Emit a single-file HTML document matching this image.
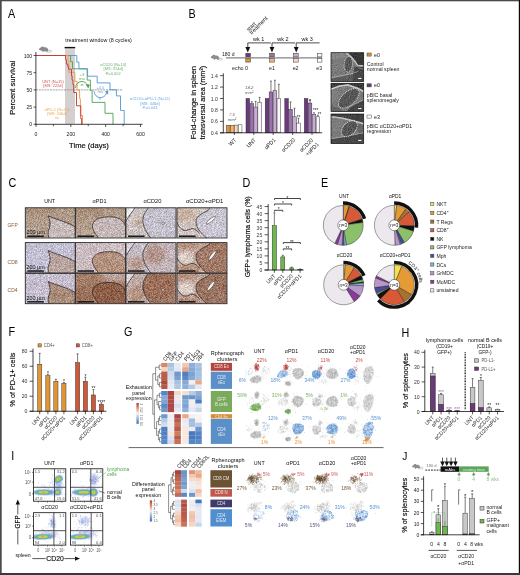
<!DOCTYPE html>
<html><head><meta charset="utf-8"><title>Figure</title>
<style>
html,body{margin:0;padding:0;background:#fff;}
body{width:520px;height:575px;overflow:hidden;}
svg{display:block;font-family:"Liberation Sans",sans-serif;}
</style></head><body>
<svg width="520" height="575" viewBox="0 0 520 575">
<defs><clipPath id="us0"><rect x="331" y="52.7" width="32.7" height="28.8"/></clipPath>
<linearGradient id="usg0" x1="0" y1="0" x2="0" y2="1"><stop offset="0" stop-color="#9a9a9a"/><stop offset="0.35" stop-color="#6c6c6c"/><stop offset="1" stop-color="#4a4a4a"/></linearGradient>
<clipPath id="us1"><rect x="331" y="83.3" width="32.7" height="28.3"/></clipPath>
<linearGradient id="usg1" x1="0" y1="0" x2="0" y2="1"><stop offset="0" stop-color="#9a9a9a"/><stop offset="0.35" stop-color="#6c6c6c"/><stop offset="1" stop-color="#4a4a4a"/></linearGradient>
<clipPath id="us2"><rect x="331" y="114" width="32.7" height="29.5"/></clipPath>
<linearGradient id="usg2" x1="0" y1="0" x2="0" y2="1"><stop offset="0" stop-color="#9a9a9a"/><stop offset="0.35" stop-color="#6c6c6c"/><stop offset="1" stop-color="#4a4a4a"/></linearGradient>
<filter id="usn" x="0" y="0" width="1" height="1" color-interpolation-filters="sRGB"><feTurbulence type="fractalNoise" baseFrequency="0.95" numOctaves="2" seed="3" result="n"/><feColorMatrix in="n" type="matrix" values="0.3 0 0 0 0.35  0.3 0 0 0 0.35  0.3 0 0 0 0.35  0 0 0 0 1" result="g"/><feComposite in="SourceGraphic" in2="g" operator="arithmetic" k1="0" k2="1" k3="1" k4="-0.5"/></filter>
<filter id="usnoise" x="0" y="0" width="1" height="1"><feTurbulence type="fractalNoise" baseFrequency="0.9" numOctaves="2" seed="3"/><feColorMatrix type="matrix" values="1.6 0 0 0 -0.3  1.6 0 0 0 -0.3  1.6 0 0 0 -0.3  0 0 0 0 0.55"/><feComposite in2="SourceGraphic" operator="in"/></filter>
<clipPath id="tileclip"><rect x="0" y="0" width="50" height="30"/></clipPath>
<clipPath id="reg2"><path d="M23.3 -1 C19 4 16.6 8.5 16.9 13 C17.2 19 20 24 25.6 31 L51 31 L51 -1 Z"/></clipPath>
<filter id="blur2" x="-0.5" y="-0.5" width="2" height="2"><feGaussianBlur stdDeviation="2.2"/></filter>
<filter id="tn0" x="0" y="0" width="1" height="1" color-interpolation-filters="sRGB"><feTurbulence type="fractalNoise" baseFrequency="1.5" numOctaves="1" seed="5" result="n"/><feColorMatrix in="n" type="matrix" values="0.5 0 0 0 0.25  0.58 0 0 0 0.21  0.64 0 0 0 0.18  0 0 0 0 1" result="g"/><feComposite in="SourceGraphic" in2="g" operator="arithmetic" k1="0" k2="1" k3="1" k4="-0.5"/></filter>
<filter id="tn1" x="0" y="0" width="1" height="1" color-interpolation-filters="sRGB"><feTurbulence type="fractalNoise" baseFrequency="1.5" numOctaves="1" seed="11" result="n"/><feColorMatrix in="n" type="matrix" values="0.5 0 0 0 0.25  0.58 0 0 0 0.21  0.64 0 0 0 0.18  0 0 0 0 1" result="g"/><feComposite in="SourceGraphic" in2="g" operator="arithmetic" k1="0" k2="1" k3="1" k4="-0.5"/></filter>
<filter id="tn2" x="0" y="0" width="1" height="1" color-interpolation-filters="sRGB"><feTurbulence type="fractalNoise" baseFrequency="1.5" numOctaves="1" seed="23" result="n"/><feColorMatrix in="n" type="matrix" values="0.5 0 0 0 0.25  0.58 0 0 0 0.21  0.64 0 0 0 0.18  0 0 0 0 1" result="g"/><feComposite in="SourceGraphic" in2="g" operator="arithmetic" k1="0" k2="1" k3="1" k4="-0.5"/></filter>
<clipPath id="fc0"><rect x="33.5" y="468.8" width="32.3" height="32.4"/></clipPath>
<clipPath id="fc1"><rect x="70.5" y="468.8" width="32.3" height="32.4"/></clipPath>
<clipPath id="fc2"><rect x="33.5" y="512.7" width="32.3" height="32.4"/></clipPath>
<clipPath id="fc3"><rect x="70.5" y="512.7" width="32.3" height="32.4"/></clipPath>
<filter id="blur07" x="-0.3" y="-0.3" width="1.6" height="1.6"><feGaussianBlur stdDeviation="0.6"/></filter>
<filter id="blur05" x="-0.5" y="-0.5" width="2" height="2"><feGaussianBlur stdDeviation="0.55"/></filter>
<filter id="blur1" x="-0.5" y="-0.5" width="2" height="2"><feGaussianBlur stdDeviation="1.2"/></filter>
<linearGradient id="cbar" x1="0" y1="0" x2="0" y2="1"><stop offset="0" stop-color="#a8403a"/><stop offset="0.3" stop-color="#e8a080"/><stop offset="0.5" stop-color="#f4efef"/><stop offset="0.7" stop-color="#9dbbe0"/><stop offset="1" stop-color="#3f6fb8"/></linearGradient></defs>
<rect x="0" y="0" width="520" height="575" fill="#fff"/>
<g id="pa">
<text transform="translate(8 18) scale(0.9 1)" font-size="12" fill="#000">A</text>
<text transform="translate(65.2 41.9) scale(0.98 1)" font-size="5.5" fill="#111">treatment window (8 cycles)</text>
<rect x="64.6" y="46.9" width="10.6" height="1.5" fill="#111"/>
<rect x="65" y="49.2" width="10" height="74.6" fill="#d5d0d0"/>
<g transform="translate(38.7 46) scale(1.03)"><path d="M0.2 3.3 C0.6 2.3 1.4 1.7 2.2 1.5 C2.4 0.6 3.2 0.2 3.8 0.7 C4.3 0.4 4.9 0.6 5 1.3 C6.2 1 7.8 1.3 8.7 2.5 C9.5 3.4 9.4 4.5 8.8 5.2 L8.2 5.6 L6.8 5.6 L6.9 5.0 L5 5.0 L4.6 5.7 L3.4 5.7 L3.6 4.8 C2.6 4.6 2.2 4.3 1.6 4.1 C1 4 0.4 3.9 0.2 3.3 Z" fill="#8a8a8a"/><path d="M8.6 4.7 C10.4 3.7 13 4.2 12.7 5.2 C12.4 6.2 9.6 6.2 8 5.5" fill="none" stroke="#8a8a8a" stroke-width="0.45"/></g>
<line x1="36" y1="89.9" x2="122" y2="89.9" stroke="#888" stroke-width="0.8" stroke-dasharray="2 0.8"/>
<path d="M36 55.5H70.6V61.7H72.5V68.8H87.2V80.1H90.4V90.4H92.1V102.4H105V113.3H113V124.2" fill="none" stroke="#4f9f4f" stroke-width="0.9"/>
<path d="M36 55.5H76.8V62.1H78.95V68.8H87.6V76.2H97.2V82.9H110V89.8H116.4V95.9H120.5V110.5H124.2V124.2" fill="none" stroke="#4f97d7" stroke-width="0.9"/>
<path d="M36 55.5H68V61.7H68.8V72.3H74.9V81.3H77.1V90H79.6V98.7H80.4V115.5H82.5V124.2" fill="none" stroke="#e89a3c" stroke-width="0.9"/>
<path d="M36 55.5H65.6V59.8H66.4V64.1H67.8V66.8H68.6V69.2H71.5V75.8H72.1V80.1H72.9V84.5H73.7V92.5H76.5V105.75H80.8V118.7H81.6V124.2" fill="none" stroke="#c83232" stroke-width="0.9"/>
<line x1="35.9" y1="52" x2="35.9" y2="124.6" stroke="#111" stroke-width="0.8"/>
<line x1="35.5" y1="124.3" x2="142.5" y2="124.3" stroke="#111" stroke-width="0.8"/>
<line x1="33.6" y1="55.5" x2="35.9" y2="55.5" stroke="#111" stroke-width="0.7"/>
<text transform="translate(32.2 57.5) scale(0.9 1)" font-size="5.7" fill="#222" text-anchor="end">100</text>
<line x1="33.6" y1="72.7" x2="35.9" y2="72.7" stroke="#111" stroke-width="0.7"/>
<text transform="translate(32.2 74.7) scale(0.9 1)" font-size="5.7" fill="#222" text-anchor="end">75</text>
<line x1="33.6" y1="89.9" x2="35.9" y2="89.9" stroke="#111" stroke-width="0.7"/>
<text transform="translate(32.2 91.9) scale(0.9 1)" font-size="5.7" fill="#222" text-anchor="end">50</text>
<line x1="33.6" y1="107.1" x2="35.9" y2="107.1" stroke="#111" stroke-width="0.7"/>
<text transform="translate(32.2 109.1) scale(0.9 1)" font-size="5.7" fill="#222" text-anchor="end">25</text>
<line x1="33.6" y1="124.3" x2="35.9" y2="124.3" stroke="#111" stroke-width="0.7"/>
<text transform="translate(32.2 126.3) scale(0.9 1)" font-size="5.7" fill="#222" text-anchor="end">0</text>
<line x1="36" y1="124.3" x2="36" y2="127" stroke="#111" stroke-width="0.7"/>
<text transform="translate(36 136.2) scale(0.9 1)" font-size="5.7" fill="#222" text-anchor="middle">0</text>
<line x1="53.42" y1="124.3" x2="53.42" y2="126.2" stroke="#111" stroke-width="0.7"/>
<line x1="70.84" y1="124.3" x2="70.84" y2="127" stroke="#111" stroke-width="0.7"/>
<text transform="translate(70.84 136.2) scale(0.9 1)" font-size="5.7" fill="#222" text-anchor="middle">200</text>
<line x1="88.26" y1="124.3" x2="88.26" y2="126.2" stroke="#111" stroke-width="0.7"/>
<line x1="105.68" y1="124.3" x2="105.68" y2="127" stroke="#111" stroke-width="0.7"/>
<text transform="translate(105.68 136.2) scale(0.9 1)" font-size="5.7" fill="#222" text-anchor="middle">400</text>
<line x1="123.1" y1="124.3" x2="123.1" y2="126.2" stroke="#111" stroke-width="0.7"/>
<line x1="140.52" y1="124.3" x2="140.52" y2="127" stroke="#111" stroke-width="0.7"/>
<text transform="translate(140.52 136.2) scale(0.9 1)" font-size="5.7" fill="#222" text-anchor="middle">600</text>
<text transform="translate(15.2 87.7) rotate(-90)" font-size="7.6" fill="#111" text-anchor="middle" stroke="#111" stroke-width="0.18">Percent survival</text>
<text transform="translate(89 147.6)" font-size="7.6" fill="#111" text-anchor="middle" stroke="#111" stroke-width="0.18">Time (days)</text>
<text transform="translate(53 82.6) scale(0.98 1)" font-size="4.1" fill="#c83232" text-anchor="middle" opacity="0.85">UNT (N=15)</text><text transform="translate(53 87) scale(0.98 1)" font-size="4.1" fill="#c83232" text-anchor="middle" opacity="0.85">[MS: 222d]</text>
<text transform="translate(57 110.6) scale(0.98 1)" font-size="4.1" fill="#e89a3c" text-anchor="middle" opacity="0.85">αPD-1 (N=12)</text><text transform="translate(57 115) scale(0.98 1)" font-size="4.1" fill="#e89a3c" text-anchor="middle" opacity="0.85">[MS: 246d]</text><text transform="translate(57 119.4) scale(0.98 1)" font-size="4.1" fill="#e89a3c" text-anchor="middle" opacity="0.85">ns</text>
<text transform="translate(113.2 66) scale(0.98 1)" font-size="4.1" fill="#4f9f4f" text-anchor="middle" opacity="0.85">αCD20 (N=10)</text><text transform="translate(113.2 70.4) scale(0.98 1)" font-size="4.1" fill="#4f9f4f" text-anchor="middle" opacity="0.85">[MS: 314d]</text><text transform="translate(113.2 74.8) scale(0.98 1)" font-size="4.1" fill="#4f9f4f" text-anchor="middle" opacity="0.85">P=0.002</text>
<text transform="translate(150 100.2) scale(0.98 1)" font-size="4.1" fill="#4f97d7" text-anchor="middle" opacity="0.85">αCD20+αPD-1 (N=12)</text><text transform="translate(150 104.6) scale(0.98 1)" font-size="4.1" fill="#4f97d7" text-anchor="middle" opacity="0.85">[MS: 446d]</text><text transform="translate(150 109) scale(0.98 1)" font-size="4.1" fill="#4f97d7" text-anchor="middle" opacity="0.85">P=0.043</text>
<text transform="translate(82 76) scale(0.98 1)" font-size="4.4" fill="#4f9f4f" text-anchor="middle" opacity="0.85">+3</text><text transform="translate(82 80.4) scale(0.98 1)" font-size="4.4" fill="#4f9f4f" text-anchor="middle" opacity="0.85">mo</text>
<text transform="translate(82 87.6) scale(0.9 1)" font-size="4.5" fill="#4f9f4f" text-anchor="middle">**</text>
<text transform="translate(100.3 89) scale(0.98 1)" font-size="4.3" fill="#4f97d7" text-anchor="middle" opacity="0.85">+4.5</text><text transform="translate(100.3 93.4) scale(0.98 1)" font-size="4.3" fill="#4f97d7" text-anchor="middle" opacity="0.85">mo</text>
<text transform="translate(99.8 101.8) scale(0.9 1)" font-size="5" fill="#4f97d7" text-anchor="middle">*</text>
<path d="M75.6 88 C75.8 80 86 79.5 87.6 86" fill="none" stroke="#4f9f4f" stroke-width="0.9"/>
<path d="M85.6 84.2 L89.8 84.6 L88.3 88.6 Z" fill="#4f9f4f"/>
<path d="M94 91 C95 99.4 104.4 99.6 106.8 92.8" fill="none" stroke="#4f97d7" stroke-width="0.9"/>
<path d="M104.8 91.6 L108.3 90.4 L108 94.6 Z" fill="#4f97d7"/>
</g>
<g id="pb">
<text transform="translate(188.6 17.8) scale(0.9 1)" font-size="12" fill="#000">B</text>
<g transform="translate(210.4 54.3) scale(0.96)"><path d="M0.2 3.3 C0.6 2.3 1.4 1.7 2.2 1.5 C2.4 0.6 3.2 0.2 3.8 0.7 C4.3 0.4 4.9 0.6 5 1.3 C6.2 1 7.8 1.3 8.7 2.5 C9.5 3.4 9.4 4.5 8.8 5.2 L8.2 5.6 L6.8 5.6 L6.9 5.0 L5 5.0 L4.6 5.7 L3.4 5.7 L3.6 4.8 C2.6 4.6 2.2 4.3 1.6 4.1 C1 4 0.4 3.9 0.2 3.3 Z" fill="#8d8d8d"/><path d="M8.6 4.7 C10.4 3.7 13 4.2 12.7 5.2 C12.4 6.2 9.6 6.2 8 5.5" fill="none" stroke="#8d8d8d" stroke-width="0.45"/></g>
<text transform="translate(222 55.5) scale(0.92 1)" font-size="5.5" fill="#222">180 d</text>
<line x1="226.4" y1="57.9" x2="246" y2="57.9" stroke="#333" stroke-width="1.1" stroke-dasharray="1.2 0.8"/>
<line x1="246" y1="57.9" x2="322" y2="57.9" stroke="#666" stroke-width="1"/>
<rect x="245.8" y="53.3" width="4.6" height="3.6" fill="#6b3a7d" stroke="#333" stroke-width="0.5"/>
<rect x="245.8" y="58.6" width="4.6" height="3.5" fill="#e0913a" stroke="#333" stroke-width="0.5"/>
<rect x="269.7" y="53.3" width="4.6" height="3.6" fill="#9a70ad" stroke="#333" stroke-width="0.5"/>
<rect x="269.7" y="58.6" width="4.6" height="3.5" fill="#f0b472" stroke="#333" stroke-width="0.5"/>
<rect x="293.6" y="53.3" width="4.6" height="3.6" fill="#c9abd6" stroke="#333" stroke-width="0.5"/>
<rect x="293.6" y="58.6" width="4.6" height="3.5" fill="#f8dab4" stroke="#333" stroke-width="0.5"/>
<rect x="317.3" y="53.3" width="4.6" height="3.6" fill="#fbf6fb" stroke="#333" stroke-width="0.5"/>
<rect x="317.3" y="58.6" width="4.6" height="3.5" fill="#ffffff" stroke="#333" stroke-width="0.5"/>
<path d="M247.8 48 V42.9 H270.8" fill="none" stroke="#111" stroke-width="0.75"/>
<path d="M245.4 47 L250.2 47 L247.8 52.6 Z" fill="#111"/>
<text transform="translate(258.7 40.5) scale(0.95 1)" font-size="5.8" fill="#111" text-anchor="middle">wk 1</text>
<path d="M272 48 V42.9 H295" fill="none" stroke="#111" stroke-width="0.75"/>
<path d="M269.6 47 L274.4 47 L272 52.6 Z" fill="#111"/>
<text transform="translate(282.9 40.5) scale(0.95 1)" font-size="5.8" fill="#111" text-anchor="middle">wk 2</text>
<path d="M296.2 48 V42.9 H319.6" fill="none" stroke="#111" stroke-width="0.75"/>
<path d="M293.8 47 L298.6 47 L296.2 52.6 Z" fill="#111"/>
<text transform="translate(307.1 40.5) scale(0.95 1)" font-size="5.8" fill="#111" text-anchor="middle">wk 3</text>
<text transform="translate(240 69.8) scale(0.95 1)" font-size="5.6" fill="#222" text-anchor="middle">echo 0</text>
<text transform="translate(272 69.8) scale(0.95 1)" font-size="5.6" fill="#222" text-anchor="middle">e1</text>
<text transform="translate(295.6 69.8) scale(0.95 1)" font-size="5.6" fill="#222" text-anchor="middle">e2</text>
<text transform="translate(319.3 69.8) scale(0.95 1)" font-size="5.6" fill="#222" text-anchor="middle">e3</text>
<text transform="translate(248.9 31.8) rotate(-45) scale(0.92 1)" font-size="5.8" fill="#111">start</text>
<text transform="translate(251.8 34.8) rotate(-45) scale(0.94 1)" font-size="5.8" fill="#111">treatment</text>
<rect x="226.5" y="125.37" width="3.6" height="7.43" fill="#e0913a" stroke="#2a2a2a" stroke-width="0.45"/>
<rect x="230.45" y="125.37" width="3.6" height="7.43" fill="#f0b472" stroke="#2a2a2a" stroke-width="0.45"/>
<rect x="234.4" y="125.08" width="3.6" height="7.72" fill="#f8dab4" stroke="#2a2a2a" stroke-width="0.45"/>
<rect x="238.35" y="124.8" width="3.6" height="8" fill="#ffffff" stroke="#2a2a2a" stroke-width="0.45"/>
<rect x="246" y="98.51" width="3.6" height="34.29" fill="#6b3a7d" stroke="#2a2a2a" stroke-width="0.45"/>
<line x1="251.75" y1="103.65" x2="251.75" y2="101.65" stroke="#222" stroke-width="0.6"/>
<line x1="250.85" y1="101.65" x2="252.65" y2="101.65" stroke="#222" stroke-width="0.6"/>
<rect x="249.95" y="103.65" width="3.6" height="29.15" fill="#9a70ad" stroke="#2a2a2a" stroke-width="0.45"/>
<line x1="255.7" y1="107.08" x2="255.7" y2="101.37" stroke="#222" stroke-width="0.6"/>
<line x1="254.8" y1="101.37" x2="256.6" y2="101.37" stroke="#222" stroke-width="0.6"/>
<rect x="253.9" y="107.08" width="3.6" height="25.72" fill="#c9abd6" stroke="#2a2a2a" stroke-width="0.45"/>
<line x1="259.65" y1="102.51" x2="259.65" y2="97.37" stroke="#222" stroke-width="0.6"/>
<line x1="258.75" y1="97.37" x2="260.55" y2="97.37" stroke="#222" stroke-width="0.6"/>
<rect x="257.85" y="102.51" width="3.6" height="30.29" fill="#fbf6fb" stroke="#2a2a2a" stroke-width="0.45"/>
<rect x="265.2" y="98.51" width="3.6" height="34.29" fill="#6b3a7d" stroke="#2a2a2a" stroke-width="0.45"/>
<line x1="270.95" y1="91.94" x2="270.95" y2="81.08" stroke="#222" stroke-width="0.6"/>
<line x1="270.05" y1="81.08" x2="271.85" y2="81.08" stroke="#222" stroke-width="0.6"/>
<rect x="269.15" y="91.94" width="3.6" height="40.86" fill="#9a70ad" stroke="#2a2a2a" stroke-width="0.45"/>
<line x1="274.9" y1="90.51" x2="274.9" y2="80.22" stroke="#222" stroke-width="0.6"/>
<line x1="274" y1="80.22" x2="275.8" y2="80.22" stroke="#222" stroke-width="0.6"/>
<rect x="273.1" y="90.51" width="3.6" height="42.29" fill="#c9abd6" stroke="#2a2a2a" stroke-width="0.45"/>
<line x1="278.85" y1="98.51" x2="278.85" y2="84.22" stroke="#222" stroke-width="0.6"/>
<line x1="277.95" y1="84.22" x2="279.75" y2="84.22" stroke="#222" stroke-width="0.6"/>
<rect x="277.05" y="98.51" width="3.6" height="34.29" fill="#fbf6fb" stroke="#2a2a2a" stroke-width="0.45"/>
<rect x="284.8" y="98.51" width="3.6" height="34.29" fill="#6b3a7d" stroke="#2a2a2a" stroke-width="0.45"/>
<line x1="290.55" y1="109.37" x2="290.55" y2="101.94" stroke="#222" stroke-width="0.6"/>
<line x1="289.65" y1="101.94" x2="291.45" y2="101.94" stroke="#222" stroke-width="0.6"/>
<rect x="288.75" y="109.37" width="3.6" height="23.43" fill="#9a70ad" stroke="#2a2a2a" stroke-width="0.45"/>
<line x1="294.5" y1="116.8" x2="294.5" y2="108.23" stroke="#222" stroke-width="0.6"/>
<line x1="293.6" y1="108.23" x2="295.4" y2="108.23" stroke="#222" stroke-width="0.6"/>
<rect x="292.7" y="116.8" width="3.6" height="16" fill="#c9abd6" stroke="#2a2a2a" stroke-width="0.45"/>
<line x1="298.45" y1="123.08" x2="298.45" y2="118.23" stroke="#222" stroke-width="0.6"/>
<line x1="297.55" y1="118.23" x2="299.35" y2="118.23" stroke="#222" stroke-width="0.6"/>
<rect x="296.65" y="123.08" width="3.6" height="9.72" fill="#fbf6fb" stroke="#2a2a2a" stroke-width="0.45"/>
<rect x="304.3" y="98.51" width="3.6" height="34.29" fill="#6b3a7d" stroke="#2a2a2a" stroke-width="0.45"/>
<line x1="310.05" y1="103.08" x2="310.05" y2="100.22" stroke="#222" stroke-width="0.6"/>
<line x1="309.15" y1="100.22" x2="310.95" y2="100.22" stroke="#222" stroke-width="0.6"/>
<rect x="308.25" y="103.08" width="3.6" height="29.72" fill="#9a70ad" stroke="#2a2a2a" stroke-width="0.45"/>
<line x1="314" y1="114.51" x2="314" y2="112.8" stroke="#222" stroke-width="0.6"/>
<line x1="313.1" y1="112.8" x2="314.9" y2="112.8" stroke="#222" stroke-width="0.6"/>
<rect x="312.2" y="114.51" width="3.6" height="18.29" fill="#c9abd6" stroke="#2a2a2a" stroke-width="0.45"/>
<line x1="317.95" y1="116.8" x2="317.95" y2="115.08" stroke="#222" stroke-width="0.6"/>
<line x1="317.05" y1="115.08" x2="318.85" y2="115.08" stroke="#222" stroke-width="0.6"/>
<rect x="316.15" y="116.8" width="3.6" height="16" fill="#fbf6fb" stroke="#2a2a2a" stroke-width="0.45"/>
<line x1="223.3" y1="73.3" x2="223.3" y2="133.2" stroke="#111" stroke-width="0.8"/>
<line x1="220" y1="132.8" x2="322.2" y2="132.8" stroke="#111" stroke-width="0.8"/>
<line x1="220" y1="132.8" x2="223.3" y2="132.8" stroke="#111" stroke-width="0.7"/>
<text transform="translate(217.8 134.8) scale(0.9 1)" font-size="5.7" fill="#333" text-anchor="end">0.4</text>
<line x1="220" y1="121.37" x2="223.3" y2="121.37" stroke="#111" stroke-width="0.7"/>
<text transform="translate(217.8 123.37) scale(0.9 1)" font-size="5.7" fill="#333" text-anchor="end">0.6</text>
<line x1="220" y1="109.94" x2="223.3" y2="109.94" stroke="#111" stroke-width="0.7"/>
<text transform="translate(217.8 111.94) scale(0.9 1)" font-size="5.7" fill="#333" text-anchor="end">0.8</text>
<line x1="220" y1="98.51" x2="223.3" y2="98.51" stroke="#111" stroke-width="0.7"/>
<text transform="translate(217.8 100.51) scale(0.9 1)" font-size="5.7" fill="#333" text-anchor="end">1.0</text>
<line x1="220" y1="87.08" x2="223.3" y2="87.08" stroke="#111" stroke-width="0.7"/>
<text transform="translate(217.8 89.08) scale(0.9 1)" font-size="5.7" fill="#333" text-anchor="end">1.2</text>
<line x1="220" y1="75.65" x2="223.3" y2="75.65" stroke="#111" stroke-width="0.7"/>
<text transform="translate(217.8 77.65) scale(0.9 1)" font-size="5.7" fill="#333" text-anchor="end">1.4</text>
<line x1="234.3" y1="132.8" x2="234.3" y2="135" stroke="#111" stroke-width="0.7"/>
<line x1="253.8" y1="132.8" x2="253.8" y2="135" stroke="#111" stroke-width="0.7"/>
<line x1="273.2" y1="132.8" x2="273.2" y2="135" stroke="#111" stroke-width="0.7"/>
<line x1="292.7" y1="132.8" x2="292.7" y2="135" stroke="#111" stroke-width="0.7"/>
<line x1="312" y1="132.8" x2="312" y2="135" stroke="#111" stroke-width="0.7"/>
<text transform="translate(195.8 102.6) rotate(-90) scale(0.98 1)" font-size="7.6" fill="#111" text-anchor="middle" stroke="#111" stroke-width="0.18">Fold-change in spleen</text>
<text transform="translate(204.6 102.6) rotate(-90) scale(0.96 1)" font-size="7.6" fill="#111" text-anchor="middle" stroke="#111" stroke-width="0.18">transversal area (mm²)</text>
<text transform="translate(232 116)" font-size="4.3" fill="#666" text-anchor="middle" font-style="italic">7.5</text>
<text transform="translate(232 120.6)" font-size="4.3" fill="#666" text-anchor="middle" font-style="italic">mm²</text>
<text transform="translate(249.2 89.4)" font-size="4.3" fill="#666" text-anchor="middle" font-style="italic">14.2</text>
<text transform="translate(249.2 94)" font-size="4.3" fill="#666" text-anchor="middle" font-style="italic">mm²</text>
<text transform="translate(236.9 140.4) rotate(-45) scale(0.93 1)" font-size="5.7" fill="#222" text-anchor="end">WT</text>
<text transform="translate(256.4 140.4) rotate(-45) scale(0.93 1)" font-size="5.7" fill="#222" text-anchor="end">UNT</text>
<text transform="translate(276.1 140.4) rotate(-45) scale(0.93 1)" font-size="5.7" fill="#222" text-anchor="end">αPD1</text>
<text transform="translate(295.6 140.4) rotate(-45) scale(0.93 1)" font-size="5.7" fill="#222" text-anchor="end">αCD20</text>
<text transform="translate(313.6 140.6) rotate(-45) scale(0.93 1)" font-size="5.7" fill="#222" text-anchor="end">αCD20</text>
<text transform="translate(319.4 144.6) rotate(-45) scale(0.93 1)" font-size="5.7" fill="#222" text-anchor="end">+αPD1</text>
<text transform="translate(298.6 119) scale(0.85 1)" font-size="5.6" fill="#222" text-anchor="middle">**</text>
<text transform="translate(310.1 103.2)" font-size="5.6" fill="#222" text-anchor="middle">*</text>
<text transform="translate(315.6 112.2) scale(0.8 1)" font-size="5.6" fill="#222" text-anchor="middle">***</text>
<text transform="translate(319.6 115.6) scale(0.8 1)" font-size="5.6" fill="#222" text-anchor="middle">**</text>
<g clip-path="url(#us0)"><g filter="url(#usn)">
<rect x="331" y="52.7" width="32.7" height="28.8" fill="#7a7a7a"/>
<path d="M347.67 52.5 L351.33 56.67 L355.5 61.67 L357.67 65.33 L363.83 65.33 L363.83 52.5 Z" fill="#2e2e2e" opacity="0.85" filter="url(#blur07)"/>
<path d="M354.67 66.67 L363.83 66.67 L363.83 82.5 L353 82.5 L353 75 Z" fill="#3a3a3a" opacity="0.8" filter="url(#blur07)"/>
<path d="M330.5 78.33 L353 74.17 L353 82.5 L330.5 82.5 Z" fill="#484848" opacity="0.6" filter="url(#blur07)"/>
<path d="M330.5 52.5 L348 52.5 L346.33 56.67 L330.5 60 Z" fill="#8c8c8c" opacity="0.7" filter="url(#blur07)"/>
<path d="M346.67 53.33 L351.33 57 L355.5 62 L357.67 65.5 L363.67 65.83" fill="none" stroke="#e0e0e0" stroke-width="1.3" opacity="0.8" stroke-linecap="round" stroke-linejoin="round" filter="url(#blur07)"/>
<path d="M331 78 L343 75.33 L353 73.33 L358 71.33" fill="none" stroke="#c4c4c4" stroke-width="1" opacity="0.6" stroke-linecap="round" stroke-linejoin="round" filter="url(#blur07)"/>
<path d="M357.67 66 L359.67 68.33 L363.67 68.67" fill="none" stroke="#9a9a9a" stroke-width="1" opacity="0.6" stroke-linecap="round" stroke-linejoin="round" filter="url(#blur07)"/>
<ellipse cx="348.3" cy="64.2" rx="4.1" ry="7.8" transform="rotate(6 348.3 64.2)" fill="#2c2c2c" fill-opacity="0.45"/>
</g>
<ellipse cx="348.3" cy="64.2" rx="4.1" ry="7.8" transform="rotate(6 348.3 64.2)" fill="none" stroke="#f6dede" stroke-width="0.95" stroke-dasharray="0.85 0.95"/>
<rect x="358.2" y="77.9" width="3.2" height="1.1" fill="#fff"/>
</g>
<rect x="331" y="52.7" width="32.7" height="28.8" fill="none" stroke="#111" stroke-width="0.7"/>
<g clip-path="url(#us1)"><g filter="url(#usn)">
<rect x="331" y="83.3" width="32.7" height="28.3" fill="#7a7a7a"/>
<path d="M330.5 82.5 L363.83 82.5 L363.83 90 L356.33 87 L348 84.33 L339.67 85.33 L330.5 88.67 Z" fill="#303030" opacity="0.85" filter="url(#blur07)"/>
<path d="M331 89.33 L339.67 86 L348 85 L356.33 87.67 L363.67 91.67" fill="none" stroke="#dedede" stroke-width="1.6" opacity="0.8" stroke-linecap="round" stroke-linejoin="round" filter="url(#blur07)"/>
<path d="M350.5 106.67 L363.83 100 L363.83 112 L346.33 112 Z" fill="#383838" opacity="0.8" filter="url(#blur07)"/>
<path d="M348 107.5 L355.5 103.67 L363.67 99.67" fill="none" stroke="#bcbcbc" stroke-width="1" opacity="0.6" stroke-linecap="round" stroke-linejoin="round" filter="url(#blur07)"/>
<path d="M330.5 91.67 L338 91.67 L334.67 100 L330.5 101.67 Z" fill="#888" opacity="0.5" filter="url(#blur07)"/>
<path d="M330.5 105.83 L339.67 108.33 L344.67 112 L330.5 112 Z" fill="#555" opacity="0.6" filter="url(#blur07)"/>
<ellipse cx="348.8" cy="98.3" rx="12.6" ry="6.6" transform="rotate(-42 348.8 98.3)" fill="#2c2c2c" fill-opacity="0.45"/>
</g>
<ellipse cx="348.8" cy="98.3" rx="12.6" ry="6.6" transform="rotate(-42 348.8 98.3)" fill="none" stroke="#f6dede" stroke-width="0.95" stroke-dasharray="0.85 0.95"/>
<rect x="358.2" y="108" width="3.2" height="1.1" fill="#fff"/>
</g>
<rect x="331" y="83.3" width="32.7" height="28.3" fill="none" stroke="#111" stroke-width="0.7"/>
<g clip-path="url(#us2)"><g filter="url(#usn)">
<rect x="331" y="114" width="32.7" height="29.5" fill="#7a7a7a"/>
<path d="M330.5 113.33 L363.83 113.33 L363.83 122.67 L353 120 L341.33 117.33 L330.5 116 Z" fill="#363636" opacity="0.8" filter="url(#blur07)"/>
<path d="M331 116.67 L341.33 118 L353 120.67 L363.67 123.67" fill="none" stroke="#d8d8d8" stroke-width="1.5" opacity="0.75" stroke-linecap="round" stroke-linejoin="round" filter="url(#blur07)"/>
<path d="M330.5 139.17 L346.33 136.67 L363.83 133 L363.83 143.67 L330.5 143.67 Z" fill="#3a3a3a" opacity="0.8" filter="url(#blur07)"/>
<path d="M331 138.67 L346.33 136.17 L363.67 132.67" fill="none" stroke="#b8b8b8" stroke-width="1" opacity="0.6" stroke-linecap="round" stroke-linejoin="round" filter="url(#blur07)"/>
<path d="M330.5 120 L341.33 120.83 L339.67 133.33 L330.5 135 Z" fill="#7e7e7e" opacity="0.5" filter="url(#blur07)"/>
<path d="M354.67 123.33 L363.83 125 L363.83 132.5 L358.83 133.33 Z" fill="#5a5a5a" opacity="0.6" filter="url(#blur07)"/>
<ellipse cx="349.3" cy="128.7" rx="9.6" ry="6" transform="rotate(-45 349.3 128.7)" fill="#2c2c2c" fill-opacity="0.45"/>
</g>
<ellipse cx="349.3" cy="128.7" rx="9.6" ry="6" transform="rotate(-45 349.3 128.7)" fill="none" stroke="#f6dede" stroke-width="0.95" stroke-dasharray="0.85 0.95"/>
<rect x="358.2" y="139.9" width="3.2" height="1.1" fill="#fff"/>
</g>
<rect x="331" y="114" width="32.7" height="29.5" fill="none" stroke="#111" stroke-width="0.7"/>
<rect x="367" y="53" width="4.2" height="3.1" fill="#e0913a" stroke="#333" stroke-width="0.45"/>
<text transform="translate(374 56.6) scale(0.95 1)" font-size="5.6" fill="#222">e0</text>
<text transform="translate(366.8 66.2) scale(0.93 1)" font-size="5.6" fill="#222">Control</text>
<text transform="translate(366.8 71.4) scale(0.93 1)" font-size="5.6" fill="#222">normal spleen</text>
<rect x="367" y="83.8" width="4.2" height="3.1" fill="#6b3a7d" stroke="#333" stroke-width="0.45"/>
<text transform="translate(374 87.4) scale(0.95 1)" font-size="5.6" fill="#222">e0</text>
<text transform="translate(366.8 97) scale(0.93 1)" font-size="5.6" fill="#222">pBIC basal</text>
<text transform="translate(366.8 102.2) scale(0.93 1)" font-size="5.6" fill="#222">splenomegaly</text>
<rect x="367" y="115" width="4.2" height="3.1" fill="#fff" stroke="#333" stroke-width="0.45"/>
<text transform="translate(374 118.6) scale(0.95 1)" font-size="5.6" fill="#222">e3</text>
<text transform="translate(366.8 128.2) scale(0.93 1)" font-size="5.6" fill="#222">pBIC αCD20+αPD1</text>
<text transform="translate(366.8 133.4) scale(0.93 1)" font-size="5.6" fill="#222">regression</text>
</g>
<g id="pc">
<text transform="translate(8.4 186.8) scale(0.9 1)" font-size="12" fill="#000">C</text>
<text transform="translate(49.6 203) scale(0.89 1)" font-size="6" fill="#111" text-anchor="middle">UNT</text>
<text transform="translate(99.5 203) scale(0.92 1)" font-size="6" fill="#111" text-anchor="middle">αPD1</text>
<text transform="translate(152.5 203) scale(0.96 1)" font-size="6" fill="#111" text-anchor="middle">αCD20</text>
<text transform="translate(204.6 203) scale(1 1)" font-size="6" fill="#111" text-anchor="middle">αCD20+αPD1</text>
<text transform="translate(12.6 226.6) scale(0.86 1)" font-size="5.8" fill="#8a5a3a" text-anchor="middle">GFP</text>
<text transform="translate(12.6 264.2) scale(0.88 1)" font-size="5.8" fill="#8a5a3a" text-anchor="middle">CD8</text>
<text transform="translate(12.6 291.6) scale(0.88 1)" font-size="5.8" fill="#8a5a3a" text-anchor="middle">CD4</text>
<g transform="translate(25.3 207.8) scale(1 1.01)" clip-path="url(#tileclip)">
<g filter="url(#tn0)">
<rect x="0" y="0" width="50" height="30" fill="#b09b8a"/>
<ellipse cx="8" cy="27" rx="14" ry="7" fill="#c4b2a4" opacity="0.5" filter="url(#blur2)"/>
<ellipse cx="14" cy="2" rx="16" ry="6" fill="#a08068" opacity="0.45" filter="url(#blur2)"/>
<path d="M22.8 8 C27 10 36 12.6 41 14.6 C45 16.2 48 17.6 50 19 L50 31 L24.5 31 C21.5 26.5 23.2 23 24.4 19 C25.4 15 24.2 11.5 22.8 8 Z" fill="#c6b9ba"/>
</g>
<path d="M22.8 8 C27 10 36 12.6 41 14.6 C45 16.2 48 17.6 50 19 L50 31 L24.5 31 C21.5 26.5 23.2 23 24.4 19 C25.4 15 24.2 11.5 22.8 8 Z" fill="none" stroke="#241e1c" stroke-width="0.7"/>
<rect x="2" y="27.4" width="16.6" height="1.5" fill="#1a1a1a"/>
</g>
<text transform="translate(26.5 233.8) scale(1.05 1)" font-size="5.2" fill="#111">200 µm</text>
<rect x="25.3" y="207.8" width="49.9" height="30.2" fill="none" stroke="#333" stroke-width="0.9"/>
<g transform="translate(75.5 207.8) scale(1 1.01)" clip-path="url(#tileclip)">
<g filter="url(#tn1)">
<rect x="0" y="0" width="50" height="30" fill="#af9988"/>
<ellipse cx="8" cy="27" rx="14" ry="7" fill="#c4b2a4" opacity="0.5" filter="url(#blur2)"/>
<ellipse cx="14" cy="2" rx="16" ry="6" fill="#a08068" opacity="0.45" filter="url(#blur2)"/>
<path d="M23.9 31 C20.5 27 17.4 22.5 16.9 19 C16.6 14.5 20 11.5 24.5 10 C30 8.6 38 8.6 42 10 C46.5 11.6 48.6 14.5 50 17.8 L50 31 Z" fill="#c5b7b8"/>
</g>
<path d="M23.9 31 C20.5 27 17.4 22.5 16.9 19 C16.6 14.5 20 11.5 24.5 10 C30 8.6 38 8.6 42 10 C46.5 11.6 48.6 14.5 50 17.8 L50 31 Z" fill="none" stroke="#241e1c" stroke-width="0.7"/>
<rect x="2" y="27.4" width="16.6" height="1.5" fill="#1a1a1a"/>
</g>
<rect x="75.5" y="207.8" width="50" height="30.2" fill="none" stroke="#333" stroke-width="0.9"/>
<g transform="translate(126 207.8) scale(1 1.01)" clip-path="url(#tileclip)">
<g filter="url(#tn2)">
<rect x="0" y="0" width="50" height="30" fill="#cdc3c4"/>
<ellipse cx="12.6" cy="14.6" rx="4.2" ry="5.6" fill="#b9906f" opacity="0.42" filter="url(#blur2)"/>
<path d="M-1 -1 L9.5 -1 C7 3.5 4 6 2.6 9 C1.4 11 0.6 12.5 -1 14 Z" fill="#f2f0f2"/>
<path d="M23.3 -1 C19 4 16.6 8.5 16.9 13 C17.2 19 20 24 25.6 31 L51 31 L51 -1 Z" fill="#c5c1cd"/>
</g>
<path d="M23.3 -1 C19 4 16.6 8.5 16.9 13 C17.2 19 20 24 25.6 31 L51 31 L51 -1 Z" fill="none" stroke="#241e1c" stroke-width="0.7"/>
<path d="M9.5 -1 C7 3.5 4 6 2.6 9 C1.4 11 0.6 12.5 -1 14" fill="none" stroke="#241e1c" stroke-width="0.7"/>
<circle cx="37" cy="15.4" r="1.15" fill="#f4f2f3" stroke="#2a2420" stroke-width="0.45"/>
<rect x="2" y="27.4" width="16.6" height="1.5" fill="#1a1a1a"/>
</g>
<rect x="126" y="207.8" width="50" height="30.2" fill="none" stroke="#333" stroke-width="0.9"/>
<g transform="translate(177 207.8) scale(1 1.01)" clip-path="url(#tileclip)">
<g filter="url(#tn0)">
<rect x="0" y="0" width="50" height="30" fill="#cfc4c2"/>
<ellipse cx="8" cy="6" rx="12" ry="9" fill="#c2a084" opacity="0.45" filter="url(#blur2)"/>
<path d="M31.7 -1 C35 1.5 29 3.6 25.5 5.5 C21 8 19 10.5 19 13.8 C19 18.5 22 22.5 25.4 26 C27.5 28 29 29.5 30.9 31 L51 31 L51 -1 Z" fill="#c8c4d0"/>
</g>
<path d="M31.7 -1 C35 1.5 29 3.6 25.5 5.5 C21 8 19 10.5 19 13.8 C19 18.5 22 22.5 25.4 26 C27.5 28 29 29.5 30.9 31 L51 31 L51 -1 Z" fill="none" stroke="#241e1c" stroke-width="0.7"/>
<path d="M-1 13 C1 17 2.6 20.4 6 22 C9.5 23.6 12.5 21 15 20.6 C18 20.4 20.5 23.5 22.6 25.2" fill="none" stroke="#241e1c" stroke-width="0.7"/>
<ellipse cx="33.8" cy="12.3" rx="5.8" ry="1.45" transform="rotate(-38 33.8 12.3)" fill="#f6f4f4" stroke="#2a2420" stroke-width="0.45"/>
<rect x="2" y="27.4" width="16.6" height="1.5" fill="#1a1a1a"/>
</g>
<rect x="177" y="207.8" width="50" height="30.2" fill="none" stroke="#333" stroke-width="0.9"/>
<g transform="translate(25.3 242.6) scale(1 1.01)" clip-path="url(#tileclip)">
<g filter="url(#tn1)">
<rect x="0" y="0" width="50" height="30" fill="#c4c0d4"/>
<path d="M22.8 8 C27 10 36 12.6 41 14.6 C45 16.2 48 17.6 50 19 L50 31 L24.5 31 C21.5 26.5 23.2 23 24.4 19 C25.4 15 24.2 11.5 22.8 8 Z" fill="#b8a49e"/>
</g>
<path d="M22.8 8 C27 10 36 12.6 41 14.6 C45 16.2 48 17.6 50 19 L50 31 L24.5 31 C21.5 26.5 23.2 23 24.4 19 C25.4 15 24.2 11.5 22.8 8 Z" fill="none" stroke="#241e1c" stroke-width="0.7"/>
<rect x="2" y="27.4" width="16.6" height="1.5" fill="#1a1a1a"/>
</g>
<text transform="translate(26.5 268.8) scale(1.05 1)" font-size="5.2" fill="#111">200 µm</text>
<rect x="25.3" y="242.6" width="49.9" height="30.4" fill="none" stroke="#333" stroke-width="0.9"/>
<g transform="translate(75.5 242.6) scale(1 1.01)" clip-path="url(#tileclip)">
<g filter="url(#tn2)">
<rect x="0" y="0" width="50" height="30" fill="#cbbcc1"/>
<path d="M23.9 31 C20.5 27 17.4 22.5 16.9 19 C16.6 14.5 20 11.5 24.5 10 C30 8.6 38 8.6 42 10 C46.5 11.6 48.6 14.5 50 17.8 L50 31 Z" fill="#b3927f"/>
</g>
<path d="M23.9 31 C20.5 27 17.4 22.5 16.9 19 C16.6 14.5 20 11.5 24.5 10 C30 8.6 38 8.6 42 10 C46.5 11.6 48.6 14.5 50 17.8 L50 31 Z" fill="none" stroke="#241e1c" stroke-width="0.7"/>
<rect x="2" y="27.4" width="16.6" height="1.5" fill="#1a1a1a"/>
</g>
<rect x="75.5" y="242.6" width="50" height="30.4" fill="none" stroke="#333" stroke-width="0.9"/>
<g transform="translate(126 242.6) scale(1 1.01)" clip-path="url(#tileclip)">
<g filter="url(#tn0)">
<rect x="0" y="0" width="50" height="30" fill="#c6bec8"/>
<ellipse cx="10" cy="22" rx="9" ry="9" fill="#a87a5c" opacity="0.5" filter="url(#blur2)"/>
<path d="M-1 -1 L9.5 -1 C7 3.5 4 6 2.6 9 C1.4 11 0.6 12.5 -1 14 Z" fill="#ddd6dc"/>
<path d="M23.3 -1 C19 4 16.6 8.5 16.9 13 C17.2 19 20 24 25.6 31 L51 31 L51 -1 Z" fill="#c2b4b9"/>
<g clip-path="url(#reg2)"><ellipse cx="29" cy="12" rx="10" ry="10" fill="#a67a66" opacity="0.55" filter="url(#blur2)"/></g>
</g>
<path d="M23.3 -1 C19 4 16.6 8.5 16.9 13 C17.2 19 20 24 25.6 31 L51 31 L51 -1 Z" fill="none" stroke="#241e1c" stroke-width="0.7"/>
<path d="M9.5 -1 C7 3.5 4 6 2.6 9 C1.4 11 0.6 12.5 -1 14" fill="none" stroke="#241e1c" stroke-width="0.7"/>
<circle cx="37" cy="14.3" r="1.15" fill="#f4f2f3" stroke="#2a2420" stroke-width="0.45"/>
<rect x="2" y="27.4" width="16.6" height="1.5" fill="#1a1a1a"/>
</g>
<rect x="126" y="242.6" width="50" height="30.4" fill="none" stroke="#333" stroke-width="0.9"/>
<g transform="translate(177 242.6) scale(1 1.01)" clip-path="url(#tileclip)">
<g filter="url(#tn1)">
<rect x="0" y="0" width="50" height="30" fill="#c0a498"/>
<ellipse cx="9" cy="15" rx="9" ry="6.5" fill="#f0ecec" opacity="0.6" filter="url(#blur2)"/>
<ellipse cx="10" cy="28" rx="14" ry="4.5" fill="#a6725a" opacity="0.55" filter="url(#blur2)"/>
<ellipse cx="8" cy="1" rx="14" ry="5" fill="#a6725a" opacity="0.45" filter="url(#blur2)"/>
<path d="M31.7 -1 C35 1.5 29 3.6 25.5 5.5 C21 8 19 10.5 19 13.8 C19 18.5 22 22.5 25.4 26 C27.5 28 29 29.5 30.9 31 L51 31 L51 -1 Z" fill="#a17a68"/>
</g>
<path d="M31.7 -1 C35 1.5 29 3.6 25.5 5.5 C21 8 19 10.5 19 13.8 C19 18.5 22 22.5 25.4 26 C27.5 28 29 29.5 30.9 31 L51 31 L51 -1 Z" fill="none" stroke="#241e1c" stroke-width="0.7"/>
<path d="M-1 13 C1 17 2.6 20.4 6 22 C9.5 23.6 12.5 21 15 20.6 C18 20.4 20.5 23.5 22.6 25.2" fill="none" stroke="#241e1c" stroke-width="0.7"/>
<ellipse cx="35.4" cy="12.7" rx="5.8" ry="1.45" transform="rotate(-52 35.4 12.7)" fill="#f6f4f4" stroke="#2a2420" stroke-width="0.45"/>
<rect x="2" y="27.4" width="16.6" height="1.5" fill="#1a1a1a"/>
</g>
<rect x="177" y="242.6" width="50" height="30.4" fill="none" stroke="#333" stroke-width="0.9"/>
<g transform="translate(25.3 273.4) scale(1 1.01)" clip-path="url(#tileclip)">
<g filter="url(#tn2)">
<rect x="0" y="0" width="50" height="30" fill="#c6bece"/>
<path d="M22.8 8 C27 10 36 12.6 41 14.6 C45 16.2 48 17.6 50 19 L50 31 L24.5 31 C21.5 26.5 23.2 23 24.4 19 C25.4 15 24.2 11.5 22.8 8 Z" fill="#a98b7a"/>
</g>
<path d="M22.8 8 C27 10 36 12.6 41 14.6 C45 16.2 48 17.6 50 19 L50 31 L24.5 31 C21.5 26.5 23.2 23 24.4 19 C25.4 15 24.2 11.5 22.8 8 Z" fill="none" stroke="#241e1c" stroke-width="0.7"/>
<rect x="2" y="27.4" width="16.6" height="1.5" fill="#1a1a1a"/>
</g>
<text transform="translate(26.5 299.5) scale(1.05 1)" font-size="5.2" fill="#111">200 µm</text>
<rect x="25.3" y="273.4" width="49.9" height="30.3" fill="none" stroke="#333" stroke-width="0.9"/>
<g transform="translate(75.5 273.4) scale(1 1.01)" clip-path="url(#tileclip)">
<g filter="url(#tn0)">
<rect x="0" y="0" width="50" height="30" fill="#a27c66"/>
<ellipse cx="40" cy="2" rx="14" ry="6" fill="#cbbcc4" opacity="0.6" filter="url(#blur2)"/><ellipse cx="6" cy="22" rx="10" ry="9" fill="#8e6049" opacity="0.45" filter="url(#blur2)"/>
<path d="M23.9 31 C20.5 27 17.4 22.5 16.9 19 C16.6 14.5 20 11.5 24.5 10 C30 8.6 38 8.6 42 10 C46.5 11.6 48.6 14.5 50 17.8 L50 31 Z" fill="#8e6049"/>
</g>
<path d="M23.9 31 C20.5 27 17.4 22.5 16.9 19 C16.6 14.5 20 11.5 24.5 10 C30 8.6 38 8.6 42 10 C46.5 11.6 48.6 14.5 50 17.8 L50 31 Z" fill="none" stroke="#241e1c" stroke-width="0.7"/>
<rect x="2" y="27.4" width="16.6" height="1.5" fill="#1a1a1a"/>
</g>
<rect x="75.5" y="273.4" width="50" height="30.3" fill="none" stroke="#333" stroke-width="0.9"/>
<g transform="translate(126 273.4) scale(1 1.01)" clip-path="url(#tileclip)">
<g filter="url(#tn1)">
<rect x="0" y="0" width="50" height="30" fill="#bfaaa6"/>
<ellipse cx="10" cy="22" rx="9" ry="9" fill="#a87a5c" opacity="0.5" filter="url(#blur2)"/>
<path d="M-1 -1 L9.5 -1 C7 3.5 4 6 2.6 9 C1.4 11 0.6 12.5 -1 14 Z" fill="#ddd6dc"/>
<path d="M23.3 -1 C19 4 16.6 8.5 16.9 13 C17.2 19 20 24 25.6 31 L51 31 L51 -1 Z" fill="#9e7967"/>
<g clip-path="url(#reg2)"><ellipse cx="32" cy="13" rx="15" ry="14" fill="#9a6a54" opacity="0.7" filter="url(#blur2)"/></g>
</g>
<path d="M23.3 -1 C19 4 16.6 8.5 16.9 13 C17.2 19 20 24 25.6 31 L51 31 L51 -1 Z" fill="none" stroke="#241e1c" stroke-width="0.7"/>
<path d="M9.5 -1 C7 3.5 4 6 2.6 9 C1.4 11 0.6 12.5 -1 14" fill="none" stroke="#241e1c" stroke-width="0.7"/>
<circle cx="37" cy="16.4" r="1.15" fill="#f4f2f3" stroke="#2a2420" stroke-width="0.45"/>
<rect x="2" y="27.4" width="16.6" height="1.5" fill="#1a1a1a"/>
</g>
<rect x="126" y="273.4" width="50" height="30.3" fill="none" stroke="#333" stroke-width="0.9"/>
<g transform="translate(177 273.4) scale(1 1.01)" clip-path="url(#tileclip)">
<g filter="url(#tn2)">
<rect x="0" y="0" width="50" height="30" fill="#c0a69a"/>
<ellipse cx="9" cy="15" rx="9" ry="6.5" fill="#f0ecec" opacity="0.6" filter="url(#blur2)"/>
<ellipse cx="10" cy="28" rx="14" ry="4.5" fill="#a6725a" opacity="0.55" filter="url(#blur2)"/>
<ellipse cx="8" cy="1" rx="14" ry="5" fill="#a6725a" opacity="0.45" filter="url(#blur2)"/>
<path d="M31.7 -1 C35 1.5 29 3.6 25.5 5.5 C21 8 19 10.5 19 13.8 C19 18.5 22 22.5 25.4 26 C27.5 28 29 29.5 30.9 31 L51 31 L51 -1 Z" fill="#9a7361"/>
</g>
<path d="M31.7 -1 C35 1.5 29 3.6 25.5 5.5 C21 8 19 10.5 19 13.8 C19 18.5 22 22.5 25.4 26 C27.5 28 29 29.5 30.9 31 L51 31 L51 -1 Z" fill="none" stroke="#241e1c" stroke-width="0.7"/>
<path d="M-1 13 C1 17 2.6 20.4 6 22 C9.5 23.6 12.5 21 15 20.6 C18 20.4 20.5 23.5 22.6 25.2" fill="none" stroke="#241e1c" stroke-width="0.7"/>
<ellipse cx="33.9" cy="12.5" rx="5.8" ry="1.45" transform="rotate(-52 33.9 12.5)" fill="#f6f4f4" stroke="#2a2420" stroke-width="0.45"/>
<rect x="2" y="27.4" width="16.6" height="1.5" fill="#1a1a1a"/>
</g>
<rect x="177" y="273.4" width="50" height="30.3" fill="none" stroke="#333" stroke-width="0.9"/>
</g>
<g id="pd">
<text transform="translate(242.6 186.8) scale(0.9 1)" font-size="12" fill="#000">D</text>
<line x1="274.35" y1="225.59" x2="274.35" y2="212.9" stroke="#222" stroke-width="0.6"/>
<line x1="273.35" y1="212.9" x2="275.35" y2="212.9" stroke="#222" stroke-width="0.6"/>
<rect x="272.2" y="225.59" width="4.3" height="44.41" fill="#6db650" stroke="#2a2a2a" stroke-width="0.45"/>
<line x1="282.8" y1="256.89" x2="282.8" y2="255.19" stroke="#222" stroke-width="0.6"/>
<line x1="281.8" y1="255.19" x2="283.8" y2="255.19" stroke="#222" stroke-width="0.6"/>
<rect x="280.8" y="256.89" width="4" height="13.11" fill="#6db650" stroke="#2a2a2a" stroke-width="0.45"/>
<line x1="291.65" y1="267.88" x2="291.65" y2="267.18" stroke="#222" stroke-width="0.6"/>
<line x1="290.65" y1="267.18" x2="292.65" y2="267.18" stroke="#222" stroke-width="0.6"/>
<rect x="289.8" y="267.88" width="3.7" height="2.12" fill="#6db650" stroke="#2a2a2a" stroke-width="0.45"/>
<line x1="300.1" y1="269.3" x2="300.1" y2="269.01" stroke="#222" stroke-width="0.6"/>
<line x1="299.1" y1="269.01" x2="301.1" y2="269.01" stroke="#222" stroke-width="0.6"/>
<rect x="297.9" y="269.3" width="4.4" height="0.7" fill="#6db650" stroke="#2a2a2a" stroke-width="0.45"/>
<line x1="268.2" y1="204" x2="268.2" y2="270.4" stroke="#111" stroke-width="0.8"/>
<line x1="264.6" y1="270" x2="303.6" y2="270" stroke="#111" stroke-width="0.8"/>
<line x1="264.6" y1="270" x2="268.2" y2="270" stroke="#111" stroke-width="0.7"/>
<text transform="translate(262.2 272) scale(0.9 1)" font-size="5.6" fill="#333" text-anchor="end">0</text>
<line x1="264.6" y1="262.95" x2="268.2" y2="262.95" stroke="#111" stroke-width="0.7"/>
<text transform="translate(262.2 264.95) scale(0.9 1)" font-size="5.6" fill="#333" text-anchor="end">5</text>
<line x1="264.6" y1="255.9" x2="268.2" y2="255.9" stroke="#111" stroke-width="0.7"/>
<text transform="translate(262.2 257.9) scale(0.9 1)" font-size="5.6" fill="#333" text-anchor="end">10</text>
<line x1="264.6" y1="248.85" x2="268.2" y2="248.85" stroke="#111" stroke-width="0.7"/>
<text transform="translate(262.2 250.85) scale(0.9 1)" font-size="5.6" fill="#333" text-anchor="end">15</text>
<line x1="264.6" y1="241.8" x2="268.2" y2="241.8" stroke="#111" stroke-width="0.7"/>
<text transform="translate(262.2 243.8) scale(0.9 1)" font-size="5.6" fill="#333" text-anchor="end">20</text>
<line x1="264.6" y1="234.75" x2="268.2" y2="234.75" stroke="#111" stroke-width="0.7"/>
<text transform="translate(262.2 236.75) scale(0.9 1)" font-size="5.6" fill="#333" text-anchor="end">25</text>
<line x1="264.6" y1="227.7" x2="268.2" y2="227.7" stroke="#111" stroke-width="0.7"/>
<text transform="translate(262.2 229.7) scale(0.9 1)" font-size="5.6" fill="#333" text-anchor="end">30</text>
<line x1="264.6" y1="220.65" x2="268.2" y2="220.65" stroke="#111" stroke-width="0.7"/>
<text transform="translate(262.2 222.65) scale(0.9 1)" font-size="5.6" fill="#333" text-anchor="end">35</text>
<line x1="264.6" y1="213.6" x2="268.2" y2="213.6" stroke="#111" stroke-width="0.7"/>
<text transform="translate(262.2 215.6) scale(0.9 1)" font-size="5.6" fill="#333" text-anchor="end">40</text>
<line x1="264.6" y1="206.55" x2="268.2" y2="206.55" stroke="#111" stroke-width="0.7"/>
<text transform="translate(262.2 208.55) scale(0.9 1)" font-size="5.6" fill="#333" text-anchor="end">45</text>
<line x1="274.35" y1="270" x2="274.35" y2="272.8" stroke="#111" stroke-width="0.7"/>
<line x1="282.8" y1="270" x2="282.8" y2="272.8" stroke="#111" stroke-width="0.7"/>
<line x1="291.65" y1="270" x2="291.65" y2="272.8" stroke="#111" stroke-width="0.7"/>
<line x1="300.1" y1="270" x2="300.1" y2="272.8" stroke="#111" stroke-width="0.7"/>
<text transform="translate(249.6 236.8) rotate(-90) scale(0.94 1)" font-size="7.4" fill="#111" text-anchor="middle" stroke="#111" stroke-width="0.18">GFP+ lymphoma cells (%)</text>
<path d="M274.5 199.9 V198.5 H300.4 V199.9" fill="none" stroke="#222" stroke-width="0.85" stroke-linejoin="round"/><text transform="translate(287.45 199.6) scale(0.8 1)" font-size="6.2" fill="#222" text-anchor="middle">*</text>
<path d="M274.5 205.4 V204 H291.6 V205.4" fill="none" stroke="#222" stroke-width="0.85" stroke-linejoin="round"/><text transform="translate(283.05 205.1) scale(0.8 1)" font-size="6.2" fill="#222" text-anchor="middle">*</text>
<path d="M274.5 211.7 V210.3 H282.8 V211.7" fill="none" stroke="#222" stroke-width="0.85" stroke-linejoin="round"/><text transform="translate(278.65 211.4) scale(0.8 1)" font-size="6.2" fill="#222" text-anchor="middle">*</text>
<path d="M283.3 244 V242.6 H300.4 V244" fill="none" stroke="#222" stroke-width="0.85" stroke-linejoin="round"/><text transform="translate(291.85 243.7) scale(0.8 1)" font-size="6.2" fill="#222" text-anchor="middle">**</text>
<path d="M283.3 250.3 V248.9 H291.6 V250.3" fill="none" stroke="#222" stroke-width="0.85" stroke-linejoin="round"/><text transform="translate(287.45 250) scale(0.8 1)" font-size="6.2" fill="#222" text-anchor="middle">**</text>
<text transform="translate(275.95 276.6) rotate(-45) scale(0.93 1)" font-size="5.5" fill="#222" text-anchor="end">UNT</text>
<text transform="translate(284.4 276.6) rotate(-45) scale(0.93 1)" font-size="5.5" fill="#222" text-anchor="end">αPD1</text>
<text transform="translate(293.25 276.6) rotate(-45) scale(0.93 1)" font-size="5.5" fill="#222" text-anchor="end">αCD20</text>
<text transform="translate(301.7 276.6) rotate(-45) scale(0.93 1)" font-size="5.5" fill="#222" text-anchor="end">αCD20+αPD1</text>
</g>
<g id="pe">
<text transform="translate(321 186.8) scale(0.9 1)" font-size="12" fill="#000">E</text>
<path d="M343.2 225.3 L343.2 205.3 A20 20 0 0 1 343.72 205.31 Z" fill="#f5e050" stroke="#1a1a1a" stroke-width="0.4" stroke-linejoin="round"/><path d="M343.2 225.3 L343.72 205.31 A20 20 0 0 1 349.05 206.17 Z" fill="#e59a38" stroke="#1a1a1a" stroke-width="0.4" stroke-linejoin="round"/><path d="M343.2 225.3 L349.05 206.17 A20 20 0 0 1 349.71 206.39 Z" fill="#a8722c" stroke="#1a1a1a" stroke-width="0.4" stroke-linejoin="round"/><path d="M343.2 225.3 L349.71 206.39 A20 20 0 0 1 362.22 219.12 Z" fill="#d65a38" stroke="#1a1a1a" stroke-width="0.4" stroke-linejoin="round"/><path d="M343.2 225.3 L362.22 219.12 A20 20 0 0 1 363.01 222.52 Z" fill="#111111" stroke="#1a1a1a" stroke-width="0.4" stroke-linejoin="round"/><path d="M343.2 225.3 L363.01 222.52 A20 20 0 0 1 346.33 245.05 Z" fill="#8cc06a" stroke="#1a1a1a" stroke-width="0.4" stroke-linejoin="round"/><path d="M343.2 225.3 L346.33 245.05 A20 20 0 0 1 343.9 245.29 Z" fill="#7fb5d8" stroke="#1a1a1a" stroke-width="0.4" stroke-linejoin="round"/><path d="M343.2 225.3 L343.9 245.29 A20 20 0 0 1 342.15 245.27 Z" fill="#4a4a9a" stroke="#1a1a1a" stroke-width="0.4" stroke-linejoin="round"/><path d="M343.2 225.3 L342.15 245.27 A20 20 0 0 1 337.35 244.43 Z" fill="#b898c8" stroke="#1a1a1a" stroke-width="0.4" stroke-linejoin="round"/><path d="M343.2 225.3 L337.35 244.43 A20 20 0 0 1 334.75 243.43 Z" fill="#8a3a98" stroke="#1a1a1a" stroke-width="0.4" stroke-linejoin="round"/><path d="M343.2 225.3 L334.75 243.43 A20 20 0 0 1 343.2 205.3 Z" fill="#ece8ee" stroke="#1a1a1a" stroke-width="0.4" stroke-linejoin="round"/><path d="M343.01 203 A22.3 22.3 0 0 1 364.53 218.78" fill="none" stroke="#111" stroke-width="3.4"/><circle cx="343.2" cy="225.3" r="5.4" fill="#fff" stroke="#1a1a1a" stroke-width="0.45"/><text transform="translate(343.2 227.2) scale(0.92 1)" font-size="5.2" fill="#222" text-anchor="middle">n=3</text><text transform="translate(344 197.7) scale(0.95 1)" font-size="5.2" fill="#111" text-anchor="middle">UNT</text>
<path d="M394.3 225.3 L394.3 205.3 A20 20 0 0 1 396.74 205.45 Z" fill="#f5e050" stroke="#1a1a1a" stroke-width="0.4" stroke-linejoin="round"/><path d="M394.3 225.3 L396.74 205.45 A20 20 0 0 1 405.77 208.92 Z" fill="#e59a38" stroke="#1a1a1a" stroke-width="0.4" stroke-linejoin="round"/><path d="M394.3 225.3 L405.77 208.92 A20 20 0 0 1 409.16 211.92 Z" fill="#a8722c" stroke="#1a1a1a" stroke-width="0.4" stroke-linejoin="round"/><path d="M394.3 225.3 L409.16 211.92 A20 20 0 0 1 414.29 226 Z" fill="#d65a38" stroke="#1a1a1a" stroke-width="0.4" stroke-linejoin="round"/><path d="M394.3 225.3 L414.29 226 A20 20 0 0 1 413.43 231.15 Z" fill="#111111" stroke="#1a1a1a" stroke-width="0.4" stroke-linejoin="round"/><path d="M394.3 225.3 L413.43 231.15 A20 20 0 0 1 404.3 242.62 Z" fill="#8cc06a" stroke="#1a1a1a" stroke-width="0.4" stroke-linejoin="round"/><path d="M394.3 225.3 L404.3 242.62 A20 20 0 0 1 401.14 244.09 Z" fill="#4a4a9a" stroke="#1a1a1a" stroke-width="0.4" stroke-linejoin="round"/><path d="M394.3 225.3 L401.14 244.09 A20 20 0 0 1 400.15 244.43 Z" fill="#7fb5d8" stroke="#1a1a1a" stroke-width="0.4" stroke-linejoin="round"/><path d="M394.3 225.3 L400.15 244.43 A20 20 0 0 1 395 245.29 Z" fill="#b898c8" stroke="#1a1a1a" stroke-width="0.4" stroke-linejoin="round"/><path d="M394.3 225.3 L395 245.29 A20 20 0 1 1 394.3 205.3 Z" fill="#ece8ee" stroke="#1a1a1a" stroke-width="0.4" stroke-linejoin="round"/><path d="M394.11 203 A22.3 22.3 0 0 1 416.48 227.63" fill="none" stroke="#111" stroke-width="3.4"/><circle cx="394.3" cy="225.3" r="5.4" fill="#fff" stroke="#1a1a1a" stroke-width="0.45"/><text transform="translate(394.3 227.2) scale(0.92 1)" font-size="5.2" fill="#222" text-anchor="middle">n=3</text><text transform="translate(395.1 197.7) scale(0.95 1)" font-size="5.2" fill="#111" text-anchor="middle">αPD1</text>
<path d="M343.6 284.8 L343.6 264.8 A20 20 0 0 1 345.34 264.88 Z" fill="#f5e050" stroke="#1a1a1a" stroke-width="0.4" stroke-linejoin="round"/><path d="M343.6 284.8 L345.34 264.88 A20 20 0 0 1 354.2 267.84 Z" fill="#e59a38" stroke="#1a1a1a" stroke-width="0.4" stroke-linejoin="round"/><path d="M343.6 284.8 L354.2 267.84 A20 20 0 0 1 361.26 275.41 Z" fill="#d65a38" stroke="#1a1a1a" stroke-width="0.4" stroke-linejoin="round"/><path d="M343.6 284.8 L361.26 275.41 A20 20 0 0 1 362.92 279.62 Z" fill="#111111" stroke="#1a1a1a" stroke-width="0.4" stroke-linejoin="round"/><path d="M343.6 284.8 L362.92 279.62 A20 20 0 0 1 363.41 282.02 Z" fill="#8cc06a" stroke="#1a1a1a" stroke-width="0.4" stroke-linejoin="round"/><path d="M343.6 284.8 L363.41 282.02 A20 20 0 0 1 363.52 283.06 Z" fill="#111111" stroke="#1a1a1a" stroke-width="0.4" stroke-linejoin="round"/><path d="M343.6 284.8 L363.52 283.06 A20 20 0 0 1 363.57 285.85 Z" fill="#7fb5d8" stroke="#1a1a1a" stroke-width="0.4" stroke-linejoin="round"/><path d="M343.6 284.8 L363.57 285.85 A20 20 0 0 1 359.98 296.27 Z" fill="#b898c8" stroke="#1a1a1a" stroke-width="0.4" stroke-linejoin="round"/><path d="M343.6 284.8 L359.98 296.27 A20 20 0 0 1 354.2 301.76 Z" fill="#8a3a98" stroke="#1a1a1a" stroke-width="0.4" stroke-linejoin="round"/><path d="M343.6 284.8 L354.2 301.76 A20 20 0 1 1 343.6 264.8 Z" fill="#ece8ee" stroke="#1a1a1a" stroke-width="0.4" stroke-linejoin="round"/><path d="M343.41 262.5 A22.3 22.3 0 0 1 363.97 275.73" fill="none" stroke="#111" stroke-width="3.4"/><circle cx="343.6" cy="284.8" r="5.4" fill="#fff" stroke="#1a1a1a" stroke-width="0.45"/><text transform="translate(343.6 286.7) scale(0.92 1)" font-size="5.2" fill="#222" text-anchor="middle">n=3</text><text transform="translate(344.4 257.2) scale(0.95 1)" font-size="5.2" fill="#111" text-anchor="middle">αCD20</text>
<path d="M394.3 284.8 L394.3 264.8 A20 20 0 0 1 401.79 266.26 Z" fill="#f5e050" stroke="#1a1a1a" stroke-width="0.4" stroke-linejoin="round"/><path d="M394.3 284.8 L401.79 266.26 A20 20 0 0 1 411.62 294.8 Z" fill="#e59a38" stroke="#1a1a1a" stroke-width="0.4" stroke-linejoin="round"/><path d="M394.3 284.8 L411.62 294.8 A20 20 0 0 1 404.3 302.12 Z" fill="#a8722c" stroke="#1a1a1a" stroke-width="0.4" stroke-linejoin="round"/><path d="M394.3 284.8 L404.3 302.12 A20 20 0 0 1 380.16 298.94 Z" fill="#d65a38" stroke="#1a1a1a" stroke-width="0.4" stroke-linejoin="round"/><path d="M394.3 284.8 L380.16 298.94 A20 20 0 0 1 376.98 294.8 Z" fill="#111111" stroke="#1a1a1a" stroke-width="0.4" stroke-linejoin="round"/><path d="M394.3 284.8 L376.98 294.8 A20 20 0 0 1 376.17 293.25 Z" fill="#8cc06a" stroke="#1a1a1a" stroke-width="0.4" stroke-linejoin="round"/><path d="M394.3 284.8 L376.17 293.25 A20 20 0 0 1 374.49 287.58 Z" fill="#4a4a9a" stroke="#1a1a1a" stroke-width="0.4" stroke-linejoin="round"/><path d="M394.3 284.8 L374.49 287.58 A20 20 0 0 1 375.51 277.96 Z" fill="#b898c8" stroke="#1a1a1a" stroke-width="0.4" stroke-linejoin="round"/><path d="M394.3 284.8 L375.51 277.96 A20 20 0 0 1 376.48 275.72 Z" fill="#8a3a98" stroke="#1a1a1a" stroke-width="0.4" stroke-linejoin="round"/><path d="M394.3 284.8 L376.48 275.72 A20 20 0 0 1 394.3 264.8 Z" fill="#ece8ee" stroke="#1a1a1a" stroke-width="0.4" stroke-linejoin="round"/><path d="M394.11 262.5 A22.3 22.3 0 1 1 378.26 300.29" fill="none" stroke="#111" stroke-width="3.4"/><circle cx="394.3" cy="284.8" r="5.4" fill="#fff" stroke="#1a1a1a" stroke-width="0.45"/><text transform="translate(394.3 286.7) scale(0.92 1)" font-size="5.2" fill="#222" text-anchor="middle">n=3</text><text transform="translate(395.1 257.2) scale(0.95 1)" font-size="5.2" fill="#111" text-anchor="middle">αCD20+αPD1</text>
<path id="cd3arc" d="M408.08 263.58 A25.3 25.3 0 0 1 418.07 293.45" fill="none"/>
<text font-size="4.9" fill="#111"><textPath href="#cd3arc">CD3<tspan font-size="3.4" dy="-1.8">+</tspan><tspan dy="1.8"> cells</tspan></textPath></text>
<rect x="430.7" y="202.2" width="3.2" height="3.2" fill="#f5e050" stroke="#333" stroke-width="0.45"/>
<text transform="translate(436.4 205.8) scale(0.93 1)" font-size="5.5" fill="#222">NKT</text>
<rect x="430.7" y="211.4" width="3.2" height="3.2" fill="#e59a38" stroke="#333" stroke-width="0.45"/>
<text transform="translate(436.4 215) scale(0.93 1)" font-size="5.5" fill="#222">CD4⁺</text>
<rect x="430.7" y="220" width="3.2" height="3.2" fill="#a8722c" stroke="#333" stroke-width="0.45"/>
<text transform="translate(436.4 223.6) scale(0.93 1)" font-size="5.5" fill="#222">T Regs</text>
<rect x="430.7" y="228.7" width="3.2" height="3.2" fill="#d65a38" stroke="#333" stroke-width="0.45"/>
<text transform="translate(436.4 232.3) scale(0.93 1)" font-size="5.5" fill="#222">CD8⁺</text>
<rect x="430.7" y="237.3" width="3.2" height="3.2" fill="#111111" stroke="#333" stroke-width="0.45"/>
<text transform="translate(436.4 240.9) scale(0.93 1)" font-size="5.5" fill="#222">NK</text>
<rect x="430.7" y="245.8" width="3.2" height="3.2" fill="#8cc06a" stroke="#333" stroke-width="0.45"/>
<text transform="translate(436.4 249.4) scale(0.93 1)" font-size="5.5" fill="#222">GFP lymphoma</text>
<rect x="430.7" y="254.2" width="3.2" height="3.2" fill="#4a4a9a" stroke="#333" stroke-width="0.45"/>
<text transform="translate(436.4 257.8) scale(0.93 1)" font-size="5.5" fill="#222">Mph</text>
<rect x="430.7" y="262.9" width="3.2" height="3.2" fill="#7fb5d8" stroke="#333" stroke-width="0.45"/>
<text transform="translate(436.4 266.5) scale(0.93 1)" font-size="5.5" fill="#222">DCs</text>
<rect x="430.7" y="271.7" width="3.2" height="3.2" fill="#b898c8" stroke="#333" stroke-width="0.45"/>
<text transform="translate(436.4 275.3) scale(0.93 1)" font-size="5.5" fill="#222">GrMDC</text>
<rect x="430.7" y="280.2" width="3.2" height="3.2" fill="#8a3a98" stroke="#333" stroke-width="0.45"/>
<text transform="translate(436.4 283.8) scale(0.93 1)" font-size="5.5" fill="#222">MoMDC</text>
<rect x="430.7" y="288.8" width="3.2" height="3.2" fill="#ece8ee" stroke="#333" stroke-width="0.45"/>
<text transform="translate(436.4 292.4) scale(0.93 1)" font-size="5.5" fill="#222">unstained</text>
</g>
<g id="pf">
<text transform="translate(8.6 335.8) scale(0.9 1)" font-size="12" fill="#000">F</text>
<rect x="38" y="343.8" width="3.3" height="3.2" fill="#e09636" stroke="#333" stroke-width="0.45"/>
<text transform="translate(43.8 347.2) scale(0.89 1)" font-size="4.8" fill="#555">CD4+</text>
<rect x="76.2" y="343.8" width="3.3" height="3.2" fill="#cc5a38" stroke="#333" stroke-width="0.45"/>
<text transform="translate(81.8 347.2) scale(0.89 1)" font-size="4.8" fill="#555">CD8+</text>
<line x1="39.7" y1="364.23" x2="39.7" y2="353.35" stroke="#222" stroke-width="0.6"/>
<line x1="38.7" y1="353.35" x2="40.7" y2="353.35" stroke="#222" stroke-width="0.6"/>
<rect x="37.6" y="364.23" width="4.2" height="47.02" fill="#e09636" stroke="#2a2a2a" stroke-width="0.45"/>
<line x1="47.9" y1="375.77" x2="47.9" y2="374.12" stroke="#222" stroke-width="0.6"/>
<line x1="46.9" y1="374.12" x2="48.9" y2="374.12" stroke="#222" stroke-width="0.6"/>
<rect x="45.8" y="375.77" width="4.2" height="35.48" fill="#e09636" stroke="#2a2a2a" stroke-width="0.45"/>
<text transform="translate(47.9 375.02) scale(0.8 1)" font-size="6.2" fill="#222" text-anchor="middle">*</text>
<line x1="55.9" y1="381.25" x2="55.9" y2="379.3" stroke="#222" stroke-width="0.6"/>
<line x1="54.9" y1="379.3" x2="56.9" y2="379.3" stroke="#222" stroke-width="0.6"/>
<rect x="53.8" y="381.25" width="4.2" height="30" fill="#e09636" stroke="#2a2a2a" stroke-width="0.45"/>
<line x1="63.9" y1="383.27" x2="63.9" y2="382.38" stroke="#222" stroke-width="0.6"/>
<line x1="62.9" y1="382.38" x2="64.9" y2="382.38" stroke="#222" stroke-width="0.6"/>
<rect x="61.8" y="383.27" width="4.2" height="27.98" fill="#e09636" stroke="#2a2a2a" stroke-width="0.45"/>
<text transform="translate(63.9 383.27) scale(0.8 1)" font-size="6.2" fill="#222" text-anchor="middle">*</text>
<line x1="77.6" y1="362.5" x2="77.6" y2="353.88" stroke="#222" stroke-width="0.6"/>
<line x1="76.6" y1="353.88" x2="78.6" y2="353.88" stroke="#222" stroke-width="0.6"/>
<rect x="75.5" y="362.5" width="4.2" height="48.75" fill="#cc5a38" stroke="#2a2a2a" stroke-width="0.45"/>
<line x1="85.4" y1="381.25" x2="85.4" y2="377.12" stroke="#222" stroke-width="0.6"/>
<line x1="84.4" y1="377.12" x2="86.4" y2="377.12" stroke="#222" stroke-width="0.6"/>
<rect x="83.3" y="381.25" width="4.2" height="30" fill="#cc5a38" stroke="#2a2a2a" stroke-width="0.45"/>
<text transform="translate(85.4 378.02) scale(0.8 1)" font-size="6.2" fill="#222" text-anchor="middle">*</text>
<line x1="93.4" y1="394.98" x2="93.4" y2="389.5" stroke="#222" stroke-width="0.6"/>
<line x1="92.4" y1="389.5" x2="94.4" y2="389.5" stroke="#222" stroke-width="0.6"/>
<rect x="91.3" y="394.98" width="4.2" height="16.27" fill="#cc5a38" stroke="#2a2a2a" stroke-width="0.45"/>
<text transform="translate(93.4 390.4) scale(0.8 1)" font-size="6.2" fill="#222" text-anchor="middle">**</text>
<line x1="101.4" y1="404.27" x2="101.4" y2="402.77" stroke="#222" stroke-width="0.6"/>
<line x1="100.4" y1="402.77" x2="102.4" y2="402.77" stroke="#222" stroke-width="0.6"/>
<rect x="99.3" y="404.27" width="4.2" height="6.98" fill="#cc5a38" stroke="#2a2a2a" stroke-width="0.45"/>
<text transform="translate(101.4 403.67) scale(0.8 1)" font-size="6.2" fill="#222" text-anchor="middle">****</text>
<line x1="33" y1="348.6" x2="33" y2="411.6" stroke="#111" stroke-width="0.8"/>
<line x1="29.6" y1="411.25" x2="106.4" y2="411.25" stroke="#111" stroke-width="0.8"/>
<line x1="29.6" y1="411.25" x2="33" y2="411.25" stroke="#111" stroke-width="0.7"/>
<text transform="translate(27.4 413.25) scale(0.9 1)" font-size="5.7" fill="#333" text-anchor="end">0</text>
<line x1="29.6" y1="396.25" x2="33" y2="396.25" stroke="#111" stroke-width="0.7"/>
<text transform="translate(27.4 398.25) scale(0.9 1)" font-size="5.7" fill="#333" text-anchor="end">20</text>
<line x1="29.6" y1="381.25" x2="33" y2="381.25" stroke="#111" stroke-width="0.7"/>
<text transform="translate(27.4 383.25) scale(0.9 1)" font-size="5.7" fill="#333" text-anchor="end">40</text>
<line x1="29.6" y1="366.25" x2="33" y2="366.25" stroke="#111" stroke-width="0.7"/>
<text transform="translate(27.4 368.25) scale(0.9 1)" font-size="5.7" fill="#333" text-anchor="end">60</text>
<line x1="29.6" y1="351.25" x2="33" y2="351.25" stroke="#111" stroke-width="0.7"/>
<text transform="translate(27.4 353.25) scale(0.9 1)" font-size="5.7" fill="#333" text-anchor="end">80</text>
<text transform="translate(14.6 379.6) rotate(-90) scale(0.96 1)" font-size="7.6" fill="#111" text-anchor="middle" stroke="#111" stroke-width="0.18">% of PD-1+ cells</text>
<line x1="39.7" y1="411.25" x2="39.7" y2="414.2" stroke="#111" stroke-width="0.7"/>
<text transform="translate(41.3 418.2) rotate(-45) scale(0.93 1)" font-size="5.5" fill="#222" text-anchor="end">UNT</text>
<line x1="47.9" y1="411.25" x2="47.9" y2="414.2" stroke="#111" stroke-width="0.7"/>
<text transform="translate(49.5 418.2) rotate(-45) scale(0.93 1)" font-size="5.5" fill="#222" text-anchor="end">αPD1</text>
<line x1="55.9" y1="411.25" x2="55.9" y2="414.2" stroke="#111" stroke-width="0.7"/>
<text transform="translate(57.5 418.2) rotate(-45) scale(0.93 1)" font-size="5.5" fill="#222" text-anchor="end">αCD20</text>
<line x1="63.9" y1="411.25" x2="63.9" y2="414.2" stroke="#111" stroke-width="0.7"/>
<text transform="translate(65.5 418.2) rotate(-45) scale(0.93 1)" font-size="5.5" fill="#222" text-anchor="end">αCD20+αPD1</text>
<line x1="77.6" y1="411.25" x2="77.6" y2="414.2" stroke="#111" stroke-width="0.7"/>
<text transform="translate(79.2 418.2) rotate(-45) scale(0.93 1)" font-size="5.5" fill="#222" text-anchor="end">UNT</text>
<line x1="85.4" y1="411.25" x2="85.4" y2="414.2" stroke="#111" stroke-width="0.7"/>
<text transform="translate(87 418.2) rotate(-45) scale(0.93 1)" font-size="5.5" fill="#222" text-anchor="end">αPD1</text>
<line x1="93.4" y1="411.25" x2="93.4" y2="414.2" stroke="#111" stroke-width="0.7"/>
<text transform="translate(95 418.2) rotate(-45) scale(0.93 1)" font-size="5.5" fill="#222" text-anchor="end">αCD20</text>
<line x1="101.4" y1="411.25" x2="101.4" y2="414.2" stroke="#111" stroke-width="0.7"/>
<text transform="translate(103 418.2) rotate(-45) scale(0.93 1)" font-size="5.5" fill="#222" text-anchor="end">αCD20+αPD1</text>
</g>
<g id="pg">
<text transform="translate(124 335.6) scale(0.9 1)" font-size="12" fill="#000">G</text>
<rect x="161.2" y="362.9" width="6.45" height="4.48" fill="#d9876a"/><rect x="167.7" y="362.9" width="6.55" height="4.48" fill="#a9c4e2"/><rect x="174.3" y="362.9" width="6.55" height="4.48" fill="#e8eaf3"/><rect x="182.2" y="362.9" width="6.55" height="4.48" fill="#f2c9b0"/><rect x="188.8" y="362.9" width="6.45" height="4.48" fill="#8fb0da"/><rect x="195.3" y="362.9" width="6.45" height="4.48" fill="#a9c4e2"/><rect x="161.2" y="367.23" width="6.45" height="4.48" fill="#f3d5c2"/><rect x="167.7" y="367.23" width="6.55" height="4.48" fill="#b5cce6"/><rect x="174.3" y="367.23" width="6.55" height="4.48" fill="#e4e8f2"/><rect x="182.2" y="367.23" width="6.55" height="4.48" fill="#e9a883"/><rect x="188.8" y="367.23" width="6.45" height="4.48" fill="#86a9d6"/><rect x="195.3" y="367.23" width="6.45" height="4.48" fill="#9fbde0"/><rect x="161.2" y="371.57" width="6.45" height="4.48" fill="#b8604a"/><rect x="167.7" y="371.57" width="6.55" height="4.48" fill="#d0dcee"/><rect x="174.3" y="371.57" width="6.55" height="4.48" fill="#6f98cc"/><rect x="182.2" y="371.57" width="6.55" height="4.48" fill="#4f7fc0"/><rect x="188.8" y="371.57" width="6.45" height="4.48" fill="#7ba3d3"/><rect x="195.3" y="371.57" width="6.45" height="4.48" fill="#a5c0e1"/><rect x="161.2" y="375.9" width="6.45" height="4.48" fill="#b85e48"/><rect x="167.7" y="375.9" width="6.55" height="4.48" fill="#d5dfef"/><rect x="174.3" y="375.9" width="6.55" height="4.48" fill="#7ba1d1"/><rect x="182.2" y="375.9" width="6.55" height="4.48" fill="#5b89c6"/><rect x="188.8" y="375.9" width="6.45" height="4.48" fill="#86a9d6"/><rect x="195.3" y="375.9" width="6.45" height="4.48" fill="#a9c4e2"/><rect x="161.2" y="380.23" width="6.45" height="4.48" fill="#a94a3c"/><rect x="167.7" y="380.23" width="6.55" height="4.48" fill="#e0e6f2"/><rect x="174.3" y="380.23" width="6.55" height="4.48" fill="#a5c0e1"/><rect x="182.2" y="380.23" width="6.55" height="4.48" fill="#86a9d6"/><rect x="188.8" y="380.23" width="6.45" height="4.48" fill="#f5f0ee"/><rect x="195.3" y="380.23" width="6.45" height="4.48" fill="#e9a883"/><rect x="161.2" y="384.57" width="6.45" height="4.48" fill="#b55848"/><rect x="167.7" y="384.57" width="6.55" height="4.48" fill="#e8eaf3"/><rect x="174.3" y="384.57" width="6.55" height="4.48" fill="#b0c8e4"/><rect x="182.2" y="384.57" width="6.55" height="4.48" fill="#8fb0da"/><rect x="188.8" y="384.57" width="6.45" height="4.48" fill="#b5cce6"/><rect x="195.3" y="384.57" width="6.45" height="4.48" fill="#e6e9f3"/>
<rect x="161.2" y="391" width="6.45" height="4.35" fill="#5585c4"/><rect x="167.7" y="391" width="6.55" height="4.35" fill="#a84444"/><rect x="174.3" y="391" width="6.55" height="4.35" fill="#f5d6c5"/><rect x="182.2" y="391" width="6.55" height="4.35" fill="#f6dccd"/><rect x="188.8" y="391" width="6.45" height="4.35" fill="#b5cce6"/><rect x="195.3" y="391" width="6.45" height="4.35" fill="#8fb0da"/><rect x="161.2" y="395.2" width="6.45" height="4.35" fill="#86a9d6"/><rect x="167.7" y="395.2" width="6.55" height="4.35" fill="#ab4848"/><rect x="174.3" y="395.2" width="6.55" height="4.35" fill="#eceaf0"/><rect x="182.2" y="395.2" width="6.55" height="4.35" fill="#6f98cc"/><rect x="188.8" y="395.2" width="6.45" height="4.35" fill="#6a94ca"/><rect x="195.3" y="395.2" width="6.45" height="4.35" fill="#7ba3d3"/><rect x="161.2" y="399.4" width="6.45" height="4.35" fill="#7ba3d3"/><rect x="167.7" y="399.4" width="6.55" height="4.35" fill="#b04c48"/><rect x="174.3" y="399.4" width="6.55" height="4.35" fill="#e9e9f1"/><rect x="182.2" y="399.4" width="6.55" height="4.35" fill="#86a9d6"/><rect x="188.8" y="399.4" width="6.45" height="4.35" fill="#f3efef"/><rect x="195.3" y="399.4" width="6.45" height="4.35" fill="#4f7fc0"/><rect x="161.2" y="403.6" width="6.45" height="4.35" fill="#5b89c6"/><rect x="167.7" y="403.6" width="6.55" height="4.35" fill="#a94646"/><rect x="174.3" y="403.6" width="6.55" height="4.35" fill="#d5dfef"/><rect x="182.2" y="403.6" width="6.55" height="4.35" fill="#7ba3d3"/><rect x="188.8" y="403.6" width="6.45" height="4.35" fill="#eeecf1"/><rect x="195.3" y="403.6" width="6.45" height="4.35" fill="#e0e6f2"/><rect x="161.2" y="407.8" width="6.45" height="4.35" fill="#6f98cc"/><rect x="167.7" y="407.8" width="6.55" height="4.35" fill="#ae4a48"/><rect x="174.3" y="407.8" width="6.55" height="4.35" fill="#e4e8f2"/><rect x="182.2" y="407.8" width="6.55" height="4.35" fill="#8fb0da"/><rect x="188.8" y="407.8" width="6.45" height="4.35" fill="#e4e8f2"/><rect x="195.3" y="407.8" width="6.45" height="4.35" fill="#c5d5ea"/>
<rect x="161.2" y="414.2" width="6.45" height="4.39" fill="#6f98cc"/><rect x="167.7" y="414.2" width="6.55" height="4.39" fill="#eeecf1"/><rect x="174.3" y="414.2" width="6.55" height="4.39" fill="#a84444"/><rect x="182.2" y="414.2" width="6.55" height="4.39" fill="#e9a883"/><rect x="188.8" y="414.2" width="6.45" height="4.39" fill="#f5efee"/><rect x="195.3" y="414.2" width="6.45" height="4.39" fill="#f7f3f1"/><rect x="161.2" y="418.44" width="6.45" height="4.39" fill="#b5cce6"/><rect x="167.7" y="418.44" width="6.55" height="4.39" fill="#efedf2"/><rect x="174.3" y="418.44" width="6.55" height="4.39" fill="#b85a4a"/><rect x="182.2" y="418.44" width="6.55" height="4.39" fill="#e6e9f3"/><rect x="188.8" y="418.44" width="6.45" height="4.39" fill="#9fbde0"/><rect x="195.3" y="418.44" width="6.45" height="4.39" fill="#f5f1f0"/><rect x="161.2" y="422.69" width="6.45" height="4.39" fill="#d0dcee"/><rect x="167.7" y="422.69" width="6.55" height="4.39" fill="#f0eef2"/><rect x="174.3" y="422.69" width="6.55" height="4.39" fill="#c4705a"/><rect x="182.2" y="422.69" width="6.55" height="4.39" fill="#eeecf1"/><rect x="188.8" y="422.69" width="6.45" height="4.39" fill="#a5c0e1"/><rect x="195.3" y="422.69" width="6.45" height="4.39" fill="#b5cce6"/><rect x="161.2" y="426.93" width="6.45" height="4.39" fill="#4f7fc0"/><rect x="167.7" y="426.93" width="6.55" height="4.39" fill="#efedf2"/><rect x="174.3" y="426.93" width="6.55" height="4.39" fill="#b85a4a"/><rect x="182.2" y="426.93" width="6.55" height="4.39" fill="#f6e8e0"/><rect x="188.8" y="426.93" width="6.45" height="4.39" fill="#eeecf1"/><rect x="195.3" y="426.93" width="6.45" height="4.39" fill="#6f98cc"/><rect x="161.2" y="431.17" width="6.45" height="4.39" fill="#4f7fc0"/><rect x="167.7" y="431.17" width="6.55" height="4.39" fill="#f7e6dc"/><rect x="174.3" y="431.17" width="6.55" height="4.39" fill="#cc7c62"/><rect x="182.2" y="431.17" width="6.55" height="4.39" fill="#f8e8dd"/><rect x="188.8" y="431.17" width="6.45" height="4.39" fill="#4a7abd"/><rect x="195.3" y="431.17" width="6.45" height="4.39" fill="#5585c4"/><rect x="161.2" y="435.41" width="6.45" height="4.39" fill="#5585c4"/><rect x="167.7" y="435.41" width="6.55" height="4.39" fill="#dbe3f0"/><rect x="174.3" y="435.41" width="6.55" height="4.39" fill="#b85a4a"/><rect x="182.2" y="435.41" width="6.55" height="4.39" fill="#f8e8dd"/><rect x="188.8" y="435.41" width="6.45" height="4.39" fill="#4a7abd"/><rect x="195.3" y="435.41" width="6.45" height="4.39" fill="#4f7fc0"/><rect x="161.2" y="439.66" width="6.45" height="4.39" fill="#5b89c6"/><rect x="167.7" y="439.66" width="6.55" height="4.39" fill="#d0dcee"/><rect x="174.3" y="439.66" width="6.55" height="4.39" fill="#c4705a"/><rect x="182.2" y="439.66" width="6.55" height="4.39" fill="#f8e8dd"/><rect x="188.8" y="439.66" width="6.45" height="4.39" fill="#5585c4"/><rect x="195.3" y="439.66" width="6.45" height="4.39" fill="#5b89c6"/>
<text transform="translate(165.4 361.4) rotate(-50) scale(0.9 1)" font-size="5.6" fill="#111">CD8</text>
<text transform="translate(171.6 361.4) rotate(-50) scale(0.9 1)" font-size="5.6" fill="#111">GFP</text>
<text transform="translate(177.8 361.4) rotate(-50) scale(0.9 1)" font-size="5.6" fill="#111">CD4</text>
<text transform="translate(186.4 361.4) rotate(-50) scale(0.9 1)" font-size="5.6" fill="#111">PD1</text>
<text transform="translate(192.4 361.4) rotate(-50) scale(0.9 1)" font-size="5.6" fill="#111">LAG3</text>
<text transform="translate(198.6 361.4) rotate(-50) scale(0.9 1)" font-size="5.6" fill="#111">2B4</text>
<text transform="translate(210.8 354.8) scale(0.91 1)" font-size="6" fill="#111">Rphenograph</text>
<text transform="translate(227.3 360.6) scale(0.99 1)" font-size="6" fill="#111" text-anchor="middle">clusters</text>
<rect x="210.8" y="362.9" width="21.2" height="7.9" fill="#b5443c"/><text transform="translate(221.4 368.45) scale(0.9 1)" font-size="4.8" fill="#f0f0f0" text-anchor="middle" opacity="0.92">CD8 Ex</text>
<rect x="210.8" y="371.7" width="21.2" height="17.2" fill="#5b8fc7"/><text transform="translate(221.4 379.4) scale(0.9 1)" font-size="4.8" fill="#f0f0f0" text-anchor="middle" opacity="0.92">CD8</text><text transform="translate(221.4 384.4) scale(0.9 1)" font-size="4.8" fill="#f0f0f0" text-anchor="middle" opacity="0.92">nEx</text>
<rect x="210.8" y="391" width="21.2" height="21" fill="#7aab5c"/><text transform="translate(221.4 400.6) scale(0.9 1)" font-size="4.8" fill="#f0f0f0" text-anchor="middle" opacity="0.92">GFP</text><text transform="translate(221.4 405.6) scale(0.9 1)" font-size="4.8" fill="#f0f0f0" text-anchor="middle" opacity="0.92">B cells</text>
<rect x="210.8" y="414.2" width="21.2" height="4.2" fill="#d98a35"/><text transform="translate(221.4 417.9) scale(0.9 1)" font-size="4.2" fill="#f0f0f0" text-anchor="middle" opacity="0.92">CD4 Ex</text>
<rect x="210.8" y="418.9" width="21.2" height="25" fill="#5b8fc7"/><text transform="translate(221.4 430.5) scale(0.9 1)" font-size="4.8" fill="#f0f0f0" text-anchor="middle" opacity="0.92">CD4</text><text transform="translate(221.4 435.5) scale(0.9 1)" font-size="4.8" fill="#f0f0f0" text-anchor="middle" opacity="0.92">nEx</text>
<text transform="translate(138.8 388.8) scale(0.93 1)" font-size="5.7" fill="#111" text-anchor="middle">Exhaustion</text>
<text transform="translate(138.8 394.6) scale(0.93 1)" font-size="5.7" fill="#111" text-anchor="middle">panel</text>
<text transform="translate(138.8 400.4) scale(0.93 1)" font-size="5.7" fill="#111" text-anchor="middle">expression</text>
<rect x="136.4" y="403" width="2.4" height="20.8" fill="url(#cbar)"/>
<text transform="translate(140.2 403.6) rotate(90) scale(0.9 1)" font-size="3" fill="#555">3</text>
<text transform="translate(140.2 407.3) rotate(90) scale(0.9 1)" font-size="3" fill="#555">2.5</text>
<text transform="translate(140.2 411) rotate(90) scale(0.9 1)" font-size="3" fill="#555">2</text>
<text transform="translate(140.2 414.7) rotate(90) scale(0.9 1)" font-size="3" fill="#555">1.5</text>
<text transform="translate(140.2 418.4) rotate(90) scale(0.9 1)" font-size="3" fill="#555">1</text>
<text transform="translate(140.2 422.1) rotate(90) scale(0.9 1)" font-size="3" fill="#555">0.5</text>
<path d="M161 365.07H159.2V369.4H161M161 373.73H159.6V378.07H161M161 382.4H159.4V386.73H161M159.6 375.9H157.8V384.57H159.4M159.2 367.23H155.6V380.23H157.8M161 393.1H159.4V397.3H161M161 405.7H159.6V409.9H161M161 401.5H158.6V407.8H159.6M159.4 395.2H157V404.65H158.6M161 416.32H159.6V420.56H161M159.6 418.44H158.6V424.81H161M161 429.05H159.6V433.29H161M161 437.54H159.6V441.78H161M159.6 431.17H158.4V439.66H159.6M158.6 421.62H156.6V435.41H158.4M157 399.93H154.4V428.52H156.6M155.6 373.73H152.8V414.22H154.4" fill="none" stroke="#222" stroke-width="0.5"/>
<line x1="128.6" y1="447.6" x2="383.5" y2="447.6" stroke="#222" stroke-width="0.7"/>
<text transform="translate(259.2 352.8) scale(0.93 1)" font-size="5.7" fill="#111" text-anchor="middle">UNT</text>
<text transform="translate(291.5 352.8) scale(0.93 1)" font-size="5.7" fill="#111" text-anchor="middle">αPD1</text>
<text transform="translate(326 352.8) scale(0.93 1)" font-size="5.7" fill="#111" text-anchor="middle">αCD20</text>
<text transform="translate(357.7 349.2) scale(0.93 1)" font-size="5.3" fill="#111" text-anchor="middle">αCD20</text>
<text transform="translate(357.7 354) scale(0.93 1)" font-size="5.3" fill="#111" text-anchor="middle">+αPD1</text>
<path d="M250.0 376.5h0M263.8 372.0h0M249.3 374.3h0M260.6 380.1h0M250.0 368.1h0M262.0 377.0h0M267.2 379.6h0M257.0 373.2h0M267.2 373.7h0M252.7 368.9h0M258.2 375.3h0M255.4 374.3h0M259.3 378.1h0M264.4 375.7h0M246.4 378.1h0M248.7 373.7h0M248.4 374.6h0M252.7 375.7h0M270.0 374.5h0M262.9 367.9h0M255.8 377.9h0M257.0 376.5h0M258.2 369.5h0M261.1 370.5h0M269.3 372.1h0M261.9 374.6h0M263.5 371.6h0M263.8 374.0h0M265.5 377.7h0M258.5 370.7h0M262.4 377.0h0M267.8 372.7h0M261.1 377.2h0M259.4 375.7h0M258.7 371.6h0M251.3 372.6h0M261.3 382.2h0M263.7 379.9h0M262.5 378.1h0M258.7 378.5h0M268.7 372.9h0M253.3 384.5h0M259.1 379.5h0M263.1 368.9h0M266.7 380.0h0M258.7 378.4h0M258.4 370.1h0M256.9 376.5h0M264.6 378.2h0M258.0 381.4h0M252.9 378.6h0M264.5 373.1h0M246.4 370.0h0M259.1 377.3h0M267.3 369.5h0M257.6 377.9h0M256.6 362.7h0M260.6 381.6h0M263.9 370.0h0M255.0 375.7h0M266.9 376.5h0M258.3 382.4h0M257.1 384.0h0M253.3 372.2h0M262.1 381.8h0M261.7 376.1h0M246.2 371.0h0M253.8 371.9h0M261.3 372.9h0M262.5 375.0h0" stroke="#b8b8b8" stroke-width="0.5" stroke-linecap="round" fill="none" opacity="0.4"/><path d="M267.3 371.8h0M264.2 370.4h0M268.7 368.3h0M264.3 367.6h0M266.2 371.2h0M264.3 366.5h0M263.1 368.0h0M263.7 375.6h0M262.3 370.0h0M265.3 367.2h0M267.8 369.7h0M268.8 368.6h0M266.5 367.2h0M263.6 369.0h0M264.6 370.2h0M269.9 370.9h0M262.7 373.7h0M262.2 372.6h0M265.6 370.3h0M263.8 371.3h0M262.6 371.2h0M265.6 371.6h0M264.7 369.1h0M268.4 369.0h0M267.4 369.5h0M266.4 373.8h0M269.0 368.9h0M263.5 369.8h0M262.1 371.2h0M264.6 366.5h0M266.9 373.6h0M266.2 373.9h0M263.4 371.2h0M268.7 370.7h0M269.7 372.0h0M264.5 366.6h0M265.7 370.5h0M265.0 371.3h0M265.7 372.8h0M263.1 368.3h0" stroke="#9c9c9c" stroke-width="0.54" stroke-linecap="round" fill="none" opacity="0.44"/><ellipse cx="256" cy="379.4" rx="5.52" ry="3.59" transform="rotate(-8 256 379.4)" fill="#9c9c9c" opacity="0.23" filter="url(#blur07)"/><path d="M253.1 377.3h0M254.9 378.2h0M256.3 379.7h0M255.3 378.1h0M254.0 382.0h0M252.3 377.9h0M256.9 375.7h0M260.0 377.6h0M251.8 380.9h0M253.5 381.5h0M257.1 375.7h0M254.5 378.4h0M257.6 376.3h0M257.7 382.7h0M259.6 378.5h0M254.3 382.5h0M255.3 380.3h0M251.1 379.1h0M260.5 379.3h0M256.5 377.8h0M256.3 378.0h0M250.9 379.8h0M253.8 376.7h0M257.4 378.9h0M252.8 379.5h0M253.4 377.9h0M252.9 379.1h0M258.7 375.9h0M259.0 375.9h0M253.7 379.0h0M251.4 380.0h0M261.0 378.0h0M257.0 376.5h0M255.4 378.7h0M251.7 381.8h0M255.9 381.8h0M251.6 381.4h0M252.8 380.2h0M252.0 377.7h0M256.1 378.8h0M257.1 382.3h0M253.9 381.8h0M255.6 378.2h0M256.2 381.0h0M252.9 380.7h0M253.7 379.4h0M253.0 377.8h0M258.4 376.6h0M257.0 382.5h0M258.4 377.9h0M258.1 378.3h0M257.5 378.3h0M255.4 377.7h0M257.6 377.0h0M258.8 380.7h0M258.3 379.2h0M260.4 376.9h0M250.8 380.0h0M255.0 378.2h0M256.9 379.7h0M251.5 379.8h0M257.3 380.8h0M260.8 378.5h0M260.9 380.0h0M256.0 377.3h0M252.1 379.7h0M260.2 379.0h0M258.0 381.5h0M254.2 380.5h0M255.3 379.5h0M257.1 376.2h0M253.5 378.2h0M250.1 380.1h0M256.2 382.8h0M256.4 376.0h0M259.9 376.7h0M256.1 376.2h0M255.6 378.5h0M255.4 379.6h0M253.1 377.8h0M259.9 377.9h0M253.7 377.6h0M252.3 382.1h0M254.3 376.8h0M260.0 379.2h0M256.2 381.7h0M257.8 381.7h0M256.4 382.8h0M250.1 380.0h0M260.0 378.8h0M259.9 380.1h0M260.9 379.6h0M253.7 380.0h0M255.0 379.0h0M252.7 381.1h0M254.4 381.0h0M253.1 379.1h0M255.9 379.8h0M258.0 379.5h0M252.5 382.0h0M261.0 379.7h0M260.8 380.2h0M250.3 380.7h0M250.3 379.7h0M250.4 380.9h0M254.5 378.9h0M253.6 380.2h0M253.8 379.5h0M254.1 377.7h0M252.7 378.7h0M250.1 379.5h0M255.5 377.8h0M259.6 376.8h0M254.5 381.0h0M251.9 378.8h0M255.8 377.8h0M260.7 378.3h0M257.2 379.4h0M252.3 381.2h0M254.5 379.3h0M254.0 377.5h0M253.8 381.4h0M253.9 382.1h0M257.7 379.7h0M252.5 377.8h0M253.6 380.6h0M253.5 381.8h0M254.6 381.8h0M259.0 377.9h0M260.5 380.7h0M259.7 380.2h0M254.7 377.9h0M258.3 379.8h0M258.7 380.0h0M254.8 377.9h0M253.6 381.9h0M259.9 381.0h0M260.4 377.1h0M251.5 381.3h0M255.0 381.5h0M258.1 378.0h0M254.2 381.2h0M254.4 380.6h0M256.9 376.6h0M253.7 379.1h0M258.1 377.7h0M250.6 379.8h0M259.9 378.3h0M259.7 379.9h0M257.4 379.7h0M257.2 378.6h0M259.5 381.6h0M256.3 381.1h0M250.8 379.7h0M253.8 382.5h0M251.7 380.1h0M254.3 376.5h0M257.8 376.3h0M257.4 375.9h0M259.9 378.1h0M254.5 376.7h0M254.3 380.3h0M259.0 378.9h0M257.4 381.6h0M257.2 379.1h0M259.7 380.9h0M256.8 380.2h0M251.2 378.3h0M258.3 380.2h0M256.9 382.4h0M256.6 380.9h0M258.8 382.0h0M250.9 379.1h0M256.1 382.7h0M254.3 381.7h0M253.3 380.0h0M263.1 376.8h0M251.8 379.5h0M260.0 378.7h0M259.4 379.1h0M257.0 376.1h0M257.5 380.5h0M256.2 382.7h0M252.4 377.4h0M253.7 379.4h0M260.5 378.8h0M256.6 378.3h0M255.5 378.4h0M250.5 380.9h0M257.8 377.5h0M251.7 381.7h0M257.0 377.7h0M253.7 379.5h0M255.2 381.2h0M255.1 381.7h0M253.6 381.9h0M253.4 381.2h0M257.9 376.3h0M251.6 383.1h0M252.3 378.9h0M263.6 378.1h0M253.7 378.5h0M252.8 379.3h0M252.9 381.6h0M258.0 382.3h0M259.6 378.0h0M254.1 382.3h0" stroke="#9c9c9c" stroke-width="0.54" stroke-linecap="round" fill="none" opacity="0.44"/><path d="M250.5 373.8h0M249.2 370.8h0M251.4 369.3h0M249.9 374.5h0M248.7 373.3h0M246.9 374.1h0M250.0 368.4h0M248.4 375.0h0M245.5 375.9h0M250.5 368.8h0M251.8 372.9h0M248.9 371.5h0M245.6 372.3h0M248.4 371.5h0M252.2 370.6h0M247.9 372.6h0M252.3 372.3h0" stroke="#4a88cc" stroke-width="0.54" stroke-linecap="round" fill="none" opacity="0.62"/><ellipse cx="256.7" cy="367.2" rx="2.3" ry="3.4" transform="rotate(0 256.7 367.2)" fill="#b83a32" opacity="0.18" filter="url(#blur07)"/><path d="M256.2 363.9h0M257.3 369.6h0M256.1 366.4h0M257.5 367.9h0M255.1 365.9h0M255.4 370.8h0M255.8 368.7h0M258.1 369.2h0M258.4 370.1h0M255.2 366.6h0M255.8 366.7h0M258.6 365.4h0M257.4 365.0h0M258.3 369.5h0M256.1 370.9h0M256.8 369.5h0M257.1 366.2h0M256.2 367.0h0M257.4 367.4h0M259.5 366.9h0M256.1 365.9h0M255.8 364.6h0M255.5 368.8h0M256.8 366.9h0M257.1 369.1h0M257.4 368.6h0M256.0 366.7h0M255.8 367.0h0M255.7 366.5h0M256.5 366.8h0M256.4 366.3h0M258.3 366.6h0M255.5 367.5h0M255.4 365.3h0M256.8 364.2h0M254.4 367.5h0M257.9 364.2h0M255.6 368.2h0M254.3 365.6h0M255.3 366.8h0M254.3 368.8h0M256.5 367.7h0M256.3 363.4h0M256.5 364.8h0M256.7 365.7h0M256.3 366.8h0M257.6 368.6h0M255.5 367.2h0M258.5 368.1h0M255.8 367.0h0M256.3 368.9h0M256.7 367.9h0M258.3 365.7h0M255.5 364.1h0M254.8 368.7h0M257.1 370.1h0M254.3 365.6h0M258.4 369.0h0M257.8 368.7h0M256.7 367.2h0M256.7 368.7h0M256.5 367.8h0M258.4 365.2h0M255.8 368.2h0M256.4 366.9h0M259.2 367.9h0M256.2 369.2h0M258.5 366.0h0M255.9 367.4h0M255.9 371.1h0M257.3 366.5h0M257.3 365.8h0M256.0 367.4h0M258.4 364.8h0M257.2 369.6h0M257.6 370.6h0M257.2 367.5h0M256.5 365.7h0M258.7 365.1h0M256.6 366.3h0M255.8 363.3h0M256.2 367.4h0M256.9 368.7h0M256.5 366.1h0M257.1 368.4h0M255.6 364.5h0M255.5 369.1h0M257.9 365.6h0M256.8 368.7h0M258.3 366.0h0" stroke="#b83a32" stroke-width="0.54" stroke-linecap="round" fill="none" opacity="0.85"/>
<path d="M256.1 409.5h0M266.6 407.0h0M250.5 404.7h0M255.7 402.1h0M253.5 400.0h0M257.5 411.5h0M262.0 404.6h0M257.8 398.6h0M256.2 408.6h0M262.8 412.3h0M259.2 402.3h0M247.5 404.4h0M246.8 410.1h0M253.7 402.4h0M249.2 399.9h0M251.8 408.1h0M259.1 396.5h0M245.5 402.1h0M254.6 396.8h0M261.3 401.5h0M258.3 399.4h0M254.0 400.1h0M247.6 405.6h0M260.1 393.7h0M258.2 408.2h0M259.1 408.9h0M255.9 402.4h0M249.5 397.8h0M246.2 397.9h0M259.1 405.0h0M264.9 403.1h0M251.4 404.6h0M256.7 411.4h0M269.8 407.2h0M250.5 399.8h0M258.8 398.8h0M260.9 405.9h0M262.8 403.6h0M252.1 398.2h0M256.8 409.1h0M267.4 407.3h0M259.9 405.8h0M262.7 408.9h0M262.9 394.7h0M263.5 404.3h0M254.7 405.0h0M259.4 402.1h0M247.1 403.0h0M261.1 402.2h0M247.7 404.7h0M262.1 403.3h0M260.3 400.6h0M253.5 405.0h0M255.4 403.3h0M269.8 404.6h0M258.4 394.2h0M258.2 406.2h0M253.2 401.2h0M243.5 405.2h0M253.9 405.8h0M266.1 401.6h0M263.7 403.7h0M256.3 401.0h0M252.3 408.9h0M263.1 397.3h0M262.9 398.7h0M248.2 408.4h0M249.6 408.4h0M258.8 406.9h0M260.8 408.2h0" stroke="#b8b8b8" stroke-width="0.5" stroke-linecap="round" fill="none" opacity="0.4"/><path d="M266.1 400.8h0M264.5 402.0h0M263.8 394.7h0M264.7 399.8h0M264.1 400.9h0M266.7 401.5h0M268.8 397.1h0M264.5 400.4h0M263.1 402.2h0M266.1 398.5h0M264.7 399.8h0M263.8 402.8h0M268.2 399.9h0M267.3 399.4h0M268.1 399.4h0M264.2 398.5h0M265.4 402.9h0M266.7 400.4h0M264.9 395.9h0M266.9 397.4h0M264.4 400.8h0M270.2 399.7h0M267.0 395.0h0M263.5 394.7h0M264.2 395.2h0M266.9 397.4h0M267.9 400.5h0M268.1 400.0h0M263.6 398.9h0M263.2 400.7h0M264.5 396.8h0M264.0 401.6h0M262.5 397.0h0M265.4 398.2h0M264.9 399.8h0M268.5 400.0h0M263.4 399.4h0M268.2 399.3h0M263.6 398.0h0M266.6 401.6h0" stroke="#9c9c9c" stroke-width="0.54" stroke-linecap="round" fill="none" opacity="0.44"/><ellipse cx="256" cy="407.2" rx="5.52" ry="3.59" transform="rotate(-8 256 407.2)" fill="#6aa84a" opacity="0.18" filter="url(#blur07)"/><path d="M258.9 406.2h0M260.2 405.5h0M253.4 406.1h0M255.6 410.4h0M252.7 409.9h0M259.7 409.2h0M253.2 410.1h0M257.2 408.8h0M256.0 407.3h0M254.1 408.5h0M253.5 405.6h0M251.0 406.6h0M254.8 409.1h0M254.7 410.0h0M253.7 404.5h0M258.9 409.4h0M252.7 406.8h0M255.6 404.6h0M256.3 409.2h0M253.9 407.4h0M257.6 407.4h0M259.1 408.4h0M253.7 407.7h0M256.8 406.4h0M250.7 407.8h0M255.2 405.6h0M254.9 409.1h0M258.6 403.8h0M252.2 409.2h0M258.2 403.8h0M253.3 409.5h0M256.3 407.6h0M260.7 405.3h0M254.5 405.4h0M252.2 409.8h0M260.3 407.5h0M258.7 407.3h0M257.7 406.9h0M259.7 407.1h0M254.2 408.8h0M257.4 405.2h0M252.4 405.7h0M252.9 409.5h0M256.5 405.7h0M260.6 408.8h0M254.0 407.6h0M259.8 407.0h0M253.9 406.2h0M252.5 408.0h0M257.3 407.3h0M255.6 408.1h0M250.2 408.4h0M258.5 404.9h0M257.0 404.8h0M249.9 406.8h0M255.6 410.6h0M259.3 406.7h0M255.5 405.8h0M257.2 408.3h0M253.5 409.8h0M255.4 407.2h0M256.5 407.0h0M257.5 403.8h0M252.4 409.6h0M256.1 403.5h0M259.0 406.1h0M256.5 410.6h0M253.1 406.7h0M253.5 409.6h0M253.6 409.5h0M255.5 410.5h0M258.8 408.0h0M257.6 410.2h0M254.9 406.1h0M258.4 408.7h0M259.6 406.8h0M254.7 409.6h0M258.0 410.4h0M255.9 406.0h0M251.3 409.4h0M252.4 409.3h0M255.8 410.1h0M255.2 408.6h0M257.9 406.8h0M253.3 409.5h0M252.0 405.6h0M253.2 405.8h0M260.3 408.9h0M251.6 408.7h0M254.3 408.5h0M252.2 406.6h0M252.5 405.5h0M251.4 405.9h0M250.4 408.7h0M254.7 410.0h0M252.2 409.6h0M259.5 406.6h0M258.2 404.2h0M258.1 403.8h0M257.3 407.0h0M255.2 405.7h0M252.1 408.5h0M257.3 409.0h0M259.7 407.9h0M253.1 407.7h0M258.8 404.1h0M259.9 404.8h0M255.0 408.1h0M251.8 412.5h0M258.0 408.0h0M258.4 404.4h0M261.0 408.0h0M252.4 405.4h0M258.0 409.9h0M258.9 407.0h0M254.0 406.2h0M255.1 406.0h0M254.5 405.3h0M260.5 409.0h0M254.8 408.5h0M254.1 404.8h0M255.1 409.3h0M253.5 405.9h0M253.1 408.9h0M258.8 406.1h0M256.8 409.9h0M258.0 405.4h0M254.2 405.4h0M252.9 409.6h0M254.7 407.7h0M255.6 409.5h0M255.2 410.0h0M256.4 409.5h0M258.1 405.8h0M253.9 410.0h0M252.4 406.3h0M257.2 406.3h0M253.2 409.6h0M253.7 410.1h0M260.0 407.0h0M254.0 409.2h0M253.8 405.2h0M260.9 406.0h0M257.9 404.1h0M257.3 407.0h0M252.7 409.3h0M258.3 406.8h0M258.6 408.8h0M258.0 407.7h0M252.5 405.6h0M257.5 403.9h0M259.1 408.5h0M261.8 401.1h0M259.0 407.1h0M254.1 407.2h0M255.2 409.6h0M254.1 406.9h0M252.8 407.5h0M256.4 409.5h0M257.4 410.1h0M251.0 408.8h0M257.2 405.8h0M252.2 407.3h0M259.4 403.8h0M258.0 407.0h0M255.2 404.4h0M255.0 407.2h0M254.9 410.5h0M256.6 406.4h0M258.6 407.7h0M258.6 405.8h0M253.0 405.1h0M252.2 406.6h0M253.9 408.7h0M256.1 409.4h0M252.6 408.0h0M254.8 407.6h0M259.7 407.6h0M254.1 408.4h0M254.2 408.8h0M257.0 410.3h0M259.2 406.9h0M259.9 406.8h0M253.7 409.5h0M255.1 409.8h0M254.9 409.5h0M255.9 406.4h0M256.2 409.1h0M251.6 409.3h0M255.4 410.0h0M260.5 406.3h0M254.5 410.2h0M255.2 406.7h0M260.0 407.4h0M259.7 405.4h0M262.3 404.4h0M260.3 406.7h0M253.5 404.6h0M260.4 408.0h0M255.7 405.0h0M254.3 407.9h0M255.7 406.3h0M258.1 404.1h0M257.6 407.8h0M259.6 406.0h0M257.2 409.4h0M256.9 405.9h0M255.0 407.5h0M253.2 409.5h0M251.1 408.0h0M256.2 406.0h0M258.6 409.4h0M255.0 408.4h0M252.5 406.3h0M251.2 406.3h0M252.5 406.4h0M254.4 409.9h0M256.1 410.2h0M256.1 408.1h0M253.2 409.6h0M252.9 405.9h0M259.0 405.4h0M257.0 410.3h0M254.8 410.3h0M253.8 404.0h0M255.2 408.4h0M256.0 403.9h0M256.3 405.4h0M251.4 407.2h0M256.0 404.4h0" stroke="#6aa84a" stroke-width="0.54" stroke-linecap="round" fill="none" opacity="0.85"/><path d="M252.7 398.6h0M252.8 399.3h0M252.0 397.1h0M249.6 401.1h0M249.5 402.9h0M251.7 402.9h0M249.1 402.7h0M250.8 399.0h0M251.7 397.3h0M249.3 397.2h0M252.8 398.4h0M253.2 401.8h0" stroke="#9c9c9c" stroke-width="0.54" stroke-linecap="round" fill="none" opacity="0.5"/><ellipse cx="256.7" cy="395" rx="2.3" ry="3.4" transform="rotate(0 256.7 395)" fill="#9c9c9c" opacity="0.22" filter="url(#blur07)"/><path d="M255.3 397.4h0M256.8 396.9h0M255.4 397.1h0M258.0 394.3h0M255.7 394.3h0M256.9 397.6h0M258.0 396.6h0M256.4 394.4h0M257.2 394.5h0M256.1 394.6h0M257.7 394.9h0M257.0 394.5h0M256.5 394.4h0M258.2 395.4h0M258.5 394.7h0M258.0 392.5h0M256.2 394.9h0M255.9 394.8h0M255.6 394.7h0M255.9 395.0h0M256.4 393.2h0M256.2 395.1h0M255.2 395.2h0M258.2 394.6h0M257.4 396.1h0M255.7 397.4h0M258.5 393.9h0M259.3 393.7h0M258.5 391.8h0M258.1 395.3h0M255.2 393.5h0M255.4 393.4h0M257.2 394.7h0M254.9 394.7h0M257.3 395.2h0M257.9 393.0h0M257.0 395.1h0M257.6 392.6h0M255.1 394.7h0M256.8 391.8h0M257.2 395.0h0M257.2 392.2h0M257.3 393.4h0M256.1 396.4h0M258.7 395.3h0M256.6 397.4h0M255.6 394.7h0M256.1 393.3h0M256.9 398.7h0M257.0 395.9h0M256.7 397.0h0M256.9 393.4h0M256.8 397.6h0M256.6 397.2h0M256.6 398.6h0M257.0 396.2h0M256.4 396.5h0M256.4 392.4h0M257.1 392.9h0M258.5 396.4h0M256.7 396.2h0M254.8 396.7h0M255.9 396.2h0M258.6 393.3h0M256.2 395.6h0M257.2 392.0h0M255.6 397.7h0M256.0 396.0h0M255.1 393.4h0M254.5 395.5h0M258.1 395.2h0M256.4 395.4h0M257.3 394.5h0M257.4 398.5h0M259.4 394.0h0M255.2 398.4h0M257.9 397.2h0M257.4 394.6h0M257.9 397.0h0M258.1 393.1h0M258.0 394.4h0" stroke="#9c9c9c" stroke-width="0.54" stroke-linecap="round" fill="none" opacity="0.55"/>
<path d="M255.4 431.8h0M255.5 441.8h0M261.2 431.4h0M256.5 431.3h0M256.2 433.0h0M263.1 434.3h0M249.8 428.4h0M258.2 423.9h0M260.0 429.3h0M258.0 432.0h0M253.8 437.9h0M264.2 427.3h0M260.6 433.8h0M252.9 428.2h0M260.3 422.2h0M249.4 431.7h0M261.6 425.4h0M260.9 436.8h0M259.0 429.8h0M258.1 424.9h0M261.1 431.0h0M262.3 437.3h0M257.9 431.0h0M259.7 438.9h0M248.5 430.0h0M253.7 430.7h0M262.9 430.4h0M262.3 431.0h0M253.2 426.7h0M249.0 431.2h0M255.2 434.3h0M263.7 425.6h0M250.9 433.1h0M252.2 431.1h0M261.5 428.1h0M268.8 426.1h0M260.3 428.0h0M246.8 429.5h0M256.7 433.0h0M256.8 426.4h0M254.4 428.5h0M262.4 428.7h0M265.4 434.4h0M253.0 435.3h0M243.5 430.2h0M251.5 429.6h0M264.9 430.1h0M256.6 436.5h0M252.9 425.9h0M263.8 433.2h0M248.7 430.8h0M262.6 429.2h0M255.1 430.7h0M259.0 426.5h0M262.9 422.1h0M257.2 440.9h0M251.0 429.9h0M249.1 427.5h0M250.5 430.4h0M254.6 439.4h0M251.9 429.9h0M259.0 433.3h0M263.3 422.1h0M271.4 428.5h0M253.2 421.7h0M254.9 421.1h0M258.8 427.0h0M259.7 426.1h0M258.1 441.3h0M265.0 430.9h0" stroke="#b8b8b8" stroke-width="0.5" stroke-linecap="round" fill="none" opacity="0.4"/><path d="M266.4 423.3h0M268.8 424.9h0M264.8 425.1h0M267.1 424.8h0M264.2 422.5h0M264.5 425.3h0M269.4 428.1h0M266.4 422.6h0M268.9 425.2h0M263.6 428.4h0M268.7 431.9h0M263.3 422.9h0M263.4 426.3h0M266.8 429.7h0M268.0 425.5h0M267.5 425.2h0M262.4 423.2h0M264.4 428.8h0M264.9 426.6h0M262.9 425.8h0M265.6 428.6h0M265.7 429.1h0M268.1 427.4h0M269.0 425.3h0M263.9 427.7h0M267.1 426.1h0M264.0 422.5h0M262.8 422.8h0M265.6 429.9h0M263.9 426.2h0M267.2 427.1h0M265.1 430.5h0M263.9 430.5h0M264.8 423.3h0M267.8 428.4h0M266.3 425.8h0M265.2 430.5h0M267.4 428.5h0M265.5 423.6h0M264.1 423.0h0" stroke="#4a88cc" stroke-width="0.54" stroke-linecap="round" fill="none" opacity="0.62"/><ellipse cx="256" cy="434.8" rx="5.52" ry="3.59" transform="rotate(-8 256 434.8)" fill="#9c9c9c" opacity="0.23" filter="url(#blur07)"/><path d="M255.2 433.5h0M255.2 435.0h0M253.4 436.7h0M260.5 433.3h0M253.2 434.1h0M258.5 435.9h0M258.5 432.4h0M252.3 437.3h0M256.8 431.6h0M254.0 436.7h0M254.7 437.4h0M254.9 437.7h0M250.6 436.2h0M252.9 437.5h0M256.5 432.4h0M255.6 432.9h0M259.9 433.4h0M252.0 436.6h0M256.2 432.1h0M254.0 437.4h0M250.0 438.1h0M254.0 434.0h0M258.2 434.4h0M259.9 435.2h0M257.6 432.5h0M254.5 432.1h0M253.4 434.3h0M252.0 434.3h0M259.7 436.9h0M254.8 431.6h0M252.1 434.2h0M258.7 437.1h0M254.4 433.5h0M254.3 435.7h0M252.0 436.1h0M250.8 434.0h0M255.9 433.8h0M254.2 432.5h0M254.2 436.3h0M255.1 434.8h0M254.8 433.9h0M259.6 431.6h0M257.1 435.9h0M256.9 431.5h0M251.1 435.7h0M258.9 429.3h0M254.4 432.3h0M257.8 433.3h0M255.0 437.0h0M251.9 434.1h0M256.7 436.5h0M259.8 437.4h0M252.7 436.2h0M259.7 432.8h0M253.7 437.3h0M259.7 431.9h0M254.6 436.2h0M260.2 435.0h0M258.0 432.1h0M257.0 435.1h0M259.8 434.0h0M257.6 435.0h0M254.9 433.3h0M253.6 432.7h0M253.0 435.6h0M254.4 436.6h0M255.5 436.5h0M254.4 438.6h0M260.3 436.5h0M252.7 435.1h0M255.7 432.0h0M254.4 432.8h0M253.4 436.7h0M251.7 434.9h0M257.9 433.4h0M255.8 435.5h0M253.8 433.8h0M259.3 431.7h0M254.1 432.4h0M253.1 436.8h0M260.8 434.0h0M258.5 435.2h0M251.9 434.6h0M258.4 432.3h0M261.0 435.7h0M258.8 436.7h0M259.5 436.1h0M251.7 436.7h0M253.9 434.3h0M259.5 432.5h0M252.1 436.3h0M251.9 434.0h0M257.7 438.6h0M260.4 435.6h0M259.6 433.6h0M254.1 433.8h0M254.9 432.0h0M263.6 434.8h0M256.4 435.4h0M250.4 436.2h0M256.2 438.0h0M253.1 433.2h0M259.8 435.0h0M257.1 432.9h0M258.0 437.1h0M256.5 436.7h0M255.3 434.1h0M256.5 436.7h0M254.0 431.9h0M253.6 433.6h0M254.6 435.0h0M253.4 436.8h0M268.2 434.5h0M255.2 436.0h0M257.9 433.7h0M250.8 435.5h0M256.4 436.4h0M260.6 435.7h0M258.2 437.4h0M252.5 433.3h0M255.7 434.1h0M257.6 435.8h0M264.8 434.6h0M257.1 435.1h0M251.6 433.4h0M258.9 435.9h0M258.1 435.6h0M257.4 436.0h0M254.7 435.9h0M252.3 435.2h0M260.0 434.9h0M255.8 435.1h0M252.9 434.0h0M257.7 434.1h0M254.9 433.0h0M256.9 434.3h0M255.2 437.8h0M254.1 432.0h0M252.5 437.3h0M260.6 436.6h0M258.1 432.8h0M260.6 433.3h0M260.1 431.8h0M252.9 432.5h0M252.9 436.7h0M256.1 433.9h0M255.7 436.8h0M257.8 437.0h0M258.5 434.3h0M255.1 433.6h0M257.8 437.3h0M256.2 434.8h0M254.7 437.0h0M255.1 434.3h0M256.8 437.3h0M259.1 431.4h0M255.0 436.9h0M255.5 432.5h0M259.4 437.2h0M257.7 437.5h0M259.3 434.8h0M255.2 432.3h0M257.2 434.5h0M259.4 434.8h0M254.2 432.8h0M254.9 435.8h0M258.4 434.7h0M256.9 435.5h0M259.4 436.5h0M255.2 435.9h0M254.9 431.7h0M251.3 433.8h0M258.6 434.1h0M253.4 433.4h0M252.7 435.6h0M251.7 435.2h0M260.4 437.0h0M260.4 434.0h0M252.2 436.1h0M252.3 437.4h0M253.3 436.6h0M257.1 434.6h0M260.1 435.6h0M258.6 436.5h0M256.0 432.4h0M253.1 437.5h0M260.7 434.4h0M257.6 435.6h0M255.9 433.9h0M257.2 437.1h0M260.9 435.2h0M259.6 437.0h0M260.1 434.9h0M259.8 432.3h0M259.9 435.0h0M254.9 438.0h0M255.1 434.2h0M259.8 433.4h0M254.7 431.7h0M259.6 434.9h0M250.5 434.5h0M256.4 437.4h0M258.9 437.3h0M254.6 436.8h0M255.2 432.6h0M258.0 435.4h0M251.2 435.5h0" stroke="#9c9c9c" stroke-width="0.54" stroke-linecap="round" fill="none" opacity="0.44"/><path d="M248.5 429.3h0M248.5 427.0h0M247.0 425.9h0M246.7 425.4h0M246.9 430.0h0M247.5 429.4h0M248.3 430.0h0M250.7 424.2h0M247.2 430.3h0M249.1 429.2h0M251.6 426.8h0M250.8 429.2h0" stroke="#9c9c9c" stroke-width="0.54" stroke-linecap="round" fill="none" opacity="0.5"/><ellipse cx="256.7" cy="422.6" rx="2.3" ry="3.4" transform="rotate(0 256.7 422.6)" fill="#9c9c9c" opacity="0.22" filter="url(#blur07)"/><path d="M255.1 419.7h0M257.5 423.3h0M256.7 421.3h0M257.5 421.4h0M255.9 422.8h0M256.4 424.4h0M256.4 425.4h0M258.4 423.1h0M257.0 421.1h0M256.9 423.4h0M258.6 424.1h0M256.5 422.4h0M255.1 423.3h0M256.6 423.0h0M255.7 423.4h0M257.8 422.3h0M258.8 420.9h0M256.1 422.2h0M256.9 421.9h0M256.2 422.3h0M257.7 423.6h0M257.9 425.4h0M254.4 420.8h0M258.6 421.8h0M255.9 421.0h0M257.0 420.0h0M257.5 424.4h0M255.5 423.7h0M256.3 420.0h0M254.8 421.3h0M256.9 421.9h0M256.9 423.0h0M257.7 424.9h0M256.2 424.4h0M255.2 423.1h0M256.3 425.6h0M255.6 425.6h0M256.7 422.5h0M256.2 422.4h0M257.0 422.2h0M256.5 425.6h0M255.2 421.2h0M255.5 423.7h0M257.1 424.5h0M256.6 425.3h0M257.2 423.2h0M257.2 424.7h0M256.6 422.5h0M259.0 422.3h0M256.2 423.3h0M257.6 420.0h0M257.6 425.3h0M257.9 418.8h0M256.9 423.5h0M257.1 423.7h0M258.8 420.3h0M256.1 422.8h0M256.2 423.7h0M255.6 420.3h0M256.9 420.7h0M255.4 423.1h0M255.8 424.0h0M256.0 420.0h0M256.0 424.6h0M256.9 423.0h0M255.8 423.7h0M257.2 422.7h0M255.2 423.7h0M256.9 422.2h0M256.2 424.2h0M256.5 423.5h0M254.8 420.8h0M256.1 423.3h0M256.9 422.8h0M256.8 421.3h0M256.4 419.5h0M257.4 423.2h0M255.9 425.4h0M256.6 421.1h0M255.6 423.1h0M254.6 423.2h0" stroke="#9c9c9c" stroke-width="0.54" stroke-linecap="round" fill="none" opacity="0.55"/><path d="M263.3 438.0h0M264.3 436.6h0M265.2 436.7h0M264.1 437.9h0M263.8 438.0h0M263.9 437.3h0M262.0 437.4h0M263.2 436.6h0" stroke="#e08a2c" stroke-width="0.54" stroke-linecap="round" fill="none" opacity="0.9"/>
<path d="M301.0 368.6h0M289.0 374.5h0M289.8 378.7h0M283.2 378.1h0M281.5 369.4h0M295.2 376.2h0M290.3 370.0h0M291.3 376.4h0M297.1 376.2h0M285.0 373.1h0M286.3 372.9h0M300.3 375.4h0M287.3 379.6h0M287.4 377.4h0M296.0 376.0h0M290.1 377.0h0M298.0 375.7h0M303.7 375.9h0M286.7 378.8h0M289.6 374.4h0M299.8 379.9h0M284.2 372.6h0M285.2 381.6h0M279.9 374.4h0M297.8 365.4h0M289.6 367.1h0M283.5 376.1h0M284.3 371.7h0M296.2 365.6h0M300.9 377.3h0M284.7 370.1h0M292.7 373.7h0M285.0 375.4h0M294.5 373.6h0M287.8 373.5h0M291.2 368.8h0M290.5 370.3h0M291.6 374.2h0M292.6 382.7h0M298.8 368.6h0M290.6 376.6h0M288.4 366.7h0M304.5 379.0h0M289.4 374.4h0M285.4 375.2h0M301.3 381.0h0M293.9 373.6h0M286.3 375.9h0M289.6 372.5h0M287.8 379.1h0M284.4 375.5h0M278.8 367.8h0M303.4 370.0h0M293.1 371.4h0M291.2 380.2h0M285.7 369.2h0M284.2 382.2h0M290.5 375.5h0M294.6 376.5h0M289.6 365.0h0M295.4 375.6h0M291.5 383.4h0M294.9 372.2h0M298.8 379.3h0M300.8 373.2h0M280.8 376.0h0M291.8 368.6h0M290.0 380.7h0M288.1 370.8h0M288.7 372.4h0" stroke="#b8b8b8" stroke-width="0.5" stroke-linecap="round" fill="none" opacity="0.4"/><ellipse cx="298" cy="373.4" rx="5.7" ry="5.52" transform="rotate(0 298 373.4)" fill="#9c9c9c" opacity="0.2" filter="url(#blur07)"/><path d="M298.7 376.0h0M303.7 371.6h0M301.0 369.4h0M302.0 375.4h0M298.6 372.5h0M297.5 369.8h0M302.0 373.2h0M295.5 369.3h0M297.0 372.2h0M297.2 368.8h0M299.1 377.0h0M296.1 372.8h0M295.3 375.3h0M298.7 377.1h0M302.3 370.9h0M302.1 369.0h0M295.2 371.1h0M301.9 375.2h0M293.9 364.8h0M293.6 370.1h0M300.0 368.7h0M302.5 373.8h0M300.9 370.1h0M303.4 373.6h0M302.6 373.0h0M298.7 368.4h0M301.0 371.2h0M296.1 377.0h0M295.8 375.1h0M300.4 375.0h0M300.9 376.2h0M299.0 370.6h0M299.4 377.2h0M301.2 373.7h0M296.9 377.4h0M297.5 377.8h0M296.2 375.8h0M298.5 369.2h0M301.3 369.8h0M303.1 378.6h0M303.3 373.1h0M293.6 371.5h0M301.4 377.2h0M297.3 379.3h0M301.9 375.2h0M298.7 376.5h0M295.9 377.7h0M303.6 373.1h0M297.9 378.8h0M296.5 372.6h0M300.1 372.7h0M297.8 373.4h0M302.7 375.2h0M294.4 373.5h0M297.6 372.2h0M302.5 371.2h0M297.2 369.1h0M298.5 369.6h0M295.0 372.9h0M300.7 371.2h0M296.4 375.2h0M305.3 371.8h0M296.7 372.6h0M302.1 374.7h0M301.2 372.5h0M298.4 375.6h0M293.3 373.6h0M301.3 372.4h0M296.2 373.0h0M291.0 367.8h0M297.0 370.4h0M300.3 369.5h0M301.0 377.7h0M302.0 371.4h0M291.3 380.4h0M297.6 374.6h0M297.0 374.7h0M299.1 377.0h0M297.0 371.9h0M301.4 374.6h0M297.6 378.8h0M294.2 376.3h0M292.8 371.6h0M302.9 371.8h0M299.3 377.1h0M296.3 372.8h0M297.0 374.0h0M303.2 371.2h0M293.9 376.7h0M297.2 368.4h0M300.1 373.5h0M299.4 369.6h0M301.1 376.1h0M300.7 376.3h0M299.5 369.0h0M297.2 375.5h0M303.2 374.3h0M299.3 370.0h0M300.5 369.2h0M298.7 376.7h0M298.5 368.5h0M297.0 377.2h0M303.2 372.4h0M300.9 372.0h0M302.1 375.1h0M295.9 373.3h0M301.3 374.8h0M293.9 375.7h0M300.3 370.4h0M302.5 375.0h0M296.3 374.5h0M299.7 374.1h0M296.3 374.3h0M293.6 369.8h0M299.5 375.7h0M293.7 371.0h0M300.3 374.1h0M301.0 369.0h0M297.9 374.7h0M293.7 376.1h0M298.2 374.1h0M301.2 365.2h0M302.4 373.8h0M293.6 369.6h0M297.1 378.0h0M298.2 370.8h0M295.6 368.6h0M302.5 372.1h0M296.0 370.8h0M302.2 374.4h0M301.7 376.0h0M298.1 370.8h0M303.1 371.2h0M302.7 372.8h0M294.6 370.2h0M295.0 376.2h0M294.4 369.1h0M298.2 374.4h0M293.6 375.3h0M293.6 372.9h0M296.1 369.6h0M298.2 375.5h0M302.4 369.7h0M294.1 371.5h0M300.2 377.7h0M298.4 376.4h0M298.6 374.9h0M300.1 377.2h0M295.0 370.5h0M296.8 377.3h0M299.1 378.2h0M302.7 372.7h0M298.3 370.7h0M293.9 375.2h0M300.2 378.3h0M292.6 373.5h0M296.8 374.4h0M292.0 369.7h0M298.7 370.1h0M294.1 370.5h0M295.8 369.7h0M295.8 369.2h0M302.2 372.6h0M294.7 373.2h0M299.9 371.8h0M299.9 376.8h0M302.1 375.9h0M307.7 372.1h0M295.3 370.3h0M295.7 376.3h0M300.9 375.8h0M293.0 371.7h0M295.4 378.5h0M297.4 377.8h0M302.2 374.6h0M297.4 375.7h0M294.9 374.7h0M297.4 378.1h0M299.3 369.0h0M302.5 372.8h0M297.9 378.4h0M296.8 370.8h0M297.5 379.0h0M294.7 375.7h0M293.8 372.1h0M297.9 371.8h0M299.3 373.5h0M297.8 374.4h0M293.0 373.5h0M298.4 374.0h0M295.9 378.0h0M294.7 369.1h0M302.2 370.8h0M295.3 376.1h0M301.8 371.5h0M293.1 373.6h0M296.4 372.5h0M299.5 377.0h0M298.7 378.2h0M298.0 368.3h0M302.0 373.3h0M298.7 374.8h0M298.8 374.0h0M295.5 372.7h0M298.4 370.0h0M295.5 368.3h0M294.4 374.7h0M300.6 369.4h0M298.3 371.8h0M295.6 373.3h0M296.7 379.1h0M300.1 368.8h0M298.4 369.9h0M301.0 376.3h0M296.8 370.5h0M295.8 376.1h0M302.1 373.6h0M300.8 376.9h0M295.8 374.9h0M294.1 375.2h0M298.8 369.7h0M295.3 373.5h0M302.1 372.1h0M300.4 376.8h0M298.4 375.4h0M307.6 367.3h0M303.0 373.8h0M302.6 374.7h0M298.6 378.5h0M298.4 377.6h0M294.4 370.8h0M300.1 374.3h0M294.5 371.1h0M293.5 371.6h0M300.2 370.1h0M303.5 372.9h0M296.4 369.6h0M301.4 375.9h0M294.5 370.5h0M295.7 374.5h0M296.3 368.5h0M296.4 377.0h0M294.4 369.6h0M299.6 369.3h0M294.7 374.5h0M295.8 378.3h0M294.0 371.9h0M301.1 373.6h0M300.2 372.7h0M303.4 372.5h0M303.4 374.0h0M296.2 378.9h0M300.2 369.1h0M296.3 373.4h0M293.1 373.5h0M296.9 371.5h0M301.8 374.8h0M297.2 370.0h0M297.3 369.5h0M299.3 376.1h0M293.1 370.0h0M303.1 374.9h0M299.4 378.1h0M300.6 370.2h0M294.5 374.0h0M295.9 372.3h0M298.6 374.0h0M297.7 370.1h0M294.1 370.3h0M300.9 371.3h0M298.2 379.2h0M300.1 377.6h0M295.5 375.5h0M296.5 375.1h0M301.9 375.9h0M297.2 370.0h0M301.6 370.1h0M303.1 370.4h0M296.6 372.5h0M295.8 377.4h0M298.0 371.7h0M293.1 373.8h0M300.6 376.8h0M295.0 370.8h0M295.4 374.2h0M301.5 372.5h0M293.4 372.4h0M300.7 374.8h0M293.5 373.5h0M299.0 374.0h0M297.1 375.8h0M298.6 373.9h0M298.1 371.4h0M297.8 371.9h0M295.1 373.6h0M294.0 373.2h0M303.1 374.3h0" stroke="#9c9c9c" stroke-width="0.54" stroke-linecap="round" fill="none" opacity="0.44"/><ellipse cx="288" cy="383.6" rx="2.67" ry="2.3" transform="rotate(0 288 383.6)" fill="#9c9c9c" opacity="0.26" filter="url(#blur07)"/><path d="M288.4 382.9h0M287.0 383.4h0M290.2 382.8h0M285.8 383.0h0M286.8 383.7h0M285.8 384.3h0M287.7 384.4h0M286.5 383.8h0M286.5 383.4h0M288.6 383.6h0M292.2 382.7h0M289.7 383.0h0M289.5 384.6h0M286.1 384.6h0M287.4 382.8h0M286.2 384.4h0M288.2 386.5h0M285.1 384.0h0M287.8 381.5h0M286.7 384.5h0M289.7 383.8h0M285.9 382.9h0M285.6 383.5h0M286.7 381.9h0M285.9 383.7h0M288.5 384.6h0M287.4 383.6h0M289.1 381.9h0M289.0 383.3h0M286.9 383.9h0M288.4 384.5h0M286.1 381.5h0M289.5 383.2h0M289.8 382.8h0M288.0 381.5h0M290.1 384.5h0M287.3 383.2h0M289.1 385.6h0M287.6 383.2h0M287.9 382.8h0M284.5 385.4h0M288.1 384.2h0M289.3 381.9h0M288.0 383.4h0M287.0 385.5h0M289.8 386.1h0M287.9 384.2h0M290.3 383.2h0M290.1 384.7h0M289.2 381.7h0M289.6 383.4h0M286.6 382.2h0M289.2 383.2h0M289.2 382.6h0M285.7 382.1h0M285.9 382.9h0M289.1 385.4h0M288.3 384.8h0M287.8 381.9h0M290.2 384.3h0M289.3 381.7h0M287.7 385.0h0M288.6 382.6h0M287.4 383.8h0M285.8 382.1h0M289.9 384.4h0M287.6 384.5h0M286.3 383.8h0M287.4 382.6h0M287.9 385.5h0M286.2 382.6h0M285.4 383.2h0M288.5 382.2h0M287.4 383.1h0M289.9 384.7h0M290.0 382.7h0M287.2 384.6h0M291.2 385.9h0M290.5 383.7h0M288.3 382.0h0M289.7 384.4h0M290.4 383.9h0M287.7 383.1h0M290.1 384.7h0M289.6 382.8h0M288.3 381.9h0M286.8 382.4h0M288.5 384.2h0M287.4 385.6h0M288.1 382.7h0M289.0 383.1h0M286.6 382.9h0M289.5 385.2h0M286.2 382.4h0M286.5 384.3h0M287.2 383.0h0M289.8 383.7h0M289.3 385.0h0M288.5 385.3h0" stroke="#9c9c9c" stroke-width="0.54" stroke-linecap="round" fill="none" opacity="0.44"/><ellipse cx="282.6" cy="374.2" rx="5.52" ry="3.5" transform="rotate(-20 282.6 374.2)" fill="#4a88cc" opacity="0.14" filter="url(#blur07)"/><path d="M282.0 373.6h0M280.6 375.5h0M281.3 373.9h0M283.9 375.9h0M277.7 377.0h0M285.1 375.8h0M284.6 374.9h0M282.8 374.7h0M284.9 371.0h0M283.8 375.6h0M279.2 373.6h0M283.4 375.6h0M286.9 373.7h0M285.3 370.8h0M286.2 372.3h0M280.3 376.9h0M285.4 374.0h0M278.5 376.7h0M286.1 371.5h0M282.9 371.9h0M282.4 371.9h0M281.7 375.8h0M286.9 374.9h0M277.9 376.0h0M285.5 371.6h0M281.3 371.3h0M278.9 374.0h0M277.7 375.3h0M284.7 375.8h0M280.6 371.9h0M285.3 377.1h0M280.3 372.7h0M279.5 371.8h0M279.2 373.6h0M278.9 375.5h0M284.3 371.9h0M279.4 372.5h0M285.2 374.1h0M283.7 370.4h0M277.7 376.3h0M278.2 374.1h0M288.0 374.4h0M278.8 373.6h0M282.0 377.6h0M284.0 373.5h0M281.0 370.9h0M282.7 375.2h0M283.2 376.5h0M283.8 374.7h0M282.9 372.8h0M285.5 372.9h0M282.7 373.6h0M282.2 370.9h0M277.5 376.2h0M287.0 374.2h0M284.4 374.9h0M282.7 371.3h0M285.1 373.8h0M282.0 373.2h0M282.0 376.5h0M283.6 374.7h0M286.0 372.2h0M286.4 375.1h0M284.1 371.3h0M286.0 371.2h0M281.2 375.2h0M284.2 376.5h0M287.5 372.6h0M283.0 376.5h0M282.0 369.8h0M281.1 373.9h0M285.5 374.3h0M278.5 374.9h0M281.7 376.4h0M281.6 372.2h0M284.5 375.7h0M278.4 377.1h0M280.2 374.2h0M282.0 373.3h0M283.1 375.8h0M284.6 376.0h0M283.6 376.1h0M283.9 371.0h0M284.6 374.7h0M277.8 375.8h0M282.9 373.7h0M281.2 377.3h0M281.7 375.7h0M283.9 375.7h0M283.3 372.9h0M283.6 375.5h0M280.5 371.7h0M287.3 372.0h0M283.0 374.8h0M277.7 376.3h0M283.1 372.3h0M281.8 374.1h0M286.5 372.0h0M282.0 373.9h0M282.3 377.2h0M278.8 375.8h0M283.6 371.8h0M284.6 375.4h0M286.2 373.6h0M289.6 370.6h0M285.5 373.9h0M282.5 375.3h0M280.9 374.2h0M278.4 374.7h0M285.1 373.2h0M287.9 374.1h0M285.7 376.0h0M287.0 375.3h0M280.5 377.6h0M279.6 374.4h0M283.5 370.7h0M286.8 373.9h0M282.9 374.6h0M282.4 370.9h0M278.4 377.1h0M280.7 371.6h0M286.0 372.2h0M284.4 375.7h0M278.0 375.9h0M285.8 371.4h0M281.0 371.4h0M279.8 376.8h0" stroke="#4a88cc" stroke-width="0.54" stroke-linecap="round" fill="none" opacity="0.62"/><ellipse cx="286" cy="367.2" rx="2.39" ry="2.94" transform="rotate(0 286 367.2)" fill="#b83a32" opacity="0.18" filter="url(#blur07)"/><path d="M288.1 369.2h0M285.4 368.0h0M287.3 368.1h0M285.1 369.1h0M285.1 366.0h0M286.2 367.6h0M285.3 365.2h0M284.5 367.3h0M283.7 369.0h0M286.9 367.6h0M286.3 365.9h0M285.3 368.6h0M285.4 369.7h0M287.3 368.3h0M285.7 365.8h0M285.8 365.8h0M285.6 366.7h0M285.3 369.0h0M284.9 366.1h0M287.5 367.6h0M286.7 366.3h0M286.5 369.3h0M286.1 367.9h0M287.6 368.2h0M287.6 365.4h0M283.8 365.5h0M286.6 366.2h0M284.5 368.9h0M287.7 366.4h0M285.2 366.2h0M286.9 367.9h0M286.2 369.4h0M285.0 365.4h0M286.0 367.2h0M286.2 367.9h0M284.1 369.7h0M283.8 367.8h0M286.5 368.5h0M286.3 366.0h0M285.8 365.1h0M285.8 366.9h0M284.6 369.2h0M285.3 368.1h0M287.7 367.2h0M285.5 365.5h0M285.1 366.1h0M285.8 368.5h0M286.3 369.5h0M286.5 367.6h0M283.7 367.1h0M286.4 365.0h0M286.0 366.2h0M285.8 367.2h0M285.7 367.2h0M286.5 367.7h0M285.2 368.6h0M286.1 367.8h0M287.3 368.8h0M288.8 366.9h0M286.5 368.0h0M286.2 367.0h0M287.1 369.0h0M288.8 366.4h0M286.6 366.1h0M285.7 363.6h0M287.6 365.8h0M286.2 364.5h0M285.6 365.7h0M283.4 365.6h0M285.7 367.0h0" stroke="#b83a32" stroke-width="0.54" stroke-linecap="round" fill="none" opacity="0.85"/>
<path d="M279.1 405.7h0M289.2 396.8h0M300.6 399.0h0M292.6 410.1h0M291.5 402.0h0M297.1 400.3h0M291.6 401.7h0M288.7 406.3h0M292.8 409.6h0M293.6 395.4h0M293.6 401.1h0M289.6 407.4h0M293.7 394.4h0M303.6 401.8h0M281.0 400.8h0M294.1 396.8h0M285.7 393.5h0M292.8 399.8h0M300.6 403.9h0M292.6 399.4h0M297.2 395.6h0M292.9 404.9h0M286.2 396.5h0M298.3 411.7h0M293.5 411.7h0M294.0 401.5h0M288.6 396.3h0M296.8 399.6h0M287.1 404.3h0M294.1 398.8h0M292.4 401.7h0M291.9 401.8h0M289.5 395.1h0M287.4 408.5h0M289.0 403.4h0M294.9 397.4h0M291.5 401.1h0M293.3 405.5h0M291.5 401.4h0M297.0 403.1h0M281.9 408.8h0M293.9 399.5h0M290.7 397.7h0M291.9 395.0h0M297.4 404.8h0M284.9 405.0h0M282.0 399.8h0M284.8 405.9h0M295.4 395.7h0M292.2 405.0h0M289.8 409.8h0M281.3 409.1h0M300.4 400.7h0M284.0 408.5h0M281.8 402.3h0M282.1 402.3h0M287.5 395.9h0M294.5 408.3h0M282.5 405.7h0M291.6 399.0h0M287.7 405.2h0M298.0 401.0h0M281.8 404.8h0M293.5 392.6h0M287.8 402.3h0M289.2 403.9h0M285.5 405.6h0M280.7 403.5h0M287.3 401.8h0M295.1 409.3h0" stroke="#b8b8b8" stroke-width="0.5" stroke-linecap="round" fill="none" opacity="0.4"/><ellipse cx="298" cy="401.2" rx="5.7" ry="5.52" transform="rotate(0 298 401.2)" fill="#9c9c9c" opacity="0.2" filter="url(#blur07)"/><path d="M294.9 403.1h0M296.0 397.3h0M294.6 401.3h0M293.5 402.2h0M297.8 397.2h0M301.4 404.0h0M294.9 404.0h0M300.8 398.1h0M301.9 401.7h0M293.6 399.0h0M301.8 399.7h0M298.0 397.4h0M300.6 399.9h0M292.6 399.9h0M299.7 397.5h0M297.4 403.5h0M300.0 397.8h0M299.2 397.6h0M293.7 403.6h0M300.3 405.8h0M294.9 404.9h0M296.6 397.5h0M303.1 398.5h0M294.5 404.1h0M301.1 403.2h0M296.5 399.3h0M298.0 404.4h0M301.0 397.8h0M298.2 398.0h0M296.4 399.0h0M303.1 398.5h0M300.5 399.8h0M295.3 398.8h0M294.5 398.4h0M293.6 400.9h0M297.2 396.9h0M293.8 402.0h0M301.1 402.9h0M298.6 406.9h0M294.3 401.4h0M299.5 403.4h0M295.9 403.6h0M301.5 399.2h0M298.2 406.9h0M297.5 399.9h0M295.3 406.2h0M298.5 400.4h0M301.7 400.9h0M297.7 405.3h0M295.8 403.2h0M295.8 401.6h0M293.9 399.1h0M295.7 401.9h0M300.1 403.1h0M295.9 402.4h0M296.5 405.3h0M300.4 403.6h0M293.2 399.9h0M299.9 400.4h0M296.2 398.2h0M292.9 401.4h0M294.5 404.0h0M293.0 401.3h0M294.2 403.4h0M301.8 404.3h0M300.3 399.4h0M301.8 402.1h0M294.6 401.1h0M293.8 403.0h0M297.5 403.8h0M296.2 404.5h0M298.5 396.2h0M296.8 405.3h0M297.2 400.3h0M294.7 399.3h0M297.7 401.9h0M298.3 406.3h0M294.7 405.3h0M298.6 405.6h0M298.7 398.5h0M294.5 397.6h0M299.1 405.4h0M301.3 401.5h0M297.8 406.4h0M300.9 404.4h0M298.7 401.5h0M301.2 398.3h0M294.7 403.3h0M293.6 398.2h0M301.9 397.8h0M296.9 404.3h0M297.0 400.0h0M294.4 402.9h0M301.5 398.9h0M297.6 406.8h0M294.3 400.1h0M293.9 399.6h0M295.4 401.9h0M297.9 402.9h0M302.6 402.0h0M300.8 399.3h0M294.9 400.2h0M296.0 406.6h0M306.7 404.3h0M297.6 406.0h0M295.1 401.1h0M294.7 396.9h0M293.9 399.3h0M293.1 401.8h0M295.2 403.0h0M294.1 399.1h0M294.5 398.6h0M297.7 404.9h0M296.5 393.3h0M303.2 400.3h0M295.5 406.2h0M301.8 397.7h0M299.3 405.9h0M302.0 401.9h0M300.6 398.1h0M297.5 401.6h0M301.8 398.0h0M301.2 399.9h0M298.3 397.4h0M298.1 406.3h0M294.2 404.8h0M300.5 404.6h0M298.8 398.2h0M299.0 399.2h0M296.3 401.8h0M295.5 404.9h0M303.8 399.4h0M300.9 404.2h0M295.6 401.6h0M300.4 397.7h0M297.8 398.0h0M296.4 405.7h0M298.6 398.5h0M298.9 401.7h0M301.7 401.6h0M298.9 400.4h0M301.9 403.8h0M298.1 405.8h0M300.1 401.4h0M297.0 396.0h0M298.4 398.3h0M297.3 405.0h0M298.0 405.1h0M293.5 402.6h0M295.1 405.0h0M294.0 404.8h0M300.8 397.5h0M293.5 401.9h0M293.7 393.6h0M297.7 396.9h0M298.5 397.7h0M293.1 400.5h0M293.3 402.3h0M300.7 398.2h0M296.7 397.3h0M300.0 404.0h0M303.0 401.0h0M295.9 396.3h0M301.0 404.9h0M293.5 400.6h0M295.9 399.2h0M294.1 401.9h0M296.7 400.5h0M299.4 398.7h0M300.4 405.9h0M295.5 402.9h0M302.2 397.5h0M300.9 397.6h0M300.4 400.3h0M297.3 402.0h0M297.8 406.8h0M296.1 397.9h0M297.2 404.8h0M298.7 396.4h0M298.9 404.6h0M299.4 405.9h0M295.7 400.7h0M296.9 405.1h0M297.7 397.8h0M297.9 403.8h0M298.6 396.9h0M297.5 398.2h0M297.7 396.6h0M301.7 399.2h0M293.2 402.9h0M293.8 400.8h0M300.8 397.1h0M296.9 397.4h0M301.7 404.4h0M297.3 397.3h0M296.5 404.2h0M295.6 403.5h0M299.8 402.0h0M295.3 400.3h0M295.4 404.1h0M297.8 396.3h0M303.4 399.8h0M293.3 400.6h0M301.2 402.8h0M297.5 400.2h0M301.8 402.3h0M297.1 403.9h0M296.7 396.3h0M299.0 401.6h0M299.5 402.7h0M300.9 405.1h0M293.3 401.8h0M296.9 401.2h0M302.2 399.2h0M295.1 398.1h0M294.6 397.4h0M303.9 400.4h0M295.9 396.6h0M299.7 406.1h0M302.9 401.8h0M297.2 406.9h0M299.3 398.8h0M295.0 403.9h0M297.5 398.8h0M299.4 403.5h0M300.0 403.9h0M295.8 400.0h0M302.0 400.7h0M300.8 401.8h0M296.2 399.6h0M300.8 404.7h0M297.1 404.4h0M293.7 399.9h0M300.4 404.6h0M296.7 399.1h0M302.5 403.2h0M301.4 401.6h0M299.1 406.4h0M292.2 400.3h0M302.4 400.9h0M298.0 400.3h0M300.2 397.5h0M305.7 404.4h0M297.3 406.9h0M301.8 404.2h0M296.6 403.8h0M296.8 401.2h0M299.2 405.8h0M302.0 399.0h0M298.3 397.4h0M300.3 405.5h0M292.9 402.3h0M297.9 399.1h0M295.9 399.0h0M302.8 400.9h0M297.3 406.4h0M294.2 402.2h0M298.0 402.5h0M293.5 400.5h0M297.7 403.6h0M299.4 403.5h0M297.3 399.5h0M294.2 401.9h0M295.6 397.5h0M302.7 399.8h0M295.1 400.8h0M301.9 403.2h0M297.5 404.0h0M293.3 399.6h0M302.9 399.4h0M300.6 403.4h0M299.9 408.5h0M298.9 404.4h0M299.8 404.1h0M302.0 402.3h0M296.5 404.2h0M295.4 402.2h0M297.2 403.5h0M296.8 398.1h0M302.8 402.3h0M297.3 406.7h0M296.5 400.7h0M298.1 400.5h0M299.9 398.0h0M300.8 400.9h0M296.1 396.1h0M298.8 401.3h0M295.0 396.4h0M295.6 397.1h0M301.2 399.1h0M299.0 397.6h0M302.0 402.7h0M300.1 397.1h0M294.3 396.6h0M297.3 398.1h0M299.6 401.2h0M286.5 393.6h0" stroke="#9c9c9c" stroke-width="0.54" stroke-linecap="round" fill="none" opacity="0.44"/><ellipse cx="288" cy="411.4" rx="2.67" ry="2.3" transform="rotate(0 288 411.4)" fill="#6aa84a" opacity="0.18" filter="url(#blur07)"/><path d="M288.1 411.7h0M287.0 412.4h0M290.0 409.8h0M288.8 413.3h0M286.0 411.8h0M288.3 410.3h0M288.2 409.5h0M289.9 412.9h0M288.1 413.2h0M288.7 410.8h0M290.1 412.1h0M287.7 410.5h0M287.8 412.8h0M289.0 411.1h0M289.1 411.7h0M290.2 412.5h0M288.4 413.3h0M289.7 411.2h0M289.0 410.6h0M286.9 412.5h0M288.1 410.4h0M289.5 411.3h0M286.8 409.9h0M287.2 412.1h0M286.9 413.0h0M288.1 410.3h0M288.8 410.1h0M288.3 412.4h0M288.2 411.0h0M285.9 410.7h0M289.4 409.5h0M289.6 411.1h0M288.8 412.4h0M287.7 412.9h0M287.9 412.1h0M289.4 410.6h0M290.0 413.2h0M288.1 410.9h0M286.1 411.5h0M286.0 410.6h0M287.7 412.5h0M287.2 411.8h0M288.6 411.6h0M289.8 411.0h0M286.7 410.4h0M288.5 410.2h0M289.2 411.7h0M285.5 411.7h0M287.9 412.7h0M287.4 412.8h0M287.2 412.0h0M285.4 411.0h0M289.4 410.5h0M288.6 410.7h0M290.3 412.2h0M289.0 411.0h0M287.4 409.9h0M288.7 409.8h0M289.4 410.8h0M285.6 412.4h0M286.7 412.2h0M287.0 409.9h0M285.7 411.1h0M284.8 411.8h0M288.5 410.3h0M289.9 411.1h0M288.4 412.4h0M285.5 410.9h0M290.1 410.6h0M295.2 412.6h0M288.5 409.1h0M290.3 411.6h0M286.2 412.5h0M290.7 410.5h0M287.4 410.2h0M285.4 411.2h0M286.8 411.1h0M288.1 412.6h0M289.2 411.0h0M287.8 409.1h0M287.5 412.7h0M289.7 412.4h0M288.2 413.4h0M286.0 410.7h0M290.2 410.4h0M288.0 411.0h0M288.0 412.2h0M288.2 413.4h0M285.9 411.4h0M287.4 411.1h0M288.6 413.0h0M288.5 412.7h0M287.3 410.4h0M285.2 411.4h0M290.1 409.9h0M286.3 412.6h0M288.5 414.0h0M285.2 411.1h0M287.1 410.0h0M289.5 411.3h0M286.1 412.2h0M287.3 411.7h0M286.5 411.2h0M286.7 410.7h0M285.3 412.1h0M287.6 410.6h0M290.2 411.2h0M288.0 411.5h0M289.7 410.1h0M285.8 410.9h0" stroke="#6aa84a" stroke-width="0.54" stroke-linecap="round" fill="none" opacity="0.85"/><path d="M282.8 400.4h0M281.5 401.7h0M283.6 401.1h0M280.4 399.1h0M279.5 401.1h0M278.9 404.5h0M282.9 399.1h0M278.2 403.3h0M283.4 398.7h0M284.4 401.4h0M281.1 402.5h0M281.9 399.6h0M280.9 404.7h0M286.2 402.9h0M284.9 402.8h0M284.8 401.0h0M286.1 400.2h0M286.7 400.5h0M287.1 400.0h0M288.1 399.2h0M279.8 403.4h0M281.5 403.1h0M282.0 403.6h0M286.3 402.9h0M287.4 402.9h0M288.0 401.3h0M283.7 398.6h0M282.2 403.5h0M285.8 400.0h0M286.0 400.4h0M282.8 405.3h0M285.3 404.1h0M285.3 404.4h0M282.1 402.6h0M285.6 401.9h0M281.2 400.8h0M286.8 401.1h0M284.1 400.6h0M283.2 401.1h0M279.8 403.2h0M281.7 402.3h0M282.6 404.8h0M280.9 400.2h0M278.7 401.9h0M278.5 402.4h0M287.7 401.8h0M287.4 401.1h0M285.3 400.3h0M285.6 398.9h0M279.4 404.1h0M284.7 399.8h0M279.0 402.4h0M282.7 403.7h0M285.2 401.4h0M283.4 398.8h0M286.9 402.5h0M279.2 400.9h0M287.5 400.8h0M284.9 403.2h0M286.9 400.0h0M286.3 403.6h0M285.1 404.3h0M286.0 399.2h0" stroke="#9c9c9c" stroke-width="0.54" stroke-linecap="round" fill="none" opacity="0.5"/><ellipse cx="286" cy="395" rx="2.39" ry="2.94" transform="rotate(0 286 395)" fill="#9c9c9c" opacity="0.19" filter="url(#blur07)"/><path d="M286.6 395.5h0M286.3 394.1h0M284.7 397.2h0M286.6 393.6h0M284.4 396.2h0M287.8 394.9h0M285.5 395.9h0M286.7 396.9h0M285.8 393.9h0M285.9 392.9h0M284.6 394.2h0M285.8 395.1h0M284.2 394.5h0M287.5 393.4h0M285.6 394.3h0M286.8 393.8h0M287.8 394.5h0M286.3 395.3h0M287.8 395.7h0M284.3 395.1h0M285.2 396.8h0M286.7 395.6h0M285.9 393.9h0M287.4 396.5h0M288.9 394.6h0M287.5 393.4h0M286.7 395.0h0M284.7 394.1h0M286.2 394.7h0M285.7 394.6h0M286.0 394.3h0M283.9 395.2h0M288.2 394.7h0M286.2 393.7h0M285.0 393.5h0M284.3 395.1h0M284.9 395.5h0M286.1 392.8h0M288.8 394.5h0M286.2 394.3h0M284.5 395.0h0M286.7 391.7h0M286.1 395.2h0M287.4 393.2h0M285.1 396.8h0M285.1 396.0h0M284.8 393.2h0M287.0 394.1h0M284.6 395.1h0M287.5 394.8h0M287.7 393.8h0M288.1 395.5h0M287.1 396.2h0M285.7 394.5h0M284.3 393.9h0M285.1 396.6h0M285.4 395.5h0M285.9 397.2h0M285.0 393.5h0M286.8 392.3h0M286.0 393.4h0M284.9 394.7h0M288.6 396.4h0" stroke="#9c9c9c" stroke-width="0.54" stroke-linecap="round" fill="none" opacity="0.55"/>
<path d="M296.3 432.3h0M294.2 426.5h0M292.1 429.4h0M295.0 434.4h0M283.7 423.3h0M300.2 424.3h0M295.6 438.6h0M297.7 431.6h0M290.2 430.9h0M294.5 439.2h0M296.6 429.1h0M301.2 430.0h0M299.3 431.4h0M292.4 433.9h0M290.1 426.6h0M290.6 430.4h0M288.7 433.9h0M293.1 431.5h0M288.9 431.2h0M295.4 428.5h0M289.5 431.4h0M292.5 427.0h0M296.3 432.2h0M302.9 424.1h0M283.0 431.4h0M303.1 434.8h0M291.1 426.2h0M293.0 427.5h0M285.9 430.4h0M286.7 428.4h0M286.4 429.0h0M294.0 430.2h0M292.6 424.7h0M281.9 429.4h0M290.9 433.3h0M282.3 434.6h0M290.2 424.4h0M287.3 427.6h0M299.4 427.7h0M293.0 425.4h0M282.4 426.2h0M280.7 428.3h0M289.5 438.7h0M287.9 435.5h0M294.9 434.0h0M292.2 429.2h0M294.0 435.8h0M285.8 423.6h0M287.1 422.6h0M288.1 428.3h0M286.1 428.9h0M298.4 430.2h0M297.9 429.1h0M291.6 423.0h0M298.7 431.5h0M300.1 429.5h0M287.0 440.5h0M284.0 419.8h0M295.8 424.6h0M283.5 431.2h0M285.8 439.0h0M298.9 436.5h0M287.4 434.6h0M286.8 427.3h0M289.4 428.9h0M293.0 428.3h0M299.6 422.9h0M293.4 421.8h0M294.1 436.0h0M300.6 433.2h0" stroke="#b8b8b8" stroke-width="0.5" stroke-linecap="round" fill="none" opacity="0.4"/><ellipse cx="298" cy="428.8" rx="5.7" ry="5.52" transform="rotate(0 298 428.8)" fill="#4a88cc" opacity="0.18" filter="url(#blur07)"/><path d="M299.0 432.5h0M295.6 424.6h0M291.0 423.0h0M300.7 427.1h0M304.5 432.5h0M300.4 426.0h0M299.2 426.1h0M301.2 428.9h0M293.8 428.9h0M303.6 428.9h0M297.1 423.9h0M297.9 426.4h0M292.5 428.4h0M298.6 433.4h0M296.1 431.1h0M295.2 431.2h0M298.9 427.5h0M298.2 431.7h0M291.2 437.4h0M295.5 433.1h0M298.2 423.8h0M302.8 430.0h0M299.1 425.1h0M296.0 424.9h0M298.2 426.7h0M294.1 424.6h0M300.3 426.9h0M294.2 428.2h0M294.4 432.7h0M302.0 425.1h0M303.3 425.9h0M288.7 423.0h0M296.6 430.4h0M293.7 427.1h0M301.5 426.3h0M295.1 429.8h0M295.4 425.5h0M297.2 427.8h0M298.9 432.3h0M298.6 432.6h0M297.9 433.9h0M300.0 425.9h0M298.5 425.7h0M300.5 428.8h0M294.4 428.9h0M299.7 429.9h0M295.6 426.3h0M296.9 432.7h0M299.8 426.5h0M298.8 431.6h0M293.9 427.2h0M298.5 426.3h0M295.5 424.0h0M295.6 431.8h0M292.6 428.4h0M300.5 424.4h0M296.8 430.3h0M299.9 426.0h0M299.0 427.0h0M298.4 425.2h0M295.1 426.8h0M299.3 424.4h0M299.9 430.6h0M294.2 424.6h0M299.4 429.3h0M294.2 427.9h0M299.4 427.9h0M298.7 424.7h0M302.0 427.9h0M294.3 430.7h0M301.8 430.2h0M302.7 427.9h0M300.5 431.7h0M294.7 433.2h0M299.3 433.2h0M300.9 427.0h0M293.5 431.4h0M299.2 432.0h0M294.0 429.5h0M300.6 432.2h0M295.7 430.2h0M296.3 427.5h0M296.4 433.5h0M295.8 428.2h0M303.0 430.7h0M299.4 426.5h0M300.1 431.3h0M294.8 427.8h0M297.2 434.0h0M303.5 428.5h0M303.4 428.9h0M295.4 424.3h0M297.3 428.4h0M298.6 427.9h0M299.3 426.8h0M299.8 424.0h0M298.7 430.7h0M300.9 431.4h0M298.1 426.6h0M295.8 428.1h0M299.4 432.2h0M309.9 427.0h0M294.5 430.3h0M293.7 431.4h0M297.2 433.3h0M296.0 434.4h0M297.1 427.3h0M296.5 426.6h0M294.8 431.2h0M296.0 433.3h0M298.5 426.0h0M294.4 426.8h0M293.2 426.7h0M298.5 430.8h0M299.5 434.1h0M293.7 430.2h0M300.2 430.0h0M294.7 433.2h0M296.6 432.7h0M297.4 430.6h0M298.0 425.7h0M295.3 426.3h0M297.7 430.6h0M292.9 427.7h0M303.3 429.8h0M297.2 424.0h0M300.2 433.1h0M297.8 428.8h0M295.8 429.6h0M303.3 426.3h0M296.6 431.9h0M294.0 432.3h0M294.3 432.9h0M295.5 433.0h0M301.0 432.8h0M296.5 423.8h0M298.2 424.3h0M300.0 427.7h0M302.4 428.2h0M294.5 431.2h0M296.8 424.4h0M298.1 426.5h0M299.2 424.6h0M297.3 428.6h0M296.2 426.5h0M296.3 432.9h0M301.6 424.5h0M293.9 427.8h0M303.2 429.9h0M299.1 426.8h0M299.1 431.8h0M298.6 428.5h0M296.9 424.5h0M295.1 432.7h0M299.8 432.0h0M297.8 431.2h0M300.7 430.7h0M299.4 430.5h0M300.6 430.0h0M297.8 426.6h0M300.9 432.0h0M297.5 427.3h0M300.6 433.1h0M298.4 424.4h0M295.0 430.3h0M295.6 425.5h0M293.6 430.6h0M297.5 432.7h0M299.2 428.2h0M294.3 430.5h0M297.0 427.0h0M297.4 430.3h0M302.7 430.7h0M302.3 426.8h0M294.4 430.1h0M299.9 432.5h0M303.7 428.0h0M299.2 432.8h0M301.2 425.1h0M295.5 433.7h0M301.8 430.8h0M301.6 431.9h0M299.5 432.5h0M296.0 432.1h0M294.6 426.7h0M303.3 426.3h0M300.6 421.8h0M297.4 424.6h0M303.0 426.6h0M295.5 428.3h0M296.4 427.2h0M293.4 424.8h0M301.1 429.3h0M302.7 426.1h0M293.7 429.6h0M294.1 429.2h0M300.0 429.6h0M301.1 432.6h0M302.7 429.2h0M297.9 425.4h0M295.5 423.9h0M297.4 432.7h0M295.4 426.1h0M296.4 430.5h0M297.5 425.7h0M294.3 425.7h0M300.5 424.3h0M293.1 425.4h0M295.5 428.5h0M296.1 430.9h0M298.7 430.4h0M293.7 430.6h0M303.3 426.3h0M294.9 424.1h0M298.5 429.4h0M303.5 427.0h0M299.9 428.9h0M296.0 432.7h0M294.3 430.7h0M301.2 430.1h0M299.0 424.9h0M300.7 429.2h0M301.6 426.1h0M294.5 431.9h0M293.8 429.5h0M297.9 434.5h0M293.6 431.1h0M296.1 430.3h0M297.9 424.6h0M301.6 427.7h0M293.7 424.8h0M301.2 424.9h0M295.8 426.3h0M299.1 424.4h0M296.5 430.3h0M296.8 424.9h0M297.7 425.3h0M303.2 427.3h0M295.5 427.8h0M302.2 430.2h0M297.8 431.4h0M296.9 433.9h0M297.8 432.6h0M297.6 427.0h0M302.2 430.2h0M299.5 431.2h0M302.5 430.2h0M296.1 426.1h0M302.1 426.7h0M293.2 425.4h0M295.9 425.4h0M294.5 429.1h0M295.4 429.0h0M298.0 425.0h0M299.3 432.3h0M299.5 431.6h0M299.9 428.2h0M302.1 431.4h0M300.0 426.4h0M301.4 431.1h0M295.9 425.2h0M295.0 424.8h0M302.9 425.9h0M301.2 427.2h0M293.5 430.8h0M301.5 431.6h0M293.9 429.8h0M293.9 430.9h0M299.1 424.3h0M299.6 432.7h0M298.0 428.9h0M301.8 428.8h0M295.0 431.8h0M300.6 433.4h0M297.3 426.9h0M302.5 426.1h0M295.8 427.2h0M293.9 430.2h0M296.5 428.8h0M298.3 432.5h0" stroke="#4a88cc" stroke-width="0.54" stroke-linecap="round" fill="none" opacity="0.62"/><ellipse cx="288" cy="439" rx="2.67" ry="2.3" transform="rotate(0 288 439)" fill="#9c9c9c" opacity="0.26" filter="url(#blur07)"/><path d="M289.4 438.6h0M289.1 437.5h0M288.3 440.3h0M292.1 440.5h0M288.8 437.8h0M288.5 438.8h0M286.6 440.4h0M290.4 438.9h0M289.7 438.2h0M286.5 438.9h0M288.3 438.2h0M286.7 437.5h0M287.3 438.6h0M287.0 440.0h0M287.1 438.9h0M290.1 439.9h0M287.8 439.0h0M290.0 438.4h0M285.6 439.5h0M286.9 440.2h0M286.3 439.4h0M286.6 438.2h0M286.7 438.8h0M287.1 440.6h0M289.4 439.0h0M286.9 440.6h0M289.9 438.2h0M287.2 439.1h0M287.8 440.9h0M286.5 437.7h0M287.1 438.0h0M283.8 438.5h0M289.3 438.2h0M289.0 440.4h0M289.2 439.9h0M288.4 437.4h0M286.3 439.0h0M287.6 440.6h0M287.8 440.0h0M285.8 438.1h0M286.0 439.4h0M287.2 438.6h0M289.8 440.4h0M287.6 438.6h0M290.1 439.2h0M288.7 440.9h0M290.9 442.2h0M286.6 437.4h0M286.2 439.4h0M289.4 440.8h0M288.2 437.3h0M288.0 439.7h0M286.2 439.0h0M287.0 440.0h0M287.8 440.0h0M286.3 439.8h0M286.8 440.4h0M289.8 438.5h0M287.3 439.7h0M288.4 438.2h0M288.4 438.5h0M287.0 439.7h0M288.8 438.1h0M287.3 438.8h0M287.4 440.1h0M285.3 439.2h0M287.4 437.5h0M290.1 438.0h0M286.9 440.4h0M286.6 439.3h0M289.8 440.2h0M289.3 438.9h0M288.8 439.4h0M287.1 440.1h0M287.7 438.1h0M290.4 439.3h0M286.1 439.6h0M289.6 438.2h0M289.5 437.6h0M289.2 439.9h0M286.6 438.9h0M288.4 440.4h0M287.2 440.6h0M288.5 437.6h0M288.9 437.6h0M289.1 438.5h0M288.9 438.2h0M287.3 440.8h0M290.2 438.3h0M290.0 439.1h0M287.3 440.9h0M286.7 438.8h0M287.0 438.8h0M287.8 439.8h0M285.8 440.0h0M285.9 438.3h0M288.5 439.7h0M289.5 440.8h0M287.5 439.5h0" stroke="#9c9c9c" stroke-width="0.54" stroke-linecap="round" fill="none" opacity="0.44"/><path d="M281.3 431.6h0M282.7 432.4h0M278.4 431.0h0M284.0 424.6h0M284.1 429.4h0M287.0 428.8h0M280.1 428.5h0M278.2 432.0h0M283.0 431.8h0M279.9 429.2h0M284.7 432.1h0M282.9 428.2h0M278.4 432.9h0M277.9 431.1h0M280.4 426.5h0M283.2 431.3h0M281.3 426.1h0M282.4 426.6h0M284.9 426.5h0M283.8 431.4h0M281.8 432.9h0M280.1 427.0h0M278.9 429.8h0M283.6 427.9h0M284.3 427.0h0M285.4 431.8h0M284.1 427.4h0M281.0 430.1h0M278.9 429.4h0M281.9 426.6h0M283.6 431.8h0M283.2 431.7h0M280.3 428.3h0M280.3 427.0h0M286.6 428.3h0M287.5 429.7h0M282.3 429.3h0M288.1 428.6h0M280.7 427.4h0M287.2 430.8h0M282.1 430.0h0M284.3 428.3h0M280.8 426.9h0M279.8 427.4h0M280.1 432.5h0M281.7 429.7h0M280.4 433.2h0M282.9 432.0h0M286.4 427.6h0M281.3 431.0h0M285.6 431.6h0M284.4 426.9h0M285.5 428.9h0M286.7 429.2h0M280.5 430.4h0M283.1 425.7h0M280.8 429.3h0M283.4 428.7h0M283.2 431.0h0M281.5 427.7h0M281.6 432.7h0M282.5 428.7h0M283.6 432.2h0" stroke="#9c9c9c" stroke-width="0.54" stroke-linecap="round" fill="none" opacity="0.5"/><ellipse cx="286" cy="422.6" rx="2.39" ry="2.94" transform="rotate(0 286 422.6)" fill="#9c9c9c" opacity="0.19" filter="url(#blur07)"/><path d="M285.9 422.9h0M285.4 422.4h0M286.2 421.6h0M287.5 423.2h0M284.5 421.5h0M285.9 422.1h0M287.9 421.0h0M286.0 422.4h0M285.8 423.6h0M286.7 421.8h0M285.3 423.2h0M285.9 421.8h0M284.0 423.2h0M285.4 423.4h0M285.2 422.5h0M285.7 419.8h0M286.0 423.1h0M285.9 422.8h0M287.1 420.7h0M284.7 421.6h0M285.0 421.8h0M284.3 422.1h0M286.6 421.5h0M286.8 423.9h0M287.0 423.0h0M283.6 422.4h0M284.1 421.2h0M286.5 420.0h0M286.8 421.7h0M286.8 424.7h0M285.9 421.0h0M286.8 420.6h0M286.0 422.5h0M287.4 419.9h0M286.2 425.5h0M285.8 425.6h0M287.2 420.1h0M286.7 423.2h0M285.1 422.3h0M284.6 424.2h0M286.6 422.1h0M287.1 424.9h0M285.8 422.5h0M286.8 422.4h0M288.2 424.2h0M286.3 422.0h0M284.4 421.6h0M288.7 422.5h0M287.6 419.5h0M284.4 424.0h0M287.4 420.4h0M284.0 420.9h0M286.1 419.1h0M288.1 420.9h0M286.4 423.9h0M285.9 422.6h0M285.5 425.6h0M287.4 422.3h0M285.4 422.5h0M283.2 421.8h0M285.3 424.7h0M286.6 421.1h0M284.2 423.6h0" stroke="#9c9c9c" stroke-width="0.54" stroke-linecap="round" fill="none" opacity="0.55"/><path d="M296.9 437.7h0M296.5 437.4h0M296.6 438.3h0M296.5 436.6h0M297.4 437.7h0M296.2 438.0h0M297.1 436.8h0M295.7 438.2h0M297.4 436.5h0M295.4 438.3h0M298.1 437.6h0M296.4 437.0h0" stroke="#e08a2c" stroke-width="0.54" stroke-linecap="round" fill="none" opacity="0.9"/>
<path d="M331.4 382.5h0M328.6 373.7h0M317.0 367.8h0M318.8 364.6h0M328.8 372.4h0M337.3 380.0h0M326.3 384.9h0M331.9 373.3h0M326.4 371.2h0M322.8 374.4h0M323.6 372.6h0M324.8 375.1h0M334.5 373.6h0M323.7 377.7h0M327.5 368.9h0M324.3 374.0h0M321.4 378.8h0M328.3 371.7h0M333.4 376.5h0M326.4 376.0h0M331.5 378.2h0M321.6 376.3h0M325.4 373.1h0M324.0 380.3h0M326.4 382.5h0M322.4 379.3h0M333.2 372.7h0M326.7 380.3h0M337.8 374.1h0M325.1 376.4h0M330.7 372.7h0M331.7 377.2h0M326.5 369.8h0M330.8 363.4h0M319.9 365.4h0M323.8 373.5h0M323.9 371.1h0M330.8 364.6h0M316.5 376.3h0M333.8 376.6h0M318.5 365.1h0M329.7 376.0h0M326.6 367.7h0M316.5 377.1h0M337.4 379.0h0M329.5 377.0h0M324.9 373.2h0M326.5 370.3h0M328.4 368.1h0M325.6 383.5h0M335.6 370.2h0M331.6 377.6h0M332.2 376.9h0M324.5 380.7h0M332.9 368.4h0M326.6 373.0h0M319.6 375.1h0M324.0 364.2h0M338.4 375.1h0M325.2 375.7h0M320.4 370.3h0M336.9 372.4h0M315.4 376.3h0M331.8 370.7h0M322.2 381.3h0M331.8 368.2h0M323.3 372.6h0M324.9 367.8h0M324.8 369.1h0M330.6 375.5h0" stroke="#b8b8b8" stroke-width="0.5" stroke-linecap="round" fill="none" opacity="0.4"/><ellipse cx="332.4" cy="373.8" rx="5.98" ry="5.43" transform="rotate(0 332.4 373.8)" fill="#9c9c9c" opacity="0.2" filter="url(#blur07)"/><path d="M334.4 376.5h0M334.5 376.2h0M336.4 371.6h0M328.1 377.0h0M330.5 367.3h0M335.6 374.0h0M331.6 372.6h0M332.2 372.7h0M330.0 376.1h0M329.6 377.7h0M328.2 372.0h0M335.9 376.3h0M332.7 364.8h0M327.9 376.0h0M336.1 375.0h0M328.3 371.0h0M328.5 372.9h0M333.8 377.2h0M331.0 371.3h0M332.5 376.1h0M331.6 368.7h0M327.5 373.4h0M330.5 373.4h0M328.4 375.6h0M329.7 373.6h0M335.8 375.3h0M333.7 377.5h0M329.6 370.9h0M329.9 377.3h0M330.2 368.9h0M330.2 369.5h0M336.6 375.0h0M328.8 371.0h0M334.3 369.2h0M332.8 377.2h0M335.4 371.0h0M326.9 374.0h0M330.9 368.9h0M333.6 372.4h0M335.0 373.1h0M331.6 378.1h0M333.9 375.5h0M326.9 375.6h0M330.8 373.3h0M333.8 373.3h0M331.9 377.8h0M334.9 374.5h0M327.2 376.3h0M329.3 369.8h0M329.2 374.0h0M332.1 378.2h0M334.9 373.6h0M331.2 372.5h0M330.1 377.4h0M329.9 372.4h0M335.8 373.5h0M336.3 374.7h0M336.6 372.3h0M330.4 375.6h0M332.6 372.8h0M333.4 377.9h0M332.8 370.4h0M335.5 374.1h0M330.8 370.4h0M334.3 374.4h0M329.2 369.9h0M329.5 371.9h0M331.3 377.1h0M329.6 376.4h0M336.2 373.0h0M334.4 376.9h0M333.8 376.9h0M331.5 372.7h0M332.7 373.3h0M332.3 372.6h0M333.8 373.5h0M335.3 373.3h0M332.5 373.4h0M329.9 377.9h0M332.0 373.1h0M326.3 374.7h0M334.7 369.5h0M329.4 372.0h0M336.8 373.2h0M328.4 372.6h0M330.9 376.7h0M329.4 371.7h0M332.6 375.3h0M327.4 372.9h0M329.5 378.2h0M333.8 378.6h0M337.6 375.4h0M335.7 372.4h0M326.8 377.9h0M330.9 371.8h0M337.3 374.1h0M327.8 377.4h0M338.0 376.4h0M328.7 372.3h0M329.3 370.2h0M329.8 376.8h0M336.4 376.8h0M333.8 370.8h0M337.5 373.4h0M334.4 374.8h0M329.1 377.1h0M330.7 370.3h0M334.6 375.9h0M326.8 372.5h0M333.9 377.5h0M336.5 373.9h0M330.1 370.9h0M330.6 374.5h0M336.0 369.7h0M331.9 369.4h0M329.0 373.3h0M326.4 375.1h0M332.4 377.8h0M329.4 374.0h0M331.0 372.5h0M327.1 375.1h0M334.7 372.4h0M337.4 375.7h0M336.3 372.4h0M327.5 372.5h0M328.8 376.9h0M331.8 375.9h0M332.4 374.6h0M327.5 376.2h0M328.8 371.5h0M335.9 373.0h0M328.5 375.6h0M332.3 370.9h0M331.6 374.1h0M334.5 373.8h0M332.5 372.9h0M331.7 374.2h0M329.2 378.1h0M331.4 371.0h0M337.4 374.1h0M338.1 375.9h0M331.0 377.1h0M333.1 375.1h0M332.4 375.1h0M333.0 375.0h0M334.5 370.7h0M334.1 372.1h0M337.8 375.2h0M328.9 372.1h0M336.5 371.1h0M331.5 371.4h0M331.4 373.7h0M335.2 372.9h0M336.0 373.5h0M330.4 375.9h0M335.9 372.4h0M330.4 372.2h0M334.2 372.9h0M332.0 371.4h0M327.8 374.1h0M329.4 372.8h0M323.1 371.9h0M326.6 375.0h0M333.4 377.8h0M339.5 377.9h0M331.0 372.0h0M335.2 372.4h0M330.7 376.1h0M330.4 369.5h0M328.7 370.8h0M334.7 375.0h0M335.0 375.7h0M332.2 369.9h0M329.5 370.6h0M329.6 376.8h0M335.3 376.8h0M332.6 370.7h0M331.6 369.4h0M334.1 376.7h0M330.7 374.0h0M333.0 373.8h0M327.2 377.1h0M331.5 377.2h0M335.9 370.7h0M336.8 371.0h0M335.0 368.8h0M335.2 372.6h0M333.5 368.5h0M335.9 371.0h0M335.7 372.7h0M335.3 372.2h0M336.3 370.8h0M330.6 377.0h0M333.7 370.7h0M332.7 371.8h0M327.9 372.4h0M332.6 378.6h0M331.2 375.2h0M335.6 374.4h0M333.7 374.0h0M332.8 375.4h0M334.4 375.3h0M328.8 377.0h0M330.7 371.6h0M332.4 375.3h0M332.4 374.1h0M334.3 374.4h0M333.5 377.0h0M330.6 377.9h0M336.2 371.3h0M329.0 375.2h0M334.0 373.8h0M334.5 370.0h0M335.6 373.8h0M330.2 374.1h0M331.5 376.5h0M335.9 371.5h0M330.5 370.8h0M328.1 370.7h0M333.2 373.1h0M334.4 376.4h0M335.1 371.1h0M335.0 369.3h0M334.3 374.2h0M327.7 371.2h0M334.5 376.0h0M332.3 369.5h0M332.6 370.2h0M337.4 376.0h0M330.9 368.6h0M334.5 373.9h0M328.8 373.5h0M331.9 378.7h0M327.5 376.2h0M334.2 368.9h0M332.5 377.4h0M331.8 378.5h0M332.8 377.0h0M334.8 376.2h0M327.7 370.6h0M332.2 370.1h0M335.5 371.3h0M331.3 375.5h0M332.5 375.2h0M329.8 377.7h0M333.1 377.4h0M326.6 373.4h0M331.9 373.5h0M335.2 377.2h0M336.3 372.6h0M337.2 376.4h0M330.8 377.2h0M331.9 373.5h0M329.6 369.7h0M330.8 371.6h0M335.2 372.7h0M332.2 377.2h0M329.9 371.0h0M330.4 375.2h0M335.2 373.4h0M334.4 372.8h0M331.8 371.6h0M328.6 370.8h0M333.1 369.1h0M331.5 371.0h0M331.2 374.1h0M338.2 375.0h0M335.8 371.2h0M336.0 374.7h0M335.1 377.8h0M331.0 374.3h0M336.2 369.5h0M337.8 374.2h0M336.6 374.8h0M336.6 373.6h0M329.1 375.5h0M335.9 375.8h0M334.9 378.4h0M331.5 369.5h0M332.0 375.9h0M331.7 375.5h0M336.8 378.0h0M329.8 369.2h0M334.8 371.7h0M327.8 375.1h0M332.8 370.2h0M335.4 371.1h0M329.7 374.4h0M332.1 376.8h0M331.6 376.6h0M328.4 371.0h0M332.2 375.9h0M328.1 376.9h0M334.0 378.1h0M330.2 374.4h0M334.5 369.3h0M333.9 372.7h0" stroke="#9c9c9c" stroke-width="0.54" stroke-linecap="round" fill="none" opacity="0.44"/><path d="M322.9 380.9h0M322.2 382.0h0M323.3 383.4h0M321.4 381.0h0M325.7 380.3h0M322.5 381.7h0M323.8 382.2h0M325.5 382.4h0M325.7 382.1h0M322.5 379.7h0M321.2 381.0h0M325.3 381.4h0M327.0 381.8h0M321.0 382.4h0M323.5 382.7h0M324.9 379.6h0M323.6 383.0h0M325.9 380.0h0M325.9 380.7h0" stroke="#9c9c9c" stroke-width="0.54" stroke-linecap="round" fill="none" opacity="0.44"/><ellipse cx="316.6" cy="374.4" rx="4.51" ry="4.6" transform="rotate(0 316.6 374.4)" fill="#4a88cc" opacity="0.18" filter="url(#blur07)"/><path d="M313.7 371.2h0M314.5 377.2h0M316.2 372.3h0M315.2 371.6h0M321.2 373.1h0M319.7 371.6h0M318.6 367.8h0M319.6 377.0h0M319.1 375.2h0M315.9 376.4h0M317.0 373.7h0M320.7 372.7h0M314.5 373.4h0M319.4 371.1h0M317.2 374.5h0M315.6 375.5h0M312.6 375.3h0M315.0 374.7h0M317.9 373.4h0M320.3 373.7h0M314.0 372.2h0M319.3 376.1h0M319.1 374.9h0M313.0 371.8h0M320.1 376.5h0M317.1 373.1h0M315.1 371.8h0M317.9 374.9h0M315.0 375.0h0M313.1 375.5h0M314.5 375.9h0M315.6 371.7h0M318.1 375.7h0M321.1 374.6h0M315.4 374.9h0M315.0 376.7h0M317.2 375.2h0M317.8 375.9h0M317.6 375.7h0M314.3 373.4h0M314.6 374.0h0M315.0 373.6h0M319.0 375.1h0M314.2 376.4h0M309.9 377.0h0M312.6 375.4h0M319.5 376.9h0M313.9 372.3h0M318.1 378.6h0M313.3 376.5h0M313.7 377.3h0M314.2 378.3h0M317.5 378.7h0M317.2 377.8h0M316.8 373.0h0M319.0 372.8h0M313.5 375.4h0M317.0 374.5h0M312.8 373.4h0M316.8 374.5h0M318.9 382.7h0M316.4 376.5h0M316.7 376.6h0M313.0 376.5h0M317.6 374.7h0M313.2 373.8h0M316.0 376.4h0M321.0 373.1h0M316.5 372.0h0M317.5 377.9h0M312.6 372.8h0M317.5 371.0h0M314.2 373.6h0M316.1 372.0h0M315.2 370.0h0M312.8 374.1h0M319.7 376.7h0M314.7 376.4h0M315.2 371.6h0M317.8 378.4h0M318.3 373.5h0M316.5 375.6h0M317.0 374.8h0M315.2 377.8h0M312.6 374.1h0M317.7 372.6h0M317.0 377.3h0M320.8 374.0h0M315.7 378.6h0M321.2 373.5h0M317.7 373.5h0M315.8 376.7h0M317.3 377.5h0M312.3 373.7h0M318.3 375.7h0M320.9 373.3h0M317.6 374.4h0M319.4 380.2h0M314.2 378.2h0M313.1 371.9h0M314.1 373.3h0M313.0 376.5h0M319.4 371.6h0M306.4 375.3h0M314.3 371.3h0M314.7 371.6h0M319.5 373.4h0M319.1 373.6h0M318.1 374.5h0M315.9 374.5h0M313.2 372.8h0M315.7 377.5h0M320.1 372.0h0M317.1 374.0h0M315.7 374.1h0M319.4 374.0h0M317.8 373.0h0M315.0 376.0h0M317.1 379.1h0M318.1 375.0h0M316.3 376.8h0M320.1 375.0h0M318.8 371.0h0M312.9 371.4h0M319.9 373.0h0M318.3 377.8h0M318.3 374.6h0M317.5 373.0h0M313.6 372.3h0M312.5 372.1h0M315.4 379.2h0M315.2 377.3h0M320.6 375.7h0M313.8 374.6h0M317.5 371.3h0M313.7 375.3h0M318.2 373.1h0M313.7 376.7h0M317.0 370.8h0M314.9 372.0h0M317.5 375.3h0M318.1 374.7h0M314.0 372.4h0M317.1 374.9h0M315.8 378.0h0M318.6 372.1h0M317.4 371.6h0M317.8 373.8h0M315.1 376.5h0M312.8 378.9h0M319.2 371.1h0M319.7 375.6h0M319.6 375.1h0M317.4 370.7h0M316.7 373.9h0M318.1 372.4h0M320.3 367.7h0M313.8 373.3h0M312.7 374.7h0M317.7 377.7h0M319.2 376.7h0M320.1 371.6h0M315.1 374.7h0M320.0 374.6h0M320.9 375.4h0M319.6 373.9h0M319.6 372.9h0M320.9 372.2h0M315.8 373.0h0M313.5 376.6h0M314.0 370.8h0M316.1 375.6h0M316.5 373.6h0M319.5 374.3h0M316.1 372.4h0M317.7 371.1h0M313.0 374.1h0M317.9 372.0h0M314.1 371.6h0M313.7 372.5h0M323.5 377.0h0M315.3 375.6h0M314.3 376.4h0M317.8 375.9h0M319.6 375.8h0M319.6 372.2h0M319.7 372.4h0M317.1 375.4h0M319.9 375.0h0M319.1 371.7h0M321.0 374.8h0M320.0 375.2h0M319.9 375.7h0M319.0 374.4h0M313.8 374.9h0M315.2 370.4h0M314.6 376.1h0M314.0 377.2h0M318.6 377.6h0M313.6 376.7h0M318.3 376.6h0M316.1 374.2h0M317.9 371.4h0M317.9 373.4h0M316.2 378.7h0M319.1 375.0h0M319.3 376.9h0M314.7 377.6h0M312.7 374.4h0M317.9 375.9h0M316.1 376.7h0M314.3 372.6h0M317.7 376.7h0M317.6 372.4h0M318.8 376.6h0M315.4 371.7h0M312.4 373.7h0M317.7 372.9h0M316.3 373.8h0M315.2 375.3h0M318.6 376.2h0M315.6 370.7h0M313.2 373.8h0M313.1 376.5h0M313.2 376.5h0M313.3 375.6h0M319.4 374.9h0M314.4 375.3h0M316.6 373.5h0M315.9 377.8h0M317.7 370.9h0M319.1 377.4h0M315.9 377.5h0M318.6 371.2h0M316.6 370.6h0M317.7 377.4h0M316.1 371.1h0M318.3 372.9h0M317.0 374.1h0M315.6 373.9h0M316.3 377.3h0M318.7 375.7h0M313.4 374.7h0M321.6 374.2h0M317.8 375.4h0M316.8 373.4h0M318.7 372.5h0M313.9 371.8h0M315.3 375.0h0M317.7 378.6h0M314.0 374.6h0M315.1 375.1h0M318.6 375.6h0M319.8 373.5h0M319.2 374.8h0" stroke="#4a88cc" stroke-width="0.54" stroke-linecap="round" fill="none" opacity="0.62"/><path d="M320.9 366.2h0M321.6 367.7h0M320.9 367.4h0M319.0 367.6h0M317.8 368.9h0M322.0 367.4h0M321.4 367.6h0M319.3 369.9h0M319.5 370.2h0M321.3 368.5h0M318.7 366.0h0M321.2 368.1h0M321.2 368.1h0M319.5 367.9h0M321.8 369.3h0M321.7 369.7h0M322.1 365.8h0M322.8 366.6h0M321.1 367.3h0M320.9 368.0h0M321.6 368.0h0M318.6 368.9h0M320.0 368.3h0M318.8 369.1h0M320.2 367.8h0M318.7 369.0h0M320.9 369.1h0M321.0 365.5h0M320.3 368.5h0M320.6 370.3h0M320.4 367.3h0M319.7 369.2h0" stroke="#b83a32" stroke-width="0.54" stroke-linecap="round" fill="none" opacity="0.85"/>
<path d="M320.3 402.7h0M332.0 403.8h0M312.6 399.3h0M337.3 402.5h0M322.4 404.2h0M326.2 401.9h0M327.7 407.8h0M322.0 410.1h0M333.4 403.6h0M327.2 403.1h0M326.7 404.7h0M330.3 405.8h0M336.6 402.2h0M325.9 406.1h0M322.8 404.4h0M325.7 396.7h0M321.1 398.8h0M326.7 405.1h0M329.3 406.6h0M324.4 402.5h0M322.0 404.1h0M320.5 391.4h0M323.9 403.2h0M318.5 399.4h0M319.1 405.7h0M328.3 399.2h0M319.3 408.7h0M334.7 405.5h0M328.4 406.0h0M329.7 394.3h0M317.2 406.6h0M329.8 408.5h0M312.6 398.0h0M330.9 397.7h0M326.2 405.5h0M328.8 401.7h0M324.9 408.8h0M339.8 406.0h0M321.6 393.1h0M317.2 404.6h0M337.7 402.9h0M330.5 397.8h0M323.6 399.4h0M324.4 407.3h0M326.8 394.7h0M329.7 409.0h0M324.4 400.0h0M327.3 398.3h0M332.2 403.5h0M336.5 409.0h0M327.7 405.9h0M332.4 405.0h0M321.5 402.2h0M322.6 391.2h0M328.7 405.7h0M328.1 407.4h0M320.7 404.3h0M313.1 398.7h0M323.1 401.3h0M318.3 402.4h0M321.2 402.4h0M321.9 405.4h0M316.3 397.7h0M320.6 404.0h0M329.1 403.5h0M326.1 408.8h0M321.9 398.6h0M330.7 394.5h0M318.4 410.0h0M321.5 402.0h0" stroke="#b8b8b8" stroke-width="0.5" stroke-linecap="round" fill="none" opacity="0.4"/><ellipse cx="332.4" cy="401.6" rx="5.98" ry="5.43" transform="rotate(0 332.4 401.6)" fill="#9c9c9c" opacity="0.2" filter="url(#blur07)"/><path d="M327.2 402.0h0M329.9 397.9h0M327.8 406.0h0M336.1 405.0h0M336.2 400.5h0M333.8 397.5h0M332.1 404.2h0M337.5 401.3h0M336.4 406.0h0M330.6 400.0h0M336.2 402.4h0M336.3 400.4h0M327.6 403.6h0M339.4 394.8h0M327.9 402.9h0M334.3 396.7h0M333.7 406.6h0M332.5 397.4h0M332.4 403.5h0M330.7 401.2h0M337.0 405.5h0M332.8 405.7h0M335.8 405.1h0M330.8 396.5h0M332.8 399.6h0M336.0 405.5h0M334.2 405.0h0M330.8 398.6h0M332.6 400.3h0M327.8 401.1h0M334.0 396.6h0M335.6 399.5h0M333.1 404.7h0M337.9 401.5h0M331.1 404.6h0M334.2 397.2h0M331.7 402.0h0M331.8 404.6h0M329.4 405.6h0M329.3 406.2h0M329.7 397.9h0M331.3 398.8h0M333.2 399.8h0M326.9 401.6h0M330.1 398.4h0M336.2 398.3h0M331.4 406.0h0M331.1 404.3h0M336.3 405.7h0M333.0 396.9h0M336.6 402.5h0M331.0 406.2h0M330.1 402.6h0M333.2 399.3h0M326.6 403.1h0M332.1 398.4h0M327.9 405.1h0M332.5 396.8h0M335.1 398.2h0M341.6 399.3h0M331.9 402.4h0M334.6 400.7h0M331.2 406.1h0M336.6 400.2h0M328.6 400.1h0M333.9 400.2h0M326.8 402.4h0M332.9 402.8h0M336.8 402.0h0M328.2 404.3h0M332.5 397.9h0M329.2 398.2h0M337.8 402.2h0M327.3 400.6h0M327.9 402.8h0M331.0 402.9h0M333.0 403.2h0M332.3 396.8h0M328.5 399.4h0M335.4 401.6h0M331.2 402.5h0M330.6 405.3h0M328.8 399.3h0M336.5 404.1h0M335.2 404.9h0M321.2 399.5h0M328.4 401.3h0M336.2 404.8h0M330.0 400.2h0M334.7 405.9h0M335.0 400.0h0M337.7 400.7h0M332.0 397.0h0M331.8 400.4h0M337.7 402.1h0M335.7 404.2h0M329.9 404.7h0M331.3 401.4h0M335.3 399.3h0M333.9 406.7h0M326.6 403.8h0M332.3 398.6h0M335.2 398.6h0M329.2 404.8h0M333.1 397.0h0M328.0 403.9h0M335.5 402.2h0M333.6 405.1h0M333.1 401.8h0M331.0 400.6h0M330.7 404.8h0M334.6 400.3h0M330.2 397.2h0M327.8 402.8h0M333.6 400.5h0M326.8 403.4h0M327.8 400.3h0M337.5 401.5h0M331.1 399.4h0M337.0 399.6h0M332.8 406.6h0M327.5 402.7h0M327.3 399.6h0M331.3 405.4h0M331.2 397.4h0M335.7 397.4h0M334.2 403.6h0M331.5 406.1h0M333.1 404.5h0M334.0 395.8h0M328.2 404.1h0M329.8 398.7h0M328.5 398.7h0M331.9 403.0h0M336.5 399.8h0M330.9 399.4h0M330.6 398.1h0M332.5 404.8h0M329.8 404.2h0M331.9 405.9h0M335.9 398.7h0M336.0 400.4h0M326.0 408.2h0M336.7 402.8h0M331.7 400.0h0M335.2 400.4h0M333.7 404.6h0M333.7 397.2h0M333.0 401.1h0M327.3 400.6h0M337.0 398.8h0M334.2 397.4h0M331.6 403.6h0M332.6 402.9h0M328.9 403.8h0M326.7 400.8h0M326.2 403.3h0M336.3 403.9h0M329.8 401.3h0M329.8 398.4h0M333.5 396.7h0M331.6 403.1h0M331.1 399.4h0M331.7 403.6h0M328.6 399.4h0M337.6 402.5h0M335.2 400.5h0M334.0 404.9h0M331.5 399.5h0M331.3 400.1h0M334.9 399.7h0M336.9 402.5h0M333.2 398.1h0M327.5 402.1h0M334.0 403.7h0M332.9 406.3h0M331.9 396.9h0M330.5 400.8h0M327.6 404.7h0M336.5 403.0h0M328.5 398.4h0M333.9 401.0h0M335.7 397.0h0M332.3 398.1h0M335.7 404.6h0M326.1 402.6h0M326.5 402.1h0M337.7 403.2h0M336.0 397.5h0M331.0 403.3h0M335.7 398.1h0M331.2 402.9h0M329.1 400.6h0M328.0 401.1h0M334.8 405.8h0M335.0 403.8h0M327.4 403.3h0M333.6 397.0h0M331.0 404.2h0M337.7 405.0h0M331.9 405.9h0M335.5 404.0h0M330.1 404.1h0M333.6 401.8h0M335.6 400.4h0M331.8 402.9h0M335.3 396.6h0M329.8 402.0h0M328.7 403.5h0M332.8 400.2h0M336.8 399.9h0M333.7 406.6h0M330.2 400.3h0M331.5 406.3h0M329.8 398.0h0M331.1 399.9h0M333.5 406.3h0M337.3 400.5h0M334.7 400.4h0M335.7 397.5h0M334.2 396.6h0M335.7 400.8h0M332.8 399.1h0M336.1 399.2h0M332.6 397.5h0M326.4 403.0h0M336.9 404.8h0M335.8 402.7h0M329.9 402.5h0M334.1 402.8h0M336.3 401.7h0M332.7 396.7h0M335.6 401.6h0M331.0 399.7h0M330.1 403.0h0M335.9 401.1h0M331.8 398.6h0M332.9 401.4h0M335.8 399.7h0M327.8 401.0h0M333.1 398.6h0M334.0 401.4h0M334.5 402.2h0M334.3 397.2h0M334.0 399.3h0M335.7 400.8h0M331.7 403.9h0M332.0 402.5h0M332.5 395.9h0M333.7 406.0h0M335.3 401.6h0M329.4 404.4h0M336.8 405.1h0M335.0 401.7h0M336.3 404.4h0M328.5 404.1h0M334.2 404.5h0M327.9 400.7h0M332.0 399.6h0M328.6 402.5h0M328.0 401.4h0M331.2 405.1h0M326.8 402.2h0M328.3 404.0h0M329.7 405.5h0M331.1 402.3h0M329.3 397.8h0M330.7 397.7h0M333.3 396.3h0M335.5 398.4h0M328.9 404.9h0M335.9 401.0h0M328.0 401.2h0M331.1 398.3h0M332.3 400.0h0M336.7 398.5h0M330.1 397.6h0M336.9 405.5h0M336.4 400.1h0M328.0 398.9h0M335.9 406.0h0M331.2 398.0h0M333.6 399.9h0M331.3 401.2h0M328.5 402.3h0M335.7 406.1h0M333.6 400.1h0M335.5 403.7h0M331.1 400.1h0M327.6 399.4h0M331.2 403.9h0M328.2 400.2h0M328.0 399.8h0M328.8 404.2h0M330.6 398.7h0M326.1 401.8h0M327.9 404.6h0" stroke="#9c9c9c" stroke-width="0.54" stroke-linecap="round" fill="none" opacity="0.44"/><path d="M326.2 409.5h0M326.7 409.7h0M326.0 407.6h0M321.4 408.0h0M324.1 411.6h0M325.5 407.8h0M325.3 408.2h0M324.9 409.6h0M320.6 408.2h0M327.3 409.3h0M321.3 409.5h0M327.2 408.6h0M326.3 408.4h0M324.7 409.6h0M324.6 407.7h0M322.9 409.6h0M322.5 408.8h0" stroke="#6aa84a" stroke-width="0.54" stroke-linecap="round" fill="none" opacity="0.85"/><ellipse cx="316.6" cy="402.2" rx="4.51" ry="4.6" transform="rotate(0 316.6 402.2)" fill="#9c9c9c" opacity="0.13" filter="url(#blur07)"/><path d="M314.5 405.7h0M313.6 402.8h0M319.1 404.4h0M313.3 403.7h0M315.6 404.6h0M317.9 399.6h0M315.5 398.7h0M315.9 399.1h0M315.8 404.8h0M317.2 398.2h0M312.5 404.7h0M316.6 400.4h0M318.6 400.0h0M320.7 403.0h0M316.2 401.0h0M316.1 404.3h0M320.3 401.9h0M322.5 404.5h0M313.4 404.9h0M317.6 402.0h0M319.7 399.6h0M319.7 399.0h0M316.7 401.3h0M319.0 400.4h0M316.3 398.8h0M314.4 403.9h0M318.4 404.4h0M319.1 399.5h0M314.5 403.0h0M318.4 401.8h0M318.7 402.9h0M320.6 401.2h0M318.2 402.0h0M313.5 400.6h0M315.4 403.1h0M312.9 395.7h0M313.4 403.0h0M317.2 405.0h0M318.5 401.9h0M317.0 400.1h0M315.6 403.0h0M319.5 404.0h0M319.0 403.5h0M312.9 399.5h0M309.1 397.2h0M316.8 399.9h0M314.0 403.7h0M312.5 401.7h0M317.9 404.6h0M314.1 404.6h0M322.9 404.4h0M317.8 405.4h0M319.9 404.1h0M316.2 403.6h0M315.1 406.1h0M316.8 400.8h0M318.0 404.2h0M318.0 402.7h0M314.1 406.2h0M316.6 404.3h0M317.0 403.7h0M316.7 399.3h0M320.6 401.2h0M318.3 405.5h0M324.2 396.3h0M315.3 400.3h0M313.8 398.2h0M317.8 404.8h0M316.6 401.0h0M319.4 403.9h0M318.3 404.0h0M315.6 400.2h0M318.1 402.9h0M321.1 400.5h0M312.9 401.5h0M313.2 404.7h0M316.1 401.6h0M320.6 400.2h0M315.7 405.6h0M314.5 403.7h0M317.6 404.3h0M314.1 403.4h0M313.0 404.3h0M316.5 407.1h0M318.3 400.6h0M313.6 403.5h0M318.5 401.1h0M315.0 398.0h0M313.4 404.1h0M316.6 402.7h0M313.9 403.7h0M321.1 401.6h0M315.1 401.9h0M313.2 404.4h0M316.6 404.1h0M316.1 402.5h0M314.8 405.1h0M314.9 404.6h0M314.7 401.2h0M313.3 402.7h0M313.2 401.5h0M318.3 405.4h0M313.7 404.5h0M316.2 402.4h0M315.2 399.1h0M319.9 403.1h0M313.6 403.4h0M313.1 399.6h0M319.2 403.3h0M319.5 399.9h0M314.0 405.0h0M317.0 400.6h0M317.3 406.5h0M318.4 405.0h0M316.5 398.2h0M318.9 399.7h0M315.1 400.8h0M317.3 399.8h0M314.3 405.9h0M320.0 403.1h0M316.6 398.8h0M318.8 404.1h0M319.0 399.7h0M316.8 398.8h0M322.2 403.5h0M316.8 399.9h0" stroke="#9c9c9c" stroke-width="0.54" stroke-linecap="round" fill="none" opacity="0.5"/><path d="M320.9 396.4h0M318.7 396.4h0M319.3 397.2h0M320.9 396.2h0M319.2 396.2h0M319.8 397.7h0M320.6 396.8h0M319.0 397.2h0M319.9 396.3h0M322.0 395.7h0M319.7 396.8h0M322.1 395.8h0M322.4 396.6h0M319.8 394.8h0M320.3 394.7h0M318.6 396.1h0M321.0 397.1h0M318.5 394.9h0M321.5 395.7h0M320.2 395.2h0M319.1 396.2h0M319.5 397.1h0M320.2 396.6h0M319.4 394.9h0M322.2 393.4h0M321.0 395.1h0M319.8 396.6h0M320.0 396.7h0M320.4 396.3h0M322.4 395.7h0M320.4 398.3h0M318.9 396.3h0M319.2 393.7h0M322.2 397.2h0M320.1 396.0h0M318.6 396.7h0" stroke="#9c9c9c" stroke-width="0.54" stroke-linecap="round" fill="none" opacity="0.55"/>
<path d="M320.6 436.4h0M334.4 434.3h0M325.2 429.2h0M327.0 432.0h0M331.0 424.7h0M325.1 427.8h0M333.6 438.9h0M329.9 430.4h0M320.3 426.2h0M317.4 428.2h0M327.9 425.4h0M323.0 428.9h0M336.0 423.7h0M330.6 431.5h0M332.2 433.6h0M332.2 434.3h0M323.9 431.7h0M330.1 430.1h0M323.4 428.6h0M322.2 433.6h0M315.9 429.4h0M333.1 426.1h0M328.8 429.8h0M318.6 423.0h0M335.0 430.8h0M322.2 423.4h0M326.3 433.0h0M324.4 427.3h0M321.2 427.9h0M328.3 432.8h0M328.7 428.0h0M331.2 432.9h0M327.5 436.0h0M324.8 418.3h0M323.5 426.2h0M325.5 435.4h0M324.0 436.2h0M314.2 433.6h0M327.5 423.2h0M338.7 427.0h0M324.1 439.9h0M334.9 425.1h0M327.7 429.2h0M334.4 427.2h0M330.0 437.7h0M332.4 425.7h0M335.0 427.6h0M315.8 425.0h0M337.5 428.1h0M316.9 427.7h0M326.1 433.3h0M330.6 433.1h0M327.7 422.7h0M327.7 426.1h0M320.9 439.5h0M335.6 437.4h0M328.4 426.0h0M329.9 423.5h0M316.5 425.9h0M332.0 435.6h0M334.6 431.8h0M326.3 421.9h0M326.4 436.9h0M327.4 433.8h0M326.2 420.6h0M328.5 438.8h0M319.8 427.4h0M319.7 435.0h0M323.2 428.6h0M337.1 425.5h0" stroke="#b8b8b8" stroke-width="0.5" stroke-linecap="round" fill="none" opacity="0.4"/><ellipse cx="332.4" cy="429.2" rx="5.98" ry="5.43" transform="rotate(0 332.4 429.2)" fill="#4a88cc" opacity="0.18" filter="url(#blur07)"/><path d="M327.8 427.1h0M331.1 426.0h0M337.3 427.2h0M332.1 427.5h0M333.8 426.1h0M336.5 430.5h0M334.4 425.6h0M330.5 428.1h0M334.7 425.2h0M333.7 433.5h0M332.7 431.6h0M335.9 425.6h0M332.1 427.7h0M331.2 424.9h0M333.0 425.4h0M333.5 428.9h0M328.2 428.5h0M330.4 430.4h0M335.9 428.0h0M334.9 425.7h0M330.5 431.9h0M330.0 429.7h0M330.4 427.8h0M330.4 432.0h0M333.3 428.7h0M334.6 429.4h0M327.3 432.3h0M328.8 433.2h0M329.3 432.2h0M334.3 425.9h0M335.6 428.7h0M335.3 427.3h0M330.5 433.1h0M330.7 428.6h0M331.6 428.0h0M332.8 432.6h0M336.2 429.5h0M336.4 428.8h0M336.4 425.9h0M334.4 431.7h0M336.2 430.8h0M330.9 424.6h0M333.1 430.0h0M331.1 433.3h0M331.1 431.5h0M336.0 425.2h0M331.2 424.8h0M332.2 428.5h0M332.8 432.8h0M331.5 426.8h0M336.6 429.7h0M336.3 432.3h0M331.5 428.9h0M329.3 427.5h0M335.2 431.8h0M330.7 431.3h0M330.7 433.0h0M334.6 429.5h0M328.1 431.9h0M327.8 427.6h0M327.8 426.8h0M332.3 431.2h0M334.6 425.2h0M327.4 432.4h0M333.7 427.4h0M331.6 426.7h0M327.0 427.6h0M328.9 428.7h0M333.1 430.8h0M335.4 428.5h0M330.0 430.9h0M330.2 426.6h0M329.0 432.6h0M331.8 432.4h0M329.4 424.9h0M330.1 428.5h0M333.1 425.1h0M335.3 431.9h0M334.9 426.4h0M334.8 425.7h0M331.9 425.8h0M329.4 426.1h0M334.4 430.0h0M332.4 429.4h0M327.4 431.0h0M331.7 425.7h0M331.4 432.1h0M335.4 431.1h0M333.3 427.0h0M332.5 429.8h0M332.1 431.5h0M332.7 431.3h0M334.4 424.0h0M329.2 431.6h0M331.5 432.6h0M328.6 428.8h0M331.8 429.8h0M328.7 425.9h0M333.1 432.1h0M331.5 425.1h0M334.1 424.4h0M333.8 431.3h0M331.1 431.3h0M327.7 427.2h0M337.5 428.0h0M329.6 432.9h0M333.0 433.2h0M327.1 428.7h0M336.1 429.2h0M331.8 428.0h0M331.7 423.7h0M335.6 430.5h0M331.1 426.3h0M331.2 428.7h0M335.1 433.6h0M331.4 426.6h0M333.4 430.1h0M333.6 431.0h0M335.8 425.3h0M332.2 425.7h0M333.1 434.0h0M335.4 427.7h0M329.0 428.3h0M328.2 426.7h0M332.7 429.5h0M331.7 427.5h0M332.4 428.2h0M336.2 427.0h0M332.2 431.2h0M331.6 425.8h0M329.0 432.4h0M337.0 430.3h0M332.4 430.8h0M333.2 424.0h0M334.5 435.3h0M329.9 425.2h0M334.1 433.9h0M329.9 428.1h0M331.5 429.8h0M333.6 425.9h0M336.4 430.4h0M329.5 427.8h0M329.7 425.1h0M335.6 428.5h0M333.9 435.6h0M332.0 426.2h0M328.8 426.0h0M333.0 430.0h0M332.2 433.4h0M337.1 427.4h0M330.6 427.8h0M334.0 426.8h0M329.4 432.5h0M336.5 427.9h0M335.3 430.9h0M331.2 424.9h0M328.5 429.3h0M336.7 427.3h0M332.5 429.6h0M335.1 424.1h0M333.5 429.9h0M334.3 424.5h0M330.6 425.0h0M328.0 426.5h0M328.5 431.6h0M327.0 427.5h0M331.3 429.8h0M332.7 436.3h0M336.5 432.9h0M328.7 433.3h0M332.5 433.8h0M327.3 429.0h0M331.4 430.0h0M336.7 431.4h0M335.0 429.2h0M338.2 429.9h0M334.3 427.6h0M330.3 428.5h0M331.2 428.2h0M337.3 427.0h0M336.6 426.4h0M329.4 428.1h0M335.9 428.3h0M335.2 428.5h0M329.1 425.0h0M335.2 429.7h0M317.9 427.4h0M332.9 431.1h0M337.7 429.0h0M340.2 429.2h0M332.3 432.8h0M334.8 425.7h0M329.4 425.7h0M334.1 423.7h0M333.5 425.2h0M333.9 424.2h0M329.4 425.6h0M330.1 426.9h0M331.6 430.4h0M328.1 428.9h0M332.2 431.4h0M331.2 429.7h0M328.3 426.2h0M329.2 428.7h0M332.3 431.7h0M326.9 428.1h0M329.5 426.9h0M336.7 427.6h0M333.4 431.7h0M331.0 426.4h0M333.4 430.1h0M335.6 426.9h0M333.7 431.3h0M327.3 432.4h0M334.8 433.6h0M334.6 428.7h0M335.5 426.0h0M344.4 432.4h0M326.6 428.5h0M332.1 429.8h0M333.9 426.8h0M336.0 429.2h0M330.2 433.5h0M331.7 428.2h0M333.1 423.8h0M326.2 429.1h0M328.6 431.2h0M328.5 428.5h0M336.8 431.0h0M335.8 428.1h0M328.2 430.3h0M332.3 429.7h0M329.9 427.0h0M333.0 435.4h0M329.7 433.3h0M331.7 429.6h0M331.7 430.5h0M332.9 428.2h0M332.2 433.0h0M329.5 425.8h0M335.8 427.2h0M330.7 432.6h0M336.4 430.6h0M334.9 432.5h0M336.1 425.7h0M333.2 430.2h0M335.7 435.5h0M331.1 433.7h0M330.9 433.8h0M332.4 426.4h0M337.0 431.9h0M331.8 429.6h0M329.4 431.2h0M329.2 431.5h0M335.6 430.0h0M336.0 426.5h0M332.0 425.5h0M330.9 427.2h0M331.7 425.7h0M335.6 425.6h0M336.6 429.2h0M331.1 424.2h0M329.9 432.8h0M330.5 427.3h0M327.4 432.1h0M337.0 433.2h0M326.7 429.1h0M336.4 427.3h0M335.3 425.6h0M331.8 432.9h0M332.0 424.3h0M328.2 432.2h0M330.3 431.8h0M334.1 428.5h0M330.8 431.1h0M336.9 427.9h0M333.1 429.6h0M333.7 429.0h0M331.5 427.2h0M332.4 429.5h0" stroke="#4a88cc" stroke-width="0.54" stroke-linecap="round" fill="none" opacity="0.62"/><path d="M321.6 436.7h0M320.0 437.2h0M324.8 435.1h0M326.8 436.2h0M320.9 437.0h0M323.4 436.4h0M322.4 435.7h0M323.0 435.5h0M322.5 437.0h0M323.0 437.3h0M321.7 435.7h0M323.8 437.5h0M325.6 437.1h0M322.7 436.9h0M324.1 436.6h0M325.2 438.1h0M322.1 436.0h0M320.6 437.9h0M325.5 435.6h0" stroke="#9c9c9c" stroke-width="0.54" stroke-linecap="round" fill="none" opacity="0.44"/><ellipse cx="316.6" cy="429.8" rx="4.51" ry="4.6" transform="rotate(0 316.6 429.8)" fill="#9c9c9c" opacity="0.13" filter="url(#blur07)"/><path d="M317.2 429.3h0M320.1 431.1h0M317.3 430.9h0M313.7 430.2h0M316.9 427.5h0M319.3 428.7h0M312.8 429.6h0M316.0 433.8h0M318.8 430.2h0M316.4 433.4h0M314.7 426.8h0M317.3 430.1h0M320.3 427.7h0M317.6 434.3h0M316.1 424.2h0M320.1 431.4h0M313.6 426.2h0M320.2 431.7h0M317.9 433.7h0M318.0 432.8h0M318.4 433.7h0M319.5 431.8h0M313.9 430.3h0M318.0 431.3h0M316.0 426.6h0M317.6 432.7h0M319.1 431.5h0M315.5 433.6h0M320.9 428.8h0M317.7 427.3h0M318.1 433.2h0M318.6 427.1h0M313.9 425.5h0M314.8 426.0h0M318.5 428.2h0M317.3 429.2h0M318.8 426.3h0M313.4 429.3h0M312.9 427.6h0M317.3 431.1h0M317.2 431.7h0M318.0 427.8h0M313.6 430.3h0M314.6 434.3h0M322.8 432.6h0M312.6 430.6h0M316.8 433.0h0M315.0 433.3h0M316.6 433.5h0M314.6 431.0h0M313.6 430.4h0M312.9 427.2h0M316.0 431.2h0M319.8 431.2h0M315.1 430.2h0M314.3 432.5h0M319.3 431.9h0M313.2 429.0h0M315.8 434.4h0M320.5 430.5h0M317.4 434.1h0M313.5 429.8h0M317.4 432.1h0M316.6 429.9h0M320.3 428.5h0M313.8 431.3h0M317.7 433.5h0M317.3 432.6h0M316.1 428.8h0M315.7 429.3h0M320.3 429.4h0M314.2 429.0h0M314.1 429.8h0M316.5 430.9h0M319.0 428.1h0M317.0 432.0h0M319.2 431.4h0M320.8 430.7h0M315.5 426.1h0M313.6 431.7h0M317.6 433.3h0M316.0 431.8h0M313.2 427.4h0M318.1 431.6h0M318.5 431.8h0M315.8 426.1h0M319.5 429.9h0M314.6 426.8h0M315.1 428.7h0M317.4 433.4h0M319.2 426.4h0M312.6 428.7h0M315.1 433.6h0M317.4 429.3h0M317.3 432.7h0M313.6 429.0h0M318.0 434.0h0M316.4 430.8h0M320.7 430.2h0M320.4 427.0h0M316.0 434.3h0M315.6 428.5h0M316.3 429.2h0M316.3 429.1h0M316.4 427.6h0M313.2 426.3h0M316.7 429.0h0M314.4 433.8h0M316.0 432.7h0M316.5 432.7h0M314.1 430.0h0M313.3 431.9h0M314.9 432.0h0M316.4 429.8h0M315.2 433.6h0M315.8 430.8h0M315.4 429.6h0M313.4 432.7h0M313.2 426.7h0M315.6 430.0h0M314.9 431.0h0M314.4 427.7h0M315.9 430.6h0M316.1 432.1h0M316.0 426.7h0M319.7 430.5h0" stroke="#9c9c9c" stroke-width="0.54" stroke-linecap="round" fill="none" opacity="0.5"/><path d="M318.9 424.4h0M319.8 423.8h0M323.2 422.8h0M319.9 424.2h0M319.4 424.0h0M319.2 424.0h0M318.9 425.0h0M321.7 423.6h0M322.7 423.9h0M320.4 422.3h0M320.7 422.7h0M319.8 421.2h0M320.8 424.1h0M321.3 421.8h0M320.4 421.1h0M321.4 422.8h0M319.3 422.2h0M319.4 424.4h0M319.2 421.8h0M321.8 421.2h0M320.0 423.4h0M320.0 424.5h0M319.8 423.7h0M320.1 425.7h0M321.0 425.2h0M321.1 422.4h0M320.2 423.8h0M320.0 421.2h0M320.5 422.7h0M320.8 423.0h0M321.0 422.0h0M319.0 423.2h0M321.2 422.5h0M319.5 422.1h0M318.5 424.0h0M319.7 421.1h0" stroke="#9c9c9c" stroke-width="0.54" stroke-linecap="round" fill="none" opacity="0.55"/><path d="M331.4 437.1h0M332.9 437.4h0M332.0 437.2h0M332.7 437.2h0M331.7 437.1h0M330.4 436.2h0M332.2 437.4h0M332.6 436.5h0" stroke="#e08a2c" stroke-width="0.54" stroke-linecap="round" fill="none" opacity="0.9"/>
<path d="M350.4 376.9h0M351.0 373.6h0M353.3 370.6h0M347.8 370.4h0M350.5 374.6h0M354.9 375.5h0M353.3 381.4h0M369.8 376.6h0M363.9 381.8h0M353.6 374.8h0M366.9 367.3h0M363.6 376.7h0M357.8 377.8h0M362.5 372.1h0M363.2 373.4h0M366.2 377.0h0M355.8 384.7h0M357.8 376.5h0M358.4 380.6h0M355.3 370.8h0M363.2 366.8h0M359.2 378.1h0M370.6 367.2h0M350.5 371.1h0M363.2 379.0h0M356.8 380.9h0M356.0 377.1h0M358.3 383.6h0M368.7 380.6h0M356.6 366.6h0M357.3 372.0h0M355.5 371.0h0M357.4 377.1h0M367.7 380.0h0M365.9 368.3h0M362.5 382.1h0M366.8 379.0h0M365.9 374.2h0M358.3 372.2h0M357.0 373.5h0M355.8 382.6h0M364.1 379.6h0M370.9 376.3h0M366.4 371.3h0M362.6 378.4h0M352.6 378.6h0M360.5 372.3h0M369.0 375.5h0M359.8 379.3h0M356.5 367.6h0M365.6 380.3h0M356.7 376.2h0M360.5 376.3h0M366.9 375.6h0M364.8 379.2h0M358.3 376.8h0M357.9 374.2h0M368.5 370.9h0M365.1 374.1h0M357.3 375.7h0M356.6 366.8h0M367.1 378.8h0M357.4 368.5h0M354.1 383.8h0M354.3 371.4h0M367.6 368.5h0M353.0 370.0h0M356.5 364.1h0M361.2 368.1h0M351.6 376.5h0" stroke="#b8b8b8" stroke-width="0.5" stroke-linecap="round" fill="none" opacity="0.4"/><ellipse cx="368.4" cy="374.6" rx="4.97" ry="8.83" transform="rotate(10 368.4 374.6)" fill="#9c9c9c" opacity="0.15" filter="url(#blur07)"/><path d="M365.7 376.5h0M364.7 375.8h0M370.9 368.8h0M369.4 372.5h0M370.2 378.3h0M372.1 377.3h0M367.3 380.9h0M365.6 381.5h0M369.2 370.3h0M364.6 380.2h0M364.8 372.0h0M372.7 369.4h0M368.9 369.4h0M373.0 370.7h0M368.4 376.5h0M372.9 374.0h0M369.7 373.1h0M364.4 378.6h0M365.0 377.6h0M364.8 380.3h0M369.5 374.1h0M373.1 374.8h0M368.6 380.8h0M366.3 378.6h0M371.1 372.8h0M370.4 380.2h0M364.6 370.5h0M372.2 374.7h0M367.3 376.2h0M369.7 376.4h0M370.1 369.4h0M366.0 376.8h0M369.9 372.1h0M370.3 376.7h0M372.0 372.9h0M369.1 366.6h0M364.1 374.4h0M372.8 372.8h0M370.1 378.0h0M371.5 378.7h0M373.3 373.3h0M373.6 370.4h0M365.0 376.4h0M368.5 378.2h0M363.7 375.1h0M366.4 369.9h0M369.5 375.2h0M368.0 377.0h0M369.7 367.5h0M363.5 376.0h0M367.6 374.2h0M364.7 376.8h0M370.2 368.0h0M367.0 382.4h0M369.8 372.8h0M367.4 380.9h0M365.2 381.1h0M370.6 372.0h0M370.5 376.4h0M367.3 369.1h0M368.0 373.8h0M370.5 367.3h0M365.0 377.1h0M368.8 373.0h0M365.8 377.1h0M365.9 369.3h0M368.6 369.6h0M368.4 377.6h0M366.3 381.7h0M372.4 370.6h0M369.7 370.9h0M371.6 367.4h0M364.8 369.2h0M371.0 377.4h0M365.1 370.8h0M370.7 377.6h0M366.5 374.6h0M368.6 375.2h0M369.6 379.1h0M366.7 369.2h0M365.7 371.1h0M366.3 376.8h0M365.8 373.1h0M365.1 379.0h0M365.6 375.7h0M365.4 379.4h0M372.7 372.3h0M367.7 383.1h0M371.2 372.3h0M364.3 374.1h0M369.7 380.4h0M368.9 379.6h0M369.8 374.5h0M367.1 381.8h0M369.6 367.2h0M371.8 368.5h0M372.3 369.5h0M372.5 375.7h0M369.7 367.5h0M372.5 373.2h0M365.0 372.8h0M372.0 366.9h0M371.5 366.6h0M368.7 378.9h0M366.4 373.7h0M368.8 375.9h0M365.5 381.8h0M365.7 368.5h0M369.7 384.7h0M364.5 379.9h0M367.6 372.0h0M366.5 375.5h0M367.7 381.2h0M368.7 382.7h0M371.5 368.6h0M369.2 382.4h0M365.9 370.4h0M370.8 376.2h0M364.9 380.6h0M367.0 380.7h0M367.1 369.2h0M370.1 379.8h0M368.6 370.9h0M369.0 381.9h0M367.4 378.0h0M377.9 376.6h0M363.8 376.5h0M370.6 374.3h0M365.4 371.3h0M363.7 371.2h0M366.1 368.2h0M370.2 376.2h0M365.7 368.8h0M368.9 368.2h0M368.6 381.5h0M368.9 381.2h0M364.4 375.0h0M372.1 371.9h0M369.6 377.8h0M369.4 371.4h0M372.8 368.7h0M367.2 367.3h0M368.5 381.1h0M367.0 383.1h0M368.0 372.1h0M365.6 364.4h0M368.4 383.4h0M367.9 382.9h0M368.0 369.8h0M365.0 378.8h0M366.7 376.8h0M366.9 373.3h0M371.2 370.9h0M370.7 378.2h0M371.2 376.8h0M366.3 371.0h0M372.9 369.0h0M372.7 370.2h0M366.1 373.4h0M368.7 370.8h0M369.0 379.9h0M364.9 376.3h0M365.8 376.4h0M366.5 377.9h0M370.3 375.0h0M366.5 380.2h0M371.9 375.5h0M370.1 378.7h0M365.1 372.0h0M369.8 379.6h0M366.6 371.6h0M366.4 371.9h0M370.9 366.7h0M367.3 380.3h0M369.7 368.5h0M367.9 374.3h0M366.5 367.7h0M364.9 375.8h0M363.7 376.0h0M364.2 379.2h0M369.5 376.2h0M367.0 367.8h0M369.1 374.3h0M369.2 369.8h0M370.1 377.1h0M367.8 378.6h0M365.5 368.4h0M369.0 373.7h0M364.2 372.0h0M371.0 378.3h0M368.0 369.8h0M366.8 383.7h0M373.5 372.7h0M370.1 382.0h0M368.2 377.9h0M371.8 367.2h0M368.4 370.5h0M367.3 383.5h0M368.3 377.6h0M372.8 372.3h0M364.0 378.3h0M370.4 372.2h0M364.8 378.7h0M371.3 378.2h0M365.7 385.7h0M369.1 370.6h0M366.3 382.1h0M370.3 376.8h0M371.8 373.1h0M373.4 373.7h0M372.3 369.1h0M365.6 376.0h0M368.3 375.6h0M367.7 377.9h0M369.3 380.0h0M369.6 380.0h0M367.1 379.9h0M366.3 375.9h0M366.1 377.7h0M364.4 378.6h0M366.8 370.7h0M366.2 371.7h0M368.9 370.2h0M373.4 371.2h0M367.4 365.2h0M369.0 372.5h0M363.9 371.5h0M368.3 377.3h0M371.0 370.5h0M369.4 377.7h0M367.9 382.1h0M368.8 379.1h0M364.6 375.9h0M367.9 369.3h0M364.7 374.8h0M369.2 368.6h0M366.9 372.6h0M372.4 372.8h0M376.2 376.0h0M363.6 372.8h0M369.1 376.9h0M368.8 383.4h0M366.7 383.6h0M368.6 382.1h0M367.9 371.4h0M368.9 378.1h0M370.5 370.8h0M366.5 379.5h0M368.9 368.6h0M365.4 371.9h0M370.8 375.8h0M370.7 376.4h0M366.2 376.1h0M370.0 375.7h0M367.7 370.1h0M368.7 377.0h0M368.9 371.0h0M372.1 367.2h0M369.5 374.6h0M368.5 369.3h0M367.9 372.8h0M370.1 369.8h0M371.5 369.6h0M372.2 372.6h0M364.9 377.1h0M369.6 374.7h0M372.0 368.7h0M368.5 367.4h0M370.0 368.8h0M366.0 381.4h0M373.7 370.9h0M365.4 369.1h0M370.5 377.1h0M367.3 377.2h0M363.8 372.0h0M369.5 374.3h0M367.4 375.3h0M364.1 378.6h0M371.5 372.9h0M364.2 374.8h0M370.8 377.2h0M366.7 381.6h0M367.9 377.7h0M365.7 369.0h0M365.8 380.4h0M366.7 381.6h0M371.3 370.1h0M371.0 380.3h0M372.1 378.1h0M365.9 377.9h0M365.4 371.2h0M367.2 376.0h0M364.3 374.1h0M364.6 380.1h0M371.4 369.6h0M369.5 382.2h0M365.3 369.4h0" stroke="#9c9c9c" stroke-width="0.54" stroke-linecap="round" fill="none" opacity="0.44"/><path d="M357.7 380.5h0M357.0 380.0h0M355.5 379.5h0M358.2 381.7h0M355.0 381.7h0M355.9 381.3h0M358.2 379.0h0M358.3 381.6h0M358.0 381.8h0" stroke="#9c9c9c" stroke-width="0.54" stroke-linecap="round" fill="none" opacity="0.44"/><ellipse cx="351.6" cy="373.8" rx="4.14" ry="4.97" transform="rotate(0 351.6 373.8)" fill="#4a88cc" opacity="0.18" filter="url(#blur07)"/><path d="M353.3 371.0h0M357.7 376.2h0M349.7 370.5h0M351.0 373.4h0M348.8 370.9h0M355.2 372.9h0M353.1 377.7h0M354.2 376.1h0M352.4 369.0h0M352.7 372.7h0M350.8 377.2h0M349.7 377.0h0M345.7 372.8h0M354.6 376.5h0M347.8 376.2h0M353.4 377.3h0M350.9 372.0h0M354.7 372.3h0M351.3 374.8h0M353.3 370.6h0M355.3 379.5h0M349.8 374.8h0M348.5 371.2h0M355.2 375.3h0M350.6 378.1h0M354.7 376.0h0M348.0 375.5h0M351.1 374.8h0M351.3 375.0h0M349.4 370.9h0M350.5 374.4h0M349.4 374.2h0M354.9 376.6h0M348.5 375.0h0M349.5 377.1h0M355.3 376.8h0M350.9 369.6h0M353.3 369.2h0M352.1 368.7h0M352.3 374.5h0M352.2 374.8h0M350.4 374.6h0M351.4 378.3h0M350.7 368.9h0M352.1 378.1h0M351.4 371.5h0M349.3 371.1h0M354.2 375.6h0M350.2 378.1h0M349.0 371.7h0M351.8 376.5h0M351.8 371.4h0M354.9 376.5h0M353.6 375.4h0M353.2 373.3h0M350.1 376.7h0M352.5 376.3h0M352.1 376.4h0M354.0 370.6h0M356.8 377.8h0M348.6 374.8h0M351.3 377.1h0M349.9 369.4h0M351.6 374.0h0M349.8 372.8h0M347.9 372.9h0M352.3 377.3h0M352.0 370.8h0M354.6 372.0h0M349.6 377.6h0M351.4 373.9h0M353.9 377.3h0M351.1 374.7h0M354.8 372.2h0M352.4 371.9h0M352.9 378.4h0M349.1 372.7h0M349.4 369.9h0M349.7 369.9h0M350.9 369.9h0M350.4 376.7h0M351.2 373.4h0M350.0 372.3h0M348.5 374.9h0M350.5 377.5h0M354.3 370.8h0M354.0 373.4h0M354.3 371.0h0M352.4 372.2h0M350.7 373.1h0M353.2 372.6h0M352.7 377.3h0M348.0 374.9h0M350.1 369.4h0M351.8 370.3h0M351.7 373.6h0M353.9 376.3h0M347.7 374.7h0M350.5 372.2h0M349.8 373.2h0M353.0 376.4h0M350.5 374.9h0M350.7 378.1h0M352.2 374.7h0M350.4 376.7h0M348.8 373.4h0M352.7 373.0h0M349.0 377.3h0M349.2 372.9h0M350.4 369.1h0M351.7 378.2h0M351.3 373.7h0M352.7 373.9h0M353.9 370.1h0M349.9 371.4h0M353.0 377.1h0M347.8 376.0h0M355.2 373.5h0M353.9 369.8h0M353.9 375.8h0M350.2 369.6h0M353.5 375.7h0M354.5 377.3h0M349.2 370.3h0M353.6 370.7h0M349.0 374.1h0M355.2 374.0h0M347.4 374.9h0M351.0 375.8h0M347.9 374.0h0M354.2 377.1h0M352.4 375.3h0M351.8 377.3h0M353.0 372.5h0M355.0 372.9h0M353.2 369.1h0M348.4 375.9h0M348.3 372.8h0M354.6 374.3h0M351.6 370.2h0M344.0 377.8h0M352.3 377.5h0M353.2 376.0h0M352.1 371.5h0M350.0 376.7h0M352.5 368.9h0M349.1 374.4h0M351.5 374.1h0M349.8 374.1h0M349.3 372.0h0M349.7 375.8h0M354.9 375.3h0M349.9 370.3h0M352.1 372.5h0M350.5 378.2h0M353.5 376.6h0M353.9 373.6h0M353.7 375.3h0M350.8 372.6h0M347.7 373.1h0M349.8 375.6h0M352.8 370.2h0M351.6 373.8h0M351.1 370.7h0M354.8 374.3h0M355.4 376.3h0M354.3 371.0h0M351.4 374.9h0M353.7 373.1h0M350.0 374.9h0M349.5 372.3h0M353.4 376.7h0M351.4 376.5h0M347.7 374.0h0M352.2 371.0h0M352.9 371.5h0M352.0 378.3h0M339.9 368.9h0M351.1 377.9h0M347.8 373.7h0M351.4 375.0h0M351.8 376.9h0M352.0 373.4h0M351.3 372.0h0M347.8 373.2h0M352.6 369.4h0M350.5 373.6h0M353.8 374.2h0M347.8 373.9h0M352.3 374.7h0M355.1 371.0h0M351.5 378.1h0M350.5 376.3h0M352.0 375.3h0M352.6 375.1h0M352.5 371.9h0M349.5 370.3h0M352.5 372.8h0M350.3 373.0h0M351.6 369.2h0M351.3 373.8h0M354.5 371.3h0M349.8 372.9h0M354.8 371.9h0M347.9 370.8h0M348.6 373.5h0M349.4 374.9h0M350.4 374.1h0M350.8 371.7h0M354.8 376.3h0M353.3 372.1h0M350.8 375.1h0M353.4 372.9h0M353.6 376.3h0M351.7 372.7h0M351.9 377.9h0M354.5 376.7h0M352.5 375.4h0M353.8 374.4h0M354.4 373.6h0M349.9 377.2h0M352.6 371.7h0M350.9 369.5h0M350.0 373.3h0M352.2 375.3h0M349.2 377.4h0M352.2 376.1h0M351.7 369.7h0M350.3 370.6h0M351.7 374.1h0M349.6 376.8h0M352.9 376.3h0M349.4 371.7h0M348.8 375.0h0M347.5 373.9h0M351.5 376.7h0M349.2 377.7h0M353.7 370.7h0M352.7 377.2h0M350.0 375.7h0M353.2 376.2h0M354.2 375.1h0M354.4 375.6h0M348.0 372.3h0M352.0 372.0h0M355.4 374.1h0M351.3 374.6h0M347.6 373.5h0M352.7 372.2h0M351.1 374.9h0M348.1 377.0h0M350.4 376.5h0M347.4 375.5h0M352.2 371.8h0M351.1 374.7h0" stroke="#4a88cc" stroke-width="0.54" stroke-linecap="round" fill="none" opacity="0.62"/><path d="M356.1 370.7h0M354.2 367.8h0M356.5 369.5h0M356.1 367.5h0M354.0 369.1h0M355.5 367.3h0M354.9 367.1h0M357.3 368.7h0M355.5 368.9h0M356.2 369.2h0M355.7 369.9h0M356.3 369.7h0M356.8 370.4h0M354.0 366.6h0M357.0 365.7h0" stroke="#b83a32" stroke-width="0.54" stroke-linecap="round" fill="none" opacity="0.85"/>
<path d="M363.7 402.8h0M363.6 403.5h0M362.0 394.8h0M364.1 405.8h0M357.7 396.7h0M372.8 400.5h0M366.3 399.8h0M360.1 405.2h0M354.0 401.3h0M368.2 412.1h0M369.8 408.1h0M363.4 405.4h0M373.8 403.6h0M356.8 405.0h0M366.4 403.1h0M363.7 405.7h0M362.2 406.1h0M366.9 405.8h0M366.9 407.0h0M362.6 400.9h0M364.8 400.2h0M358.4 407.9h0M369.2 399.4h0M356.6 403.0h0M354.5 399.9h0M369.1 406.6h0M351.2 399.8h0M366.8 398.6h0M354.2 407.9h0M356.5 402.5h0M369.8 403.1h0M369.4 403.3h0M356.7 411.1h0M360.5 399.1h0M353.6 405.9h0M352.7 398.3h0M359.0 405.0h0M355.7 403.7h0M348.6 400.3h0M356.9 401.9h0M356.5 394.8h0M356.0 401.8h0M359.2 409.5h0M360.0 399.4h0M358.7 404.2h0M368.4 402.7h0M365.2 411.6h0M365.7 400.5h0M359.7 402.3h0M361.4 407.2h0M367.5 406.9h0M367.9 404.0h0M353.9 409.3h0M371.2 401.9h0M363.8 402.1h0M363.0 407.2h0M357.7 412.1h0M351.1 400.2h0M346.8 407.5h0M358.2 404.3h0M351.8 402.9h0M359.8 407.4h0M368.9 396.9h0M360.1 405.1h0M364.7 410.9h0M358.5 402.2h0M359.9 404.2h0M354.0 398.5h0M360.4 396.8h0M356.0 399.4h0" stroke="#b8b8b8" stroke-width="0.5" stroke-linecap="round" fill="none" opacity="0.4"/><ellipse cx="368.4" cy="402.4" rx="4.97" ry="8.83" transform="rotate(10 368.4 402.4)" fill="#9c9c9c" opacity="0.15" filter="url(#blur07)"/><path d="M373.2 396.8h0M367.6 396.0h0M370.6 395.8h0M364.5 398.3h0M370.7 401.4h0M369.7 410.4h0M366.6 410.0h0M369.1 403.0h0M371.4 404.2h0M369.9 408.0h0M370.3 399.2h0M373.0 397.6h0M368.4 399.0h0M368.8 404.5h0M364.9 402.3h0M372.1 403.9h0M365.9 409.9h0M369.2 404.9h0M368.3 400.9h0M369.9 395.5h0M364.5 408.0h0M364.2 403.1h0M364.6 403.2h0M364.7 408.4h0M364.4 401.3h0M370.2 402.5h0M369.3 408.3h0M368.4 396.5h0M366.4 404.4h0M368.0 401.0h0M373.4 400.6h0M368.3 395.3h0M367.1 402.5h0M365.0 403.4h0M366.3 407.2h0M369.0 395.2h0M365.2 404.4h0M365.9 403.3h0M368.1 406.1h0M365.9 406.1h0M369.9 395.5h0M372.0 395.0h0M371.6 395.1h0M373.6 398.0h0M369.0 401.6h0M368.8 404.4h0M369.5 404.4h0M364.3 405.0h0M366.0 390.2h0M366.1 400.8h0M370.4 396.8h0M369.4 410.1h0M369.0 402.9h0M365.4 408.7h0M369.9 395.0h0M367.5 399.7h0M372.6 397.2h0M369.6 395.8h0M370.0 394.7h0M365.5 406.5h0M366.6 405.4h0M372.5 399.0h0M367.2 404.3h0M368.4 395.5h0M363.5 401.2h0M369.2 405.7h0M370.5 394.8h0M366.7 405.5h0M370.0 400.5h0M369.1 399.1h0M369.4 399.9h0M371.3 406.4h0M368.5 404.5h0M374.3 395.7h0M365.4 402.3h0M367.2 397.9h0M373.3 398.3h0M370.0 398.3h0M369.5 397.0h0M367.9 399.8h0M372.2 404.0h0M367.7 397.5h0M372.7 396.5h0M372.2 403.2h0M365.2 404.7h0M368.3 410.9h0M365.1 397.3h0M372.8 398.1h0M372.1 396.4h0M368.4 401.1h0M367.8 400.2h0M368.3 404.9h0M370.6 403.6h0M368.4 400.0h0M368.1 409.6h0M368.7 402.2h0M367.9 401.2h0M366.8 405.4h0M363.8 401.8h0M372.9 402.6h0M366.4 393.0h0M370.4 399.9h0M363.3 400.9h0M367.7 409.6h0M368.7 408.9h0M371.3 399.7h0M367.6 398.9h0M370.8 406.9h0M371.0 397.9h0M369.1 400.0h0M369.5 398.3h0M370.3 409.3h0M365.7 397.0h0M366.7 406.1h0M370.2 399.5h0M369.5 408.4h0M367.8 406.4h0M370.5 401.7h0M367.0 401.6h0M369.2 400.8h0M371.2 399.7h0M363.6 406.7h0M367.2 402.7h0M366.3 398.0h0M370.0 406.6h0M372.6 396.9h0M368.2 398.1h0M365.1 407.4h0M365.6 410.0h0M371.5 402.9h0M367.4 400.0h0M366.7 408.5h0M366.5 401.6h0M368.5 410.5h0M368.7 409.2h0M368.3 406.2h0M370.4 404.1h0M363.5 400.5h0M367.5 395.7h0M364.5 402.3h0M366.0 401.6h0M364.9 401.1h0M371.7 396.8h0M373.0 410.3h0M371.3 398.8h0M367.7 411.0h0M367.7 411.5h0M368.3 406.8h0M367.1 405.8h0M366.2 396.9h0M367.4 405.4h0M364.3 404.2h0M370.7 397.3h0M365.0 408.8h0M372.1 398.4h0M371.5 405.4h0M368.6 408.4h0M371.9 394.9h0M365.0 403.6h0M368.5 398.5h0M369.7 403.9h0M367.5 397.6h0M372.0 405.1h0M364.1 405.8h0M364.1 405.2h0M366.5 406.4h0M367.8 405.8h0M371.3 405.4h0M365.8 408.1h0M369.0 403.5h0M371.4 402.0h0M365.6 402.3h0M372.2 394.9h0M370.5 401.0h0M370.8 404.1h0M366.7 397.5h0M371.2 398.5h0M368.9 398.0h0M366.4 407.1h0M365.1 397.2h0M368.7 395.9h0M367.8 396.5h0M364.8 402.5h0M366.4 406.0h0M372.5 401.1h0M370.3 407.5h0M369.4 395.1h0M368.3 397.4h0M364.5 406.4h0M367.9 407.6h0M366.8 402.7h0M361.3 410.0h0M369.7 402.6h0M373.2 401.8h0M365.7 407.7h0M365.3 397.1h0M365.4 400.0h0M365.8 396.6h0M371.1 406.8h0M370.8 397.6h0M365.3 409.1h0M370.5 397.3h0M367.3 407.1h0M368.1 411.4h0M370.0 397.4h0M366.9 399.4h0M366.4 396.3h0M369.8 396.7h0M365.5 401.1h0M368.3 395.5h0M372.1 400.1h0M371.5 398.6h0M370.5 406.5h0M364.6 408.1h0M370.9 400.4h0M368.8 407.8h0M371.6 402.1h0M368.2 399.3h0M368.5 399.3h0M368.7 403.3h0M364.7 406.4h0M369.5 394.5h0M367.1 403.7h0M366.5 395.6h0M367.7 398.9h0M366.5 411.2h0M369.4 403.9h0M372.0 405.9h0M363.9 399.3h0M372.6 399.7h0M372.7 397.9h0M367.6 401.0h0M367.1 406.2h0M372.5 396.4h0M367.6 403.8h0M373.5 399.5h0M371.9 398.0h0M361.9 416.2h0M366.7 396.6h0M369.5 407.5h0M371.2 396.4h0M369.4 404.0h0M367.3 400.7h0M365.8 403.1h0M371.0 398.6h0M366.8 405.6h0M370.4 407.1h0M371.2 393.3h0M365.6 396.1h0M368.7 407.0h0M368.7 409.9h0M367.9 405.9h0M364.8 401.2h0M368.4 404.3h0M371.3 401.9h0M370.4 397.7h0M366.9 400.9h0M372.9 398.0h0M366.3 399.8h0M366.3 401.7h0M365.1 405.5h0M369.6 405.1h0M365.3 409.3h0M367.6 397.2h0M369.0 396.0h0M372.9 395.7h0M371.0 398.1h0M370.2 406.8h0M370.0 398.0h0M369.0 410.0h0M367.2 398.6h0M363.6 401.6h0M370.8 396.1h0M370.0 405.1h0M368.9 395.4h0M366.8 397.8h0M368.4 407.1h0M364.8 403.6h0M365.1 400.2h0M368.6 397.9h0M367.2 411.3h0M369.9 403.9h0M366.3 399.7h0M365.2 397.8h0M364.8 399.4h0M370.7 408.6h0M368.7 399.2h0M371.9 403.1h0M364.1 406.8h0M369.8 396.1h0M364.4 405.4h0M371.4 403.8h0M369.9 399.5h0M369.2 404.0h0M365.2 398.9h0M366.6 404.7h0M366.6 403.2h0" stroke="#9c9c9c" stroke-width="0.54" stroke-linecap="round" fill="none" opacity="0.44"/><path d="M357.5 409.7h0M356.8 407.7h0M358.8 407.2h0M354.7 408.1h0M357.2 408.0h0M357.5 406.8h0" stroke="#6aa84a" stroke-width="0.54" stroke-linecap="round" fill="none" opacity="0.85"/><ellipse cx="351.6" cy="401.6" rx="4.14" ry="4.97" transform="rotate(0 351.6 401.6)" fill="#9c9c9c" opacity="0.13" filter="url(#blur07)"/><path d="M353.9 400.1h0M348.8 400.2h0M352.7 401.2h0M354.9 399.4h0M352.3 406.1h0M354.9 402.6h0M351.0 402.0h0M351.3 404.5h0M351.6 402.4h0M351.9 404.7h0M352.4 391.5h0M348.2 402.3h0M351.3 402.5h0M352.1 404.3h0M350.6 399.4h0M353.7 402.9h0M352.0 404.9h0M351.5 403.2h0M350.5 405.5h0M353.7 397.4h0M353.5 403.7h0M352.2 405.9h0M348.1 399.8h0M352.7 405.6h0M352.6 398.6h0M352.7 397.1h0M352.2 406.0h0M351.4 396.3h0M353.3 401.0h0M348.8 404.6h0M350.3 404.7h0M352.1 403.1h0M349.2 405.4h0M348.8 398.7h0M351.5 404.9h0M353.1 400.9h0M350.8 403.5h0M348.9 401.5h0M351.2 403.4h0M349.0 403.6h0M349.5 399.5h0M353.5 404.9h0M354.3 402.0h0M353.3 404.2h0M351.1 402.5h0M353.3 398.6h0M350.4 396.9h0M347.8 400.9h0M349.0 404.7h0M351.7 399.2h0M349.6 403.7h0M350.5 400.8h0M352.2 399.7h0M351.0 400.1h0M351.9 400.9h0M353.0 403.6h0M348.4 399.2h0M352.3 403.6h0M353.9 404.8h0M355.4 404.3h0M354.4 400.9h0M349.9 403.6h0M348.6 399.5h0M349.4 400.8h0M352.3 407.7h0M351.4 402.9h0M354.7 400.1h0M354.2 398.0h0M351.6 402.2h0M351.1 400.8h0M350.7 399.0h0M352.3 403.4h0M351.1 405.4h0M351.1 400.1h0M351.4 405.7h0M352.7 402.5h0M353.7 405.1h0M349.8 405.4h0M354.9 402.8h0M349.0 404.3h0M348.3 402.2h0M350.8 405.7h0M351.2 404.3h0M351.4 402.6h0M351.2 399.1h0M353.2 401.6h0M351.6 396.6h0M352.3 402.9h0M347.8 403.3h0M350.4 398.1h0M351.9 396.7h0M348.4 402.6h0M352.5 405.6h0M354.4 403.5h0M348.3 400.8h0M353.9 399.1h0M350.2 398.8h0M351.6 404.2h0M354.8 403.3h0M355.7 402.6h0M351.8 402.2h0M350.3 398.8h0M352.9 396.9h0M353.7 397.6h0M350.8 399.5h0M347.8 401.4h0M352.3 404.8h0M354.4 403.6h0M355.5 403.5h0M350.2 402.7h0M350.1 401.6h0M349.1 403.9h0M352.0 398.0h0M348.6 399.3h0M349.5 404.8h0M354.6 403.0h0M354.1 405.7h0M348.9 400.1h0M351.6 402.4h0M354.7 399.7h0M351.6 398.7h0M347.6 403.5h0M354.6 399.0h0M349.8 398.5h0M353.4 401.1h0M353.5 397.3h0" stroke="#9c9c9c" stroke-width="0.54" stroke-linecap="round" fill="none" opacity="0.5"/><path d="M356.5 393.7h0M356.6 395.6h0M355.1 394.4h0M355.6 397.0h0M355.7 394.9h0M357.1 395.2h0M354.9 393.3h0M354.4 394.4h0M354.2 397.5h0M354.4 398.2h0M355.6 397.6h0M355.9 393.5h0M355.7 393.8h0M354.2 398.2h0M356.4 397.2h0M355.4 394.5h0M355.2 395.1h0M356.9 396.8h0M355.6 395.8h0" stroke="#9c9c9c" stroke-width="0.54" stroke-linecap="round" fill="none" opacity="0.55"/>
<path d="M349.5 426.6h0M350.2 433.1h0M362.3 432.2h0M361.9 430.0h0M362.8 431.2h0M363.7 428.5h0M360.8 430.1h0M349.2 431.6h0M351.2 426.2h0M360.4 437.6h0M356.6 431.4h0M367.2 429.6h0M372.5 425.8h0M362.9 428.5h0M367.4 436.6h0M362.3 429.5h0M363.8 427.7h0M349.2 426.8h0M354.0 428.2h0M370.7 431.5h0M355.7 428.2h0M366.8 430.6h0M367.8 435.0h0M361.9 430.4h0M358.1 422.9h0M357.1 431.5h0M357.3 437.8h0M358.9 433.6h0M364.2 428.1h0M356.2 430.7h0M361.0 432.5h0M349.5 426.8h0M371.1 431.1h0M352.0 426.7h0M363.7 428.1h0M364.1 433.9h0M347.9 423.5h0M362.3 423.3h0M362.1 428.1h0M362.1 425.3h0M351.1 432.1h0M360.0 430.1h0M360.0 432.5h0M353.5 428.3h0M354.8 430.4h0M364.1 420.2h0M368.2 432.0h0M363.7 430.5h0M354.5 427.9h0M352.8 431.1h0M371.6 425.5h0M358.0 430.4h0M359.1 431.8h0M367.1 437.0h0M360.7 425.4h0M361.7 425.3h0M371.2 430.9h0M349.6 422.8h0M359.5 431.3h0M364.1 425.8h0M352.5 423.9h0M364.6 429.0h0M363.2 435.5h0M354.7 438.1h0M364.0 425.1h0M362.5 425.2h0M362.9 426.8h0M369.2 429.4h0M351.0 435.4h0M366.5 435.0h0" stroke="#b8b8b8" stroke-width="0.5" stroke-linecap="round" fill="none" opacity="0.4"/><ellipse cx="368.4" cy="430" rx="4.97" ry="8.83" transform="rotate(10 368.4 430)" fill="#4a88cc" opacity="0.14" filter="url(#blur07)"/><path d="M369.5 424.5h0M370.7 429.7h0M365.9 424.0h0M369.4 435.7h0M372.8 429.3h0M366.5 431.5h0M363.4 429.5h0M366.8 434.7h0M370.5 436.3h0M364.9 430.5h0M368.1 435.0h0M369.4 422.7h0M367.6 425.5h0M368.3 423.3h0M365.0 426.1h0M370.3 423.2h0M371.5 435.1h0M373.5 427.0h0M370.5 434.0h0M369.9 423.0h0M371.7 432.6h0M364.6 425.7h0M366.5 423.3h0M373.0 426.3h0M366.5 430.4h0M369.0 430.5h0M370.0 432.6h0M369.3 424.7h0M363.6 429.4h0M371.6 432.1h0M369.6 434.6h0M366.9 434.2h0M368.5 423.2h0M368.6 433.7h0M372.9 423.3h0M367.7 423.3h0M370.3 429.2h0M364.0 432.3h0M365.7 428.7h0M368.7 424.2h0M365.6 431.9h0M372.0 422.5h0M370.1 424.4h0M366.9 431.3h0M372.1 424.7h0M365.5 425.9h0M368.9 427.6h0M363.5 427.7h0M364.1 427.9h0M365.5 432.2h0M371.7 425.1h0M364.6 432.8h0M368.7 424.4h0M365.2 432.3h0M373.2 428.5h0M370.2 423.1h0M368.9 426.7h0M364.3 430.1h0M366.3 425.2h0M365.5 437.1h0M369.5 437.5h0M366.2 426.8h0M370.1 423.0h0M368.7 434.3h0M368.0 426.6h0M366.4 424.7h0M363.7 431.2h0M366.3 434.1h0M363.9 426.6h0M368.7 427.3h0M373.0 427.8h0M367.2 428.7h0M368.9 423.8h0M370.7 422.6h0M369.5 423.5h0M362.1 433.3h0M368.5 422.8h0M364.5 435.0h0M364.5 430.3h0M364.4 426.8h0M365.1 436.8h0M368.9 437.3h0M365.5 437.1h0M364.9 432.8h0M370.5 429.7h0M365.2 432.3h0M363.8 431.9h0M364.0 430.3h0M363.4 429.1h0M366.9 433.3h0M368.8 429.6h0M368.4 425.0h0M372.4 432.4h0M369.6 430.9h0M369.6 432.2h0M371.5 434.5h0M370.4 428.8h0M365.8 425.5h0M367.8 430.2h0M368.4 435.9h0M367.4 437.2h0M371.2 429.2h0M371.1 432.3h0M370.5 418.9h0M367.5 429.7h0M372.5 422.8h0M366.7 430.8h0M367.7 435.2h0M364.4 432.1h0M370.9 422.7h0M367.3 423.9h0M367.0 423.6h0M367.4 427.6h0M372.8 415.0h0M366.2 442.9h0M365.8 428.1h0M368.8 429.1h0M363.9 430.3h0M370.4 432.9h0M367.1 426.9h0M370.8 428.8h0M368.4 432.0h0M372.4 432.3h0M364.9 430.9h0M371.7 427.6h0M372.1 423.6h0M369.8 427.2h0M365.8 433.3h0M370.7 428.1h0M369.4 432.6h0M373.4 427.6h0M370.1 431.2h0M371.2 429.5h0M367.2 429.8h0M372.9 426.2h0M364.8 427.4h0M366.2 438.1h0M367.0 425.8h0M365.5 431.9h0M367.6 419.3h0M369.3 426.1h0M369.7 435.0h0M369.5 432.8h0M365.7 434.6h0M369.9 428.3h0M369.6 429.3h0M365.5 432.0h0M366.0 432.9h0M375.5 429.9h0M367.9 424.7h0M370.2 425.0h0M365.5 432.6h0M367.6 433.1h0M365.0 433.8h0M373.7 426.9h0M365.4 430.3h0M364.2 433.2h0M371.8 425.7h0M363.8 429.0h0M369.8 426.6h0M364.7 426.2h0M369.2 437.4h0M372.9 426.2h0M365.2 434.4h0M366.6 434.3h0M370.7 423.4h0M367.1 434.8h0M367.9 433.1h0M373.6 426.9h0M368.5 431.6h0M363.4 432.1h0M372.0 423.0h0M371.4 429.7h0M371.1 430.1h0M368.6 425.3h0M365.1 430.9h0M366.7 430.7h0M370.2 433.4h0M372.3 430.9h0M368.9 436.7h0M369.9 434.8h0M371.9 430.8h0M368.1 423.6h0M365.1 430.2h0M366.5 434.5h0M372.8 429.6h0M369.2 429.5h0M367.1 434.9h0M371.4 430.1h0M365.1 435.8h0M364.5 430.9h0M365.3 424.7h0M366.8 434.9h0M371.6 432.8h0M370.1 432.8h0M368.9 423.5h0M366.5 432.5h0M370.9 428.1h0M366.7 436.7h0M372.5 428.9h0M371.2 433.0h0M372.6 423.1h0M370.3 440.3h0M367.9 426.3h0M365.6 437.6h0M364.3 433.3h0M368.4 430.1h0M371.4 434.9h0M367.5 430.6h0M366.5 435.9h0M363.6 433.0h0M367.0 433.6h0M366.8 427.7h0M367.6 429.3h0M370.3 436.8h0M368.5 427.1h0M371.2 432.6h0M367.7 424.6h0M371.6 434.3h0M368.6 425.9h0M372.1 429.7h0M367.9 429.9h0M361.9 435.7h0M370.1 436.7h0M370.7 423.5h0M369.0 434.2h0M371.6 433.7h0M369.6 424.6h0M370.6 434.2h0M372.5 432.1h0M367.7 430.6h0M369.7 434.4h0M369.6 423.5h0M368.4 429.7h0M368.7 424.6h0M372.2 428.7h0M369.3 434.9h0M365.3 430.8h0M369.0 422.7h0M371.7 428.8h0M364.9 426.2h0M366.9 437.1h0M365.8 437.0h0M371.8 422.0h0M367.4 425.1h0M363.6 432.9h0M366.0 438.0h0M368.0 426.0h0M367.8 431.7h0M370.6 422.7h0M364.4 428.8h0M368.6 434.7h0M369.5 424.2h0M363.6 430.5h0M371.5 430.2h0M364.8 433.0h0M369.0 422.1h0M369.0 430.6h0M372.1 429.9h0M372.2 428.3h0M367.7 428.5h0M363.5 429.5h0M364.6 437.1h0M365.3 428.4h0M366.2 425.4h0M362.6 429.6h0M372.7 425.5h0M364.2 429.1h0M370.8 422.2h0M370.6 428.5h0M369.5 435.4h0M369.9 430.0h0M372.1 428.7h0M368.6 438.1h0M370.7 427.0h0M366.4 436.0h0M366.1 423.5h0M369.4 426.7h0M369.2 436.7h0M367.0 426.4h0" stroke="#4a88cc" stroke-width="0.54" stroke-linecap="round" fill="none" opacity="0.62"/><path d="M356.9 437.2h0M357.0 436.3h0M359.2 435.5h0M357.0 434.2h0M357.6 434.9h0M357.0 437.0h0M359.0 435.6h0M357.7 436.2h0M355.4 435.1h0" stroke="#9c9c9c" stroke-width="0.54" stroke-linecap="round" fill="none" opacity="0.44"/><ellipse cx="351.6" cy="429.2" rx="4.14" ry="4.97" transform="rotate(0 351.6 429.2)" fill="#9c9c9c" opacity="0.13" filter="url(#blur07)"/><path d="M354.4 432.1h0M349.6 431.8h0M352.0 431.7h0M352.5 431.9h0M354.1 426.6h0M352.1 432.3h0M352.8 425.4h0M353.7 427.4h0M349.1 427.0h0M350.9 431.9h0M349.8 428.2h0M348.4 426.8h0M350.8 430.8h0M354.0 428.8h0M351.6 424.1h0M353.5 429.4h0M347.5 430.8h0M348.5 431.0h0M353.0 427.4h0M353.6 428.7h0M348.4 428.1h0M351.0 431.7h0M355.0 428.1h0M353.5 428.4h0M351.8 425.8h0M353.4 430.1h0M350.8 428.3h0M355.2 431.6h0M354.1 427.5h0M353.7 425.6h0M350.8 430.7h0M352.1 426.3h0M350.1 432.0h0M351.6 427.4h0M349.3 429.2h0M352.2 432.1h0M348.8 427.9h0M351.2 427.6h0M352.3 429.3h0M350.2 433.5h0M352.3 426.6h0M355.4 429.0h0M347.6 429.7h0M353.2 428.5h0M355.6 430.5h0M352.8 428.0h0M348.6 431.1h0M350.4 424.9h0M351.1 431.1h0M355.2 430.3h0M350.2 427.3h0M350.1 429.5h0M350.4 431.7h0M349.1 430.6h0M348.6 430.7h0M354.3 429.5h0M353.1 433.3h0M347.7 430.8h0M347.7 428.2h0M349.8 426.7h0M350.2 424.4h0M353.0 430.2h0M350.7 425.4h0M354.8 426.8h0M352.3 427.7h0M355.1 427.8h0M353.2 429.7h0M355.1 429.9h0M349.1 426.1h0M354.0 432.4h0M351.9 431.7h0M354.2 428.3h0M352.3 427.3h0M354.3 433.2h0M351.4 431.2h0M351.9 429.8h0M353.9 431.4h0M353.6 432.6h0M350.6 430.8h0M353.0 426.9h0M349.3 427.8h0M352.2 433.4h0M350.7 431.6h0M353.4 431.0h0M349.7 428.9h0M351.2 432.6h0M354.3 432.4h0M350.2 427.9h0M351.2 425.8h0M350.4 424.9h0M350.3 432.6h0M351.6 429.8h0M349.3 430.5h0M350.8 428.7h0M353.9 429.7h0M350.4 425.3h0M353.6 433.4h0M350.3 432.4h0M350.7 429.7h0M354.3 431.6h0M347.7 431.6h0M354.5 426.6h0M352.9 428.5h0M353.6 432.6h0M353.3 426.2h0M349.7 430.4h0M351.0 432.1h0M354.3 426.1h0M351.3 427.9h0M351.8 433.4h0M348.7 426.5h0M352.0 425.3h0M348.6 432.5h0M351.1 429.1h0M350.1 428.6h0M353.1 431.5h0M352.8 426.2h0M352.2 428.6h0M358.1 430.8h0M355.8 429.5h0M353.4 424.5h0M349.2 429.9h0M352.9 430.1h0M351.2 424.5h0M351.6 432.4h0M351.8 431.3h0" stroke="#9c9c9c" stroke-width="0.54" stroke-linecap="round" fill="none" opacity="0.5"/><path d="M356.5 422.5h0M356.1 422.8h0M354.4 424.2h0M356.1 422.9h0M357.7 422.8h0M356.2 422.5h0M353.5 421.7h0M355.2 420.9h0M354.6 423.6h0M354.9 421.5h0M357.1 425.1h0M356.5 423.8h0M354.9 420.3h0M355.1 422.3h0M356.2 422.0h0M355.2 419.8h0M354.9 422.2h0M355.7 423.3h0M354.6 423.1h0" stroke="#9c9c9c" stroke-width="0.54" stroke-linecap="round" fill="none" opacity="0.55"/><ellipse cx="366.6" cy="439.6" rx="2.58" ry="1.56" transform="rotate(-25 366.6 439.6)" fill="#e08a2c" opacity="0.18" filter="url(#blur07)"/><path d="M367.4 437.8h0M368.2 439.4h0M367.4 439.4h0M365.4 440.0h0M366.9 440.3h0M366.5 440.4h0M364.2 440.8h0M367.6 437.7h0M369.0 439.0h0M367.2 438.2h0M367.2 438.9h0M369.2 438.6h0M368.4 439.4h0M367.5 440.8h0M366.0 440.1h0M366.9 440.0h0M366.1 440.1h0M369.6 438.5h0M364.6 440.6h0M366.4 440.1h0M367.2 438.6h0M366.2 439.2h0M366.3 440.1h0M366.0 441.5h0M367.6 439.1h0M366.1 439.3h0M366.2 440.2h0M365.8 439.3h0M365.7 439.8h0M366.3 439.1h0M366.5 440.4h0M365.9 439.2h0M366.9 439.2h0M368.4 438.3h0M367.3 438.5h0M368.3 437.7h0M368.1 437.8h0M365.7 441.0h0M366.2 438.7h0M368.4 439.6h0M368.0 438.9h0M367.3 440.1h0M366.3 440.8h0M365.7 440.5h0M366.2 438.4h0M367.4 439.6h0M367.9 438.4h0M369.1 439.8h0M366.8 438.4h0M365.5 440.2h0M365.3 439.5h0M368.7 438.2h0M366.1 440.2h0M366.0 441.1h0M365.8 439.6h0M365.3 440.6h0M366.2 440.0h0M366.9 440.4h0M367.8 438.3h0M364.2 441.3h0" stroke="#e08a2c" stroke-width="0.54" stroke-linecap="round" fill="none" opacity="0.9"/>
<text transform="translate(261.7 361.8) scale(0.93 1)" font-size="5.4" fill="#b83a32" text-anchor="middle" opacity="0.9">22%</text>
<text transform="translate(291.5 361.8) scale(0.93 1)" font-size="5.4" fill="#b83a32" text-anchor="middle" opacity="0.9">12%</text>
<text transform="translate(325.4 361.8) scale(0.93 1)" font-size="5.4" fill="#b83a32" text-anchor="middle" opacity="0.9">11%</text>
<text transform="translate(359.2 361.8) scale(0.93 1)" font-size="5.4" fill="#b83a32" text-anchor="middle" opacity="0.9">2%</text>
<text transform="translate(242.3 382.4) scale(0.93 1)" font-size="5.4" fill="#4a88cc" text-anchor="middle" opacity="0.9">6%</text>
<text transform="translate(275.5 382.4) scale(0.93 1)" font-size="5.4" fill="#4a88cc" text-anchor="middle" opacity="0.9">18%</text>
<text transform="translate(309.4 382.4) scale(0.93 1)" font-size="5.4" fill="#4a88cc" text-anchor="middle" opacity="0.9">34%</text>
<text transform="translate(345.4 382.4) scale(0.93 1)" font-size="5.4" fill="#4a88cc" text-anchor="middle" opacity="0.9">27%</text>
<text transform="translate(242.3 396.6) scale(0.93 1)" font-size="5.4" fill="#6aa84a" text-anchor="middle" opacity="0.9">59%</text>
<text transform="translate(276.8 396.6) scale(0.93 1)" font-size="5.4" fill="#6aa84a" text-anchor="middle" opacity="0.9">31%</text>
<text transform="translate(309.4 396.6) scale(0.93 1)" font-size="5.4" fill="#6aa84a" text-anchor="middle" opacity="0.9">5%</text>
<text transform="translate(343.8 396.6) scale(0.93 1)" font-size="5.4" fill="#6aa84a" text-anchor="middle" opacity="0.9">1%</text>
<text transform="translate(273 419.6) scale(0.93 1)" font-size="5.4" fill="#4a88cc" text-anchor="middle" opacity="0.9">12%</text>
<text transform="translate(307 419.6) scale(0.93 1)" font-size="5.4" fill="#4a88cc" text-anchor="middle" opacity="0.9">37%</text>
<text transform="translate(341.4 419.6) scale(0.93 1)" font-size="5.4" fill="#4a88cc" text-anchor="middle" opacity="0.9">49%</text>
<text transform="translate(376.2 419.6) scale(0.93 1)" font-size="5.4" fill="#4a88cc" text-anchor="middle" opacity="0.9">55%</text>
<text transform="translate(264.5 444.2) scale(0.93 1)" font-size="5.4" fill="#e08a2c" text-anchor="middle" opacity="0.9">1%</text>
<text transform="translate(298.3 444.2) scale(0.93 1)" font-size="5.4" fill="#e08a2c" text-anchor="middle" opacity="0.9">2%</text>
<text transform="translate(331.5 444.2) scale(0.93 1)" font-size="5.4" fill="#e08a2c" text-anchor="middle" opacity="0.9">1%</text>
<text transform="translate(367 444.2) scale(0.93 1)" font-size="5.4" fill="#e08a2c" text-anchor="middle" opacity="0.9">13%</text>
<rect x="175" y="470.2" width="6.05" height="3.94" fill="#a8443c"/><rect x="181.1" y="470.2" width="5.85" height="3.94" fill="#6a94ca"/><rect x="189" y="470.2" width="6.35" height="3.94" fill="#e0947a"/><rect x="195.4" y="470.2" width="6.25" height="3.94" fill="#eeb89e"/><rect x="175" y="473.99" width="6.05" height="3.94" fill="#b8584a"/><rect x="181.1" y="473.99" width="5.85" height="3.94" fill="#6f98cc"/><rect x="189" y="473.99" width="6.35" height="3.94" fill="#f2c9b0"/><rect x="195.4" y="473.99" width="6.25" height="3.94" fill="#e9a883"/><rect x="175" y="477.77" width="6.05" height="3.94" fill="#c06450"/><rect x="181.1" y="477.77" width="5.85" height="3.94" fill="#7ba3d3"/><rect x="189" y="477.77" width="6.35" height="3.94" fill="#f6dccd"/><rect x="195.4" y="477.77" width="6.25" height="3.94" fill="#f5d6c5"/><rect x="175" y="481.56" width="6.05" height="3.94" fill="#c87058"/><rect x="181.1" y="481.56" width="5.85" height="3.94" fill="#6f98cc"/><rect x="189" y="481.56" width="6.35" height="3.94" fill="#efedf2"/><rect x="195.4" y="481.56" width="6.25" height="3.94" fill="#f7e2d6"/><rect x="175" y="485.34" width="6.05" height="3.94" fill="#c87058"/><rect x="181.1" y="485.34" width="5.85" height="3.94" fill="#7ba3d3"/><rect x="189" y="485.34" width="6.35" height="3.94" fill="#eeecf1"/><rect x="195.4" y="485.34" width="6.25" height="3.94" fill="#f8e8dd"/><rect x="175" y="489.13" width="6.05" height="3.94" fill="#dd8a6e"/><rect x="181.1" y="489.13" width="5.85" height="3.94" fill="#d0dcee"/><rect x="189" y="489.13" width="6.35" height="3.94" fill="#dbe3f0"/><rect x="195.4" y="489.13" width="6.25" height="3.94" fill="#f0c0a6"/><rect x="175" y="492.91" width="6.05" height="3.94" fill="#c46a55"/><rect x="181.1" y="492.91" width="5.85" height="3.94" fill="#5b89c6"/><rect x="189" y="492.91" width="6.35" height="3.94" fill="#6f98cc"/><rect x="195.4" y="492.91" width="6.25" height="3.94" fill="#f5d6c5"/>
<rect x="175" y="499.6" width="6.05" height="3.99" fill="#dbe3f0"/><rect x="181.1" y="499.6" width="5.85" height="3.99" fill="#b85a4a"/><rect x="189" y="499.6" width="6.35" height="3.99" fill="#eeecf1"/><rect x="195.4" y="499.6" width="6.25" height="3.99" fill="#4577bc"/><rect x="175" y="503.44" width="6.05" height="3.99" fill="#dde4f0"/><rect x="181.1" y="503.44" width="5.85" height="3.99" fill="#b04c44"/><rect x="189" y="503.44" width="6.35" height="3.99" fill="#eceaf0"/><rect x="195.4" y="503.44" width="6.25" height="3.99" fill="#d5dfef"/><rect x="175" y="507.29" width="6.05" height="3.99" fill="#e4e8f2"/><rect x="181.1" y="507.29" width="5.85" height="3.99" fill="#b85a4a"/><rect x="189" y="507.29" width="6.35" height="3.99" fill="#f4eeee"/><rect x="195.4" y="507.29" width="6.25" height="3.99" fill="#e6e9f3"/><rect x="175" y="511.13" width="6.05" height="3.99" fill="#f5d6c5"/><rect x="181.1" y="511.13" width="5.85" height="3.99" fill="#b85a4a"/><rect x="189" y="511.13" width="6.35" height="3.99" fill="#f2c9b0"/><rect x="195.4" y="511.13" width="6.25" height="3.99" fill="#e6e9f3"/><rect x="175" y="514.97" width="6.05" height="3.99" fill="#f2c9b0"/><rect x="181.1" y="514.97" width="5.85" height="3.99" fill="#bc5e4c"/><rect x="189" y="514.97" width="6.35" height="3.99" fill="#f0c0a6"/><rect x="195.4" y="514.97" width="6.25" height="3.99" fill="#e4e8f2"/><rect x="175" y="518.81" width="6.05" height="3.99" fill="#f0c0a6"/><rect x="181.1" y="518.81" width="5.85" height="3.99" fill="#c06450"/><rect x="189" y="518.81" width="6.35" height="3.99" fill="#f2c9b0"/><rect x="195.4" y="518.81" width="6.25" height="3.99" fill="#e6e9f3"/><rect x="175" y="522.66" width="6.05" height="3.99" fill="#f5d6c5"/><rect x="181.1" y="522.66" width="5.85" height="3.99" fill="#c87058"/><rect x="189" y="522.66" width="6.35" height="3.99" fill="#f5d6c5"/><rect x="195.4" y="522.66" width="6.25" height="3.99" fill="#c5d5ea"/>
<text transform="translate(179.6 468.8) rotate(-50) scale(0.9 1)" font-size="5.6" fill="#111">CD8</text>
<text transform="translate(185.4 468.8) rotate(-50) scale(0.9 1)" font-size="5.6" fill="#111">CD4</text>
<text transform="translate(193.4 468.8) rotate(-50) scale(0.9 1)" font-size="5.6" fill="#111">CD44</text>
<text transform="translate(199.4 468.8) rotate(-50) scale(0.9 1)" font-size="5.6" fill="#111">CD62L</text>
<text transform="translate(211.6 462) scale(0.91 1)" font-size="6" fill="#111">Rphenograph</text>
<text transform="translate(228.1 467.6) scale(0.99 1)" font-size="6" fill="#111" text-anchor="middle">clusters</text>
<rect x="210.4" y="470.2" width="21.6" height="17.3" fill="#6b5233"/><text transform="translate(221.2 480.45) scale(0.9 1)" font-size="4.8" fill="#f0f0f0" text-anchor="middle" opacity="0.92">CD8 CM</text>
<rect x="210.4" y="489" width="21.6" height="7.7" fill="#c0584c"/><text transform="translate(221.2 494.45) scale(0.9 1)" font-size="4.8" fill="#f0f0f0" text-anchor="middle" opacity="0.92">CD8 N</text>
<rect x="210.4" y="499.6" width="21.6" height="7.7" fill="#3f3b6b"/><text transform="translate(221.2 505.05) scale(0.9 1)" font-size="4.8" fill="#f0f0f0" text-anchor="middle" opacity="0.92">CD4</text>
<rect x="210.4" y="509.2" width="21.6" height="17.3" fill="#4f8fd0"/><text transform="translate(221.2 516.95) scale(0.9 1)" font-size="4.8" fill="#f0f0f0" text-anchor="middle" opacity="0.92">CD4</text><text transform="translate(221.2 521.95) scale(0.9 1)" font-size="4.8" fill="#f0f0f0" text-anchor="middle" opacity="0.92">E/EM</text>
<text transform="translate(148.3 485.6) scale(0.93 1)" font-size="5.7" fill="#111" text-anchor="middle">Differentiation</text>
<text transform="translate(148.3 491.4) scale(0.93 1)" font-size="5.7" fill="#111" text-anchor="middle">panel</text>
<text transform="translate(148.3 497.2) scale(0.93 1)" font-size="5.7" fill="#111" text-anchor="middle">expression</text>
<rect x="149.8" y="500.4" width="2.3" height="21.1" fill="url(#cbar)"/>
<text transform="translate(153.4 501.8) scale(0.9 1)" font-size="3.4" fill="#555">4</text>
<text transform="translate(153.4 505.84) scale(0.9 1)" font-size="3.4" fill="#555">3.5</text>
<text transform="translate(153.4 509.88) scale(0.9 1)" font-size="3.4" fill="#555">3</text>
<text transform="translate(153.4 513.92) scale(0.9 1)" font-size="3.4" fill="#555">2.5</text>
<text transform="translate(153.4 517.96) scale(0.9 1)" font-size="3.4" fill="#555">2</text>
<text transform="translate(153.4 522) scale(0.9 1)" font-size="3.4" fill="#555">1.5</text>
<path d="M174.8 472.09H173.4V475.88H174.8M174.8 479.66H173.6V483.45H174.8M173.4 473.99H172.4V481.56H173.6M174.8 487.24H173.4V491.02H174.8M173.4 489.13H172.6V494.81H174.8M172.4 477.77H171V491.97H172.6M174.8 501.52H173.4V505.36H174.8M173.4 503.44H172.4V509.21H174.8M174.8 513.05H173.6V516.89H174.8M174.8 520.74H173.6V524.58H174.8M173.6 514.97H172.6V522.66H173.6M172.4 506.33H170.6V518.81H172.6M171 484.87H168.6V512.57H170.6" fill="none" stroke="#222" stroke-width="0.5"/>
<text transform="translate(259.2 465) scale(0.93 1)" font-size="5.7" fill="#111" text-anchor="middle">UNT</text>
<text transform="translate(293 465) scale(0.93 1)" font-size="5.7" fill="#111" text-anchor="middle">αPD1</text>
<text transform="translate(327 465) scale(0.93 1)" font-size="5.7" fill="#111" text-anchor="middle">αCD20</text>
<text transform="translate(358.6 460.2) scale(0.93 1)" font-size="5.3" fill="#111" text-anchor="middle">αCD20</text>
<text transform="translate(358.6 465) scale(0.93 1)" font-size="5.3" fill="#111" text-anchor="middle">+αPD1</text>
<path d="M257.6 479.3h0M258.6 485.8h0M255.3 479.7h0M251.8 483.4h0M260.1 477.9h0M265.2 481.4h0M252.7 477.5h0M261.7 474.9h0M264.6 481.5h0M249.2 489.1h0M254.9 485.6h0M256.8 484.4h0M268.3 483.3h0M258.8 491.0h0M248.0 486.1h0M260.1 484.6h0M264.7 487.4h0M245.3 480.1h0M250.7 488.1h0M253.7 482.6h0M268.3 486.3h0M251.7 485.6h0M254.6 485.9h0M256.2 478.9h0M263.3 480.5h0M260.7 484.3h0M259.0 481.8h0M250.7 486.8h0M254.9 481.9h0M256.2 484.1h0M248.2 484.8h0M256.9 478.2h0M257.8 491.7h0M254.6 479.0h0M252.5 482.0h0M254.1 482.0h0M265.1 487.4h0M257.9 478.6h0M251.6 482.5h0M246.5 487.2h0M257.6 484.7h0M262.3 485.8h0M255.8 474.0h0M250.7 486.5h0M256.9 485.9h0M255.9 489.9h0M258.1 491.5h0M254.6 478.4h0M257.2 481.8h0M258.0 480.2h0" stroke="#b8b8b8" stroke-width="0.5" stroke-linecap="round" fill="none" opacity="0.4"/><path d="M256.6 483.3h0M260.5 486.9h0M259.7 483.9h0M255.1 485.5h0M259.6 491.5h0M263.5 483.9h0M261.1 484.2h0M260.0 491.0h0M261.3 489.2h0M259.9 483.9h0M259.8 487.3h0M257.3 492.0h0M261.7 483.9h0M259.4 490.5h0M258.4 490.7h0M256.3 487.9h0M255.0 489.9h0M248.5 484.5h0M255.0 484.1h0M254.9 488.8h0M260.0 486.7h0M254.3 490.0h0M264.7 490.1h0M255.7 486.8h0M265.5 486.1h0M261.6 485.3h0M256.0 486.7h0M253.8 486.3h0M258.6 489.7h0M260.7 489.5h0M256.2 488.1h0M255.2 486.6h0M253.4 487.2h0M258.6 492.5h0M262.2 490.1h0M267.0 488.2h0M259.4 485.2h0M257.2 484.8h0M260.3 492.4h0M261.5 484.4h0M265.2 486.1h0M261.4 483.6h0M256.9 482.3h0M257.4 489.6h0M259.7 490.4h0M264.2 487.7h0M262.3 485.3h0M258.5 481.8h0M261.1 485.4h0M264.5 490.2h0M260.7 492.3h0M264.9 489.5h0M254.8 485.0h0M264.6 485.7h0M261.3 488.0h0M259.5 492.8h0M256.8 483.6h0M264.2 487.3h0M257.0 490.0h0M262.4 484.9h0M257.8 488.8h0M260.5 483.3h0M256.7 485.3h0M260.6 485.1h0M263.1 485.8h0M256.2 485.4h0M260.1 483.1h0M258.8 487.4h0M264.3 486.6h0M256.5 486.6h0M259.0 482.6h0M259.8 489.6h0M256.7 487.1h0M254.3 487.5h0M254.6 490.0h0M260.9 486.8h0M258.9 491.1h0M262.1 484.7h0M255.1 481.4h0M261.5 484.1h0M258.5 490.2h0M258.9 489.3h0M255.0 484.0h0M258.2 485.9h0M255.4 487.3h0M260.2 492.2h0M255.0 487.1h0M264.6 486.7h0M262.0 483.7h0M259.6 482.8h0M260.4 487.9h0M256.8 482.4h0M259.8 490.1h0M256.9 483.9h0M259.6 489.3h0M258.2 487.8h0M258.3 491.9h0M259.1 483.7h0M257.3 485.7h0M257.4 486.4h0M261.6 491.9h0M253.8 489.3h0M257.9 487.6h0M262.2 485.6h0M261.0 485.2h0M256.0 489.1h0M258.7 491.2h0M258.7 484.4h0M258.2 490.4h0M265.6 487.9h0M260.5 487.1h0M254.9 486.9h0M265.4 485.8h0M257.5 492.8h0M257.4 483.5h0M256.4 482.5h0M262.3 488.1h0M264.3 486.4h0M257.1 491.6h0M257.5 488.2h0" stroke="#9c9c9c" stroke-width="0.54" stroke-linecap="round" fill="none" opacity="0.5"/><path d="M253.3 482.7h0M250.9 482.7h0M252.4 483.8h0M252.3 478.6h0M256.9 477.6h0M257.0 477.7h0M261.2 477.4h0M247.5 479.8h0M252.5 476.0h0M249.3 484.3h0M254.3 475.6h0M253.5 477.5h0M258.8 480.2h0M253.3 480.9h0M257.5 476.3h0M257.3 479.7h0M262.0 479.8h0M256.5 479.8h0M251.1 477.1h0M255.7 481.1h0M250.8 482.0h0M258.0 478.5h0M249.6 477.6h0M249.9 477.8h0M252.8 481.3h0M254.1 477.2h0M250.7 477.3h0M255.4 478.5h0M252.0 478.7h0M252.4 478.4h0M251.0 479.0h0M256.8 482.0h0M251.3 482.0h0M252.8 478.5h0M256.4 476.4h0M253.4 479.6h0M257.4 479.4h0M249.3 478.2h0M251.6 481.4h0M251.8 475.9h0M258.0 475.2h0M252.7 482.5h0M250.1 479.9h0M261.3 475.9h0M247.8 479.3h0M256.4 478.8h0M257.4 473.8h0M255.0 475.7h0M254.6 478.8h0M260.4 479.5h0M257.1 478.2h0M250.6 482.1h0M250.1 482.0h0M256.4 482.7h0M255.1 478.1h0M258.2 474.1h0M252.7 474.9h0M252.1 482.5h0M251.6 479.0h0M256.8 478.4h0M256.7 481.9h0M254.6 481.4h0M255.4 482.1h0M256.6 480.9h0M252.9 479.9h0M255.8 482.1h0M258.1 475.3h0M256.2 479.0h0M248.9 483.1h0M251.7 481.5h0M253.0 480.7h0M253.1 480.5h0M253.4 481.9h0M258.1 477.5h0M258.8 477.8h0M257.2 475.4h0M251.3 476.3h0M255.4 476.8h0M261.1 477.7h0M253.2 484.7h0M259.6 475.0h0M252.8 477.1h0M246.3 480.7h0M260.1 477.3h0M255.4 476.6h0M259.8 476.5h0M258.3 481.5h0M257.7 479.1h0M258.3 479.0h0M258.8 481.4h0M256.3 478.1h0M254.1 478.0h0M254.3 478.3h0M254.2 475.6h0M258.1 477.8h0M253.8 480.7h0M253.3 482.0h0M251.6 481.5h0M260.1 477.6h0M256.6 479.6h0M251.8 481.6h0M254.2 481.4h0M252.0 483.8h0M254.8 476.2h0M250.8 478.4h0M256.6 482.6h0M254.8 479.9h0M250.2 478.2h0M255.1 480.4h0M250.0 476.1h0M251.7 480.7h0M251.8 479.8h0M249.5 481.2h0M252.6 480.7h0M261.1 479.0h0M254.7 483.7h0M250.5 478.0h0M251.1 479.4h0M256.6 475.9h0M252.2 479.0h0M257.9 481.0h0M256.4 480.2h0M252.9 484.5h0M258.3 479.4h0M257.8 477.5h0M256.1 476.1h0M250.6 479.3h0M253.6 482.6h0M250.4 479.2h0M247.9 480.4h0M252.7 477.2h0M255.0 475.1h0M247.8 479.0h0M253.3 480.2h0M249.8 477.8h0M259.2 477.3h0M252.1 478.5h0M251.8 479.7h0M252.8 480.9h0M252.5 474.0h0M256.7 478.2h0M253.8 475.8h0M252.8 477.9h0M253.3 477.7h0M250.9 477.9h0M253.1 477.2h0M255.3 477.4h0M251.9 478.1h0M248.0 482.1h0M250.8 483.5h0M255.0 480.4h0M256.3 479.6h0M253.9 479.2h0" stroke="#5e4424" stroke-width="0.54" stroke-linecap="round" fill="none" opacity="0.85"/><path d="M250.4 479.4h0M251.0 476.6h0M250.4 475.9h0M248.8 478.2h0M250.5 478.0h0M248.6 478.7h0M249.2 477.5h0M251.8 478.7h0M250.1 477.3h0M250.0 477.9h0M253.5 476.7h0M251.7 479.0h0M249.9 480.1h0M251.6 480.2h0M253.8 476.3h0M252.0 481.1h0M250.6 477.2h0M249.6 475.1h0M251.7 478.8h0M254.7 477.5h0M252.2 480.5h0M249.0 476.3h0M252.7 478.1h0M248.4 478.5h0M252.8 479.2h0M251.1 477.1h0M251.0 480.6h0M251.3 477.5h0M251.4 475.6h0M251.5 476.2h0M253.5 478.2h0M249.8 478.3h0M252.0 478.5h0M248.6 480.1h0M249.3 479.5h0M251.4 476.5h0M252.3 478.5h0M248.3 477.7h0M252.1 480.5h0M252.3 476.7h0M248.5 479.1h0M250.6 478.5h0M249.7 478.6h0M250.9 478.3h0M252.6 477.0h0M253.1 478.3h0M251.6 477.4h0M251.5 478.4h0M250.2 480.9h0M251.7 479.9h0M254.4 478.9h0M249.5 477.2h0M251.2 480.1h0M251.4 479.4h0M251.9 480.1h0M248.3 477.3h0M250.1 480.6h0M250.6 478.0h0M252.0 476.6h0M252.4 478.2h0M248.9 479.5h0" stroke="#5e4424" stroke-width="0.54" stroke-linecap="round" fill="none" opacity="0.85"/><path d="M258.2 473.9h0M259.7 474.4h0M260.4 474.8h0M259.9 475.1h0M261.5 473.4h0M260.6 475.8h0M260.0 474.3h0M257.7 473.5h0M257.9 473.0h0M258.9 475.6h0M259.9 474.6h0M259.9 474.7h0M258.0 473.7h0M258.5 473.2h0M257.6 474.8h0M258.9 475.0h0M258.8 474.2h0M259.4 473.0h0" stroke="#c0564a" stroke-width="0.54" stroke-linecap="round" fill="none" opacity="0.85"/>
<path d="M261.0 512.6h0M255.7 511.3h0M256.3 515.0h0M248.9 509.9h0M256.8 511.8h0M260.3 518.7h0M252.2 521.2h0M254.4 508.8h0M262.6 517.9h0M265.9 519.4h0M256.8 513.9h0M259.4 510.8h0M263.3 519.1h0M262.2 511.2h0M254.3 514.8h0M255.9 513.2h0M256.9 522.3h0M253.9 511.4h0M260.5 518.7h0M256.2 515.8h0M257.0 511.3h0M253.4 508.5h0M255.1 515.8h0M257.2 502.5h0M255.1 512.7h0M255.8 510.0h0M248.4 509.2h0M255.5 519.4h0M263.3 508.8h0M257.2 509.3h0M253.6 512.0h0M253.9 513.4h0M247.3 511.4h0M252.7 517.5h0M266.0 506.9h0M249.6 508.8h0M254.2 516.6h0M258.7 502.5h0M253.7 515.8h0M255.5 512.1h0M260.7 512.4h0M257.0 519.5h0M251.0 514.3h0M259.9 518.6h0M250.2 513.8h0M254.9 514.1h0M254.9 515.0h0M254.7 506.6h0M250.5 512.5h0M257.4 504.2h0" stroke="#b8b8b8" stroke-width="0.5" stroke-linecap="round" fill="none" opacity="0.4"/><path d="M261.0 511.9h0M261.7 516.7h0M258.2 520.7h0M254.8 511.2h0M263.0 511.9h0M255.8 518.1h0M257.6 515.1h0M258.5 516.6h0M258.9 517.1h0M263.6 514.2h0M260.0 518.0h0M258.1 514.1h0M254.2 516.2h0M263.0 512.1h0M258.4 517.1h0M254.3 516.0h0M259.1 516.0h0M258.7 515.5h0M254.1 513.9h0M262.8 514.0h0M258.2 511.1h0M259.7 509.2h0M259.5 520.8h0M262.4 518.3h0M260.3 517.7h0M259.2 520.9h0M256.7 518.3h0M259.0 516.9h0M259.2 511.6h0M253.7 517.0h0M262.2 515.8h0M260.8 515.5h0M263.6 512.8h0M264.5 513.6h0M255.4 514.0h0M256.7 519.7h0M256.9 510.8h0M261.2 517.9h0M256.4 515.0h0M253.4 515.4h0M256.0 520.3h0M254.8 514.9h0M263.5 513.3h0M261.4 514.3h0M256.1 513.2h0" stroke="#3f86d0" stroke-width="0.54" stroke-linecap="round" fill="none" opacity="0.65"/><path d="M254.7 518.9h0M256.6 519.1h0M255.6 518.7h0M256.1 518.6h0M253.9 518.7h0M254.0 518.9h0M258.1 518.4h0M255.7 519.2h0M254.2 518.1h0M257.8 518.6h0M254.9 519.4h0M255.2 518.1h0M259.1 518.6h0M256.2 518.5h0M254.5 518.9h0M255.2 518.0h0M255.7 518.8h0M257.8 521.6h0M254.0 518.5h0M256.9 519.3h0M254.8 520.6h0M255.0 518.6h0" stroke="#3f3b6b" stroke-width="0.54" stroke-linecap="round" fill="none" opacity="0.7"/><path d="M254.0 507.0h0M256.6 505.1h0M252.1 504.2h0M251.4 510.9h0M258.7 503.0h0M254.2 505.1h0M253.4 504.7h0M253.7 506.5h0M251.5 506.6h0M248.2 507.6h0M255.0 508.9h0M253.5 505.0h0M251.5 506.2h0M251.8 504.5h0M250.8 507.8h0M250.9 510.9h0M254.4 505.2h0M252.7 509.3h0M252.0 504.0h0M258.8 509.1h0M256.5 510.6h0M251.5 505.5h0M255.7 505.6h0M251.9 507.4h0M251.2 509.2h0M250.4 505.0h0M255.1 507.6h0M252.9 508.8h0M254.1 510.5h0M252.6 504.0h0M253.7 504.5h0M252.5 507.4h0M254.6 504.9h0M254.8 507.8h0M256.4 508.1h0M258.8 504.8h0M256.7 506.0h0M254.8 508.3h0M255.6 509.9h0M251.3 507.8h0M255.3 504.4h0M258.1 502.8h0M250.5 507.3h0M257.4 505.8h0M252.5 508.9h0M249.4 508.3h0M251.9 505.6h0M259.9 507.9h0M253.4 507.3h0M251.6 503.9h0M251.2 507.9h0M248.6 511.9h0M249.9 507.7h0M256.9 506.1h0M256.7 510.1h0M251.4 507.3h0M259.2 505.2h0M258.7 507.6h0M255.9 507.5h0M247.2 509.3h0M255.4 507.4h0M253.6 506.1h0M248.4 510.0h0M255.6 509.6h0M256.7 507.5h0M255.2 508.8h0M252.7 508.6h0M254.6 503.9h0M258.8 508.1h0M255.1 508.1h0M256.2 503.8h0M258.7 508.7h0M254.5 508.0h0M251.8 507.3h0M251.2 508.4h0M255.7 505.4h0M247.6 508.8h0M251.9 503.9h0M251.2 508.8h0M250.4 504.9h0M254.4 510.5h0M255.5 507.1h0M253.5 507.8h0M257.5 508.2h0M251.9 506.5h0M257.1 506.9h0M259.8 508.8h0M253.0 506.3h0M251.7 508.3h0M254.1 510.9h0M256.0 502.9h0M253.8 504.5h0M254.1 503.4h0M256.4 506.0h0M256.4 503.8h0M249.2 507.6h0M255.5 506.9h0M254.7 505.3h0M253.9 506.4h0M255.3 506.5h0M248.4 507.9h0M260.0 502.8h0M256.7 504.7h0M253.8 505.7h0M249.5 505.2h0M253.0 510.0h0M260.4 503.6h0M249.0 508.2h0M254.4 502.9h0M255.9 503.8h0M254.6 505.5h0M256.6 506.0h0M256.9 508.6h0M255.0 509.8h0M253.5 508.6h0M253.8 510.8h0M247.9 505.1h0M251.6 509.6h0M257.2 509.9h0M254.6 502.9h0M249.4 507.8h0M255.4 508.1h0M253.5 506.4h0M254.9 505.7h0M251.9 509.3h0M253.3 507.1h0M248.1 511.4h0M252.5 508.8h0M254.0 509.3h0M252.4 507.7h0M254.7 507.0h0M250.3 507.7h0M251.6 504.2h0M251.0 508.6h0M261.4 505.3h0M249.3 505.6h0" stroke="#9c9c9c" stroke-width="0.54" stroke-linecap="round" fill="none" opacity="0.5"/><path d="M261.2 502.4h0M261.6 502.5h0M259.8 503.6h0M260.5 503.0h0M258.2 503.8h0" stroke="#9c9c9c" stroke-width="0.54" stroke-linecap="round" fill="none" opacity="0.5"/>
<path d="M286.2 476.2h0M294.7 486.5h0M300.9 483.5h0M289.3 490.4h0M296.0 485.2h0M297.8 486.7h0M284.7 481.2h0M295.2 481.0h0M289.0 491.9h0M291.0 491.6h0M294.4 485.0h0M285.7 481.4h0M282.8 486.8h0M296.6 488.0h0M296.1 487.3h0M298.7 489.6h0M286.5 486.2h0M284.3 476.9h0M286.4 481.0h0M293.4 474.7h0M290.6 479.8h0M285.0 478.7h0M300.9 484.6h0M287.0 472.4h0M289.7 491.3h0M296.8 480.1h0M295.7 484.5h0M297.7 487.3h0M282.4 484.2h0M293.2 491.1h0M288.8 484.8h0M284.3 487.1h0M285.7 475.8h0M293.0 484.8h0M286.6 483.4h0M292.1 473.9h0M288.8 491.1h0M298.0 485.3h0M287.3 474.2h0M286.9 483.3h0M282.6 484.1h0M289.6 480.6h0M289.4 486.8h0M287.6 489.2h0M298.6 484.1h0M283.7 477.5h0M287.3 479.3h0M287.3 490.5h0M299.2 482.5h0M295.7 492.4h0" stroke="#b8b8b8" stroke-width="0.5" stroke-linecap="round" fill="none" opacity="0.4"/><path d="M292.2 491.5h0M290.6 489.2h0M290.5 484.0h0M292.7 483.7h0M295.3 484.1h0M291.6 485.4h0M288.4 488.7h0M288.6 487.2h0M294.9 485.9h0M287.3 489.4h0M288.2 490.0h0M291.3 490.3h0M296.5 486.2h0M295.3 490.9h0M296.7 485.2h0M294.8 492.1h0M293.3 491.2h0M294.4 483.5h0M297.4 489.9h0M298.5 489.1h0M293.7 483.6h0M289.0 490.7h0M290.9 483.0h0M292.9 487.7h0M291.4 483.3h0M290.2 490.4h0M292.0 486.9h0M292.6 484.1h0M293.3 488.2h0M295.7 491.7h0M288.8 485.9h0M293.0 492.1h0M294.3 482.9h0M290.7 483.2h0M294.3 492.6h0M295.9 489.5h0M299.0 487.6h0M291.7 485.3h0M296.2 483.2h0M287.3 485.4h0M299.5 481.2h0M297.7 489.3h0M295.3 491.9h0M295.2 488.2h0M293.9 487.2h0M290.3 488.4h0M296.6 489.0h0M290.6 486.6h0M292.1 484.3h0M296.0 486.4h0M297.4 490.5h0M291.2 486.0h0M290.2 491.3h0M298.0 489.0h0M294.5 485.4h0M291.4 485.9h0M290.9 490.5h0M293.1 490.0h0M298.3 485.9h0M291.0 489.7h0M294.4 492.5h0M298.4 489.3h0M296.3 483.4h0M294.7 488.6h0M291.9 487.6h0M297.3 490.1h0M295.1 484.8h0M293.9 489.5h0M292.1 492.0h0M298.3 490.0h0M290.6 490.9h0M290.4 491.7h0M291.9 492.1h0M293.1 490.7h0M296.2 485.1h0M295.3 482.7h0M292.7 486.5h0M297.5 486.6h0M289.9 486.0h0M296.6 482.7h0M298.6 486.3h0M290.5 485.3h0M297.8 490.3h0M291.0 489.0h0M288.5 484.2h0M296.4 488.5h0M291.9 488.2h0M294.3 485.6h0M289.5 488.9h0M295.1 486.3h0M293.0 489.2h0M296.7 490.8h0M298.5 488.5h0M292.6 488.4h0M290.1 489.0h0M292.6 487.0h0M298.4 488.5h0M298.2 487.7h0M288.8 488.7h0M296.6 486.3h0M296.8 489.5h0M301.1 484.8h0M292.3 484.0h0M293.7 482.4h0M292.5 490.4h0M295.5 490.2h0M290.5 491.3h0M291.3 487.7h0M289.8 486.2h0M292.1 488.0h0M295.9 490.6h0M294.9 487.6h0M293.2 483.8h0M288.4 488.8h0M292.3 484.4h0M293.8 482.3h0M284.9 491.9h0M298.2 486.9h0M296.5 484.2h0M297.1 486.4h0M296.5 490.9h0M297.9 485.0h0M291.0 483.1h0M288.9 485.9h0M295.1 489.9h0M298.2 484.7h0M292.6 486.7h0M298.4 485.1h0M296.8 482.5h0M289.5 486.2h0M286.6 487.4h0M297.4 483.9h0M292.7 487.1h0M294.8 487.2h0M295.5 492.1h0M297.4 490.3h0M292.8 483.2h0M294.9 485.8h0M295.4 482.7h0M291.0 492.2h0M289.3 490.2h0M294.6 490.0h0M295.0 482.1h0M291.4 489.2h0M292.3 487.9h0M296.1 487.0h0M298.0 484.2h0M292.6 488.8h0M298.9 485.8h0M294.1 486.0h0M295.0 493.0h0M294.5 487.8h0M291.2 488.9h0M291.5 490.8h0M293.3 485.4h0M292.9 484.3h0M295.6 483.0h0M287.9 490.0h0M292.1 489.9h0M291.2 489.4h0M296.8 487.1h0M296.8 484.7h0M291.7 484.9h0M292.4 492.9h0M296.3 482.2h0M294.5 485.4h0M291.6 484.8h0M298.5 487.6h0M297.4 486.2h0M294.5 487.7h0M295.6 482.9h0M292.7 485.6h0M293.6 491.7h0M294.5 488.5h0M297.6 489.7h0M286.6 487.9h0M295.7 486.0h0M294.8 491.9h0M288.6 486.2h0M295.6 483.1h0M295.8 487.9h0M291.7 486.2h0M298.2 485.7h0M292.4 488.6h0" stroke="#9c9c9c" stroke-width="0.54" stroke-linecap="round" fill="none" opacity="0.5"/><path d="M284.1 483.8h0M285.4 478.4h0M284.1 481.0h0M291.6 481.9h0M284.5 484.4h0M285.1 480.7h0M283.6 480.0h0M293.8 479.4h0M292.0 477.4h0M289.2 479.3h0M288.2 478.8h0M281.7 481.7h0M285.5 480.4h0M283.2 479.8h0M288.0 484.2h0M289.6 479.3h0M284.4 478.8h0M288.6 477.6h0M285.8 477.7h0M288.2 482.3h0M290.3 475.9h0M292.8 482.3h0M283.7 476.6h0M287.2 482.2h0M293.4 478.1h0M284.7 478.2h0M284.1 481.6h0M288.6 477.7h0M291.1 478.1h0M284.2 479.2h0M288.5 476.4h0M287.7 480.1h0M280.7 478.4h0M290.0 478.3h0M283.1 475.5h0M289.2 478.4h0M286.1 474.9h0M290.7 479.0h0M287.2 479.7h0M288.8 475.9h0M283.7 477.9h0M285.9 480.9h0M292.2 478.6h0M290.5 479.7h0M289.2 476.9h0M290.9 481.0h0M281.8 481.6h0M289.5 479.7h0M284.6 479.8h0M290.2 481.6h0M291.9 474.4h0M294.2 480.1h0M293.7 481.9h0M288.2 481.2h0M283.2 479.1h0M289.7 478.9h0M289.3 476.5h0M284.8 481.9h0M288.7 477.8h0M292.7 481.0h0M289.0 483.6h0M288.6 477.0h0M291.9 476.6h0M287.7 480.1h0M286.7 482.5h0M289.0 481.6h0M287.7 477.9h0M287.7 481.3h0M291.0 479.7h0M294.6 478.7h0M288.1 483.8h0M291.2 482.1h0M287.0 480.8h0M293.1 478.5h0M288.6 482.0h0M286.4 479.7h0M287.0 478.8h0M284.7 483.0h0M283.1 481.7h0M286.1 478.3h0M281.4 478.8h0M287.5 474.9h0M288.1 475.4h0M289.9 480.2h0M293.8 480.5h0M285.3 481.7h0M286.0 476.4h0M291.7 478.0h0M289.1 480.2h0M285.8 482.1h0M289.8 476.7h0M285.1 477.8h0M288.5 476.6h0M293.1 479.4h0M287.9 480.7h0M288.6 480.2h0M282.8 480.3h0M287.4 478.7h0M286.9 481.0h0M284.1 484.3h0M285.4 483.6h0M286.7 475.8h0M284.2 482.2h0M291.2 474.3h0M285.9 481.9h0M286.1 477.4h0M292.5 478.4h0M281.9 477.4h0M289.2 476.8h0M293.4 476.0h0M289.3 480.3h0M289.8 478.4h0M284.8 480.0h0M281.1 482.7h0M291.6 481.0h0M290.9 476.7h0M287.7 483.1h0M290.2 477.8h0M290.4 475.6h0M289.4 481.8h0" stroke="#5e4424" stroke-width="0.54" stroke-linecap="round" fill="none" opacity="0.85"/><path d="M285.6 477.8h0M287.6 476.7h0M285.4 479.5h0M283.0 476.7h0M286.3 477.7h0M285.1 476.6h0M282.9 479.7h0M286.7 478.2h0M282.7 479.1h0M287.6 479.3h0M284.6 477.7h0M284.4 477.9h0M285.3 478.7h0M283.9 479.7h0M283.4 475.1h0M284.3 476.2h0M285.1 478.1h0M285.6 480.0h0M286.6 479.2h0M286.7 478.5h0M284.1 476.2h0M287.1 479.3h0M284.8 477.0h0M282.6 478.1h0M285.4 478.1h0M285.8 477.7h0M283.1 479.5h0M284.0 476.5h0M284.8 479.4h0M285.2 481.3h0M282.8 480.7h0M286.0 479.9h0M285.7 478.8h0M286.1 479.2h0M286.7 478.1h0M285.3 478.7h0M283.9 478.1h0M284.6 475.5h0M284.1 477.8h0M283.7 479.2h0M285.5 477.0h0M285.5 480.6h0M282.8 476.7h0M285.8 477.0h0M284.7 477.6h0M284.7 478.4h0M285.1 479.7h0M285.2 477.1h0" stroke="#5e4424" stroke-width="0.54" stroke-linecap="round" fill="none" opacity="0.85"/><path d="M294.5 474.2h0M293.7 474.0h0M293.0 475.1h0M294.9 473.7h0M292.4 474.8h0M291.6 473.4h0M293.9 474.2h0M292.7 474.7h0M292.0 475.1h0M292.7 474.6h0M293.8 474.7h0M294.4 474.1h0M295.2 474.0h0M292.8 473.1h0M292.9 474.0h0M294.2 474.5h0M294.1 474.9h0M294.9 473.9h0" stroke="#c0564a" stroke-width="0.54" stroke-linecap="round" fill="none" opacity="0.85"/>
<path d="M290.3 516.3h0M289.8 513.8h0M288.4 507.7h0M288.2 514.0h0M291.8 515.9h0M295.3 509.5h0M287.8 507.8h0M281.9 512.2h0M291.0 511.3h0M293.9 508.5h0M281.8 516.1h0M293.0 504.6h0M292.4 518.6h0M296.4 514.9h0M287.7 507.1h0M287.4 510.6h0M288.1 511.1h0M297.5 517.4h0M287.8 514.7h0M291.6 504.3h0M293.6 507.3h0M288.2 513.6h0M284.2 508.9h0M289.3 516.7h0M293.5 511.1h0M290.6 514.2h0M299.0 514.8h0M291.1 516.8h0M293.5 510.8h0M287.0 517.1h0M285.1 507.7h0M291.8 509.6h0M291.4 512.6h0M289.3 517.3h0M295.9 521.0h0M284.5 515.5h0M288.5 509.9h0M286.0 510.4h0M285.2 505.6h0M287.4 514.2h0M291.8 520.7h0M290.6 510.3h0M284.2 516.6h0M291.5 519.2h0M289.7 504.5h0M297.0 517.8h0M298.9 517.3h0M283.3 508.5h0M289.3 520.0h0M286.8 516.9h0" stroke="#b8b8b8" stroke-width="0.5" stroke-linecap="round" fill="none" opacity="0.4"/><path d="M296.4 515.4h0M292.3 517.2h0M296.5 516.9h0M291.6 519.5h0M290.0 512.4h0M292.5 510.8h0M290.9 520.0h0M297.0 511.3h0M296.5 520.5h0M294.6 515.5h0M295.5 515.8h0M295.8 518.2h0M296.7 516.6h0M290.5 514.5h0M295.1 519.3h0M293.7 511.6h0M290.8 512.4h0M297.8 512.6h0M298.8 516.4h0M288.4 518.2h0M292.3 520.0h0M294.9 515.6h0M289.1 514.1h0M295.0 516.8h0M290.7 513.7h0M293.2 511.7h0M287.6 514.0h0M296.4 520.4h0M295.6 510.9h0M294.2 520.9h0M294.8 519.9h0M296.9 511.2h0M294.3 510.2h0M289.0 517.7h0M288.1 513.0h0M297.5 511.0h0M296.3 520.5h0M293.4 512.8h0M289.3 518.1h0M294.3 514.4h0M288.5 514.8h0M293.0 518.9h0M292.8 512.3h0M296.3 514.6h0M292.4 520.9h0M298.4 515.7h0M287.0 514.4h0M296.9 518.9h0M292.1 512.8h0M292.2 518.8h0M296.4 517.8h0M295.6 517.4h0M297.8 515.4h0M293.2 511.2h0M295.7 512.2h0M289.2 514.6h0M295.8 514.4h0M293.1 515.2h0M294.8 517.3h0M295.4 511.9h0M294.9 512.5h0M293.8 511.5h0M291.3 514.7h0M293.4 514.0h0M290.5 516.2h0M291.5 517.4h0M292.7 513.9h0M295.1 515.7h0M293.1 512.9h0M297.0 511.1h0M291.7 519.7h0M291.1 511.0h0M293.3 515.6h0M293.2 513.8h0M295.9 510.5h0M296.3 513.9h0M297.8 519.0h0M293.6 512.7h0M299.2 514.9h0M286.7 516.1h0M294.8 518.2h0M297.8 515.7h0M296.0 515.3h0M292.1 517.4h0M296.4 515.5h0M288.0 517.0h0M291.2 514.1h0M291.8 511.0h0M288.8 511.8h0M291.5 520.4h0M294.0 510.7h0M293.4 518.7h0M291.5 516.6h0M295.2 510.1h0M290.3 515.6h0M294.8 521.2h0M297.2 513.4h0M295.2 518.7h0M286.7 514.7h0M291.2 512.5h0M296.9 515.2h0M288.8 518.3h0M292.5 516.0h0M291.6 520.1h0M291.6 510.9h0M289.9 513.9h0M300.2 516.5h0M295.5 519.2h0M297.5 512.0h0M290.7 519.3h0M293.2 520.1h0M293.7 513.0h0M293.4 512.1h0M296.6 511.5h0M292.9 520.6h0M297.5 519.0h0M292.5 515.9h0M297.9 516.6h0M295.3 515.4h0M292.5 520.7h0M294.3 517.7h0M290.8 511.0h0M291.5 515.9h0M293.5 511.4h0M300.6 517.8h0M294.8 515.9h0M291.9 517.1h0M297.9 518.0h0M293.2 517.2h0M294.3 515.6h0M289.5 513.1h0M292.3 519.2h0M296.4 518.2h0M293.6 512.9h0M287.6 512.8h0M290.7 520.0h0M287.9 513.0h0M286.8 516.7h0" stroke="#3f86d0" stroke-width="0.54" stroke-linecap="round" fill="none" opacity="0.65"/><path d="M290.7 518.2h0M292.5 520.2h0M288.7 519.2h0M287.5 518.4h0M290.3 520.2h0M290.2 518.6h0M286.7 517.7h0M291.7 520.2h0M287.9 519.3h0M288.3 518.2h0M290.3 520.6h0M288.5 520.4h0M289.9 518.3h0M292.5 518.5h0M290.4 518.7h0M291.3 519.0h0M288.9 520.2h0M290.6 518.6h0M290.9 521.0h0M288.4 516.4h0M287.8 518.3h0M292.7 517.9h0M287.9 519.4h0M287.3 518.5h0M291.7 518.8h0M288.9 519.9h0M289.3 517.3h0M291.5 517.2h0M288.1 517.3h0M288.4 519.1h0M292.6 518.8h0M293.2 519.1h0M287.2 520.1h0M291.9 517.4h0M289.1 517.8h0M291.6 518.4h0M287.5 518.7h0M291.6 520.3h0M290.0 517.8h0M291.0 520.4h0M288.5 518.7h0M290.6 520.3h0" stroke="#3f3b6b" stroke-width="0.54" stroke-linecap="round" fill="none" opacity="0.7"/><path d="M290.5 509.0h0M292.4 507.6h0M289.1 503.5h0M287.5 504.9h0M288.2 508.7h0M288.0 505.1h0M293.5 509.2h0M289.2 509.0h0M283.0 507.6h0M294.5 509.5h0M290.6 502.2h0M289.2 503.9h0M288.8 509.7h0M288.9 508.3h0M287.3 503.6h0M285.0 506.9h0M285.2 509.7h0M288.5 505.5h0M293.6 510.4h0M292.7 507.6h0M293.5 507.1h0M285.6 508.9h0M287.3 507.7h0M280.8 508.2h0M294.9 505.7h0M286.0 506.5h0M288.9 510.4h0M289.9 510.1h0M286.9 508.8h0M285.2 511.8h0M287.2 506.7h0M289.7 512.0h0M284.9 509.5h0M285.2 508.6h0M285.1 511.0h0M294.0 504.9h0M283.6 506.1h0M284.2 509.7h0M287.3 506.1h0M286.9 508.6h0M291.6 507.8h0M289.0 507.9h0M284.6 505.8h0M286.6 507.1h0M288.3 505.4h0M288.3 507.5h0M290.8 508.0h0M289.6 507.5h0M282.3 507.0h0M288.4 507.4h0M285.1 511.4h0M291.8 505.5h0M292.0 502.3h0M291.9 506.9h0M286.0 505.4h0M288.8 505.1h0M287.8 506.1h0M291.1 501.9h0M290.2 506.7h0M291.4 508.7h0M282.2 508.5h0M284.7 507.5h0M288.2 508.8h0M290.8 504.4h0M295.4 506.3h0M289.2 505.8h0M287.4 511.3h0M284.8 509.9h0M292.2 508.4h0M289.1 507.1h0M281.9 506.2h0M288.8 508.2h0M291.6 508.5h0M290.0 506.8h0M293.7 506.8h0M290.8 511.0h0M286.9 505.7h0M290.6 506.7h0M291.3 504.4h0M286.3 509.2h0M288.7 505.7h0M291.0 506.3h0M288.4 508.5h0M293.7 508.4h0M283.9 505.4h0M287.2 503.6h0M287.7 507.3h0M289.8 506.1h0M285.2 507.1h0M288.5 512.6h0M293.3 505.3h0M290.9 507.3h0M289.3 507.5h0M284.8 508.1h0M287.3 507.2h0M286.3 509.6h0M287.0 504.6h0M290.6 507.2h0M285.8 506.6h0M288.5 510.4h0M290.9 503.7h0M284.4 504.1h0M289.2 506.5h0M286.3 508.6h0M288.4 512.5h0M291.3 507.1h0M295.0 505.5h0M284.6 504.7h0M293.2 506.3h0M292.0 506.8h0M286.4 507.3h0M287.1 502.5h0M282.1 506.8h0M289.0 508.7h0M291.4 510.4h0M285.7 503.3h0M289.0 507.2h0M293.4 506.8h0M289.1 505.8h0M287.3 511.2h0" stroke="#9c9c9c" stroke-width="0.54" stroke-linecap="round" fill="none" opacity="0.5"/><path d="M293.0 500.7h0M293.4 502.4h0M292.2 501.3h0M293.0 500.8h0M293.3 502.2h0" stroke="#9c9c9c" stroke-width="0.54" stroke-linecap="round" fill="none" opacity="0.5"/>
<path d="M320.7 480.2h0M320.5 484.1h0M325.8 481.1h0M318.2 491.8h0M319.6 483.3h0M316.4 488.6h0M324.8 485.0h0M332.0 485.7h0M332.7 486.4h0M335.5 487.2h0M317.8 490.7h0M325.7 480.3h0M325.2 486.4h0M323.9 488.5h0M322.0 480.0h0M317.2 482.8h0M323.8 483.1h0M326.8 486.2h0M321.3 482.9h0M326.8 481.6h0M320.5 488.7h0M321.5 478.5h0M327.2 486.7h0M331.4 480.5h0M324.1 481.1h0M323.4 489.4h0M326.0 476.2h0M325.9 488.0h0M332.5 486.4h0M323.3 484.8h0M316.3 485.8h0M326.6 476.5h0M316.6 480.8h0M330.8 488.3h0M330.0 480.0h0M314.1 482.0h0M331.5 490.3h0M319.7 484.3h0M322.2 481.1h0M325.3 483.1h0M324.2 487.9h0M323.9 475.0h0M325.3 487.2h0M317.9 487.1h0M331.4 485.4h0M321.8 488.3h0M328.4 488.3h0M333.1 481.0h0M329.1 481.0h0M320.0 493.2h0" stroke="#b8b8b8" stroke-width="0.5" stroke-linecap="round" fill="none" opacity="0.4"/><path d="M324.9 484.8h0M326.9 490.6h0M332.3 487.9h0M323.9 482.9h0M327.6 486.3h0M332.0 484.9h0M326.0 482.1h0M324.9 484.0h0M328.4 485.8h0M331.7 486.1h0M326.8 486.0h0M327.9 492.1h0M328.3 485.3h0M331.9 490.9h0M325.6 487.7h0M324.6 482.7h0M323.6 483.3h0M322.6 486.5h0M330.1 484.4h0M322.9 485.8h0M331.0 485.1h0M326.9 491.9h0M324.1 492.2h0M324.2 485.1h0M330.5 485.9h0M332.1 490.6h0M327.5 491.2h0M327.0 490.7h0M326.4 489.8h0M329.1 489.9h0M331.1 489.3h0M324.4 484.0h0M323.1 483.1h0M325.9 485.2h0M327.5 489.8h0M321.8 486.0h0M332.5 486.1h0M322.4 489.2h0M325.4 484.1h0M324.9 492.2h0M326.4 490.0h0M329.1 486.3h0M326.0 483.5h0M328.5 490.8h0M323.2 489.9h0M322.5 490.4h0M326.8 485.1h0M322.2 485.9h0M322.0 486.9h0M329.2 484.5h0M322.6 485.8h0M324.4 490.7h0M331.5 490.6h0M322.4 484.8h0M332.5 489.4h0M329.6 484.8h0M332.6 489.1h0M323.5 489.3h0M332.4 489.8h0M328.2 487.4h0M326.6 485.8h0M328.3 489.9h0M329.0 488.0h0M323.6 487.2h0M323.3 485.0h0M322.5 486.0h0M326.4 483.1h0M329.2 488.8h0M329.9 486.3h0M324.4 485.8h0M324.3 488.1h0M323.9 492.3h0M330.3 489.5h0M330.4 489.4h0M323.3 488.6h0M328.9 483.1h0M322.6 488.6h0M322.4 484.0h0M326.7 490.7h0M326.5 490.6h0M329.7 487.5h0M329.3 492.0h0M330.0 489.4h0M327.5 483.7h0M331.3 484.6h0M328.4 486.9h0M323.1 486.6h0M331.4 485.6h0M326.5 487.1h0M326.2 486.0h0M323.5 488.1h0M324.4 486.4h0M328.8 483.1h0M328.3 490.2h0M326.2 490.1h0M329.0 491.1h0M330.8 483.9h0M321.3 489.4h0M331.0 488.8h0M330.6 486.4h0M327.8 489.1h0M332.1 485.5h0M331.2 485.4h0M328.4 491.0h0M325.0 485.5h0M330.4 487.6h0M321.9 489.5h0M331.5 487.0h0M324.6 487.3h0M328.9 491.0h0M331.2 488.6h0M322.6 490.8h0M332.4 490.9h0M332.4 487.4h0M325.8 491.0h0M332.2 490.8h0M322.6 491.8h0M322.5 490.3h0M321.9 490.4h0M324.0 491.3h0M321.3 486.5h0M331.0 486.9h0M332.5 487.7h0M327.5 490.6h0M329.4 483.2h0M323.9 482.6h0M333.3 480.8h0M329.9 487.4h0M321.8 489.7h0M330.7 484.4h0M324.4 492.3h0M332.9 489.3h0M330.1 485.1h0M328.1 482.7h0M330.4 490.7h0M327.9 490.6h0M331.2 485.6h0M330.0 484.4h0M331.3 491.0h0M330.7 490.1h0M324.3 489.9h0M327.7 482.5h0M329.9 483.1h0M325.9 483.6h0M332.4 487.9h0M330.5 487.0h0M327.4 487.2h0M326.6 490.6h0M323.7 491.3h0M328.7 486.1h0M330.8 485.3h0M326.8 489.1h0M330.6 490.9h0M314.9 489.4h0M324.0 486.2h0M321.1 490.5h0M324.1 489.0h0M322.8 486.0h0M321.4 490.6h0M322.1 491.7h0M329.8 487.6h0M326.2 489.5h0M327.7 492.1h0M320.9 493.4h0M327.5 483.2h0M326.9 486.7h0M321.9 487.3h0M326.2 484.3h0" stroke="#9c9c9c" stroke-width="0.54" stroke-linecap="round" fill="none" opacity="0.5"/><path d="M318.0 480.8h0M324.2 479.2h0M320.4 477.6h0M321.1 480.2h0M319.1 477.6h0M321.5 479.9h0M317.4 479.5h0M317.6 475.7h0M320.5 476.7h0M319.4 477.3h0M324.3 479.2h0M322.6 476.1h0M325.1 476.5h0M324.6 477.3h0M318.2 482.4h0M323.3 482.3h0M324.4 477.0h0M314.2 477.9h0M326.1 480.2h0M325.8 476.7h0M320.4 478.8h0M320.6 480.4h0M321.6 478.7h0M322.4 480.8h0M322.9 480.0h0M326.0 476.7h0M319.9 480.6h0M327.1 478.1h0M328.2 480.7h0M327.0 479.2h0M323.5 475.0h0M324.6 481.0h0M325.5 475.8h0M323.9 480.5h0M321.5 477.3h0M323.6 478.6h0M318.4 481.6h0M315.4 480.7h0M319.7 479.5h0M319.4 482.0h0M320.3 477.1h0M323.1 477.0h0M326.7 481.6h0M316.2 479.6h0M319.1 483.8h0M324.5 479.7h0M314.8 478.2h0M320.4 482.3h0M326.7 477.1h0M317.9 480.1h0M318.1 479.3h0M317.1 479.7h0M325.2 479.8h0M322.7 480.1h0M316.3 483.1h0M316.9 483.5h0M321.9 479.0h0M324.9 477.4h0M320.8 478.7h0M323.9 481.6h0M320.6 479.6h0M322.1 480.5h0M322.3 479.0h0M324.7 479.3h0M325.3 482.1h0M315.8 481.7h0M325.2 478.8h0M321.1 479.4h0M322.0 480.8h0M321.8 481.1h0M320.6 481.5h0M322.4 479.9h0M318.3 478.4h0M318.8 480.5h0M326.8 482.0h0M319.6 483.5h0M324.6 476.4h0M320.4 479.8h0M317.5 478.5h0M321.2 478.5h0M326.8 476.1h0M324.6 476.6h0M314.1 482.2h0M319.1 480.0h0M328.7 478.6h0M322.0 474.9h0M323.7 479.2h0M321.4 476.0h0M324.9 482.8h0M328.0 480.1h0M319.0 480.7h0M317.8 476.6h0M320.9 480.5h0M319.5 478.3h0M324.4 479.9h0M322.6 480.3h0M327.9 477.6h0M325.6 477.6h0M319.7 480.5h0M322.7 482.9h0M320.8 478.3h0M323.0 481.6h0M321.3 476.8h0M320.7 480.2h0M322.6 482.8h0M322.8 474.2h0M322.1 478.4h0M323.0 481.5h0M320.3 479.9h0M322.3 479.9h0M322.2 476.8h0M322.8 482.0h0M326.1 476.5h0M324.8 475.1h0M318.8 478.8h0M321.8 480.7h0M325.3 480.9h0M323.8 481.4h0M322.8 482.1h0M325.8 478.7h0M321.4 480.5h0M316.4 477.7h0M321.3 476.3h0M322.1 475.8h0M320.6 482.2h0M317.7 482.6h0M315.3 478.8h0M318.8 480.8h0M314.9 479.3h0M316.4 482.1h0M326.1 477.2h0M319.1 479.7h0M326.9 476.6h0M327.3 479.7h0M324.8 478.5h0M323.2 478.0h0M327.0 475.8h0M324.1 478.1h0M320.9 479.3h0M318.9 478.5h0M324.2 477.4h0M326.2 478.5h0M320.1 483.8h0M320.3 475.6h0M326.0 478.4h0M315.8 481.9h0M319.8 480.6h0M325.6 475.1h0M322.2 479.9h0M317.9 477.9h0M317.6 475.2h0M326.1 480.0h0M321.4 478.8h0M317.2 475.5h0M325.4 479.9h0M322.8 476.0h0M323.9 477.4h0M316.6 480.6h0M318.0 478.8h0M324.0 479.2h0M326.6 480.9h0M319.7 479.8h0M324.7 480.6h0M315.8 481.1h0M322.4 478.5h0M321.1 481.8h0M323.0 477.1h0M323.3 480.6h0M323.1 479.4h0M320.1 480.5h0M325.3 479.5h0M324.1 483.2h0M316.8 480.3h0M320.2 482.4h0M325.9 478.2h0M323.8 478.9h0M314.9 476.9h0M322.1 477.8h0M326.5 474.4h0M323.9 480.5h0M322.4 476.4h0M319.1 476.6h0M323.7 479.2h0M325.6 478.5h0M325.1 479.3h0M323.1 477.3h0M324.2 477.5h0M324.2 478.1h0M324.9 479.6h0M320.0 481.3h0M319.9 481.6h0M319.6 479.4h0M324.6 480.1h0M325.1 480.1h0M321.8 483.4h0M321.3 477.9h0M323.1 483.8h0M326.1 478.4h0M321.7 478.2h0M323.7 477.3h0" stroke="#5e4424" stroke-width="0.54" stroke-linecap="round" fill="none" opacity="0.85"/><path d="M317.9 478.6h0M317.9 475.6h0M318.0 477.2h0M317.4 479.3h0M321.4 477.8h0M319.4 479.9h0M321.6 477.8h0M317.2 478.6h0M320.0 478.2h0M317.1 475.9h0M316.9 478.9h0M321.7 479.4h0M318.6 478.4h0M319.6 479.3h0M319.6 479.8h0M319.6 477.7h0M319.6 479.1h0M320.9 479.1h0M320.2 480.4h0M320.0 476.1h0M319.3 478.4h0M317.8 478.9h0M321.2 478.5h0M319.8 479.4h0M320.6 480.7h0M317.7 478.2h0M317.2 476.3h0M320.1 477.9h0M319.6 476.0h0M318.9 476.2h0M317.3 478.1h0M318.4 479.1h0M318.8 476.2h0M318.8 477.9h0M318.0 478.2h0M316.4 477.5h0M318.2 478.9h0M316.7 476.8h0M318.4 478.8h0M317.0 479.7h0M319.7 479.6h0M318.2 478.7h0M321.4 479.1h0M317.6 477.7h0M317.1 477.6h0M318.4 476.1h0M317.7 475.8h0M320.0 478.2h0M321.9 478.8h0M320.8 478.1h0M317.5 476.7h0M318.6 477.3h0M320.3 478.3h0M319.8 476.2h0M318.2 478.9h0M321.3 476.4h0M317.7 480.2h0M320.2 479.1h0M319.5 478.9h0M319.9 480.3h0M319.9 477.1h0M319.1 478.6h0M318.3 479.0h0M316.6 479.6h0M321.4 478.0h0M319.9 477.5h0M318.5 478.9h0M316.2 478.8h0M317.4 476.6h0M318.5 478.5h0M318.4 479.2h0M318.4 477.3h0M320.9 478.3h0M319.5 477.4h0M319.1 476.3h0M316.8 478.4h0M316.4 478.0h0M318.9 477.7h0M319.2 479.0h0M318.0 477.8h0" stroke="#5e4424" stroke-width="0.54" stroke-linecap="round" fill="none" opacity="0.85"/><path d="M326.4 474.9h0M326.7 473.9h0M328.4 474.6h0M325.9 475.3h0M326.8 475.9h0M328.3 475.1h0M325.4 474.7h0M326.7 475.5h0M328.2 474.8h0M328.8 475.2h0M325.4 474.5h0M326.3 472.7h0M329.0 474.7h0M324.9 474.5h0M326.7 474.6h0M326.6 473.6h0M328.7 475.5h0M327.1 474.6h0M328.8 474.7h0M328.4 473.8h0M326.9 473.3h0M329.1 474.8h0M326.1 473.4h0M327.7 475.7h0M329.5 473.8h0M328.1 474.1h0M324.8 473.6h0M326.0 474.1h0M327.5 474.5h0M327.4 476.2h0M325.4 474.8h0M328.1 475.5h0" stroke="#c0564a" stroke-width="0.54" stroke-linecap="round" fill="none" opacity="0.85"/>
<path d="M314.1 517.0h0M330.3 511.5h0M320.1 509.2h0M325.0 514.0h0M325.8 518.8h0M326.0 504.5h0M329.7 511.8h0M328.8 508.9h0M319.1 512.4h0M322.5 509.0h0M332.5 509.4h0M321.1 512.5h0M325.9 513.3h0M326.1 517.7h0M316.7 512.7h0M331.0 509.8h0M320.6 516.0h0M330.8 515.5h0M323.7 516.6h0M324.9 506.0h0M327.5 518.1h0M329.0 502.6h0M328.3 512.8h0M324.3 515.4h0M322.9 515.2h0M322.2 512.0h0M318.4 508.1h0M327.8 519.6h0M325.1 514.4h0M321.9 510.9h0M325.7 509.8h0M319.7 516.2h0M327.1 509.4h0M323.5 511.7h0M324.9 517.9h0M325.3 515.6h0M336.4 512.1h0M330.3 506.6h0M330.6 504.4h0M322.8 505.5h0M329.0 512.9h0M320.8 507.9h0M322.0 514.4h0M324.1 503.6h0M327.2 504.7h0M328.9 506.2h0M319.9 516.7h0M328.4 509.3h0M328.3 518.0h0M320.1 511.8h0" stroke="#b8b8b8" stroke-width="0.5" stroke-linecap="round" fill="none" opacity="0.4"/><path d="M331.1 513.4h0M326.8 505.9h0M331.9 515.8h0M332.0 515.5h0M321.9 515.6h0M328.2 509.8h0M322.8 514.2h0M330.0 519.8h0M325.2 515.9h0M329.0 511.8h0M324.4 511.6h0M329.8 515.0h0M323.5 515.8h0M325.6 509.7h0M328.8 519.0h0M323.1 515.2h0M323.2 515.6h0M328.9 511.9h0M332.7 518.1h0M326.4 516.5h0M322.1 518.2h0M333.5 517.4h0M324.3 515.2h0M323.8 522.1h0M331.4 514.7h0M328.5 518.1h0M323.7 519.1h0M327.6 520.3h0M333.7 516.0h0M333.3 515.5h0M322.1 513.3h0M332.5 514.9h0M327.6 512.0h0M332.4 516.8h0M322.6 516.3h0M324.3 516.8h0M326.4 517.1h0M328.4 516.9h0M331.2 517.6h0M331.2 512.6h0M321.6 517.5h0M329.8 519.9h0M321.6 515.1h0M324.4 510.4h0M326.3 520.3h0M327.7 510.6h0M330.0 511.5h0M323.4 518.6h0M321.7 515.4h0M330.6 513.5h0M331.9 517.1h0M326.4 517.5h0M332.7 516.7h0M331.8 514.9h0M321.9 518.5h0M327.9 511.7h0M328.8 515.5h0M321.2 515.9h0M325.8 517.0h0M329.1 519.3h0M325.5 510.8h0M327.4 518.7h0M325.4 511.5h0M325.6 518.9h0M325.7 519.7h0M329.8 513.3h0M322.7 516.6h0M330.0 511.6h0M322.6 516.3h0M329.7 511.5h0M331.6 513.5h0M328.6 510.5h0M331.4 518.3h0M325.4 516.9h0M330.2 512.9h0M322.3 515.8h0M329.5 516.7h0M329.0 512.6h0M324.4 519.6h0M326.0 513.5h0M331.8 515.6h0M320.9 516.3h0M326.4 515.6h0M329.7 513.1h0M324.5 512.5h0M322.7 517.9h0M327.7 517.2h0M326.2 516.7h0M327.3 512.0h0M325.7 517.0h0M325.7 515.9h0M324.2 517.5h0M324.2 510.9h0M326.8 515.2h0M322.8 513.7h0M322.8 515.2h0M323.1 513.7h0M321.8 516.8h0M323.8 515.1h0M329.2 514.9h0M326.0 516.9h0M329.2 513.8h0M325.2 513.9h0M324.2 516.7h0M329.1 512.1h0M324.2 520.0h0M322.4 518.2h0M330.6 511.7h0M333.5 515.5h0M322.5 516.1h0M333.1 518.3h0M322.8 515.2h0M329.9 516.4h0M327.3 511.5h0M331.4 512.7h0M324.2 520.0h0M324.8 513.9h0M332.7 518.4h0M315.7 512.8h0M331.4 515.6h0M324.3 520.4h0M323.3 514.3h0M329.7 516.7h0M323.5 516.9h0M331.0 512.5h0M332.0 517.4h0M322.8 518.0h0M322.4 515.4h0M323.1 512.6h0M329.1 513.5h0M328.0 518.6h0M323.6 513.9h0M333.3 517.8h0M331.4 517.9h0M322.3 518.3h0M327.4 516.9h0M333.4 515.5h0M326.1 511.0h0M332.0 514.6h0M329.1 515.7h0M327.6 516.3h0M326.4 511.9h0M331.4 512.5h0M330.1 511.2h0M327.8 512.1h0M326.3 518.7h0M324.4 516.5h0M331.4 518.7h0M325.3 514.1h0M329.0 520.2h0M329.3 517.8h0" stroke="#3f86d0" stroke-width="0.54" stroke-linecap="round" fill="none" opacity="0.65"/><path d="M323.7 517.2h0M324.2 520.0h0M320.9 519.0h0M324.1 518.4h0M325.5 518.8h0M326.7 518.7h0M321.6 518.8h0M324.6 521.7h0M323.1 520.8h0M325.0 517.9h0M322.0 520.1h0M323.2 521.1h0M325.9 519.9h0M324.4 519.2h0M326.1 518.3h0M319.8 520.0h0M326.6 519.3h0M325.2 520.2h0M326.7 519.2h0M322.9 519.7h0M324.2 518.7h0M323.4 519.3h0M325.7 521.0h0M322.4 519.0h0M327.5 519.7h0M323.4 518.3h0M324.5 519.7h0M324.8 518.4h0M323.0 517.6h0M321.6 519.3h0M325.8 520.3h0M323.0 519.3h0M320.6 518.8h0M323.7 518.7h0M324.1 520.4h0M324.1 517.9h0M322.5 519.3h0M324.7 517.4h0M321.5 521.5h0M323.9 519.9h0M321.1 517.7h0M326.4 520.6h0M324.4 519.8h0M323.6 519.5h0M322.8 520.0h0M322.3 519.2h0M325.8 519.4h0M323.1 521.4h0M323.0 518.7h0M324.6 520.0h0" stroke="#3f3b6b" stroke-width="0.54" stroke-linecap="round" fill="none" opacity="0.7"/><path d="M319.8 506.4h0M317.6 506.6h0M321.2 508.2h0M313.9 508.1h0M321.9 506.9h0M324.9 503.3h0M322.7 506.2h0M319.9 510.6h0M324.4 511.1h0M321.5 507.5h0M319.4 510.6h0M320.2 509.0h0M317.8 510.4h0M315.1 506.5h0M327.3 508.8h0M317.2 505.8h0M319.5 508.2h0M323.8 505.0h0M317.6 510.4h0M322.1 508.4h0M320.4 507.2h0M317.7 508.5h0M324.0 503.7h0M326.5 510.7h0M320.0 507.3h0M319.1 508.3h0M316.4 509.5h0M329.8 506.4h0M322.5 505.4h0M322.0 511.0h0M321.3 509.5h0M319.0 509.6h0M321.9 509.1h0M321.8 504.9h0M322.2 503.3h0M317.2 504.0h0M325.5 511.6h0M319.4 506.8h0M327.1 504.5h0M322.5 503.4h0M324.8 507.8h0M323.5 504.2h0M325.6 510.2h0M321.6 507.1h0M320.5 509.4h0M327.8 507.4h0M322.1 504.4h0M320.4 505.3h0M328.3 506.0h0M323.4 507.9h0M327.6 503.4h0M321.4 506.0h0M320.9 504.4h0M324.0 504.7h0M328.1 505.7h0M321.1 506.7h0M321.5 509.5h0M327.2 507.5h0M326.9 508.1h0M327.6 504.6h0M318.8 510.9h0M324.1 508.1h0M324.6 507.4h0M322.1 503.5h0M321.8 506.5h0M326.8 508.0h0M320.3 512.4h0M323.9 505.4h0M320.0 506.6h0M317.2 509.5h0M324.9 509.8h0M327.1 502.7h0M321.7 509.3h0M326.5 505.5h0M324.7 512.0h0M321.1 504.9h0M324.1 507.7h0M320.9 505.8h0M319.2 504.4h0M322.3 507.1h0M318.1 510.1h0M323.7 508.3h0M324.0 509.0h0M320.0 508.8h0M318.4 506.6h0M328.9 506.9h0M319.5 506.4h0M317.2 506.0h0M329.6 505.5h0M318.8 511.5h0M320.9 507.8h0M318.0 506.2h0M320.8 508.6h0M318.7 506.0h0M318.0 506.7h0M319.7 506.3h0M322.9 506.9h0M322.9 503.8h0M323.8 502.9h0M325.8 505.2h0M326.2 508.5h0M320.5 506.6h0M324.8 505.8h0M314.5 508.4h0M323.5 505.0h0M318.0 507.4h0M322.0 510.3h0M323.6 506.9h0M323.6 510.3h0M323.6 504.4h0M324.2 502.0h0M327.4 505.8h0M317.7 509.3h0M325.9 506.0h0M319.3 506.0h0M321.7 512.4h0M319.1 510.9h0M321.9 508.1h0M320.6 504.8h0M321.0 505.9h0M320.0 506.2h0M318.5 511.8h0M323.2 507.2h0M324.0 511.1h0M324.9 505.9h0M324.4 511.4h0M322.9 507.2h0M327.1 510.1h0M321.8 509.6h0M326.0 505.2h0M326.6 508.7h0M315.6 509.2h0M325.2 509.7h0M321.9 506.5h0M318.0 508.7h0M324.7 511.0h0M321.6 506.8h0M317.9 506.8h0M322.1 510.1h0M328.2 508.4h0M317.4 504.7h0M326.7 505.4h0M324.9 504.6h0M317.1 508.1h0M324.9 510.9h0M321.3 510.2h0M327.8 503.5h0M317.5 506.5h0M326.8 507.4h0M319.0 510.1h0M322.7 507.3h0M326.6 509.0h0M322.2 504.2h0M318.7 510.6h0M321.8 510.6h0M319.8 509.0h0M321.6 507.7h0M323.9 504.5h0M317.7 508.8h0M319.8 506.5h0" stroke="#9c9c9c" stroke-width="0.54" stroke-linecap="round" fill="none" opacity="0.5"/><path d="M326.3 503.7h0M326.9 502.6h0M328.2 503.3h0M326.6 501.3h0M327.6 504.3h0M328.5 501.0h0M327.2 501.1h0M329.8 502.9h0M327.7 503.8h0" stroke="#9c9c9c" stroke-width="0.54" stroke-linecap="round" fill="none" opacity="0.5"/>
<path d="M354.4 485.0h0M361.1 481.2h0M350.6 484.0h0M352.8 482.5h0M351.1 486.2h0M357.9 484.1h0M356.1 477.2h0M348.2 486.3h0M353.7 483.9h0M365.4 492.1h0M357.6 485.4h0M356.4 488.7h0M347.7 480.9h0M359.5 477.0h0M349.3 484.2h0M360.9 480.1h0M352.6 486.7h0M356.5 478.2h0M352.1 480.3h0M358.1 486.2h0M352.8 482.3h0M356.6 485.1h0M368.0 477.9h0M362.0 477.1h0M354.8 474.4h0M361.4 478.1h0M369.8 488.8h0M362.7 485.8h0M358.8 486.7h0M365.4 488.2h0M367.0 489.2h0M358.7 484.6h0M364.2 490.5h0M350.7 486.8h0M352.4 483.7h0M353.8 483.0h0M358.5 489.9h0M354.8 485.3h0M359.5 478.5h0M356.0 488.9h0M358.1 477.4h0M364.2 491.3h0M362.3 478.7h0M360.1 487.6h0M358.5 479.0h0M356.7 484.0h0M365.1 486.6h0M362.0 485.2h0M360.8 484.7h0M348.3 490.4h0" stroke="#b8b8b8" stroke-width="0.5" stroke-linecap="round" fill="none" opacity="0.4"/><path d="M362.0 483.5h0M360.3 491.6h0M366.1 489.6h0M357.7 490.5h0M360.4 487.5h0M359.5 490.8h0M364.5 485.6h0M360.0 492.3h0M363.6 490.3h0M357.5 482.7h0M359.7 487.9h0M364.2 491.7h0M355.4 486.3h0M366.4 484.2h0M363.7 491.5h0M359.0 486.0h0M364.0 482.9h0M359.5 483.9h0M366.4 488.2h0M362.6 483.6h0M360.3 484.9h0M363.0 490.8h0M357.9 489.7h0M355.5 485.5h0M364.5 484.2h0M362.5 490.5h0M361.4 483.9h0M363.0 486.2h0M367.7 487.4h0M361.0 489.7h0M361.1 483.2h0M355.6 486.2h0M365.4 490.4h0M358.5 490.2h0M360.7 482.7h0M358.0 486.3h0M364.5 483.5h0M355.8 485.0h0M362.6 483.1h0M363.4 484.9h0M360.9 486.5h0M363.9 484.7h0M363.4 486.1h0M362.4 490.3h0M358.9 487.6h0M363.4 484.5h0M366.7 485.1h0M362.8 487.1h0M365.3 485.4h0M361.3 483.0h0M360.1 482.6h0M360.7 486.1h0M366.6 485.5h0M365.6 487.7h0M366.2 486.4h0M355.7 487.2h0M366.0 487.9h0M359.1 488.2h0M367.5 484.7h0M361.6 487.8h0M364.7 489.2h0M366.0 488.3h0M361.0 485.0h0M360.5 491.8h0M365.9 489.2h0M361.0 484.4h0M359.8 483.8h0M359.9 491.4h0M357.6 488.9h0M361.0 485.0h0M364.6 491.5h0M362.1 483.2h0M358.9 487.8h0M364.2 489.0h0M359.8 484.8h0M363.8 488.5h0M365.9 490.5h0M356.6 489.9h0M363.5 492.9h0M359.5 485.4h0M359.7 492.3h0M364.6 491.6h0M366.7 488.6h0M366.4 488.4h0M357.4 486.5h0M360.0 483.3h0M360.9 492.6h0M365.8 490.4h0M359.6 482.6h0M360.8 488.3h0M363.8 483.9h0M362.9 483.8h0M358.7 485.6h0M366.5 487.5h0M362.7 490.4h0M358.1 491.3h0M362.5 490.8h0M357.2 490.3h0M360.9 489.8h0M359.4 490.0h0M365.5 488.9h0M364.2 485.9h0M363.5 488.5h0M370.5 482.5h0M363.7 488.0h0M366.3 487.3h0M355.6 486.9h0M365.3 491.0h0M367.4 487.8h0M358.4 491.9h0M367.7 486.5h0M360.5 490.8h0M362.3 483.7h0M359.6 490.4h0M358.3 487.8h0M366.4 484.8h0M359.8 489.8h0M365.4 487.1h0M365.6 487.8h0M364.9 490.6h0M360.5 484.7h0M356.9 488.9h0M362.0 489.5h0M359.3 487.7h0M366.4 483.3h0M363.9 482.5h0M360.7 494.3h0M361.8 488.7h0M362.0 489.3h0M358.1 490.9h0M362.2 483.1h0M364.8 488.8h0M362.2 484.0h0M364.1 485.6h0M367.0 488.0h0M365.0 489.1h0M361.4 484.8h0M363.2 484.2h0M357.5 483.3h0M358.3 486.9h0M355.1 487.6h0M365.0 491.0h0M357.6 483.3h0M359.9 491.6h0M355.1 487.1h0M361.1 490.7h0M361.4 483.6h0M362.2 484.5h0M365.9 489.0h0M364.3 486.4h0M362.4 489.8h0M364.9 491.6h0M359.0 491.6h0M357.3 486.1h0M363.1 488.6h0M358.9 484.2h0M358.8 489.9h0M358.1 491.4h0M361.0 484.7h0M365.5 489.0h0M358.7 490.5h0M361.4 492.2h0M366.8 484.0h0M360.5 492.1h0M362.6 487.0h0M354.4 491.5h0M359.1 489.3h0M360.5 482.8h0M359.0 487.0h0M362.5 486.2h0M355.4 485.5h0M363.6 489.7h0M364.8 487.8h0M363.8 486.8h0M357.7 488.3h0M359.0 488.7h0M355.9 483.0h0M360.9 492.2h0M358.2 491.6h0M359.9 485.3h0M363.0 489.4h0M359.9 492.3h0M365.1 486.6h0M363.4 490.7h0" stroke="#9c9c9c" stroke-width="0.54" stroke-linecap="round" fill="none" opacity="0.5"/><path d="M353.5 482.9h0M358.0 477.9h0M356.0 479.5h0M352.3 480.5h0M357.8 479.2h0M355.1 479.5h0M361.6 476.3h0M352.3 478.7h0M356.4 476.8h0M350.5 481.3h0M351.6 478.5h0M351.7 477.5h0M356.6 479.1h0M358.2 478.8h0M361.6 479.8h0M357.4 480.2h0M361.4 476.5h0M357.1 479.8h0M351.1 478.3h0M356.0 480.9h0M353.5 481.6h0M354.8 479.8h0M354.3 481.6h0M349.5 480.1h0M353.3 478.4h0M357.7 478.7h0M360.4 482.5h0M359.1 481.8h0M361.3 475.9h0M353.3 479.3h0M357.1 478.8h0M355.6 481.2h0M360.6 480.3h0M355.7 477.3h0M355.3 479.3h0M352.6 482.8h0M354.7 479.5h0M355.0 481.2h0M359.9 474.5h0M359.4 478.2h0M351.7 481.1h0M359.6 478.9h0M355.1 477.3h0M353.6 480.9h0M354.9 480.8h0M352.2 483.7h0M354.4 482.5h0M355.3 477.8h0M355.3 483.6h0M357.6 480.7h0M352.4 478.2h0M351.2 482.7h0M356.5 477.9h0M353.3 482.9h0M355.1 477.4h0M351.7 479.5h0M354.5 476.2h0M354.5 476.5h0M355.9 476.8h0M356.5 479.8h0M359.9 479.2h0M355.0 481.0h0M355.1 475.8h0M354.6 481.0h0M354.6 481.4h0M359.5 477.0h0M354.0 481.4h0M359.7 480.3h0M348.6 481.3h0M353.8 480.4h0M351.9 479.5h0M357.5 473.6h0" stroke="#5e4424" stroke-width="0.54" stroke-linecap="round" fill="none" opacity="0.85"/><path d="M354.1 480.3h0M354.7 480.1h0M353.2 480.4h0M352.3 478.5h0M350.7 477.9h0M353.2 476.9h0M353.6 477.4h0M355.8 477.6h0M353.3 477.0h0M355.4 479.1h0M353.7 480.1h0M353.3 478.6h0M355.4 476.8h0M353.7 478.6h0M352.9 475.1h0M353.1 480.3h0M355.1 478.6h0M351.9 477.6h0M353.4 481.1h0M351.9 477.7h0M350.5 480.3h0M356.5 476.9h0M352.1 477.9h0M351.0 477.2h0M353.0 479.7h0M352.0 477.3h0M351.1 478.9h0M351.0 479.5h0" stroke="#5e4424" stroke-width="0.54" stroke-linecap="round" fill="none" opacity="0.85"/><path d="M361.9 475.5h0M360.9 474.2h0M361.6 474.0h0M360.3 473.7h0M361.9 474.8h0M362.7 474.9h0M360.3 474.4h0M362.9 475.2h0M360.8 473.3h0M362.5 473.4h0M361.8 475.3h0M360.4 475.1h0M361.1 473.5h0M362.7 473.4h0M361.8 474.9h0M362.4 474.5h0M362.0 474.7h0M361.8 474.2h0M360.8 474.5h0M360.8 473.9h0M360.9 475.0h0M362.4 473.6h0M361.8 474.9h0M361.8 474.8h0M363.5 474.1h0M361.8 475.5h0M362.3 474.0h0M362.5 475.1h0M362.5 473.9h0M361.7 474.1h0M362.8 473.8h0M362.0 474.8h0M359.8 475.1h0M361.4 474.4h0M362.5 474.3h0M361.8 473.9h0M361.3 474.7h0M360.9 474.3h0M361.9 474.6h0M363.4 474.0h0" stroke="#c0564a" stroke-width="0.54" stroke-linecap="round" fill="none" opacity="0.85"/>
<path d="M358.9 513.6h0M367.1 512.5h0M360.2 508.3h0M359.4 511.1h0M364.0 515.8h0M353.0 515.2h0M358.0 502.7h0M356.0 506.1h0M356.5 505.8h0M366.5 511.9h0M364.4 505.9h0M351.5 521.1h0M367.8 512.7h0M361.8 513.6h0M364.9 517.0h0M357.3 516.9h0M354.9 512.2h0M362.6 505.7h0M361.8 511.5h0M353.2 512.6h0M351.0 519.8h0M361.2 510.0h0M358.4 513.5h0M355.3 514.3h0M363.5 512.0h0M357.9 509.0h0M356.5 515.6h0M360.2 515.0h0M360.9 518.2h0M364.2 519.1h0M364.3 513.0h0M351.5 512.9h0M355.7 516.3h0M355.9 514.3h0M354.5 519.4h0M359.0 508.7h0M352.3 516.0h0M360.5 516.2h0M353.0 508.5h0M354.9 517.0h0M352.2 515.6h0M359.7 505.4h0M359.1 509.3h0M362.4 509.3h0M351.0 506.9h0M351.6 507.9h0M355.6 513.6h0M355.3 509.1h0M356.5 517.8h0M362.3 511.9h0" stroke="#b8b8b8" stroke-width="0.5" stroke-linecap="round" fill="none" opacity="0.4"/><path d="M356.9 516.8h0M359.5 516.4h0M361.0 512.7h0M365.3 517.5h0M355.5 515.2h0M369.2 512.0h0M367.6 514.4h0M358.8 520.0h0M356.2 510.6h0M366.5 516.7h0M363.4 518.9h0M363.4 514.8h0M364.8 517.7h0M356.6 515.8h0M360.5 517.9h0M367.0 515.3h0M364.9 514.9h0M359.7 514.9h0M365.3 511.7h0M360.4 511.3h0M364.0 516.4h0M363.9 518.8h0M364.7 517.3h0M356.0 512.7h0M367.7 514.4h0M363.3 513.6h0M366.5 517.3h0M362.4 512.3h0M356.9 518.1h0M360.3 515.3h0M362.3 518.7h0M361.9 519.2h0M362.6 512.5h0M358.1 511.1h0M362.1 511.8h0M366.2 516.6h0M366.2 513.4h0M357.1 515.7h0M352.0 514.1h0M366.8 516.5h0M363.2 516.4h0M359.5 513.8h0M360.6 520.3h0M356.0 512.7h0M355.7 512.8h0M357.0 512.1h0M365.5 513.6h0M363.6 520.0h0M363.8 517.6h0M361.9 519.1h0M363.9 510.6h0M361.8 512.8h0M362.6 511.6h0M367.2 513.1h0M364.7 513.6h0M364.3 517.1h0M356.6 516.8h0M361.4 519.1h0M357.4 513.3h0M360.5 520.2h0M362.8 520.7h0M361.6 511.6h0M361.1 511.8h0M359.6 515.5h0M365.7 512.0h0M356.0 512.0h0M361.3 514.1h0M360.4 516.3h0M367.2 511.4h0M358.9 511.8h0M359.7 517.7h0M366.8 516.2h0M361.4 512.0h0M360.8 520.7h0M362.9 519.5h0M360.1 518.3h0M362.5 512.6h0M356.4 517.6h0M364.9 511.2h0M361.6 512.7h0M361.9 514.8h0M360.8 518.5h0M359.2 520.5h0M363.3 519.5h0M361.5 510.8h0M366.0 515.2h0M355.7 516.1h0M362.1 515.8h0M362.0 520.1h0M360.5 513.7h0M364.4 519.8h0M366.3 517.8h0M364.9 511.7h0M354.9 514.0h0M365.1 518.3h0M365.2 516.8h0M354.3 517.7h0M362.5 516.5h0M362.0 513.6h0M358.1 509.3h0M367.8 514.2h0M360.5 519.2h0M363.5 510.4h0M363.1 511.3h0M365.1 515.7h0M357.4 516.7h0M359.9 512.4h0M360.3 518.2h0M366.0 511.6h0M358.4 513.9h0M365.8 516.1h0M360.0 517.2h0M357.0 516.7h0M361.2 517.4h0M359.1 510.9h0M361.2 520.4h0M362.1 517.3h0M365.4 515.9h0M362.7 520.3h0M365.2 517.7h0M356.1 514.9h0M366.3 514.7h0M362.6 517.9h0M363.5 513.9h0M366.8 516.7h0M375.3 513.6h0M362.9 513.0h0M364.9 510.6h0M367.4 513.4h0M361.3 520.6h0M366.1 516.1h0M362.8 515.9h0M361.7 519.1h0M357.7 516.1h0M356.6 518.2h0M362.3 517.0h0M365.8 516.4h0M363.1 512.4h0M361.1 512.4h0M367.2 515.1h0M361.3 512.5h0M366.5 512.9h0M358.2 514.5h0M361.4 519.6h0M362.9 510.6h0M358.5 511.8h0M366.4 516.7h0M363.2 516.6h0M359.8 513.2h0M363.2 514.5h0M365.0 519.0h0M365.2 516.2h0M356.9 514.8h0M360.0 513.7h0M366.9 516.7h0M366.8 516.4h0M367.9 514.0h0M361.7 521.3h0M365.3 517.2h0M357.6 513.4h0M361.0 518.8h0M361.7 510.8h0M357.7 518.1h0M364.2 520.2h0M364.6 517.6h0M362.5 519.9h0M361.8 517.6h0M358.0 515.8h0M356.0 514.3h0M358.1 512.0h0M367.2 516.4h0M355.8 512.5h0M367.0 512.1h0M364.0 510.6h0M364.3 518.7h0M359.7 518.5h0M358.4 511.0h0M357.3 514.1h0M365.8 513.9h0M365.9 517.3h0M356.5 511.4h0M358.8 517.5h0M359.1 513.4h0M361.9 512.0h0M346.5 508.2h0M359.5 513.6h0M362.8 515.2h0M366.4 511.9h0M360.3 520.1h0M360.4 514.6h0M359.8 519.2h0M359.0 518.1h0M356.9 515.0h0M363.1 511.0h0M363.6 516.6h0M362.6 519.7h0M357.5 514.8h0M356.7 515.0h0M353.7 517.5h0M360.6 518.5h0M363.2 512.3h0M358.2 517.2h0M361.1 512.9h0M367.2 513.7h0M362.3 515.7h0M363.3 511.2h0M359.3 513.2h0" stroke="#3f86d0" stroke-width="0.54" stroke-linecap="round" fill="none" opacity="0.65"/><path d="M356.5 517.1h0M360.4 518.8h0M358.4 520.9h0M357.0 520.4h0M357.5 518.7h0M358.5 521.2h0M355.7 518.7h0M357.6 518.7h0M358.8 519.3h0M358.4 519.0h0M357.7 519.3h0M356.5 517.3h0M357.6 520.3h0M356.1 519.4h0M359.9 517.5h0M356.9 516.4h0M359.8 518.1h0M355.1 518.9h0M357.0 517.7h0M360.4 518.1h0M358.4 519.9h0M357.1 516.7h0M358.3 520.8h0M357.3 521.3h0M360.3 517.6h0M356.7 520.9h0M357.3 521.1h0M356.4 518.5h0M357.8 522.2h0M359.3 520.8h0M358.0 519.8h0M358.1 520.0h0M361.5 520.0h0M357.9 521.5h0M358.5 518.4h0M359.0 518.9h0M359.9 519.9h0M353.7 519.2h0M356.3 519.7h0M357.3 520.9h0M360.5 517.3h0M358.0 520.2h0M356.1 518.1h0M356.0 518.7h0M355.5 519.9h0M358.1 520.8h0M359.8 519.0h0M357.7 519.1h0M356.4 520.1h0M357.2 519.1h0M355.8 518.2h0M357.2 517.9h0M358.6 521.0h0M359.0 518.5h0M358.5 519.1h0M356.0 520.7h0" stroke="#3f3b6b" stroke-width="0.54" stroke-linecap="round" fill="none" opacity="0.7"/><path d="M357.7 506.2h0M360.2 507.7h0M360.9 509.4h0M353.9 508.6h0M353.5 504.5h0M361.6 506.2h0M358.3 505.7h0M354.9 510.3h0M363.5 506.5h0M357.8 504.6h0M356.7 505.9h0M353.7 505.4h0M354.8 508.1h0M356.0 510.9h0M350.2 509.4h0M353.3 510.4h0M356.6 506.9h0M359.5 504.4h0M355.5 506.4h0M361.4 506.4h0M357.8 505.0h0M357.3 508.6h0M360.8 509.9h0M357.2 507.2h0M357.5 506.5h0M361.3 504.6h0M355.5 510.6h0M356.1 507.6h0M361.6 507.9h0M363.1 505.1h0M350.7 509.0h0M357.7 506.2h0M359.7 504.2h0M355.0 502.5h0M355.4 503.0h0M358.2 506.3h0M357.8 505.3h0M353.9 508.2h0M349.9 506.9h0M353.8 507.4h0M358.0 507.5h0M360.0 509.1h0M359.9 503.9h0M350.5 508.1h0M359.9 507.1h0M354.3 507.7h0M353.3 506.7h0M355.2 504.2h0M355.3 504.8h0M353.0 508.0h0M360.0 510.0h0M359.6 506.2h0M357.8 506.3h0M354.5 506.5h0M358.1 508.0h0M351.1 504.1h0M358.8 509.1h0M357.6 508.8h0M360.5 504.7h0M359.9 507.4h0M351.6 503.9h0M352.1 509.9h0M360.2 505.6h0M354.3 510.2h0M353.9 502.7h0M356.5 505.1h0M357.1 510.2h0M352.4 507.8h0M356.7 510.1h0M361.3 506.0h0M358.6 508.4h0M352.3 507.4h0M352.2 506.7h0M353.9 503.9h0M356.0 509.8h0M357.5 507.8h0M352.1 508.5h0M357.2 509.4h0M356.0 509.5h0M356.0 508.4h0M356.7 509.4h0M361.6 510.2h0M357.2 506.8h0M352.3 504.9h0M356.4 506.9h0M350.1 504.6h0M356.3 510.1h0M358.0 504.6h0M355.5 510.0h0M356.1 511.1h0M350.3 509.5h0M361.8 505.6h0M361.4 507.1h0M351.6 506.5h0M358.4 505.9h0M357.3 504.0h0" stroke="#9c9c9c" stroke-width="0.54" stroke-linecap="round" fill="none" opacity="0.5"/><path d="M362.3 503.5h0M360.6 502.7h0M363.2 502.4h0M361.7 502.0h0M360.6 501.6h0M361.1 503.2h0M362.2 503.1h0M360.0 502.6h0M363.2 501.5h0M361.5 501.5h0M360.8 502.3h0M361.0 501.2h0" stroke="#9c9c9c" stroke-width="0.54" stroke-linecap="round" fill="none" opacity="0.5"/>
<text transform="translate(266.3 475.6) scale(0.93 1)" font-size="5.4" fill="#c0564a" text-anchor="middle" opacity="0.9">5%</text>
<text transform="translate(300.8 475.6) scale(0.93 1)" font-size="5.4" fill="#c0564a" text-anchor="middle" opacity="0.9">5%</text>
<text transform="translate(334.6 475.6) scale(0.93 1)" font-size="5.4" fill="#c0564a" text-anchor="middle" opacity="0.9">9%</text>
<text transform="translate(368.5 475.6) scale(0.93 1)" font-size="5.4" fill="#c0564a" text-anchor="middle" opacity="0.9">11%</text>
<text transform="translate(241.7 490.4) scale(0.93 1)" font-size="5.4" fill="#5e4424" text-anchor="middle" opacity="0.9">27%</text>
<text transform="translate(276.8 490.4) scale(0.93 1)" font-size="5.4" fill="#5e4424" text-anchor="middle" opacity="0.9">23%</text>
<text transform="translate(310.6 490.4) scale(0.93 1)" font-size="5.4" fill="#5e4424" text-anchor="middle" opacity="0.9">37%</text>
<text transform="translate(346.3 490.4) scale(0.93 1)" font-size="5.4" fill="#5e4424" text-anchor="middle" opacity="0.9">18%</text>
<text transform="translate(268.5 508.8) scale(0.93 1)" font-size="5.4" fill="#3f86d0" text-anchor="middle" opacity="0.9">8%</text>
<text transform="translate(304.8 508.8) scale(0.93 1)" font-size="5.4" fill="#3f86d0" text-anchor="middle" opacity="0.9">24%</text>
<text transform="translate(339.8 508.8) scale(0.93 1)" font-size="5.4" fill="#3f86d0" text-anchor="middle" opacity="0.9">31%</text>
<text transform="translate(374.6 508.8) scale(0.93 1)" font-size="5.4" fill="#3f86d0" text-anchor="middle" opacity="0.9">50%</text>
<text transform="translate(248.5 527) scale(0.93 1)" font-size="5.4" fill="#3f3b6b" text-anchor="middle" opacity="0.9">5%</text>
<text transform="translate(283 527) scale(0.93 1)" font-size="5.4" fill="#3f3b6b" text-anchor="middle" opacity="0.9">14%</text>
<text transform="translate(314.6 527) scale(0.93 1)" font-size="5.4" fill="#3f3b6b" text-anchor="middle" opacity="0.9">15%</text>
<text transform="translate(351 527) scale(0.93 1)" font-size="5.4" fill="#3f3b6b" text-anchor="middle" opacity="0.9">19%</text>
</g>
<g id="ph">
<text transform="translate(401.4 336.6) scale(0.9 1)" font-size="12" fill="#000">H</text>
<text transform="translate(444.5 342.2) scale(0.92 1)" font-size="5.9" fill="#111" text-anchor="middle">lymphoma cells</text>
<text transform="translate(444.5 348.2) scale(0.81 1)" font-size="5.9" fill="#111" text-anchor="middle">(CD19+</text>
<text transform="translate(444.5 354.2) scale(0.82 1)" font-size="5.9" fill="#111" text-anchor="middle">GFP+)</text>
<text transform="translate(485 342.2) scale(0.92 1)" font-size="5.9" fill="#111" text-anchor="middle">normal B cells</text>
<text transform="translate(485 348.2) scale(0.81 1)" font-size="5.9" fill="#111" text-anchor="middle">(CD19+</text>
<text transform="translate(485 354.2) scale(0.81 1)" font-size="5.9" fill="#111" text-anchor="middle">GFP-)</text>
<rect x="474.6" y="358.8" width="4" height="3.4" fill="#c8c8c8" stroke="#333" stroke-width="0.5"/>
<text transform="translate(481.6 362.4) scale(0.86 1)" font-size="4.8" fill="#555">PD-L1-</text>
<rect x="474.6" y="367" width="4" height="3.4" fill="#6b3a7d" stroke="#333" stroke-width="0.5"/>
<text transform="translate(481.6 370.6) scale(0.83 1)" font-size="4.8" fill="#555">PD-L1+</text>
<line x1="432.75" y1="373.32" x2="432.75" y2="367.1" stroke="#222" stroke-width="0.6"/>
<line x1="431.75" y1="367.1" x2="433.75" y2="367.1" stroke="#222" stroke-width="0.6"/>
<rect x="430.4" y="373.32" width="4.7" height="38.18" fill="#c8c8c8" stroke="#2a2a2a" stroke-width="0.45"/>
<rect x="430.4" y="375.98" width="4.7" height="35.52" fill="#6b3a7d" stroke="#2a2a2a" stroke-width="0.45"/>
<line x1="441.05" y1="394.78" x2="441.05" y2="393.44" stroke="#222" stroke-width="0.6"/>
<line x1="440.05" y1="393.44" x2="442.05" y2="393.44" stroke="#222" stroke-width="0.6"/>
<rect x="438.7" y="394.78" width="4.7" height="16.72" fill="#c8c8c8" stroke="#2a2a2a" stroke-width="0.45"/>
<rect x="438.7" y="404.25" width="4.7" height="7.25" fill="#6b3a7d" stroke="#2a2a2a" stroke-width="0.45"/>
<text transform="translate(441.05 394.14) scale(0.8 1)" font-size="6.2" fill="#9a68ac" text-anchor="middle">***</text>
<line x1="449.15" y1="410.17" x2="449.15" y2="409.87" stroke="#222" stroke-width="0.6"/>
<line x1="448.15" y1="409.87" x2="450.15" y2="409.87" stroke="#222" stroke-width="0.6"/>
<rect x="446.8" y="410.17" width="4.7" height="1.33" fill="#c8c8c8" stroke="#2a2a2a" stroke-width="0.45"/>
<rect x="446.8" y="410.76" width="4.7" height="0.74" fill="#6b3a7d" stroke="#2a2a2a" stroke-width="0.45"/>
<text transform="translate(449.15 410.57) scale(0.8 1)" font-size="6.2" fill="#9a68ac" text-anchor="middle">***</text>
<line x1="457.25" y1="410.61" x2="457.25" y2="410.46" stroke="#222" stroke-width="0.6"/>
<line x1="456.25" y1="410.46" x2="458.25" y2="410.46" stroke="#222" stroke-width="0.6"/>
<rect x="454.9" y="410.61" width="4.7" height="0.89" fill="#c8c8c8" stroke="#2a2a2a" stroke-width="0.45"/>
<rect x="454.9" y="411.06" width="4.7" height="0.44" fill="#6b3a7d" stroke="#2a2a2a" stroke-width="0.45"/>
<text transform="translate(457.25 411.16) scale(0.8 1)" font-size="6.2" fill="#9a68ac" text-anchor="middle">***</text>
<line x1="472.55" y1="387.23" x2="472.55" y2="378.64" stroke="#222" stroke-width="0.6"/>
<line x1="471.55" y1="378.64" x2="473.55" y2="378.64" stroke="#222" stroke-width="0.6"/>
<rect x="470.2" y="387.23" width="4.7" height="24.27" fill="#c8c8c8" stroke="#2a2a2a" stroke-width="0.45"/>
<rect x="470.2" y="403.36" width="4.7" height="8.14" fill="#6b3a7d" stroke="#2a2a2a" stroke-width="0.45"/>
<line x1="480.85" y1="380.42" x2="480.85" y2="377.46" stroke="#222" stroke-width="0.6"/>
<line x1="479.85" y1="377.46" x2="481.85" y2="377.46" stroke="#222" stroke-width="0.6"/>
<rect x="478.5" y="380.42" width="4.7" height="31.08" fill="#c8c8c8" stroke="#2a2a2a" stroke-width="0.45"/>
<rect x="478.5" y="407.5" width="4.7" height="4" fill="#6b3a7d" stroke="#2a2a2a" stroke-width="0.45"/>
<text transform="translate(480.85 378.16) scale(0.8 1)" font-size="6.2" fill="#222" text-anchor="middle">*</text>
<line x1="489.25" y1="407.8" x2="489.25" y2="406.91" stroke="#222" stroke-width="0.6"/>
<line x1="488.25" y1="406.91" x2="490.25" y2="406.91" stroke="#222" stroke-width="0.6"/>
<rect x="486.9" y="407.8" width="4.7" height="3.7" fill="#c8c8c8" stroke="#2a2a2a" stroke-width="0.45"/>
<rect x="486.9" y="411.2" width="4.7" height="0.3" fill="#6b3a7d" stroke="#2a2a2a" stroke-width="0.45"/>
<text transform="translate(489.25 406.7) scale(0.8 1)" font-size="6.2" fill="#222" text-anchor="middle">**</text>
<line x1="497.55" y1="409.58" x2="497.55" y2="409.28" stroke="#222" stroke-width="0.6"/>
<line x1="496.55" y1="409.28" x2="498.55" y2="409.28" stroke="#222" stroke-width="0.6"/>
<rect x="495.2" y="409.58" width="4.7" height="1.92" fill="#c8c8c8" stroke="#2a2a2a" stroke-width="0.45"/>
<rect x="495.2" y="411.35" width="4.7" height="0.15" fill="#6b3a7d" stroke="#2a2a2a" stroke-width="0.45"/>
<text transform="translate(497.55 406.7) scale(0.8 1)" font-size="6.2" fill="#222" text-anchor="middle">**</text>
<line x1="465.2" y1="352.3" x2="465.2" y2="409.8" stroke="#111" stroke-width="1.3" stroke-dasharray="0.9 0.7"/>
<line x1="424.8" y1="349.8" x2="424.8" y2="411.9" stroke="#111" stroke-width="0.8"/>
<line x1="421.6" y1="411.5" x2="504" y2="411.5" stroke="#111" stroke-width="0.8"/>
<line x1="421.6" y1="411.5" x2="424.8" y2="411.5" stroke="#111" stroke-width="0.7"/>
<text transform="translate(419.6 413.5) scale(0.9 1)" font-size="5.7" fill="#333" text-anchor="end">0</text>
<line x1="421.6" y1="396.7" x2="424.8" y2="396.7" stroke="#111" stroke-width="0.7"/>
<text transform="translate(419.6 398.7) scale(0.9 1)" font-size="5.7" fill="#333" text-anchor="end">10</text>
<line x1="421.6" y1="381.9" x2="424.8" y2="381.9" stroke="#111" stroke-width="0.7"/>
<text transform="translate(419.6 383.9) scale(0.9 1)" font-size="5.7" fill="#333" text-anchor="end">20</text>
<line x1="421.6" y1="367.1" x2="424.8" y2="367.1" stroke="#111" stroke-width="0.7"/>
<text transform="translate(419.6 369.1) scale(0.9 1)" font-size="5.7" fill="#333" text-anchor="end">30</text>
<line x1="421.6" y1="352.3" x2="424.8" y2="352.3" stroke="#111" stroke-width="0.7"/>
<text transform="translate(419.6 354.3) scale(0.9 1)" font-size="5.7" fill="#333" text-anchor="end">40</text>
<text transform="translate(408 380.7) rotate(-90) scale(0.96 1)" font-size="7.6" fill="#111" text-anchor="middle" stroke="#111" stroke-width="0.18">% of splenocytes</text>
<line x1="432.75" y1="411.5" x2="432.75" y2="414.4" stroke="#111" stroke-width="0.7"/>
<text transform="translate(434.35 418.2) rotate(-45) scale(0.93 1)" font-size="5.4" fill="#222" text-anchor="end">UNT</text>
<line x1="441.05" y1="411.5" x2="441.05" y2="414.4" stroke="#111" stroke-width="0.7"/>
<text transform="translate(442.65 418.2) rotate(-45) scale(0.93 1)" font-size="5.4" fill="#222" text-anchor="end">αPD1</text>
<line x1="449.15" y1="411.5" x2="449.15" y2="414.4" stroke="#111" stroke-width="0.7"/>
<text transform="translate(450.75 418.2) rotate(-45) scale(0.93 1)" font-size="5.4" fill="#222" text-anchor="end">αCD20</text>
<line x1="457.25" y1="411.5" x2="457.25" y2="414.4" stroke="#111" stroke-width="0.7"/>
<text transform="translate(458.85 418.2) rotate(-45) scale(0.93 1)" font-size="5.4" fill="#222" text-anchor="end">αCD20+αPD1</text>
<line x1="472.55" y1="411.5" x2="472.55" y2="414.4" stroke="#111" stroke-width="0.7"/>
<text transform="translate(474.15 418.2) rotate(-45) scale(0.93 1)" font-size="5.4" fill="#222" text-anchor="end">UNT</text>
<line x1="480.85" y1="411.5" x2="480.85" y2="414.4" stroke="#111" stroke-width="0.7"/>
<text transform="translate(482.45 418.2) rotate(-45) scale(0.93 1)" font-size="5.4" fill="#222" text-anchor="end">αPD1</text>
<line x1="489.25" y1="411.5" x2="489.25" y2="414.4" stroke="#111" stroke-width="0.7"/>
<text transform="translate(490.85 418.2) rotate(-45) scale(0.93 1)" font-size="5.4" fill="#222" text-anchor="end">αCD20</text>
<line x1="497.55" y1="411.5" x2="497.55" y2="414.4" stroke="#111" stroke-width="0.7"/>
<text transform="translate(499.15 418.2) rotate(-45) scale(0.93 1)" font-size="5.4" fill="#222" text-anchor="end">αCD20+αPD1</text>
</g>
<g id="pi">
<text transform="translate(11.2 459.8) scale(0.9 1)" font-size="12" fill="#000">I</text>
<g clip-path="url(#fc0)">
<ellipse cx="58.2" cy="485.4" rx="3.6" ry="9" transform="rotate(0 58.2 485.4)" fill="#8f9fe0" opacity="0.4" filter="url(#blur1)"/>
<ellipse cx="50" cy="492.3" rx="12" ry="3" transform="rotate(0 50 492.3)" fill="#8f9fe0" opacity="0.35" filter="url(#blur1)"/>
<path d="M56.68 488.07h0M56.78 483.11h0M54.52 483.72h0M61.06 487.54h0M60.82 486.49h0M58.76 486.11h0M52.17 490.13h0M59.12 487.99h0M52.09 474.54h0M54.65 482.19h0M58.48 484.72h0M59.17 481.15h0M58.49 487.36h0M55.38 495.31h0M59.28 492.18h0M55.51 480.56h0M56.4 484.36h0M59.52 486.49h0M56.07 479.26h0M55.83 492.33h0M54.91 486.47h0M58.86 476.06h0M57.66 492.84h0M51.05 483.07h0M57.16 480.1h0M59.09 484.63h0M52.81 489.97h0M59.64 490.68h0M62.11 487.17h0M57.88 477.2h0M59.47 481.33h0M56.05 477.41h0M54.4 481.81h0M61.62 472.81h0M52.84 486.44h0M62.12 488.47h0M51.42 469.89h0M58.64 480.58h0M53.92 490.86h0M61.03 485.94h0M58.29 487.61h0M62.6 488.71h0M59.16 488.29h0M52.48 492.69h0M60.56 488.18h0M51.18 481.2h0M60.2 474.13h0M56.91 491.12h0M53.3 494.66h0M59.27 484.1h0M58.54 488.9h0M57.89 491.87h0M55.38 482.51h0M60.83 485.16h0M54.68 490.68h0M62.19 482.33h0M53.08 484.19h0M57.02 483.21h0M62 478.84h0M61.53 477.39h0M54.98 488.79h0M61.11 490.15h0M58.6 485.85h0M57.99 488.45h0M56.94 486.66h0M59.33 485.01h0M59.94 488.4h0M63.93 486.95h0M56.13 482.76h0M57.46 490.54h0M56.42 487.31h0M63.38 469.61h0M53.9 486.46h0M58.77 486.43h0M56.12 488.93h0M58.4 481.87h0M65.28 487.13h0M55.73 484.4h0M56.78 484.62h0M48.77 482.08h0M60.73 477.99h0M57.29 490.72h0M60.24 493.95h0M52.06 482.88h0M56.41 488.74h0M60.99 468.9h0M60.98 476.31h0M59.69 476.05h0M58.06 492.17h0M57.02 486.15h0M60.05 485.85h0M57.22 494.2h0M60.86 483.24h0M66.29 478.12h0M60.43 483.41h0M57.92 489.23h0M58.21 488.83h0M52.61 475.94h0M59.47 479.22h0M54.21 476.18h0M61.55 489.48h0M62.21 479.37h0M57.5 478.16h0M59.95 494.54h0M54.65 494.36h0M60.66 483.93h0M51.19 493.44h0M57.19 481.38h0M58.78 487.46h0M62.29 478.88h0M61.14 493.92h0M62.15 483.92h0M55.12 491.11h0M57.87 485.75h0M62.06 483.42h0M50.15 482.68h0M51.57 489.91h0M58.51 481.33h0M57.47 490h0M57.75 492.96h0M57.3 491.24h0M62.27 494.66h0M55.35 490.28h0M51.5 478.5h0M51.22 491.41h0M53.56 484.92h0M56.88 484.83h0M55.61 486.4h0M63.23 485.27h0M59.2 491h0M56.87 477.44h0M55.72 491.44h0M52.23 481.41h0M60.72 489.76h0M57.52 489.83h0M58.03 477.93h0M52.5 481.17h0M60.45 481.61h0M54.61 480.37h0M52.6 484.3h0" stroke="#6f86d8" stroke-width="0.6" stroke-linecap="round" fill="none" opacity="0.55"/>
<path d="M37.74 492.09h0M29.48 491.98h0M41.51 485.17h0M51.07 490.17h0M30.39 488.37h0M48.04 489.62h0M51.46 493.24h0M50.66 491.98h0M55.34 492.98h0M49.16 484.75h0M52.28 494.93h0M43.92 489.59h0M59.58 485.73h0M49.28 498.27h0M39.51 493.07h0M59.2 490.64h0M49.93 493.71h0M39.66 490.73h0M48.05 493.48h0M45.76 490.41h0M38.89 489.92h0M52.24 491.31h0M40.03 488.48h0M64.67 494.42h0M50.46 483.22h0M50.35 492.44h0M57.79 492.28h0M45.53 492.57h0M32.39 494.1h0M48.27 488.89h0M55.28 496.43h0M36.18 489h0M48.04 491.55h0M43.21 488.08h0M60.84 494.11h0M37.64 486.96h0M57.92 493.97h0M58.75 493.43h0M39.9 491.78h0M30.88 488.76h0M45.59 492.57h0M40.91 490.63h0M49.21 492.13h0M50.47 491.63h0M43.73 493.37h0M46.35 488.52h0M41.62 491h0M45.23 491.47h0M46 491.53h0M45.06 487.22h0M48.95 494.16h0M49.04 490.43h0M49.13 488.1h0M32.73 491.18h0M39.49 493.22h0M38.41 483.11h0M38.72 495.73h0M43.33 486.89h0M40.66 492.56h0M49.48 491.53h0M56.39 493.12h0M45.85 492.79h0M57.58 493.91h0M53.17 487.75h0M44.96 493.19h0M43.92 494.21h0M50.17 493.72h0M44.51 498.64h0M54.68 490.35h0M46.63 498.79h0M43.6 493.62h0M52.86 491.02h0M37.83 491.56h0M48.52 494.39h0M51.48 491.07h0M51.98 492.62h0M47.44 491.17h0M44.3 493.06h0M38.62 489.11h0M46.03 486.61h0M42.95 484.97h0M41.22 492.71h0M49.96 490.84h0M44.38 486.75h0M58.79 492.55h0M53.65 488.35h0M44.7 485.54h0M51.46 493.81h0M32.72 490.84h0M50.41 485.71h0M33.22 487.8h0M41.6 486.79h0M46.22 491.75h0M50.44 493.11h0M56.52 494.49h0M36.82 489.48h0M38.58 487.77h0M45.43 491.02h0M49.43 486.24h0M37.34 490.93h0" stroke="#6f86d8" stroke-width="0.6" stroke-linecap="round" fill="none" opacity="0.55"/>
<g transform="rotate(0 43.4 492.3)" opacity="1"><ellipse cx="43.4" cy="492.3" rx="11.4" ry="3" fill="#7f96dc" opacity="0.6" filter="url(#blur05)"/><ellipse cx="43.4" cy="492.3" rx="9.12" ry="2.4" fill="#56a8c0" opacity="0.8" filter="url(#blur05)"/><ellipse cx="43.4" cy="492.3" rx="7.07" ry="1.86" fill="#6cc070" opacity="0.9" filter="url(#blur05)"/><ellipse cx="43.4" cy="492.3" rx="4.79" ry="1.26" fill="#c4da50" opacity="0.95" filter="url(#blur05)"/><ellipse cx="43.4" cy="492.3" rx="2.28" ry="0.6" fill="#f0a838" opacity="1" filter="url(#blur05)"/><ellipse cx="43.4" cy="492.3" rx="0.8" ry="0.21" fill="#e8642c" opacity="1" filter="url(#blur05)"/></g>
<g transform="rotate(0 57.6 492.3)" opacity="1"><ellipse cx="57.6" cy="492.3" rx="3.8" ry="3.4" fill="#7f96dc" opacity="0.6" filter="url(#blur05)"/><ellipse cx="57.6" cy="492.3" rx="3.04" ry="2.72" fill="#56a8c0" opacity="0.8" filter="url(#blur05)"/><ellipse cx="57.6" cy="492.3" rx="2.36" ry="2.11" fill="#6cc070" opacity="0.9" filter="url(#blur05)"/><ellipse cx="57.6" cy="492.3" rx="1.6" ry="1.43" fill="#c4da50" opacity="0.95" filter="url(#blur05)"/><ellipse cx="57.6" cy="492.3" rx="0.76" ry="0.68" fill="#f0a838" opacity="1" filter="url(#blur05)"/></g>
<g transform="rotate(-35 58.4 479.2)" opacity="1"><ellipse cx="58.4" cy="479.2" rx="5" ry="3.8" fill="#7f96dc" opacity="0.6" filter="url(#blur05)"/><ellipse cx="58.4" cy="479.2" rx="4" ry="3.04" fill="#56a8c0" opacity="0.8" filter="url(#blur05)"/><ellipse cx="58.4" cy="479.2" rx="3.1" ry="2.36" fill="#6cc070" opacity="0.9" filter="url(#blur05)"/><ellipse cx="58.4" cy="479.2" rx="2.1" ry="1.6" fill="#c4da50" opacity="0.95" filter="url(#blur05)"/><ellipse cx="58.4" cy="479.2" rx="1" ry="0.76" fill="#f0a838" opacity="1" filter="url(#blur05)"/><ellipse cx="58.4" cy="479.2" rx="0.35" ry="0.27" fill="#e8642c" opacity="1" filter="url(#blur05)"/></g>
</g>
<line x1="54.5" y1="468.8" x2="54.5" y2="501.2" stroke="#444" stroke-width="0.9"/>
<line x1="33.5" y1="487.3" x2="65.8" y2="487.3" stroke="#444" stroke-width="0.9"/>
<rect x="33.5" y="468.8" width="32.3" height="32.4" fill="none" stroke="#111" stroke-width="0.8"/>
<text transform="translate(49.65 465.4) scale(0.93 1)" font-size="5.7" fill="#111" text-anchor="middle">UNT</text>
<text transform="translate(34.7 473.4) scale(0.95 1)" font-size="4.3" fill="#555">1.5</text>
<text transform="translate(64.8 473.4) scale(0.95 1)" font-size="4.3" fill="#555" text-anchor="end">31.2</text>
<text transform="translate(34.7 500) scale(0.95 1)" font-size="4.3" fill="#555">47.8</text>
<text transform="translate(64.8 500) scale(0.95 1)" font-size="4.3" fill="#555" text-anchor="end">19.6</text>
<line x1="38.3" y1="501.2" x2="38.3" y2="502.7" stroke="#111" stroke-width="0.5"/>
<line x1="47.5" y1="501.2" x2="47.5" y2="502.7" stroke="#111" stroke-width="0.5"/>
<line x1="54.3" y1="501.2" x2="54.3" y2="502.7" stroke="#111" stroke-width="0.5"/>
<line x1="61.9" y1="501.2" x2="61.9" y2="502.7" stroke="#111" stroke-width="0.5"/>
<line x1="41.5" y1="501.2" x2="41.5" y2="502.1" stroke="#111" stroke-width="0.35"/>
<line x1="43.5" y1="501.2" x2="43.5" y2="502.1" stroke="#111" stroke-width="0.35"/>
<line x1="45.1" y1="501.2" x2="45.1" y2="502.1" stroke="#111" stroke-width="0.35"/>
<line x1="50.1" y1="501.2" x2="50.1" y2="502.1" stroke="#111" stroke-width="0.35"/>
<line x1="51.9" y1="501.2" x2="51.9" y2="502.1" stroke="#111" stroke-width="0.35"/>
<line x1="56.9" y1="501.2" x2="56.9" y2="502.1" stroke="#111" stroke-width="0.35"/>
<line x1="58.7" y1="501.2" x2="58.7" y2="502.1" stroke="#111" stroke-width="0.35"/>
<line x1="60.1" y1="501.2" x2="60.1" y2="502.1" stroke="#111" stroke-width="0.35"/>
<line x1="32" y1="472.4" x2="33.5" y2="472.4" stroke="#111" stroke-width="0.5"/>
<text transform="translate(31.1 474.1) scale(0.9 1)" font-size="4.8" fill="#555" text-anchor="end">10⁵</text>
<line x1="32" y1="482.2" x2="33.5" y2="482.2" stroke="#111" stroke-width="0.5"/>
<text transform="translate(31.1 483.9) scale(0.9 1)" font-size="4.8" fill="#555" text-anchor="end">10³</text>
<line x1="32" y1="493.8" x2="33.5" y2="493.8" stroke="#111" stroke-width="0.5"/>
<text transform="translate(31.1 495.5) scale(0.9 1)" font-size="4.8" fill="#555" text-anchor="end">0</text>
<g clip-path="url(#fc1)">
<ellipse cx="94" cy="479.5" rx="3.6" ry="5.5" transform="rotate(0 94 479.5)" fill="#8f9fe0" opacity="0.45" filter="url(#blur1)"/>
<ellipse cx="86" cy="492.3" rx="14" ry="3.6" transform="rotate(0 86 492.3)" fill="#8f9fe0" opacity="0.4" filter="url(#blur1)"/>
<path d="M93.44 478.6h0M93.82 476.58h0M95.96 481.59h0M93.75 476.98h0M93.51 467.75h0M91.25 480.17h0M89.79 480.9h0M94.41 473.8h0M93.3 478.59h0M95.29 482.75h0M93.9 476.17h0M93.6 479.71h0M96.06 481.32h0M91.98 473.91h0M92.96 476.67h0M90.89 479.48h0M92.63 480.47h0M95.47 478.14h0M100.51 478.55h0M97.08 480.55h0M97.13 469.31h0M91.9 481.11h0M95.69 490.51h0M94.9 485.76h0M96.15 484.26h0M95.43 479.3h0M95.43 475.15h0M97.31 475.42h0M94.7 489.54h0M93.37 480.09h0M97.26 480.12h0M91.74 481.16h0M95.63 483.2h0M91.84 487.89h0M98.67 480.08h0M94.75 478.07h0M97.96 476.83h0M95.89 477.84h0M92.06 483.23h0M97.73 479.95h0M92.1 483.65h0M93.86 481.4h0M98.26 485.09h0M92.54 490.28h0M94.01 483.54h0M92.19 479.8h0M89.1 488.04h0M97.82 474.53h0M89.79 472.71h0M97.29 477.93h0M93.83 478.59h0M93.66 475.1h0M94.07 473.53h0M93.8 481.39h0M95.31 478.96h0M91.47 480.72h0M92.64 487.05h0M96.15 479.48h0M92.68 476.84h0M91.38 478.41h0M94.83 482.32h0M95.59 489.44h0M92.03 480.06h0M101.82 471.6h0M92.54 480.76h0M94.43 481.84h0M93.33 481.65h0M94.15 483.47h0M88.7 476.02h0M93.99 475.36h0M91.07 482.82h0M92.18 482.86h0M96.09 481.38h0M95.42 479.53h0M90.05 479.86h0M95.27 477.62h0M93.72 483.37h0M91.54 482.88h0M99.22 477.5h0M94.41 479.32h0M98.31 481.42h0M96.51 476.89h0M93.95 479.96h0M89.03 486.48h0M96.52 472.13h0M96.08 479.41h0M95.26 481.65h0M89.8 479.05h0M98.18 477.41h0M91.14 473.88h0M90.58 481.51h0M98.74 481.93h0M94.69 490.05h0M92.55 476.97h0M95.48 482.47h0M91.16 474.74h0M94.81 481.11h0M90.34 479.09h0M92.48 482.07h0M93.67 479.61h0M93.01 484.74h0M97.89 478.35h0M96.37 476.59h0M94.2 483.37h0M98.24 478.28h0M93.79 480.88h0M89.81 480.07h0M92.11 481.67h0M90.84 471.1h0M94.11 481.17h0M92.46 484h0M93.24 477.27h0M95.34 472.94h0M92.1 479.91h0M96.38 479.27h0M94.86 477.05h0M94.84 487.49h0M92.08 490.65h0M92.2 480.08h0M94.49 484.61h0" stroke="#6f86d8" stroke-width="0.6" stroke-linecap="round" fill="none" opacity="0.55"/>
<path d="M74.1 485.7h0M88.85 494.39h0M88.99 499.89h0M85.64 492.76h0M91.43 493.11h0M97.31 488.29h0M81 481.67h0M90.5 490.88h0M91.39 498.46h0M83.95 491.24h0M80 489.49h0M78.96 493.92h0M84.29 492.2h0M82.61 494.74h0M87.95 491.57h0M89.32 491.54h0M74.78 496.37h0M87.72 489.13h0M92.63 493.03h0M71.49 496.83h0M86.67 494.67h0M85.58 491.55h0M71.61 494.91h0M84.24 491.14h0M86.81 492.23h0M89.41 490.89h0M83.71 485.58h0M80.61 494.03h0M94.69 490.91h0M83.03 496.75h0M81.39 494.2h0M97.43 492.12h0M93.82 489.87h0M85.66 491.77h0M84.92 495.39h0M103.12 490h0M79.4 493.49h0M75.56 493.49h0M88.58 491.17h0M88.25 487.35h0M90.08 487.37h0M78.43 490.33h0M80.79 494.58h0M84.65 490.81h0M88.35 496.74h0M84.05 493.1h0M93.92 492.8h0M73.73 499.47h0M101.67 486.05h0M83.69 493.25h0M91.73 494.01h0M81.82 488.84h0M84.82 495.1h0M75.28 488.92h0M83.8 486.19h0M81.92 490.69h0M87.61 489.89h0M76.94 490.82h0M83.6 490.01h0M84.1 494.25h0M93.48 497.11h0M77.73 490.74h0M64.14 497.7h0M78.2 491.9h0M88.18 487.92h0M87.71 491.92h0M69.39 492.88h0M93.56 486.4h0M90.46 492.63h0M87.8 493.32h0M94.43 491.33h0M90.99 490.77h0M89.82 489.56h0M83.13 497.19h0M87.56 491.53h0M74.84 489.63h0M85.55 494.82h0M87.41 493.57h0M83.67 496.06h0M80.87 490.35h0M91.1 492.19h0M81.77 490.27h0M81.94 493.87h0M86.83 488.37h0M87.41 492.54h0M76 494.32h0M81.76 490.99h0M90.37 495.96h0M78.49 493.31h0M76.99 498.94h0M80.05 495.58h0M78.82 494.43h0M101.75 484.38h0M80.52 493.5h0M83.26 489.99h0M101.22 492.24h0M70.84 494.56h0M70.23 495.45h0M79.38 492.43h0M94.09 492.35h0M72.87 486.91h0M93.46 494.22h0M77.47 494.58h0M87.97 493.94h0M65.93 491.09h0M91.2 494.2h0M91.05 484.63h0M85.35 493.48h0M104.42 489.14h0M81.37 492.11h0M91.09 490.67h0M93.18 489.64h0M86.13 490.42h0M85.27 489.93h0M71.22 495.28h0M86.43 490.32h0M85.61 494.97h0M76.18 491.67h0M88.31 493.58h0M81.32 485.68h0" stroke="#6f86d8" stroke-width="0.6" stroke-linecap="round" fill="none" opacity="0.55"/>
<g transform="rotate(0 83.6 492.3)" opacity="1"><ellipse cx="83.6" cy="492.3" rx="12" ry="3.1" fill="#7f96dc" opacity="0.6" filter="url(#blur05)"/><ellipse cx="83.6" cy="492.3" rx="9.6" ry="2.48" fill="#56a8c0" opacity="0.8" filter="url(#blur05)"/><ellipse cx="83.6" cy="492.3" rx="7.44" ry="1.92" fill="#6cc070" opacity="0.9" filter="url(#blur05)"/><ellipse cx="83.6" cy="492.3" rx="5.04" ry="1.3" fill="#c4da50" opacity="0.95" filter="url(#blur05)"/><ellipse cx="83.6" cy="492.3" rx="2.4" ry="0.62" fill="#f0a838" opacity="1" filter="url(#blur05)"/></g>
<g transform="rotate(0 93.6 492.3)" opacity="1"><ellipse cx="93.6" cy="492.3" rx="4.4" ry="4.4" fill="#7f96dc" opacity="0.6" filter="url(#blur05)"/><ellipse cx="93.6" cy="492.3" rx="3.52" ry="3.52" fill="#56a8c0" opacity="0.8" filter="url(#blur05)"/><ellipse cx="93.6" cy="492.3" rx="2.73" ry="2.73" fill="#6cc070" opacity="0.9" filter="url(#blur05)"/><ellipse cx="93.6" cy="492.3" rx="1.85" ry="1.85" fill="#c4da50" opacity="0.95" filter="url(#blur05)"/><ellipse cx="93.6" cy="492.3" rx="0.88" ry="0.88" fill="#f0a838" opacity="1" filter="url(#blur05)"/><ellipse cx="93.6" cy="492.3" rx="0.31" ry="0.31" fill="#e8642c" opacity="1" filter="url(#blur05)"/></g>
</g>
<line x1="90.8" y1="468.8" x2="90.8" y2="501.2" stroke="#444" stroke-width="0.9"/>
<line x1="70.5" y1="487.3" x2="102.8" y2="487.3" stroke="#444" stroke-width="0.9"/>
<rect x="70.5" y="468.8" width="32.3" height="32.4" fill="none" stroke="#111" stroke-width="0.8"/>
<text transform="translate(86.65 465.4) scale(0.93 1)" font-size="5.7" fill="#111" text-anchor="middle">αPD1</text>
<text transform="translate(71.7 473.4) scale(0.95 1)" font-size="4.3" fill="#555">0.5</text>
<text transform="translate(101.8 473.4) scale(0.95 1)" font-size="4.3" fill="#555" text-anchor="end">6.4</text>
<text transform="translate(71.7 500) scale(0.95 1)" font-size="4.3" fill="#555">51.5</text>
<text transform="translate(101.8 500) scale(0.95 1)" font-size="4.3" fill="#555" text-anchor="end">41.6</text>
<line x1="75.3" y1="501.2" x2="75.3" y2="502.7" stroke="#111" stroke-width="0.5"/>
<line x1="84.5" y1="501.2" x2="84.5" y2="502.7" stroke="#111" stroke-width="0.5"/>
<line x1="91.3" y1="501.2" x2="91.3" y2="502.7" stroke="#111" stroke-width="0.5"/>
<line x1="98.9" y1="501.2" x2="98.9" y2="502.7" stroke="#111" stroke-width="0.5"/>
<line x1="78.5" y1="501.2" x2="78.5" y2="502.1" stroke="#111" stroke-width="0.35"/>
<line x1="80.5" y1="501.2" x2="80.5" y2="502.1" stroke="#111" stroke-width="0.35"/>
<line x1="82.1" y1="501.2" x2="82.1" y2="502.1" stroke="#111" stroke-width="0.35"/>
<line x1="87.1" y1="501.2" x2="87.1" y2="502.1" stroke="#111" stroke-width="0.35"/>
<line x1="88.9" y1="501.2" x2="88.9" y2="502.1" stroke="#111" stroke-width="0.35"/>
<line x1="93.9" y1="501.2" x2="93.9" y2="502.1" stroke="#111" stroke-width="0.35"/>
<line x1="95.7" y1="501.2" x2="95.7" y2="502.1" stroke="#111" stroke-width="0.35"/>
<line x1="97.1" y1="501.2" x2="97.1" y2="502.1" stroke="#111" stroke-width="0.35"/>
<g clip-path="url(#fc2)">
<ellipse cx="52.6" cy="522" rx="2.6" ry="4" transform="rotate(0 52.6 522)" fill="#8f9fe0" opacity="0.4" filter="url(#blur1)"/>
<ellipse cx="46" cy="535.5" rx="12" ry="3.4" transform="rotate(-8 46 535.5)" fill="#8f9fe0" opacity="0.4" filter="url(#blur1)"/>
<path d="M54.71 525.48h0M52.62 522.75h0M53.05 522.08h0M50.86 520.67h0M51.59 521.24h0M50.63 526.86h0M50.37 526.97h0M50.88 525.59h0M54.94 524.91h0M51.36 524.22h0M52.85 516.2h0M51.57 524.73h0M51.8 524.36h0M53.85 527.45h0M54.14 526.65h0M52.11 523.92h0M52.14 522.59h0M52.29 516.24h0M52.03 523.89h0M50.94 523.89h0M53.48 523.26h0M56.13 512.27h0M52.25 515.79h0M54.27 535.94h0M48.35 524.58h0M53.48 522.64h0M53.54 513.91h0M54.05 525.67h0M52.64 521.36h0M53.69 521.82h0M52.98 521.7h0M48.78 523.86h0M52.94 527.39h0M51.11 523.85h0M53.65 524.65h0M54.71 532.96h0M51.06 515.36h0M54.06 530.88h0M54.17 527.66h0M51.55 520.79h0M54.11 519.9h0M49.52 519.51h0M56.84 532.66h0M51.43 520.72h0M52.99 520.63h0M54.83 523.65h0M50.75 529.89h0M51.61 525h0M52.58 522.59h0M53.15 520.88h0M49.46 514.06h0M50.45 520.59h0M52.56 524.25h0M53.55 524.54h0M51.25 520.81h0M49 523.24h0M53.42 526.38h0M52.39 523.22h0M54.19 524.07h0M53.85 526.62h0M52.96 529.88h0M51.63 522.39h0M51.23 520.41h0M55.25 531.92h0M52.64 526.56h0M54.6 527.63h0M54.65 518.32h0M51.51 526.04h0M55.04 524.47h0M51.14 522.4h0M51.48 520.14h0M55.15 521.18h0M52.63 533.73h0M54.61 525.51h0M51.56 525.85h0M55.36 526.8h0M54.74 524.44h0M53.48 523.1h0M53.33 529.85h0M50.17 523.72h0M53.01 521.43h0M52.08 527.54h0M56 526.83h0M53.15 517.02h0M55.88 524.35h0M52.54 518.97h0M52.5 519.07h0M52.72 526.1h0M52.65 525.26h0M51.15 530.43h0" stroke="#6f86d8" stroke-width="0.6" stroke-linecap="round" fill="none" opacity="0.55"/>
<path d="M42.43 529.55h0M45.69 532.71h0M39.93 533.94h0M49.04 531.45h0M46.04 539.28h0M51.78 534.54h0M47.89 534.64h0M46.67 537.2h0M46.35 527.79h0M46.85 532.33h0M51.56 533.17h0M48.04 541.53h0M39.67 531.63h0M37.12 527.82h0M33.85 536.09h0M42.53 529.4h0M36.62 536.85h0M41.57 533.9h0M49.31 539.07h0M60.59 538.1h0M48.01 535.55h0M59.62 539.29h0M44.83 536.37h0M49.01 535.16h0M43.5 531.02h0M43.26 530.37h0M55.57 536.61h0M38.56 539.19h0M53.24 529.27h0M59.89 537.43h0M61.45 531.31h0M50.71 536.27h0M48.41 535.51h0M54.37 530.52h0M38.31 530.82h0M43.1 533.18h0M49.57 535.8h0M47.22 532.97h0M43.91 537.86h0M52.35 535.3h0M44.74 539.66h0M42.84 536.95h0M55.08 534.2h0M52.78 531.65h0M54.09 535.6h0M35.89 537.01h0M40.75 538.85h0M42.25 534.51h0M48.98 534h0M48.82 533.34h0M51.7 535.02h0M48.48 526.74h0M55.13 535.1h0M34.52 535.29h0M50.27 538.21h0M39.42 539.64h0M45.88 542.18h0M45.98 537.04h0M44.43 531.65h0M54.68 537.72h0M57.77 537.57h0M42.99 530.01h0M42.45 532.97h0M41.29 536.75h0M49.29 534.19h0M48.21 534.56h0M48.49 537.26h0M53.72 532.94h0M36.45 539.28h0M47.8 538.32h0M35.5 534.01h0M47.19 530.68h0M43.39 537.17h0M54.55 539.78h0M40.95 530.8h0M50.64 537.82h0M48.35 531.1h0M52.47 537.38h0M50.87 533.54h0M49.13 537.37h0M43.09 529.47h0M49.3 536.44h0M47.09 537.67h0M42.89 534.75h0M44.86 536.71h0M58.17 534.25h0M61.38 539.59h0M52.53 536.76h0M59.4 534.46h0M46.22 531.81h0M50.31 539.03h0M50.73 536.27h0M45.6 535.51h0M37.02 538.15h0M44.13 531.69h0M41.74 532.53h0M52.99 538.17h0M37.5 537.78h0M53.22 533.26h0M36.59 532.76h0" stroke="#6f86d8" stroke-width="0.6" stroke-linecap="round" fill="none" opacity="0.55"/>
<g transform="rotate(-2 42.8 536.8)" opacity="1"><ellipse cx="42.8" cy="536.8" rx="12" ry="2.8" fill="#7f96dc" opacity="0.6" filter="url(#blur05)"/><ellipse cx="42.8" cy="536.8" rx="9.6" ry="2.24" fill="#56a8c0" opacity="0.8" filter="url(#blur05)"/><ellipse cx="42.8" cy="536.8" rx="7.44" ry="1.74" fill="#6cc070" opacity="0.9" filter="url(#blur05)"/><ellipse cx="42.8" cy="536.8" rx="5.04" ry="1.18" fill="#c4da50" opacity="0.95" filter="url(#blur05)"/><ellipse cx="42.8" cy="536.8" rx="2.4" ry="0.56" fill="#f0a838" opacity="1" filter="url(#blur05)"/><ellipse cx="42.8" cy="536.8" rx="0.84" ry="0.2" fill="#e8642c" opacity="1" filter="url(#blur05)"/></g>
</g>
<line x1="53.9" y1="512.7" x2="53.9" y2="545.1" stroke="#444" stroke-width="0.9"/>
<line x1="33.5" y1="530.7" x2="65.8" y2="530.7" stroke="#444" stroke-width="0.9"/>
<rect x="33.5" y="512.7" width="32.3" height="32.4" fill="none" stroke="#111" stroke-width="0.8"/>
<text transform="translate(49.65 509.3) scale(0.93 1)" font-size="5.7" fill="#111" text-anchor="middle">αCD20</text>
<text transform="translate(34.7 517.3) scale(0.95 1)" font-size="4.3" fill="#555">2.9</text>
<text transform="translate(64.8 517.3) scale(0.95 1)" font-size="4.3" fill="#555" text-anchor="end">1.1</text>
<text transform="translate(34.7 543.9) scale(0.95 1)" font-size="4.3" fill="#555">94</text>
<text transform="translate(64.8 543.9) scale(0.95 1)" font-size="4.3" fill="#555" text-anchor="end">2.0</text>
<line x1="38.3" y1="545.1" x2="38.3" y2="546.6" stroke="#111" stroke-width="0.5"/>
<line x1="47.5" y1="545.1" x2="47.5" y2="546.6" stroke="#111" stroke-width="0.5"/>
<line x1="54.3" y1="545.1" x2="54.3" y2="546.6" stroke="#111" stroke-width="0.5"/>
<line x1="61.9" y1="545.1" x2="61.9" y2="546.6" stroke="#111" stroke-width="0.5"/>
<line x1="41.5" y1="545.1" x2="41.5" y2="546" stroke="#111" stroke-width="0.35"/>
<line x1="43.5" y1="545.1" x2="43.5" y2="546" stroke="#111" stroke-width="0.35"/>
<line x1="45.1" y1="545.1" x2="45.1" y2="546" stroke="#111" stroke-width="0.35"/>
<line x1="50.1" y1="545.1" x2="50.1" y2="546" stroke="#111" stroke-width="0.35"/>
<line x1="51.9" y1="545.1" x2="51.9" y2="546" stroke="#111" stroke-width="0.35"/>
<line x1="56.9" y1="545.1" x2="56.9" y2="546" stroke="#111" stroke-width="0.35"/>
<line x1="58.7" y1="545.1" x2="58.7" y2="546" stroke="#111" stroke-width="0.35"/>
<line x1="60.1" y1="545.1" x2="60.1" y2="546" stroke="#111" stroke-width="0.35"/>
<line x1="32" y1="516.3" x2="33.5" y2="516.3" stroke="#111" stroke-width="0.5"/>
<text transform="translate(31.1 518) scale(0.9 1)" font-size="4.8" fill="#555" text-anchor="end">10⁵</text>
<line x1="32" y1="526.1" x2="33.5" y2="526.1" stroke="#111" stroke-width="0.5"/>
<text transform="translate(31.1 527.8) scale(0.9 1)" font-size="4.8" fill="#555" text-anchor="end">10³</text>
<line x1="32" y1="537.7" x2="33.5" y2="537.7" stroke="#111" stroke-width="0.5"/>
<text transform="translate(31.1 539.4) scale(0.9 1)" font-size="4.8" fill="#555" text-anchor="end">0</text>
<text transform="translate(38.3 551.7) scale(0.8 1)" font-size="4.5" fill="#555" text-anchor="middle">0</text>
<text transform="translate(47.5 551.7) scale(0.8 1)" font-size="4.5" fill="#555" text-anchor="middle">10³</text>
<text transform="translate(54.3 551.7) scale(0.8 1)" font-size="4.5" fill="#555" text-anchor="middle">10⁴</text>
<text transform="translate(61.9 551.7) scale(0.8 1)" font-size="4.5" fill="#555" text-anchor="middle">10⁵</text>
<g clip-path="url(#fc3)">
<ellipse cx="85" cy="520.8" rx="4.5" ry="3.4" transform="rotate(0 85 520.8)" fill="#8f9fe0" opacity="0.4" filter="url(#blur1)"/>
<ellipse cx="84" cy="535" rx="12" ry="3.6" transform="rotate(-10 84 535)" fill="#8f9fe0" opacity="0.4" filter="url(#blur1)"/>
<path d="M81.72 521.89h0M82.71 515.73h0M84.84 517.01h0M87.26 517.86h0M81.51 518.78h0M82.05 524.37h0M87.07 522.56h0M85.15 516.98h0M82.13 519.57h0M80.48 522.32h0M81.33 519.15h0M80.24 515.65h0M86.14 524.46h0M84.63 518.46h0M74.26 521.45h0M88.38 521.77h0M87.34 524.84h0M88.06 519.85h0M87.79 523.02h0M78.47 519.95h0M78.87 520.72h0M86.08 518.22h0M76.6 524.38h0M85.36 524.83h0M79.23 523.76h0M91.47 526.22h0M83.24 521.7h0M83.45 523.6h0M87.74 521.23h0M79.11 522.93h0M82.31 522.64h0M84.95 525.22h0M88.1 519.83h0M85.26 525.59h0M82.07 522.13h0M88.29 524.27h0M85.87 517.57h0M79.46 521.64h0M85.39 527.62h0M80.9 523.96h0M86.77 516.65h0M81.05 521.43h0M82.22 520.6h0M85.69 518.9h0M85.68 519.35h0M82.04 522.4h0M81.94 521.75h0M89.76 521.07h0M83.47 522.91h0M82.68 523.82h0M79.38 522.61h0M82.16 518.92h0M90.37 518.79h0M90.32 522.71h0M89.23 518.46h0M88.32 524.79h0M83.58 520.66h0M92.84 521.46h0M82.48 519.36h0M85.61 521.86h0M84.64 525.48h0M82.82 522.23h0M89.25 518.39h0M87.74 525.76h0M79.12 518.15h0M80.26 516.2h0M85.63 516.17h0M85.8 524.78h0M78.19 520.18h0M77.1 523.03h0M81.35 520.31h0M84.2 522.42h0M82.75 521.04h0M82.03 521.3h0M79.78 521.17h0M77.04 519.73h0M90.9 521.21h0M79.46 521.67h0M80.5 516.71h0M81.35 522.92h0M85.38 520.75h0M80.66 518.2h0M88.86 521.64h0M80.57 515.51h0M79.07 527.44h0M79.86 520.8h0M84.76 520.59h0M83 517.43h0M80.22 525.39h0M81.28 523.2h0" stroke="#6f86d8" stroke-width="0.6" stroke-linecap="round" fill="none" opacity="0.55"/>
<path d="M73.14 533.07h0M86.83 537.52h0M77.14 536.02h0M87.7 531.49h0M88.34 530.95h0M79.43 533.94h0M66 533.63h0M78 529.03h0M82.02 536.59h0M82.17 538.3h0M76.88 529.54h0M95.86 535.36h0M91.62 531.19h0M90.63 534.88h0M89.54 534.09h0M93.44 531.79h0M78.25 528.98h0M93.12 531.49h0M77.7 530.8h0M81.88 529.68h0M82.97 531.87h0M81.14 530.74h0M85.26 532.43h0M85.8 534.85h0M87.38 526.56h0M81.25 531.29h0M90.42 528.64h0M80 533h0M82.65 537.37h0M81.9 537.28h0M74.74 527.84h0M93.53 535.48h0M88.41 534.42h0M88.39 529.87h0M91.64 532.19h0M91.9 534.3h0M71.18 529.62h0M92.89 533.53h0M82.23 534.82h0M82.02 532.15h0M85.72 534.49h0M95.62 534.16h0M98.16 540.13h0M97.02 537.61h0M85.91 534.47h0M84 531.51h0M84.53 531.82h0M96.48 535.82h0M81.87 527.49h0M84.63 532.58h0M77.4 530.14h0M69.25 535.93h0M84.54 542.78h0M84.78 533.5h0M95.11 534.46h0M86.17 532.74h0M80.76 539.1h0M92 539.83h0M82.55 534.1h0M78.83 537.29h0M75.25 535.92h0M92.67 538.8h0M78.42 537.7h0M80 531.43h0M75.74 537.93h0M96.54 531.98h0M79.68 532.85h0M102.55 537.41h0M81.2 527.9h0M80.29 538.04h0M98.07 533.09h0M80.16 532.27h0M71.8 537.09h0M77.4 537.61h0M73.05 529.68h0M87.02 531.4h0M90.47 534.03h0M76.78 536.11h0M90.89 527.5h0M97.78 535.69h0M90.32 527.68h0M79.96 532.81h0M92.54 529.04h0M78.81 527.1h0M83.31 535.18h0M73.2 531.99h0M88.57 539.39h0M89.65 532.97h0M76.75 530.82h0M80.35 534.5h0M84.65 539.67h0M87.01 530.36h0M95.81 537.23h0M85.71 531.55h0M71.9 530.52h0M91.38 531.27h0M75.76 534.66h0M86.71 536.06h0M89.59 538.79h0M79.12 537.33h0M78.09 536.36h0M86.25 534.83h0M91.77 533.94h0M92.79 536.98h0M85.95 532.07h0M79.73 532.21h0M83.58 533.92h0M105.87 536.17h0M90.38 531.07h0M80.03 532.92h0" stroke="#6f86d8" stroke-width="0.6" stroke-linecap="round" fill="none" opacity="0.55"/>
<g transform="rotate(-2 80 536.7)" opacity="1"><ellipse cx="80" cy="536.7" rx="12" ry="2.8" fill="#7f96dc" opacity="0.6" filter="url(#blur05)"/><ellipse cx="80" cy="536.7" rx="9.6" ry="2.24" fill="#56a8c0" opacity="0.8" filter="url(#blur05)"/><ellipse cx="80" cy="536.7" rx="7.44" ry="1.74" fill="#6cc070" opacity="0.9" filter="url(#blur05)"/><ellipse cx="80" cy="536.7" rx="5.04" ry="1.18" fill="#c4da50" opacity="0.95" filter="url(#blur05)"/><ellipse cx="80" cy="536.7" rx="2.4" ry="0.56" fill="#f0a838" opacity="1" filter="url(#blur05)"/><ellipse cx="80" cy="536.7" rx="0.84" ry="0.2" fill="#e8642c" opacity="1" filter="url(#blur05)"/></g>
</g>
<line x1="91.2" y1="512.7" x2="91.2" y2="545.1" stroke="#444" stroke-width="0.9"/>
<line x1="70.5" y1="530.7" x2="102.8" y2="530.7" stroke="#444" stroke-width="0.9"/>
<rect x="70.5" y="512.7" width="32.3" height="32.4" fill="none" stroke="#111" stroke-width="0.8"/>
<text transform="translate(86.65 509.3) scale(0.93 1)" font-size="5.7" fill="#111" text-anchor="middle">αCD20+αPD1</text>
<text transform="translate(71.7 517.3) scale(0.95 1)" font-size="4.3" fill="#555">1.5</text>
<text transform="translate(101.8 517.3) scale(0.95 1)" font-size="4.3" fill="#555" text-anchor="end">0.1</text>
<text transform="translate(71.7 543.9) scale(0.95 1)" font-size="4.3" fill="#555">98</text>
<text transform="translate(101.8 543.9) scale(0.95 1)" font-size="4.3" fill="#555" text-anchor="end">0.4</text>
<line x1="75.3" y1="545.1" x2="75.3" y2="546.6" stroke="#111" stroke-width="0.5"/>
<line x1="84.5" y1="545.1" x2="84.5" y2="546.6" stroke="#111" stroke-width="0.5"/>
<line x1="91.3" y1="545.1" x2="91.3" y2="546.6" stroke="#111" stroke-width="0.5"/>
<line x1="98.9" y1="545.1" x2="98.9" y2="546.6" stroke="#111" stroke-width="0.5"/>
<line x1="78.5" y1="545.1" x2="78.5" y2="546" stroke="#111" stroke-width="0.35"/>
<line x1="80.5" y1="545.1" x2="80.5" y2="546" stroke="#111" stroke-width="0.35"/>
<line x1="82.1" y1="545.1" x2="82.1" y2="546" stroke="#111" stroke-width="0.35"/>
<line x1="87.1" y1="545.1" x2="87.1" y2="546" stroke="#111" stroke-width="0.35"/>
<line x1="88.9" y1="545.1" x2="88.9" y2="546" stroke="#111" stroke-width="0.35"/>
<line x1="93.9" y1="545.1" x2="93.9" y2="546" stroke="#111" stroke-width="0.35"/>
<line x1="95.7" y1="545.1" x2="95.7" y2="546" stroke="#111" stroke-width="0.35"/>
<line x1="97.1" y1="545.1" x2="97.1" y2="546" stroke="#111" stroke-width="0.35"/>
<text transform="translate(75.3 551.7) scale(0.8 1)" font-size="4.5" fill="#555" text-anchor="middle">0</text>
<text transform="translate(84.5 551.7) scale(0.8 1)" font-size="4.5" fill="#555" text-anchor="middle">10³</text>
<text transform="translate(91.3 551.7) scale(0.8 1)" font-size="4.5" fill="#555" text-anchor="middle">10⁴</text>
<text transform="translate(98.9 551.7) scale(0.8 1)" font-size="4.5" fill="#555" text-anchor="middle">10⁵</text>
<text transform="translate(107 471.2) scale(0.93 1)" font-size="5.2" fill="#4fa54f">lymphoma</text>
<text transform="translate(107 475.6) scale(0.93 1)" font-size="5.2" fill="#4fa54f">cells</text>
<line x1="105.8" y1="472.4" x2="98.6" y2="478" stroke="#4fa54f" stroke-width="0.5"/>
<text transform="translate(107 494.2) scale(0.93 1)" font-size="5.2" fill="#111">normal</text>
<text transform="translate(107 498.8) scale(0.93 1)" font-size="5.2" fill="#111">B cells</text>
<line x1="104.8" y1="493.2" x2="99" y2="490.8" stroke="#111" stroke-width="0.5"/>
<line x1="17.8" y1="504" x2="17.8" y2="514.4" stroke="#111" stroke-width="0.7"/>
<path d="M15.6 504.6 L20 504.6 L17.8 499.6 Z" fill="#111"/>
<text transform="translate(20.3 521.8) rotate(-90) scale(0.81 1)" font-size="8" fill="#111" text-anchor="middle" stroke="#111" stroke-width="0.18">GFP</text>
<line x1="17.8" y1="529.4" x2="17.8" y2="544.4" stroke="#111" stroke-width="0.7"/>
<text transform="translate(15.4 556.6) scale(0.9 1)" font-size="5.8" fill="#111">spleen</text>
<line x1="32.3" y1="558.6" x2="45.6" y2="558.6" stroke="#111" stroke-width="0.7"/>
<text transform="translate(55 561.2) scale(0.86 1)" font-size="8" fill="#111" text-anchor="middle" stroke="#111" stroke-width="0.18">CD20</text>
<line x1="64.4" y1="558.6" x2="75.6" y2="558.6" stroke="#111" stroke-width="0.7"/>
<path d="M75 556.5 L75 560.7 L80 558.6 Z" fill="#111"/>
</g>
<g id="pj">
<text transform="translate(402.2 460.2) scale(0.9 1)" font-size="11.4" fill="#000">J</text>
<g transform="translate(411.8 463.6) scale(0.89)"><path d="M0.2 3.3 C0.6 2.3 1.4 1.7 2.2 1.5 C2.4 0.6 3.2 0.2 3.8 0.7 C4.3 0.4 4.9 0.6 5 1.3 C6.2 1 7.8 1.3 8.7 2.5 C9.5 3.4 9.4 4.5 8.8 5.2 L8.2 5.6 L6.8 5.6 L6.9 5.0 L5 5.0 L4.6 5.7 L3.4 5.7 L3.6 4.8 C2.6 4.6 2.2 4.3 1.6 4.1 C1 4 0.4 3.9 0.2 3.3 Z" fill="#8d8d8d"/><path d="M8.6 4.7 C10.4 3.7 13 4.2 12.7 5.2 C12.4 6.2 9.6 6.2 8 5.5" fill="none" stroke="#8d8d8d" stroke-width="0.45"/></g>
<text transform="translate(426.4 467.2) scale(0.95 1)" font-size="4.3" fill="#777">180 d</text>
<line x1="425.4" y1="470.1" x2="440.6" y2="470.1" stroke="#111" stroke-width="0.9" stroke-dasharray="1.8 1"/>
<rect x="440.6" y="466.4" width="18.8" height="5.4" fill="#111"/>
<text transform="translate(450 470.7) scale(0.95 1)" font-size="4.4" fill="#eee" text-anchor="middle">mAbs</text>
<rect x="459.4" y="466.4" width="29.3" height="5.4" fill="#5aa55a"/>
<text transform="translate(474 470.7) scale(0.95 1)" font-size="4.4" fill="#d9f0d9" text-anchor="middle">resting time</text>
<line x1="442.5" y1="457.6" x2="442.5" y2="463.5" stroke="#111" stroke-width="0.7"/>
<path d="M440.2 461.6 L444.8 461.6 L442.5 466.2 Z" fill="#111"/>
<line x1="446.8" y1="457.6" x2="446.8" y2="463.5" stroke="#111" stroke-width="0.7"/>
<path d="M444.5 461.6 L449.1 461.6 L446.8 466.2 Z" fill="#111"/>
<line x1="451.1" y1="457.6" x2="451.1" y2="463.5" stroke="#111" stroke-width="0.7"/>
<path d="M448.8 461.6 L453.4 461.6 L451.1 466.2 Z" fill="#111"/>
<line x1="455.4" y1="457.6" x2="455.4" y2="463.5" stroke="#111" stroke-width="0.7"/>
<path d="M453.1 461.6 L457.7 461.6 L455.4 466.2 Z" fill="#111"/>
<line x1="459.1" y1="476.4" x2="459.1" y2="474" stroke="#5aa55a" stroke-width="0.7"/>
<path d="M457.3 475.2 L460.9 475.2 L459.1 471.9 Z" fill="#5aa55a"/>
<line x1="473.7" y1="476.4" x2="473.7" y2="474" stroke="#5aa55a" stroke-width="0.7"/>
<path d="M471.9 475.2 L475.5 475.2 L473.7 471.9 Z" fill="#5aa55a"/>
<line x1="488.4" y1="476.4" x2="488.4" y2="474" stroke="#5aa55a" stroke-width="0.7"/>
<path d="M486.6 475.2 L490.2 475.2 L488.4 471.9 Z" fill="#5aa55a"/>
<text transform="translate(458.9 481) scale(0.95 1)" font-size="5.1" fill="#5aa55a" text-anchor="middle" opacity="0.7">0</text>
<text transform="translate(473.7 481) scale(0.95 1)" font-size="5.1" fill="#5aa55a" text-anchor="middle" opacity="0.7">4</text>
<text transform="translate(486.6 481) scale(0.95 1)" font-size="5.1" fill="#5aa55a" opacity="0.7">8 wks</text>
<line x1="431.9" y1="532.35" x2="431.9" y2="531.79" stroke="#222" stroke-width="0.6"/>
<line x1="430.9" y1="531.79" x2="432.9" y2="531.79" stroke="#222" stroke-width="0.6"/>
<rect x="429.8" y="532.35" width="4.2" height="2.45" fill="#c8c8c8" stroke="#2a2a2a" stroke-width="0.45"/>
<rect x="429.8" y="534.58" width="4.2" height="0.22" fill="#6db650" stroke="#2a2a2a" stroke-width="0.45"/>
<line x1="438.3" y1="514.84" x2="438.3" y2="508.71" stroke="#222" stroke-width="0.6"/>
<line x1="437.3" y1="508.71" x2="439.3" y2="508.71" stroke="#222" stroke-width="0.6"/>
<rect x="436" y="514.84" width="4.6" height="19.96" fill="#c8c8c8" stroke="#2a2a2a" stroke-width="0.45"/>
<rect x="436" y="522.65" width="4.6" height="12.15" fill="#6db650" stroke="#2a2a2a" stroke-width="0.45"/>
<text transform="translate(438.3 509.31)" font-size="6.2" fill="#222" text-anchor="middle">*</text>
<line x1="444.9" y1="500.57" x2="444.9" y2="486.3" stroke="#222" stroke-width="0.6"/>
<line x1="443.9" y1="486.3" x2="445.9" y2="486.3" stroke="#222" stroke-width="0.6"/>
<rect x="442.5" y="500.57" width="4.8" height="34.23" fill="#c8c8c8" stroke="#2a2a2a" stroke-width="0.45"/>
<rect x="442.5" y="526.21" width="4.8" height="8.59" fill="#6db650" stroke="#2a2a2a" stroke-width="0.45"/>
<text transform="translate(444.9 486.9)" font-size="6.2" fill="#222" text-anchor="middle">*</text>
<line x1="465.2" y1="513.17" x2="465.2" y2="497.11" stroke="#222" stroke-width="0.6"/>
<line x1="464.2" y1="497.11" x2="466.2" y2="497.11" stroke="#222" stroke-width="0.6"/>
<rect x="462.9" y="513.17" width="4.6" height="21.63" fill="#c8c8c8" stroke="#2a2a2a" stroke-width="0.45"/>
<rect x="462.9" y="533.91" width="4.6" height="0.89" fill="#6db650" stroke="#2a2a2a" stroke-width="0.45"/>
<text transform="translate(465.2 497.71)" font-size="6.2" fill="#222" text-anchor="middle">*</text>
<line x1="472.2" y1="498.67" x2="472.2" y2="493.88" stroke="#222" stroke-width="0.6"/>
<line x1="471.2" y1="493.88" x2="473.2" y2="493.88" stroke="#222" stroke-width="0.6"/>
<rect x="469.7" y="498.67" width="5" height="36.13" fill="#c8c8c8" stroke="#2a2a2a" stroke-width="0.45"/>
<rect x="469.7" y="533.46" width="5" height="1.34" fill="#6db650" stroke="#2a2a2a" stroke-width="0.45"/>
<text transform="translate(472.2 494.48)" font-size="6.2" fill="#222" text-anchor="middle">*</text>
<line x1="438.3" y1="522.65" x2="438.3" y2="518.07" stroke="#3d7f3d" stroke-width="0.5"/>
<line x1="444.9" y1="526.21" x2="444.9" y2="520.86" stroke="#3d7f3d" stroke-width="0.5"/>
<path d="M433.4 489.8 H431.7 V501.4" fill="none" stroke="#222" stroke-width="0.6"/>
<path d="M460.3 489.8 H458.6 V504.6" fill="none" stroke="#222" stroke-width="0.6"/>
<path d="M431.7 526.2 V512.7 H444.9 V526.2" fill="none" stroke="#5aa55a" stroke-width="0.6" stroke-dasharray="0.9 0.7" opacity="0.85"/>
<text transform="translate(434.2 515.4)" font-size="4.6" fill="#5aa55a" text-anchor="middle">*</text>
<line x1="423.6" y1="476.3" x2="423.6" y2="535.2" stroke="#111" stroke-width="0.8"/>
<line x1="420.8" y1="534.8" x2="479.6" y2="534.8" stroke="#111" stroke-width="0.8"/>
<line x1="420.8" y1="534.8" x2="423.6" y2="534.8" stroke="#111" stroke-width="0.7"/>
<text transform="translate(419.4 536.8) scale(0.9 1)" font-size="5.6" fill="#222" text-anchor="end">0</text>
<line x1="420.8" y1="523.65" x2="423.6" y2="523.65" stroke="#111" stroke-width="0.7"/>
<text transform="translate(419.4 525.65) scale(0.9 1)" font-size="5.6" fill="#222" text-anchor="end">10</text>
<line x1="420.8" y1="512.5" x2="423.6" y2="512.5" stroke="#111" stroke-width="0.7"/>
<text transform="translate(419.4 514.5) scale(0.9 1)" font-size="5.6" fill="#222" text-anchor="end">20</text>
<line x1="420.8" y1="501.35" x2="423.6" y2="501.35" stroke="#111" stroke-width="0.7"/>
<text transform="translate(419.4 503.35) scale(0.9 1)" font-size="5.6" fill="#222" text-anchor="end">30</text>
<line x1="420.8" y1="490.2" x2="423.6" y2="490.2" stroke="#111" stroke-width="0.7"/>
<text transform="translate(419.4 492.2) scale(0.9 1)" font-size="5.6" fill="#222" text-anchor="end">40</text>
<line x1="420.8" y1="479.05" x2="423.6" y2="479.05" stroke="#111" stroke-width="0.7"/>
<text transform="translate(419.4 481.05) scale(0.9 1)" font-size="5.6" fill="#222" text-anchor="end">50</text>
<text transform="translate(407.2 505.3) rotate(-90) scale(0.96 1)" font-size="7.6" fill="#111" text-anchor="middle" stroke="#111" stroke-width="0.18">% of splenocytes</text>
<text transform="translate(431.7 545.6) scale(0.95 1)" font-size="5.4" fill="#222" text-anchor="middle">0</text>
<text transform="translate(438.4 545.6) scale(0.95 1)" font-size="5.4" fill="#222" text-anchor="middle">4</text>
<text transform="translate(444.9 545.6) scale(0.95 1)" font-size="5.4" fill="#222" text-anchor="middle">8</text>
<text transform="translate(458.6 545.6) scale(0.95 1)" font-size="5.4" fill="#222" text-anchor="middle">0</text>
<text transform="translate(465.4 545.6) scale(0.95 1)" font-size="5.4" fill="#222" text-anchor="middle">4</text>
<text transform="translate(470.3 545.6) scale(0.93 1)" font-size="5.4" fill="#222">8 wks</text>
<line x1="428.5" y1="550.4" x2="448.7" y2="550.4" stroke="#111" stroke-width="0.7"/>
<line x1="456.7" y1="550.4" x2="476.9" y2="550.4" stroke="#111" stroke-width="0.7"/>
<text transform="translate(438.4 558.4) scale(0.93 1)" font-size="5.5" fill="#222" text-anchor="middle">αCD20</text>
<text transform="translate(466.2 558.4) scale(0.93 1)" font-size="5.5" fill="#222" text-anchor="middle">αCD20</text>
<text transform="translate(466.2 565.2) scale(0.93 1)" font-size="5.5" fill="#222" text-anchor="middle">+αPD1</text>
<rect x="480" y="506.6" width="4" height="3.5" fill="#c8c8c8" stroke="#333" stroke-width="0.5"/>
<text transform="translate(486.4 509.2) scale(0.93 1)" font-size="5.6" fill="#222">normal</text>
<text transform="translate(486.4 514.2) scale(0.93 1)" font-size="5.6" fill="#222">B cells</text>
<rect x="480" y="519.5" width="4" height="3.5" fill="#6db650" stroke="#333" stroke-width="0.5"/>
<text transform="translate(486.4 522.2) scale(0.93 1)" font-size="5.6" fill="#222">GFP+</text>
<text transform="translate(486.4 527.4) scale(0.93 1)" font-size="5.6" fill="#222">malignant</text>
<text transform="translate(486.4 532.6) scale(0.93 1)" font-size="5.6" fill="#222">cells</text>
</g>
<rect x="0" y="0" width="520" height="1.3" fill="#4a4a4a"/><rect x="0" y="0" width="1.7" height="575" fill="#4a4a4a"/><rect x="518.8" y="0" width="1.2" height="575" fill="#0a0a0a"/><rect x="0" y="573" width="520" height="2" fill="#3a3a3a"/>
</svg>
</body></html>
